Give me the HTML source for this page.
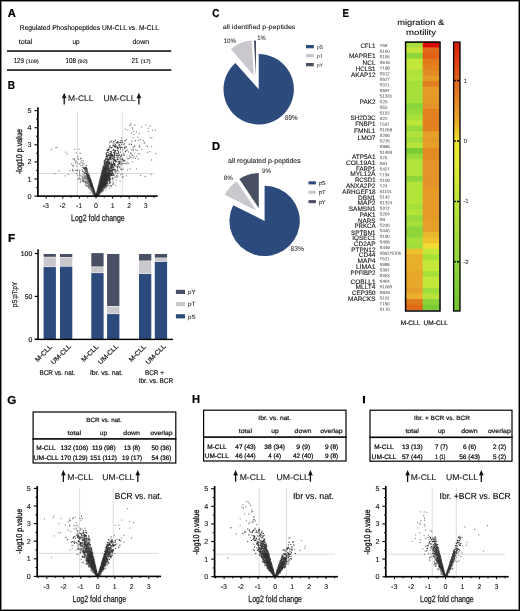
<!DOCTYPE html>
<html><head><meta charset="utf-8"><style>
html,body{margin:0;padding:0;background:#fff;}
body{width:520px;height:611px;overflow:hidden;}
svg{display:block;font-family:"Liberation Sans", sans-serif;will-change:transform;text-rendering:geometricPrecision;}
text{stroke-width:0.22px;}
</style></head><body>
<svg width="520" height="611" viewBox="0 0 520 611">
<rect width="520" height="611" fill="#fff"/>
<rect x="0.5" y="0.5" width="519" height="610" fill="none" stroke="#000" stroke-width="1"/>
<rect x="1.5" y="1.5" width="517" height="608" fill="none" stroke="#8a8a8a" stroke-width="1"/>
<text x="7.7" y="17.1" font-size="11.5" font-weight="bold" textLength="8.1" lengthAdjust="spacingAndGlyphs" fill="#000" stroke="#000">A</text>
<text x="19.8" y="30" font-size="7" textLength="139.2" lengthAdjust="spacingAndGlyphs" stroke="#111" style="stroke-width:0.1px">Regulated Phoshopeptides UM-CLL vs. M-CLL</text>
<text x="18.8" y="43.9" font-size="7" textLength="13.5" lengthAdjust="spacingAndGlyphs" stroke="#111" style="stroke-width:0.1px">total</text>
<text x="72.5" y="43.9" font-size="7" textLength="7.2" lengthAdjust="spacingAndGlyphs" stroke="#111" style="stroke-width:0.1px">up</text>
<text x="132.5" y="43.9" font-size="7" textLength="16.6" lengthAdjust="spacingAndGlyphs" stroke="#111" style="stroke-width:0.1px">down</text>
<rect x="7" y="50.2" width="164.3" height="1.7" fill="#222"/>
<text x="13.7" y="63.2" font-size="7.2" textLength="10.3" lengthAdjust="spacingAndGlyphs" stroke="#111" style="stroke-width:0.1px">129</text>
<text x="25.8" y="63.2" font-size="5" textLength="12.9" lengthAdjust="spacingAndGlyphs" stroke="#111" style="stroke-width:0.1px">(109)</text>
<text x="65.6" y="63.2" font-size="7.2" textLength="10.4" lengthAdjust="spacingAndGlyphs" stroke="#111" style="stroke-width:0.1px">108</text>
<text x="77.7" y="63.2" font-size="5" textLength="10" lengthAdjust="spacingAndGlyphs" stroke="#111" style="stroke-width:0.1px">(92)</text>
<text x="131.5" y="63.2" font-size="7.2" textLength="7" lengthAdjust="spacingAndGlyphs" stroke="#111" style="stroke-width:0.1px">21</text>
<text x="140.8" y="63.2" font-size="5" textLength="9.8" lengthAdjust="spacingAndGlyphs" stroke="#111" style="stroke-width:0.1px">(17)</text>
<rect x="7" y="69.2" width="164.3" height="1.7" fill="#222"/>
<text x="7.7" y="89.2" font-size="11.5" font-weight="bold" textLength="7.3" lengthAdjust="spacingAndGlyphs" fill="#000" stroke="#000">B</text>
<line x1="77.5" y1="111" x2="77.5" y2="196.1" stroke="#cfcfcf" stroke-width="0.7"/>
<line x1="122.3" y1="111" x2="122.3" y2="196.1" stroke="#cfcfcf" stroke-width="0.7"/>
<line x1="38.9" y1="173.5" x2="154.4" y2="173.5" stroke="#cfcfcf" stroke-width="0.7"/>
<path d="M108.1 174.8h0M98.7 191.4h0M98.8 191.7h0M102.5 177.5h0M99.6 186.8h0M97.6 194.5h0M97.3 195.2h0M104.0 179.8h0M99.6 186.6h0M97.8 193.2h0M102.0 189.2h0M99.7 192.3h0M101.4 184.3h0M99.5 186.0h0M107.3 175.9h0M98.6 194.6h0M105.8 185.2h0M99.8 191.2h0M102.3 191.5h0M110.5 185.4h0M127.3 162.1h0M97.7 191.8h0M147.5 152.2h0M118.9 142.0h0M99.0 190.6h0M125.2 148.1h0M115.5 166.4h0M99.7 188.4h0M141.8 149.6h0M100.8 192.4h0M104.8 181.6h0M102.6 186.1h0M106.9 186.2h0M121.9 159.6h0M117.8 176.8h0M99.0 191.4h0M104.5 168.3h0M98.2 194.1h0M106.2 170.6h0M106.2 181.0h0M99.0 190.7h0M119.8 167.4h0M101.3 182.5h0M115.0 177.1h0M97.2 193.2h0M99.8 192.5h0M117.3 153.7h0M100.6 188.0h0M104.2 181.5h0M101.0 190.6h0M103.7 180.4h0M118.8 171.6h0M116.6 142.6h0M103.3 186.7h0M101.7 190.3h0M105.6 185.3h0M121.7 160.8h0M112.1 170.1h0M103.0 177.0h0M100.8 189.0h0M105.9 189.8h0M116.1 171.9h0M96.5 194.9h0M100.0 189.1h0M102.8 186.0h0M99.1 188.1h0M111.2 185.7h0M127.6 150.2h0M108.0 165.4h0M100.3 192.2h0M105.2 174.8h0M104.1 175.4h0M97.7 194.7h0M97.8 194.9h0M97.9 192.9h0M97.5 194.5h0M118.5 164.0h0M96.9 194.8h0M102.5 189.2h0M106.2 177.2h0M105.5 176.4h0M110.6 164.9h0M104.6 177.9h0M98.2 192.3h0M100.7 184.0h0M100.0 186.6h0M107.8 180.9h0M105.4 182.1h0M121.3 137.9h0M139.8 153.6h0M97.3 193.4h0M98.0 193.7h0M105.5 186.9h0M103.0 186.5h0M98.5 187.8h0M99.6 191.0h0M110.4 176.3h0M100.2 192.5h0M107.7 181.0h0M101.6 184.5h0M107.0 186.5h0M99.6 190.3h0M129.1 143.9h0M100.0 185.1h0M99.1 189.4h0M103.1 180.5h0M113.1 174.9h0M111.0 178.8h0M110.6 165.0h0M105.9 167.4h0M149.8 151.7h0M104.3 188.5h0M97.2 193.0h0M96.5 195.5h0M107.1 186.6h0M102.6 184.0h0M100.3 185.5h0M113.5 175.1h0M98.4 189.8h0M100.7 193.0h0M108.1 163.9h0M105.5 185.7h0M113.2 179.7h0M100.3 189.6h0M109.4 176.4h0M101.8 190.0h0M100.3 187.7h0M104.1 172.6h0M115.6 185.6h0M98.0 194.3h0M98.3 193.8h0M101.6 179.6h0M100.0 189.4h0M107.0 184.4h0M98.1 193.5h0M104.6 176.2h0M97.9 193.8h0M105.4 168.8h0M103.8 172.7h0M114.9 154.0h0M102.5 185.6h0M111.4 159.1h0M113.4 164.8h0M114.9 177.2h0M121.1 168.9h0M101.0 190.2h0M97.9 194.8h0M101.3 181.4h0M113.3 182.1h0M98.6 192.9h0M100.5 188.0h0M102.4 182.7h0M106.0 183.3h0M102.1 188.8h0M101.4 188.9h0M108.8 179.7h0M103.3 179.0h0M106.0 183.4h0M100.1 191.6h0M101.3 187.5h0M101.5 179.1h0M115.4 172.1h0M118.2 147.3h0M99.1 190.8h0M101.6 189.4h0M103.3 174.9h0M98.1 192.2h0M127.9 158.9h0M101.6 190.9h0M101.5 188.9h0M113.5 155.2h0M106.8 182.6h0M103.7 176.1h0M105.0 182.1h0M99.0 191.8h0M98.6 192.5h0M106.2 179.7h0M97.7 194.1h0M100.1 189.6h0M109.4 166.8h0M114.5 165.8h0M111.2 164.6h0M134.1 156.7h0M123.5 169.2h0M112.1 171.2h0M98.8 193.1h0M103.3 183.4h0M97.9 194.7h0M97.5 193.3h0M117.4 159.5h0M123.5 153.3h0M123.3 176.5h0M106.6 175.9h0M99.3 194.2h0M114.8 169.5h0M97.7 194.8h0M104.3 178.6h0M104.8 185.0h0M108.2 178.7h0M98.1 194.5h0M105.4 175.6h0M126.9 163.7h0M99.1 191.5h0M98.8 191.8h0M120.8 169.5h0M102.6 188.7h0M108.5 180.7h0M138.5 140.4h0M102.6 190.8h0M98.0 194.0h0M97.4 195.2h0M100.3 186.6h0M104.6 179.9h0M112.9 181.8h0M112.8 179.7h0M101.0 185.8h0M101.9 182.2h0M105.9 180.3h0M109.7 177.9h0M100.8 188.0h0M115.3 160.1h0M106.1 183.1h0M102.2 187.4h0M109.7 183.5h0M106.2 177.8h0M122.0 169.1h0M107.1 184.6h0M102.9 182.7h0M97.0 195.0h0M99.7 191.7h0M99.4 190.2h0M103.1 191.1h0M105.9 173.4h0M135.4 158.4h0M106.5 182.4h0M104.5 186.3h0M98.8 191.4h0M122.5 159.4h0M113.9 174.7h0M99.0 188.5h0M97.4 194.2h0M119.9 166.5h0M105.0 184.0h0M97.7 192.1h0M109.5 160.1h0M97.4 193.3h0M100.7 189.7h0M98.8 187.5h0M97.4 194.5h0M99.2 192.8h0M100.4 187.4h0M98.4 192.2h0M98.0 191.2h0M98.7 187.7h0M140.3 139.5h0M99.5 192.4h0M96.8 194.7h0M112.0 164.7h0M98.8 193.4h0M96.6 195.4h0M99.4 188.0h0M105.4 183.0h0M111.8 156.0h0M106.3 178.3h0M106.0 182.5h0M128.8 163.4h0M108.0 162.7h0M100.5 191.8h0M118.1 173.5h0M101.0 190.0h0M103.8 189.3h0M102.6 182.9h0M113.1 183.6h0M136.7 168.8h0M98.0 193.3h0M101.4 189.5h0M122.3 161.3h0M99.1 192.4h0M100.2 189.1h0M139.8 147.5h0M101.3 184.3h0M111.5 186.6h0M96.6 195.0h0M99.1 192.2h0M99.1 192.2h0M97.6 192.7h0M113.6 175.1h0M100.7 187.4h0M104.7 173.1h0M103.2 188.0h0M111.8 165.2h0M120.4 174.8h0M98.0 193.3h0M100.5 193.0h0M118.7 159.5h0M123.2 163.5h0M99.4 190.2h0M124.5 163.6h0M97.3 193.4h0M112.2 177.7h0M120.4 151.8h0M102.5 181.7h0M109.0 174.3h0M151.6 160.0h0M108.3 159.3h0M99.1 193.0h0M97.0 194.3h0M98.9 191.9h0M117.5 175.8h0M97.9 193.3h0M99.4 190.9h0M109.7 172.8h0M101.5 189.6h0M99.4 193.3h0M110.7 170.4h0M109.0 172.4h0M122.7 149.9h0M101.5 185.1h0M112.8 170.0h0M108.6 180.7h0M125.0 161.6h0M103.2 178.7h0M102.3 186.6h0M100.7 190.1h0M100.3 191.1h0M97.7 192.0h0M98.3 195.1h0M146.7 145.9h0M108.0 181.7h0M133.0 147.0h0M99.0 192.2h0M120.0 167.8h0M96.8 194.6h0M104.6 182.9h0M106.7 185.3h0M111.2 161.0h0M109.0 176.8h0M99.1 188.0h0M109.6 178.1h0M109.1 172.4h0M101.2 190.8h0M102.0 178.9h0M110.8 171.2h0M99.2 193.8h0M129.4 144.6h0M101.3 180.9h0M109.3 162.3h0M102.9 182.5h0M99.3 192.3h0M99.6 194.5h0M98.5 193.0h0M107.2 160.9h0M104.2 171.0h0M117.4 147.3h0M106.9 183.4h0M97.5 194.9h0M97.0 194.3h0M101.5 186.4h0M99.8 193.1h0M106.0 179.2h0M100.8 191.2h0M98.4 194.1h0M151.8 138.0h0M97.0 193.5h0M100.2 187.2h0M119.3 167.2h0M97.5 193.4h0M98.4 192.3h0M110.4 185.8h0M107.4 182.5h0M109.5 176.4h0M119.8 166.8h0M109.5 182.7h0M100.2 191.4h0M109.7 187.9h0M101.0 185.7h0M110.6 181.9h0M103.8 180.8h0M107.1 168.0h0M106.4 187.0h0M102.9 180.8h0M97.0 193.3h0M107.0 181.4h0M102.1 182.3h0M107.3 181.1h0M138.2 154.0h0M96.5 195.0h0M98.5 192.3h0M98.1 193.1h0M100.5 189.9h0M127.4 169.9h0M106.1 179.7h0M112.1 165.3h0M97.7 191.8h0M99.5 192.7h0M102.6 185.4h0M107.3 180.9h0M106.1 181.5h0M107.4 185.4h0M109.8 163.6h0M101.9 190.0h0M102.1 188.4h0M117.2 161.6h0M112.7 184.7h0M99.5 187.7h0M116.9 153.1h0M111.0 173.7h0M99.0 194.1h0M106.0 185.1h0M98.7 192.5h0M98.0 194.0h0M96.9 195.4h0M108.2 175.9h0M104.3 179.5h0M112.3 165.0h0M109.9 180.2h0M100.0 187.8h0M116.7 160.8h0M113.6 142.0h0M105.1 166.1h0M101.5 183.9h0M102.7 187.5h0M110.2 182.7h0M105.5 185.7h0M101.4 187.3h0M96.4 195.2h0M103.5 190.0h0M98.5 192.3h0M105.3 185.9h0M98.0 193.2h0M108.6 178.3h0M114.6 163.9h0M97.9 194.8h0M98.7 191.4h0M101.3 184.6h0M96.8 194.9h0M125.7 146.3h0M96.8 195.3h0M133.1 158.0h0M108.8 170.4h0M98.6 187.9h0M126.7 175.8h0M121.3 169.8h0M101.1 181.0h0M98.7 191.7h0M130.9 153.7h0M105.1 178.8h0M101.4 181.2h0M106.4 175.8h0M99.0 192.9h0M96.7 194.1h0M117.4 173.6h0M101.7 190.3h0M101.7 188.0h0M103.5 186.1h0M100.6 189.3h0M103.9 181.7h0M103.7 186.5h0M101.6 187.5h0M115.4 173.2h0M105.7 180.2h0M98.4 191.8h0M97.9 193.1h0M105.0 167.6h0M109.3 171.2h0M100.2 191.1h0M147.7 146.4h0M110.0 164.2h0M98.3 191.5h0M97.1 193.6h0M99.4 190.1h0M100.2 183.9h0M104.8 173.9h0M109.5 158.3h0M143.3 140.5h0M100.2 192.0h0M103.4 174.7h0M103.1 181.5h0M113.2 161.5h0M105.2 175.6h0M144.3 143.6h0M97.1 195.1h0M100.9 186.5h0M108.4 176.0h0M106.3 181.1h0M106.4 167.8h0M98.6 193.0h0M97.6 194.7h0M108.2 175.9h0M107.7 180.0h0M105.8 176.4h0M101.7 190.6h0M104.9 180.6h0M107.6 183.7h0M122.0 173.4h0M102.3 184.9h0M102.8 183.4h0M99.2 187.0h0M99.0 192.3h0M123.9 159.6h0M106.0 165.7h0M100.1 183.7h0M98.3 194.7h0M98.5 192.5h0M107.1 175.7h0M103.7 189.0h0M99.5 188.0h0M102.6 184.5h0M97.9 194.2h0M103.7 189.3h0M97.0 195.1h0M97.3 195.1h0M103.1 176.1h0M120.6 156.6h0M100.0 192.0h0M99.2 191.4h0M102.9 185.0h0M100.0 191.4h0M129.4 144.5h0M99.6 190.0h0M131.9 155.1h0M117.6 169.1h0M114.4 174.8h0M99.3 190.0h0M104.8 180.8h0M120.1 181.1h0M136.8 156.2h0M112.7 172.7h0M107.6 179.1h0M106.6 174.5h0M129.9 169.0h0M103.3 189.4h0M105.5 171.7h0M98.7 193.2h0M98.5 192.4h0M108.9 174.4h0M97.9 194.6h0M111.1 153.1h0M99.8 188.4h0M102.5 190.4h0M101.1 192.5h0M106.0 187.8h0M112.6 173.4h0M110.6 171.2h0M98.4 194.5h0M99.5 189.8h0M103.4 174.9h0M102.3 177.3h0M108.9 185.5h0M111.1 175.7h0M105.0 180.4h0M109.7 180.3h0M100.5 192.1h0M97.7 191.8h0M108.7 171.6h0M105.4 174.5h0M100.4 191.3h0M98.5 193.5h0M98.4 193.3h0M98.0 192.8h0M118.0 148.9h0M101.7 181.5h0M97.8 191.2h0M117.5 141.7h0M118.7 145.2h0M101.5 185.2h0M107.0 181.2h0M97.8 195.3h0M102.0 186.4h0M98.9 191.7h0M102.3 177.1h0M99.4 193.4h0M112.7 169.5h0M97.1 194.8h0M114.4 164.8h0M122.2 174.0h0M107.2 178.3h0M108.5 176.4h0M97.9 194.6h0M103.4 186.6h0M100.8 190.2h0M99.6 192.6h0M120.0 158.1h0M118.7 154.9h0M97.5 193.2h0M111.9 175.4h0M98.6 188.6h0M110.3 174.3h0M99.5 187.3h0M115.3 164.1h0M103.7 185.2h0M104.6 187.6h0M110.5 167.7h0M107.7 177.4h0M120.3 152.6h0M105.9 184.4h0M103.1 180.7h0M101.4 185.9h0M108.2 183.7h0M101.1 191.6h0M103.4 175.8h0M99.7 192.3h0M151.6 146.7h0M97.5 195.1h0M104.1 177.3h0M138.2 159.0h0M99.1 191.6h0M98.6 191.5h0M102.1 183.1h0M101.3 190.4h0M100.0 190.9h0M100.2 190.9h0M99.4 188.2h0M98.0 190.0h0M103.8 182.7h0M102.3 187.0h0M99.6 192.5h0M101.9 185.1h0M102.5 187.2h0M113.6 184.0h0M104.1 186.6h0M99.3 190.1h0M97.6 194.0h0M101.2 192.3h0M102.8 185.2h0M101.0 189.9h0M98.2 192.5h0M100.2 191.9h0M104.7 184.9h0M155.7 153.4h0M97.1 193.1h0M96.5 195.2h0M101.9 191.8h0M100.5 191.5h0M116.6 175.7h0M132.3 161.8h0M101.3 182.6h0M106.0 178.4h0M103.1 189.7h0M116.2 171.4h0M125.4 140.7h0M97.8 190.9h0M99.8 189.9h0M100.9 188.2h0M97.2 193.8h0M98.6 193.3h0M99.0 192.0h0M105.6 186.0h0M97.2 193.5h0M106.4 169.0h0M102.2 189.2h0M99.4 187.0h0M97.5 195.4h0M105.8 186.0h0M122.2 177.4h0M120.8 159.4h0M98.5 193.4h0M97.6 194.4h0M108.3 179.3h0M106.0 178.9h0M104.0 186.9h0M96.8 195.4h0M103.0 180.7h0M107.5 183.7h0M97.1 194.8h0M104.5 187.8h0M105.0 179.6h0M97.1 194.1h0M96.5 194.3h0M104.9 187.7h0M102.1 191.2h0M130.9 152.6h0M104.4 169.1h0M103.5 188.1h0M102.9 186.1h0M116.2 180.1h0M113.9 143.4h0M117.7 153.4h0M152.5 130.4h0M144.3 142.2h0M116.7 157.2h0M126.1 150.2h0M129.3 158.5h0M133.3 131.4h0M118.3 157.3h0M131.1 149.6h0M155.4 130.0h0M113.6 163.0h0M137.1 150.3h0M134.9 146.6h0M141.6 127.1h0M133.1 150.5h0M150.0 137.3h0M132.7 155.3h0M139.7 145.2h0M137.8 137.2h0M129.5 125.6h0M123.7 154.9h0M132.1 127.6h0M127.8 129.8h0M125.4 151.7h0M139.4 133.3h0M150.2 126.0h0M127.7 150.1h0M135.8 149.9h0M118.2 153.9h0M118.1 156.5h0M148.3 128.2h0M121.4 156.5h0M130.6 157.4h0M125.8 163.7h0M134.7 153.1h0M120.3 164.6h0M124.3 140.8h0M131.1 156.8h0M134.7 125.0h0M128.4 152.0h0M118.8 153.9h0M131.0 124.9h0M133.0 137.7h0M139.1 146.0h0M148.4 131.6h0M121.8 165.0h0M125.3 129.1h0M126.7 157.3h0M145.8 124.8h0M130.7 123.7h0M129.6 155.8h0M132.6 129.0h0M131.8 141.0h0M136.4 132.0h0M130.6 153.2h0M133.8 134.3h0M131.4 133.3h0M123.3 144.4h0M93.6 191.1h0M93.3 191.6h0M88.9 187.6h0M94.0 191.9h0M84.9 170.2h0M82.3 167.6h0M94.4 195.0h0M95.4 195.0h0M93.6 193.2h0M80.9 161.9h0M95.5 195.3h0M91.2 188.8h0M94.3 195.0h0M79.0 149.2h0M92.7 191.0h0M94.3 192.1h0M69.9 170.7h0M93.1 190.4h0M95.2 194.7h0M85.9 177.0h0M91.9 188.2h0M91.4 189.0h0M83.5 180.7h0M88.8 182.0h0M89.4 183.2h0M93.1 194.1h0M88.4 185.2h0M89.1 183.4h0M92.6 193.2h0M82.4 171.5h0M89.1 185.5h0M87.6 177.8h0M94.0 193.4h0M77.9 156.4h0M92.9 188.2h0M92.8 190.4h0M93.7 193.7h0M89.7 187.6h0M86.3 178.9h0M73.6 166.0h0M92.0 188.7h0M80.9 161.9h0M94.5 195.4h0M95.2 195.5h0M80.3 180.9h0M93.5 191.8h0M90.7 185.0h0M88.9 188.0h0M89.1 184.4h0M92.2 187.9h0M90.0 185.3h0M90.8 187.9h0M95.3 194.6h0M88.4 186.8h0M80.3 159.1h0M89.6 182.8h0M91.9 188.3h0M94.6 193.1h0M94.3 192.9h0M91.4 189.7h0M90.3 186.5h0M92.4 188.5h0M92.5 192.3h0M76.3 170.7h0M87.1 186.2h0M93.3 191.3h0M74.3 158.7h0M91.1 189.6h0M82.4 163.0h0M92.2 191.8h0M84.5 179.8h0M88.5 182.1h0M93.0 188.8h0M95.2 194.1h0M85.9 177.2h0M93.3 192.6h0M85.0 181.1h0M89.7 185.9h0M86.0 178.8h0M94.9 194.6h0M82.5 165.3h0M89.0 181.8h0M91.5 189.2h0M87.2 183.1h0M88.6 184.5h0M92.5 191.0h0M87.6 181.8h0M77.2 170.0h0M75.2 170.2h0M92.3 192.2h0M89.3 186.5h0M92.2 192.5h0M93.4 192.6h0M89.6 181.0h0M87.2 177.9h0M72.6 165.5h0M94.1 195.0h0M88.4 182.3h0M93.6 192.8h0M95.2 194.9h0M93.6 191.2h0M86.0 176.7h0M72.6 169.4h0M93.0 191.7h0M92.2 189.9h0M85.0 177.0h0M87.3 173.7h0M91.1 185.2h0M93.2 189.9h0M90.6 188.4h0M82.4 177.7h0M91.3 186.7h0M78.9 178.4h0M92.6 192.5h0M93.0 192.5h0M94.5 193.9h0M92.5 192.3h0M87.6 183.9h0M84.2 176.1h0M88.9 187.3h0M93.7 193.2h0M90.2 189.0h0M94.8 194.7h0M95.4 195.1h0M91.7 188.7h0M95.1 194.3h0M90.8 189.1h0M94.5 194.4h0M94.8 195.1h0M93.3 190.7h0M80.0 175.8h0M95.0 195.3h0M92.2 190.3h0M94.5 194.6h0M91.7 190.3h0M87.7 183.7h0M83.3 180.0h0M73.2 171.2h0M87.9 179.2h0M86.3 173.9h0M92.2 190.3h0M86.2 178.9h0M94.4 193.0h0M93.2 192.5h0M92.8 194.2h0M85.7 183.8h0M80.5 179.1h0M92.5 187.0h0M95.0 195.0h0M86.5 174.6h0M93.7 194.9h0M83.7 177.9h0M94.4 193.7h0M94.1 192.7h0M92.3 191.1h0M90.2 180.5h0M91.3 185.9h0M91.5 189.8h0M86.0 181.0h0M86.0 181.7h0M95.7 195.5h0M79.9 178.5h0M83.3 160.9h0M88.7 183.6h0M95.1 194.4h0M91.0 186.8h0M87.1 178.1h0M79.4 172.1h0M84.0 163.9h0M76.6 166.2h0M93.9 195.0h0M94.9 194.8h0M85.6 178.5h0M87.2 185.9h0M91.1 187.3h0M92.0 189.4h0M86.9 178.8h0M83.0 178.2h0M94.1 193.1h0M91.4 187.4h0M80.1 153.5h0M92.9 192.2h0M94.6 195.3h0M89.0 179.7h0M89.4 182.2h0M90.9 189.7h0M92.1 188.5h0M91.3 185.1h0M93.0 192.4h0M92.7 189.8h0M92.5 191.5h0M94.4 194.1h0M87.7 181.3h0M76.0 162.7h0M85.3 184.2h0M85.3 182.8h0M93.2 188.8h0M82.8 180.7h0M80.2 153.2h0M91.3 185.9h0M94.8 195.2h0M93.4 193.5h0M79.8 174.7h0M88.1 177.1h0M91.0 185.9h0M92.3 190.8h0M95.1 194.6h0M94.8 194.6h0M80.7 158.1h0M89.9 188.2h0M94.5 193.6h0M93.5 193.6h0M80.0 163.7h0M94.2 193.8h0M79.7 170.3h0M89.9 184.3h0M92.0 189.2h0M90.5 185.9h0M95.4 195.2h0M77.4 163.1h0M86.8 173.2h0M93.3 192.3h0M91.2 185.9h0M93.2 192.9h0M93.9 193.0h0M93.0 192.8h0M90.0 186.3h0M86.0 182.9h0M89.3 179.5h0M94.5 194.2h0M90.4 186.2h0M94.9 194.2h0M84.1 175.4h0M87.5 179.6h0M75.6 161.8h0M92.5 191.3h0M95.2 195.4h0M94.1 193.6h0M94.4 195.4h0M92.4 190.2h0M90.1 192.8h0M92.9 191.4h0M93.6 193.0h0M89.9 181.9h0M94.6 193.8h0M95.2 194.4h0M93.3 189.4h0M94.3 194.9h0M93.9 191.0h0M93.1 189.6h0M94.8 194.2h0M94.3 195.3h0M88.9 185.5h0M91.2 187.8h0M85.3 175.9h0M90.8 185.6h0M92.3 191.4h0M94.1 193.7h0M90.9 189.6h0M94.1 193.9h0M92.8 193.4h0M90.1 184.8h0M90.8 187.6h0M85.7 181.6h0M92.0 189.0h0M90.8 186.7h0M91.1 185.6h0M91.8 190.5h0M87.7 182.8h0M83.3 171.3h0M92.6 190.6h0M65.8 152.2h0M95.0 194.8h0M93.5 192.5h0M94.5 193.3h0M94.3 195.0h0M84.3 176.5h0M93.8 194.3h0M92.7 193.2h0M92.5 190.8h0M91.7 184.4h0M93.6 191.4h0M92.3 188.2h0M94.0 194.5h0M89.4 184.9h0M88.6 187.6h0M93.5 191.3h0M88.1 175.3h0M84.4 175.8h0M86.2 177.5h0M93.3 192.9h0M91.8 191.3h0M85.6 172.8h0M77.7 175.6h0M79.4 170.7h0M93.8 194.9h0M90.5 186.6h0M94.1 195.3h0M82.3 176.3h0M94.3 193.4h0M92.4 188.1h0M86.5 177.1h0M84.4 168.9h0M85.3 177.2h0M91.7 187.3h0M82.3 181.6h0M87.1 181.3h0M92.8 188.7h0M92.9 191.6h0M90.8 186.0h0M67.2 154.0h0M90.8 187.1h0M93.0 191.7h0M90.8 189.1h0M90.1 185.6h0M89.0 184.9h0M90.7 188.7h0M94.7 195.2h0M91.3 191.0h0M92.8 191.2h0M87.5 183.1h0M94.9 194.8h0M89.5 179.9h0M93.9 194.0h0M84.7 181.5h0M88.9 186.4h0M93.2 190.9h0M92.5 190.0h0M76.1 160.9h0M90.7 184.0h0M93.7 192.4h0M90.6 187.9h0M76.2 152.8h0M90.5 189.9h0M95.1 195.4h0M88.3 178.0h0M82.8 177.4h0M93.2 191.0h0M79.2 164.0h0M92.4 191.8h0M90.9 187.0h0M88.0 185.5h0M73.0 158.9h0M86.7 185.6h0M93.8 193.2h0M89.2 179.7h0M85.5 182.1h0M89.4 187.7h0M90.9 182.7h0M94.3 194.6h0M87.4 181.6h0M91.5 190.7h0M51.5 149.5h0M92.9 189.7h0M91.4 186.8h0M83.6 181.9h0M94.7 195.4h0M89.6 184.5h0M88.1 179.0h0M92.6 189.7h0M93.7 190.5h0M94.2 194.3h0M88.7 188.2h0M89.4 184.0h0M91.9 189.6h0M90.9 187.7h0M79.5 173.1h0M95.1 194.6h0M77.6 170.6h0M90.6 187.8h0M86.3 168.7h0M81.9 160.6h0M90.5 181.1h0M92.9 189.1h0M90.2 182.5h0M94.6 194.1h0M90.0 186.4h0M91.6 189.0h0M93.8 192.2h0M89.6 183.9h0M94.2 192.8h0M81.3 158.3h0M93.6 192.3h0M89.8 184.1h0M90.9 183.5h0M91.3 183.4h0M91.5 189.3h0M89.0 182.6h0M90.6 190.1h0M88.8 185.5h0M93.4 191.1h0M89.6 187.7h0M93.8 192.7h0M88.4 184.3h0M94.2 194.9h0M91.7 190.3h0M87.8 186.3h0M90.3 182.2h0M89.2 182.6h0M90.7 183.5h0M91.7 188.2h0M93.5 192.5h0M89.8 186.5h0M89.4 184.1h0M94.2 192.4h0M57.0 147.3h0M91.1 189.2h0M92.6 191.7h0M88.4 183.8h0M88.4 177.1h0M94.0 191.6h0M91.2 189.6h0M93.4 191.3h0M92.9 192.6h0M91.8 188.8h0M78.5 159.4h0M80.4 182.4h0M88.6 179.9h0M82.7 167.3h0M90.0 185.7h0M91.7 185.8h0M90.8 187.2h0M85.9 183.9h0M82.4 170.0h0M82.3 180.0h0M87.8 175.1h0M87.4 183.2h0M91.5 189.7h0M93.6 191.5h0M90.4 184.2h0M90.7 185.5h0M95.1 195.3h0M94.3 194.4h0M94.0 193.5h0M93.4 193.1h0M74.4 160.0h0M91.1 184.4h0M94.1 191.7h0M95.1 194.9h0M91.3 186.3h0M92.8 190.1h0M93.3 192.2h0M94.9 194.5h0M87.0 179.8h0M91.4 187.3h0M79.7 175.9h0M86.9 179.7h0M83.3 174.2h0M80.9 165.4h0M93.4 191.2h0M88.7 182.2h0M94.7 194.2h0M95.0 193.9h0M91.4 189.9h0M89.9 186.4h0M76.3 173.6h0M72.5 170.2h0M89.6 183.7h0M91.6 189.3h0M87.7 181.5h0M94.2 193.2h0M91.0 188.1h0M89.1 185.3h0M89.5 188.1h0M91.5 185.6h0M94.7 194.0h0M84.1 178.7h0M93.1 193.1h0M85.6 185.9h0M78.3 179.4h0M79.1 177.8h0M94.1 194.0h0M89.8 183.9h0M84.8 178.4h0M71.5 163.8h0M93.6 193.6h0M87.4 176.1h0M88.4 182.6h0M95.7 195.5h0M85.9 183.2h0M93.8 191.4h0M95.3 195.1h0M84.7 173.8h0M92.8 192.7h0M90.4 183.1h0M87.9 178.7h0M92.6 190.8h0M94.0 192.9h0M85.3 172.1h0M94.6 194.4h0M83.3 164.1h0M94.2 194.4h0M94.1 193.1h0M77.2 158.3h0M84.7 176.5h0M90.4 187.4h0M92.0 186.2h0M82.0 179.1h0M86.3 182.3h0M86.3 175.6h0M93.0 193.0h0M92.4 190.1h0M91.9 191.6h0M92.7 188.8h0M91.5 191.2h0M92.9 189.0h0M90.7 189.2h0M94.1 192.9h0M91.0 187.5h0M94.9 195.4h0M74.8 149.4h0M94.8 193.5h0M93.3 191.1h0M68.4 174.3h0M92.2 191.7h0M88.3 180.5h0M81.8 175.9h0M86.3 182.0h0M91.1 188.6h0M90.1 184.9h0M91.2 186.4h0M83.6 181.5h0M94.5 195.5h0M54.9 173.6h0M55.9 147.6h0M59.1 171.0h0M65.1 175.8h0M140.6 175.5h0M151.2 174.3h0M145.1 176.4h0" stroke="#555" stroke-width="1.3" stroke-linecap="round" stroke-opacity="0.75" fill="none"/>
<path d="M98.6 191.1h0M96.5 195.1h0M96.2 195.3h0M98.4 188.8h0M98.2 189.0h0M98.6 192.9h0M104.7 185.1h0M96.4 195.5h0M97.0 194.1h0M104.3 174.4h0M102.0 183.0h0M96.4 195.3h0M102.2 181.5h0M100.8 184.8h0M102.1 175.8h0M103.8 185.1h0M103.4 179.3h0M97.2 194.5h0M96.6 194.0h0M100.1 182.0h0M106.4 169.4h0M101.5 184.5h0M107.4 172.6h0M104.2 182.1h0M104.9 182.7h0M98.4 191.8h0M97.2 194.5h0M96.8 194.3h0M108.2 169.8h0M102.1 185.9h0M103.4 170.5h0M100.4 190.4h0M96.9 194.0h0M97.9 192.7h0M97.9 192.2h0M100.8 190.2h0M104.4 181.1h0M106.4 181.6h0M106.6 176.7h0M98.1 189.7h0M100.1 183.2h0M97.3 193.1h0M96.3 195.4h0M96.4 194.7h0M105.0 169.5h0M97.6 192.4h0M98.0 194.4h0M98.7 188.1h0M96.7 194.7h0M101.9 173.5h0M110.0 157.4h0M101.2 186.1h0M119.4 146.9h0M97.4 192.2h0M108.0 177.1h0M98.2 191.0h0M122.7 142.3h0M101.6 174.2h0M98.6 186.7h0M103.3 181.0h0M124.8 160.6h0M97.8 190.3h0M97.4 193.3h0M107.4 166.5h0M99.7 182.5h0M104.3 182.2h0M102.7 178.3h0M105.3 176.1h0M115.4 150.4h0M105.8 158.5h0M97.5 194.4h0M107.0 175.0h0M114.0 145.7h0M98.7 185.9h0M114.5 150.7h0M119.4 161.3h0M102.4 173.7h0M97.6 191.7h0M97.4 192.2h0M108.3 165.2h0M101.1 184.9h0M112.7 164.1h0M100.6 186.6h0M97.7 193.5h0M97.5 193.7h0M100.1 185.7h0M98.8 185.7h0M98.7 185.6h0M106.1 177.1h0M104.4 177.8h0M102.2 183.9h0M103.8 181.0h0M100.9 187.8h0M106.9 169.3h0M103.1 185.6h0M97.0 194.2h0M96.4 195.1h0M101.5 181.9h0M97.1 193.9h0M97.9 194.1h0M97.6 192.9h0M101.8 187.5h0M97.3 193.8h0M97.9 190.8h0M104.7 179.7h0M99.3 188.7h0M100.0 183.6h0M117.4 142.2h0M96.4 194.7h0M101.0 176.7h0M100.5 189.1h0M98.7 192.3h0M99.0 185.3h0M96.6 195.3h0M96.7 195.1h0M109.4 175.4h0M96.6 195.2h0M100.2 190.8h0M98.0 192.1h0M97.3 192.6h0M96.5 195.4h0M97.4 191.4h0M99.2 187.2h0M102.4 179.2h0M98.8 187.8h0M106.7 174.2h0M106.6 173.0h0M102.7 181.2h0M103.8 173.2h0M97.9 189.4h0M97.3 194.3h0M97.2 192.3h0M107.5 172.5h0M97.3 191.9h0M99.2 188.2h0M99.5 192.2h0M99.4 185.9h0M97.2 191.3h0M99.2 189.9h0M96.7 193.2h0M97.9 192.2h0M97.8 192.7h0M104.2 178.3h0M106.8 169.0h0M120.8 142.5h0M104.9 182.9h0M110.6 167.6h0M105.2 174.7h0M100.5 187.1h0M111.1 173.6h0M100.5 181.4h0M96.9 194.7h0M102.4 183.4h0M101.6 187.5h0M105.2 178.4h0M104.2 182.3h0M97.6 192.4h0M102.2 179.3h0M118.0 148.4h0M99.8 187.7h0M99.7 183.8h0M97.0 194.1h0M97.3 191.4h0M96.7 195.3h0M101.1 181.0h0M100.6 186.8h0M96.7 194.5h0M109.4 147.1h0M100.7 188.2h0M98.2 188.4h0M107.9 158.8h0M97.7 194.1h0M97.0 194.3h0M104.1 168.2h0M104.3 166.9h0M97.9 191.5h0M97.2 191.2h0M101.4 178.3h0M108.4 162.6h0M98.0 191.7h0M100.7 184.7h0M97.4 192.0h0M104.9 173.0h0M97.4 192.4h0M98.3 193.4h0M106.3 168.4h0M112.1 164.7h0M105.8 179.8h0M98.3 188.4h0M99.4 191.8h0M96.8 194.4h0M98.2 191.6h0M97.6 192.2h0M99.7 185.6h0M97.5 193.8h0M99.6 187.3h0M98.7 188.4h0M96.5 194.9h0M97.3 192.6h0M102.9 168.1h0M99.2 189.2h0M98.3 190.8h0M115.1 152.1h0M100.5 183.4h0M97.3 192.0h0M101.2 188.5h0M103.7 169.6h0M103.2 180.2h0M101.3 184.8h0M111.4 162.6h0M106.9 150.1h0M97.3 193.9h0M107.1 159.7h0M105.7 177.5h0M107.7 163.7h0M96.9 194.3h0M100.7 180.7h0M100.3 186.6h0M96.9 192.9h0M99.9 191.5h0M102.0 182.8h0M97.7 192.7h0M100.0 180.5h0M99.4 187.3h0M98.5 192.3h0M97.5 192.8h0M98.3 189.1h0M101.5 175.6h0M97.3 193.2h0M101.8 174.1h0M104.0 177.8h0M98.8 187.3h0M100.3 189.2h0M96.9 194.1h0M109.2 149.2h0M96.9 195.3h0M106.0 168.5h0M106.7 161.7h0M104.3 160.9h0M101.8 182.1h0M97.3 190.9h0M99.1 191.9h0M96.7 194.4h0M98.9 190.4h0M99.6 188.8h0M98.3 190.1h0M97.7 190.3h0M99.1 189.3h0M104.7 163.7h0M106.0 166.8h0M111.1 155.5h0M101.2 179.9h0M99.7 183.2h0M98.9 192.7h0M110.6 156.6h0M101.6 188.9h0M97.4 193.5h0M102.6 173.9h0M97.9 191.0h0M103.3 176.5h0M100.3 178.2h0M134.3 145.8h0M97.4 192.2h0M99.0 187.2h0M98.0 192.7h0M100.1 181.7h0M104.2 182.1h0M98.1 191.6h0M101.2 178.9h0M98.4 192.5h0M100.1 185.0h0M99.2 187.0h0M100.6 182.5h0M100.1 187.8h0M109.3 164.6h0M97.6 194.5h0M101.0 184.9h0M106.5 170.3h0M102.5 176.8h0M100.3 184.5h0M98.1 190.2h0M98.2 192.3h0M97.3 193.2h0M100.8 181.6h0M97.3 193.2h0M96.6 195.3h0M99.2 185.9h0M97.0 193.8h0M98.6 191.8h0M98.2 191.3h0M102.0 189.2h0M98.6 190.3h0M98.2 193.2h0M98.7 189.0h0M106.2 168.6h0M111.9 165.2h0M98.2 190.2h0M99.3 191.8h0M97.0 194.6h0M108.1 152.4h0M114.3 159.3h0M96.5 195.4h0M112.9 166.0h0M96.8 193.9h0M99.7 189.5h0M97.1 193.5h0M99.1 186.7h0M97.8 192.5h0M102.5 184.4h0M98.6 191.4h0M98.9 189.0h0M100.2 188.7h0M98.9 187.5h0M103.3 176.7h0M98.8 187.9h0M99.4 188.9h0M101.2 186.9h0M96.9 195.0h0M100.7 186.9h0M98.2 190.0h0M111.3 171.2h0M106.9 174.5h0M102.6 187.4h0M97.6 193.8h0M96.9 195.2h0M97.0 193.9h0M105.1 174.4h0M105.3 163.7h0M98.4 187.1h0M98.0 193.5h0M101.2 181.5h0M105.1 176.4h0M103.4 183.1h0M103.1 185.7h0M96.8 194.7h0M98.1 189.7h0M101.8 185.1h0M99.5 188.6h0M96.4 195.5h0M103.1 183.0h0M99.3 182.1h0M101.3 188.8h0M97.0 194.3h0M96.7 194.7h0M100.2 184.9h0M100.5 183.6h0M104.6 160.7h0M97.2 194.8h0M103.6 176.6h0M98.4 190.6h0M105.2 160.6h0M111.4 166.1h0M97.7 189.4h0M106.2 176.7h0M108.2 159.8h0M102.8 184.1h0M103.2 174.6h0M99.4 191.5h0M100.7 176.5h0M102.1 172.2h0M102.9 178.7h0M96.4 194.7h0M97.7 190.9h0M102.9 172.2h0M102.6 185.8h0M99.0 186.6h0M111.0 153.1h0M106.6 178.6h0M98.2 191.0h0M98.0 192.6h0M105.3 181.0h0M99.9 188.0h0M110.7 171.1h0M99.4 185.3h0M104.9 183.6h0M96.7 194.1h0M106.5 162.2h0M101.1 183.2h0M96.5 195.2h0M106.3 174.3h0M97.1 195.2h0M109.4 159.1h0M97.2 194.6h0M107.7 174.7h0M99.4 183.3h0M96.5 194.8h0M97.4 191.2h0M97.7 192.3h0M99.7 190.2h0M100.2 187.1h0M104.8 177.1h0M99.9 186.2h0M96.5 194.9h0M120.6 147.2h0M98.6 187.4h0M100.8 187.3h0M97.7 192.2h0M97.4 193.0h0M96.5 194.6h0M103.8 176.2h0M101.1 183.4h0M98.1 189.7h0M107.0 168.0h0M98.0 192.2h0M98.4 190.0h0M101.0 188.2h0M102.8 178.2h0M99.0 191.0h0M99.5 182.2h0M98.5 188.7h0M97.4 194.4h0M97.3 192.6h0M101.0 180.5h0M96.8 193.9h0M99.5 186.6h0M97.7 193.4h0M96.5 194.7h0M100.1 189.9h0M102.4 179.2h0M100.8 183.1h0M99.0 189.8h0M103.0 176.0h0M100.6 183.3h0M102.8 184.2h0M111.7 165.5h0M102.9 178.4h0M105.0 179.7h0M103.3 180.7h0M101.7 182.9h0M101.7 183.4h0M102.5 176.5h0M97.9 192.4h0M102.8 183.6h0M109.1 162.0h0M104.7 176.8h0M120.4 149.0h0M97.5 193.9h0M100.7 186.7h0M99.3 186.1h0M101.2 183.0h0M98.7 189.3h0M104.4 181.3h0M96.8 194.4h0M96.5 195.4h0M101.5 180.7h0M97.6 192.8h0M99.6 186.5h0M97.8 189.7h0M103.2 176.9h0M99.2 188.0h0M114.8 153.5h0M103.8 174.2h0M97.6 191.6h0M108.3 173.1h0M97.6 192.1h0M97.7 189.0h0M100.6 179.7h0M98.2 191.5h0M100.8 183.1h0M105.6 162.2h0M109.2 173.5h0M97.2 194.2h0M99.3 182.4h0M97.1 194.1h0M99.4 190.6h0M106.2 176.0h0M100.1 184.1h0M106.4 167.3h0M97.3 193.3h0M108.1 178.7h0M98.8 185.7h0M96.6 194.2h0M99.5 188.0h0M102.2 187.3h0M101.4 185.5h0M100.9 190.1h0M96.8 195.1h0M115.8 161.7h0M102.7 186.9h0M98.2 190.8h0M101.3 187.8h0M97.5 193.1h0M99.6 185.7h0M106.6 173.5h0M99.6 192.0h0M100.2 182.5h0M98.0 191.2h0M99.3 183.2h0M103.7 179.7h0M96.2 195.4h0M97.6 193.4h0M101.6 182.3h0M102.1 184.0h0M104.3 180.8h0M97.4 193.0h0M102.6 177.7h0M103.7 182.4h0M104.0 176.3h0M98.0 191.5h0M100.8 188.9h0M96.2 195.4h0M97.0 194.5h0M104.7 163.9h0M100.8 189.8h0M119.9 145.4h0M96.6 194.7h0M96.5 194.0h0M106.5 181.3h0M96.5 194.9h0M100.5 179.1h0M103.1 177.0h0M104.9 179.3h0M108.2 180.3h0M98.4 192.3h0M105.1 174.3h0M104.4 179.3h0M99.9 187.6h0M102.3 185.1h0M96.9 194.1h0M101.6 182.8h0M99.0 189.8h0M104.2 176.4h0M96.6 195.3h0M105.2 173.6h0M115.2 147.5h0M99.5 191.4h0M98.6 190.0h0M105.0 167.1h0M101.5 184.8h0M106.5 170.2h0M105.2 171.7h0M105.2 164.7h0M99.1 185.8h0M103.0 178.3h0M100.5 184.1h0M97.3 193.1h0M102.7 176.0h0M101.6 175.0h0M103.3 185.0h0M101.2 186.6h0M97.0 193.4h0M103.0 180.6h0M98.4 189.5h0M97.2 194.7h0M97.1 193.9h0M98.8 186.7h0M109.8 170.3h0M97.4 192.2h0M107.1 158.5h0M106.1 153.7h0M96.9 193.2h0M96.7 195.4h0M101.9 188.2h0M96.6 195.2h0M96.7 194.5h0M103.1 185.4h0M102.4 181.9h0M98.3 193.9h0M97.4 192.9h0M100.0 190.5h0M110.7 172.8h0M107.0 180.2h0M96.8 195.4h0M107.8 160.1h0M98.9 184.6h0M97.4 191.1h0M98.9 187.7h0M96.5 194.1h0M100.2 179.9h0M108.0 162.4h0M104.7 170.3h0M101.5 188.5h0M106.0 172.4h0M98.2 190.8h0M100.4 183.4h0M96.6 195.4h0M96.9 194.1h0M98.5 189.3h0M103.3 172.6h0M100.5 187.4h0M96.5 194.5h0M105.2 167.2h0M98.5 187.8h0M98.8 193.2h0M109.1 162.9h0M113.2 167.0h0M97.2 191.6h0M102.5 175.0h0M98.1 193.5h0M97.2 192.9h0M97.2 193.6h0M97.0 193.3h0M101.1 184.1h0M97.8 193.1h0M104.0 174.7h0M96.6 195.2h0M106.6 179.7h0M99.1 190.9h0M102.5 187.4h0M99.2 187.8h0M97.2 193.5h0M97.4 193.8h0M101.0 186.8h0M104.2 174.4h0M104.6 180.2h0M97.1 195.3h0M100.6 187.3h0M104.4 186.2h0M97.0 192.9h0M97.0 192.4h0M96.6 194.8h0M98.7 186.6h0M102.6 170.0h0M96.9 194.4h0M97.9 191.9h0M97.5 194.2h0M97.4 194.1h0M97.8 193.8h0M100.2 189.8h0M102.9 186.5h0M102.4 176.9h0M100.7 190.9h0M108.8 175.2h0M108.2 172.0h0M112.1 155.5h0M98.9 189.1h0M100.6 186.4h0M99.3 187.1h0M111.3 151.3h0M101.9 183.2h0M111.6 168.4h0M97.5 192.1h0M101.4 186.1h0M97.8 192.4h0M107.1 157.5h0M102.5 182.7h0M112.7 156.0h0M99.0 188.0h0M96.8 194.4h0M98.1 189.4h0M97.0 194.9h0M102.7 184.0h0M97.2 193.2h0M100.6 185.9h0M97.4 191.3h0M100.6 186.9h0M97.8 192.6h0M97.9 191.8h0M101.4 177.1h0M104.2 169.8h0M99.9 189.8h0M97.3 194.6h0M102.3 178.9h0M98.5 190.5h0M105.0 171.8h0M100.9 178.9h0M99.1 187.8h0M114.2 164.5h0M100.8 187.3h0M99.0 189.2h0M101.3 184.1h0M98.4 188.2h0M99.0 189.7h0M98.3 191.1h0M99.4 187.2h0M98.3 191.5h0M104.0 184.9h0M98.9 191.1h0M108.7 155.2h0M105.5 165.1h0M104.1 185.4h0M116.1 177.1h0M101.5 186.8h0M99.1 189.8h0M99.3 190.6h0M100.2 186.5h0M99.5 189.5h0M109.5 168.9h0M102.6 188.7h0M99.6 190.7h0M98.0 193.7h0M103.8 173.7h0M107.9 167.3h0M106.0 168.0h0M98.3 191.7h0M97.4 193.4h0M104.9 184.2h0M102.1 183.1h0M103.6 176.2h0M99.7 184.8h0M99.7 187.3h0M109.8 182.8h0M99.7 185.1h0M96.7 193.9h0M96.9 194.7h0M108.7 173.9h0M96.6 195.3h0M97.7 191.1h0M96.7 193.7h0M108.8 166.1h0M98.3 188.4h0M117.6 167.7h0M98.9 188.7h0M99.2 191.3h0M99.8 191.5h0M99.6 187.3h0M97.9 189.8h0M98.3 191.4h0M101.0 175.9h0M99.5 190.4h0M97.6 191.7h0M100.2 186.3h0M96.9 195.2h0M97.5 190.6h0M97.1 191.8h0M100.5 182.1h0M102.2 180.4h0M105.7 173.0h0M102.7 172.9h0M97.8 190.5h0M112.4 155.3h0M98.8 187.1h0M96.8 194.3h0M108.6 166.6h0M97.4 192.5h0M107.7 169.7h0M99.4 186.1h0M98.8 189.9h0M97.6 191.3h0M97.1 193.6h0M102.8 182.2h0M98.5 190.3h0M96.5 195.2h0M96.7 194.4h0M100.1 189.5h0M104.7 168.6h0M98.5 191.9h0M101.5 182.1h0M100.2 182.3h0M106.7 172.0h0M98.1 193.5h0M100.3 179.1h0M97.4 191.5h0M97.7 191.3h0M109.5 172.6h0M98.3 192.3h0M99.7 190.6h0M100.9 176.9h0M103.2 171.4h0M98.4 192.5h0M98.0 193.1h0M96.7 194.9h0M101.9 178.4h0M96.7 194.9h0M109.1 162.0h0M105.6 173.4h0M96.6 195.4h0M99.2 186.9h0M106.9 177.7h0M101.7 175.1h0M115.2 151.4h0M97.7 192.4h0M98.3 189.3h0M97.1 194.2h0M97.3 192.6h0M99.4 188.5h0M97.6 191.5h0M101.3 185.5h0M98.7 185.9h0M102.5 182.0h0M101.5 177.5h0M97.6 191.7h0M96.4 195.3h0M101.3 180.6h0M98.3 191.1h0M96.6 193.7h0M106.1 178.3h0M113.0 145.8h0M99.3 187.5h0M103.6 186.1h0M104.7 182.8h0M99.4 182.5h0M97.3 194.2h0M102.7 172.6h0M103.6 183.1h0M97.4 193.7h0M101.4 178.7h0M103.6 173.7h0M101.9 185.8h0M97.9 192.6h0M101.4 183.4h0M110.9 165.9h0M99.3 187.2h0M102.3 184.9h0M98.2 193.8h0M96.7 194.9h0M96.7 193.4h0M107.9 172.5h0M98.6 189.0h0M100.0 186.8h0M99.9 188.7h0M106.2 166.0h0M99.4 188.6h0M97.3 193.3h0M101.9 188.2h0M117.2 170.4h0M99.4 183.7h0M101.7 181.6h0M101.4 185.2h0M100.3 182.7h0M106.6 168.4h0M100.8 181.5h0M102.5 182.2h0M99.7 189.2h0M98.4 189.6h0M105.7 167.8h0M102.1 170.7h0M98.7 186.4h0M99.3 185.7h0M96.9 194.6h0M96.4 195.0h0M99.5 188.7h0M100.0 180.0h0M106.0 179.7h0M100.0 189.7h0M98.9 185.5h0M103.6 176.9h0M99.3 190.1h0M97.6 193.0h0M99.7 189.0h0M115.1 169.7h0M107.6 169.9h0M97.9 190.7h0M105.1 173.7h0M106.2 179.0h0M98.9 185.9h0M106.7 162.8h0M98.0 193.3h0M99.1 184.9h0M96.6 194.6h0M99.8 185.7h0M99.8 190.0h0M100.4 186.2h0M113.0 158.0h0M97.5 194.0h0M103.8 175.4h0M103.6 174.2h0M100.5 187.8h0M99.3 189.7h0M96.5 195.1h0M104.5 167.3h0M97.2 193.7h0M100.6 185.1h0M97.5 192.0h0M98.1 192.2h0M107.9 155.8h0M99.8 185.6h0M105.0 177.0h0M98.4 190.3h0M111.0 169.7h0M97.8 191.5h0M99.7 187.0h0M99.2 185.8h0M99.7 190.8h0M99.1 187.7h0M97.2 192.7h0M99.2 188.5h0M97.1 193.7h0M97.7 191.4h0M115.0 160.6h0M100.2 184.9h0M101.1 185.0h0M108.8 177.0h0M96.7 195.2h0M97.0 192.0h0M97.1 193.8h0M97.3 192.9h0M101.7 184.3h0M97.7 193.3h0M103.4 184.3h0M104.2 169.4h0M98.0 193.4h0M101.0 183.0h0M97.7 191.0h0M98.4 189.4h0M96.3 195.3h0M101.0 183.5h0M99.2 184.4h0M126.2 139.9h0M100.8 179.6h0M97.5 193.9h0M96.7 194.9h0M101.0 186.2h0M101.7 182.4h0M100.9 178.8h0M101.2 177.6h0M105.3 177.1h0M99.4 191.9h0M96.9 194.3h0M100.0 182.4h0M96.9 192.8h0M99.4 187.2h0M107.7 160.1h0M97.4 193.6h0M97.5 193.8h0M97.8 192.5h0M102.5 183.1h0M100.3 188.2h0M96.5 194.6h0M104.5 182.8h0M96.5 195.3h0M113.6 163.8h0M97.0 192.8h0M98.1 188.8h0M102.7 177.8h0M97.2 193.0h0M105.3 170.6h0M101.9 178.2h0M99.8 190.9h0M97.2 193.8h0M101.4 188.4h0M97.4 193.1h0M102.6 176.7h0M107.0 170.5h0M102.1 179.0h0M102.2 181.4h0M107.4 163.9h0M116.0 146.2h0M101.3 176.0h0M98.7 187.1h0M97.5 194.7h0M97.7 191.2h0M99.6 187.5h0M96.9 193.6h0M102.0 178.9h0M100.2 190.5h0M98.9 190.6h0M103.3 168.6h0M96.7 193.6h0M98.7 185.7h0M102.3 181.2h0M101.7 185.9h0M103.8 169.5h0M100.3 191.2h0M98.8 189.8h0M96.5 194.1h0M100.8 184.1h0M100.5 184.0h0M98.0 193.3h0M101.9 176.4h0M102.3 180.9h0M101.7 185.9h0M104.5 186.9h0M98.1 192.7h0M98.1 190.0h0M101.1 186.5h0M98.5 191.1h0M97.4 192.9h0M114.5 165.4h0M99.8 186.6h0M97.1 194.1h0M102.3 186.6h0M98.1 192.6h0M100.5 188.2h0M104.1 167.3h0M99.3 189.9h0M96.8 194.4h0M97.2 194.7h0M99.1 186.7h0M99.8 189.6h0M101.0 188.4h0M104.4 177.9h0M98.4 190.2h0M98.4 190.2h0M96.8 195.3h0M97.5 192.0h0M108.0 173.1h0M104.0 171.0h0M104.3 175.9h0M101.1 180.1h0M100.5 182.7h0M100.7 189.9h0M97.7 193.4h0M98.3 190.1h0M96.6 195.2h0M103.0 186.5h0M105.9 178.0h0M101.5 188.1h0M101.0 189.2h0M99.8 188.7h0M105.8 173.8h0M99.9 189.5h0M99.5 185.7h0M96.5 194.5h0M102.9 174.3h0M101.5 178.1h0M100.7 181.4h0M96.6 195.4h0M103.5 184.9h0M105.8 169.7h0M104.7 186.7h0M97.3 192.0h0M97.9 192.3h0M98.8 186.9h0M98.8 191.4h0M102.2 171.2h0M96.4 195.4h0M100.4 188.1h0M97.9 190.3h0M105.8 163.8h0M98.3 191.3h0M99.6 185.4h0M103.2 175.7h0M105.5 175.3h0M120.1 161.1h0M96.6 195.3h0M96.3 195.5h0M102.0 184.5h0M99.7 185.5h0M100.9 181.7h0M97.1 193.1h0M104.5 164.0h0M97.3 194.8h0M98.5 189.2h0M104.8 165.8h0M96.3 195.4h0M102.7 172.9h0M100.4 184.9h0M97.0 194.0h0M107.7 172.5h0M110.1 145.9h0M98.3 190.0h0M100.8 186.0h0M105.4 179.4h0M96.6 194.5h0M121.9 163.2h0M99.1 186.5h0M109.7 178.3h0M96.9 194.8h0M99.9 184.4h0M97.3 194.2h0M104.1 172.2h0M99.2 190.7h0M96.6 195.4h0M97.1 192.5h0M101.3 176.2h0M101.2 185.6h0M105.1 176.2h0M102.2 182.8h0M99.0 190.5h0M97.8 193.8h0M99.1 190.9h0M98.6 187.7h0M108.1 169.0h0M100.5 186.3h0M97.2 193.8h0M98.1 190.2h0M97.2 193.2h0M115.0 169.8h0M107.4 176.0h0M97.0 192.8h0M97.9 192.2h0M100.1 186.7h0M96.5 195.0h0M100.1 184.5h0M96.6 195.3h0M124.6 143.9h0M101.1 181.0h0M112.0 174.8h0M98.7 189.4h0M101.1 179.1h0M98.0 190.7h0M98.5 192.9h0M106.2 176.0h0M107.1 176.7h0M100.8 183.1h0M102.3 172.1h0M101.2 179.9h0M114.4 152.8h0M97.6 194.2h0M104.1 165.9h0M105.4 175.3h0M104.1 173.7h0M98.4 191.5h0M122.4 158.7h0M101.4 176.2h0M97.4 192.7h0M98.6 192.6h0M100.6 181.3h0M102.9 176.5h0M108.8 159.6h0M97.1 194.9h0M99.5 190.8h0M106.2 175.9h0M99.3 189.1h0M97.8 190.9h0M105.1 172.2h0M96.8 194.9h0M99.9 188.6h0M96.5 194.5h0M103.1 173.9h0M110.0 155.5h0M113.8 167.8h0M101.2 189.7h0M99.5 187.0h0M105.1 173.3h0M98.5 188.3h0M98.9 190.5h0M107.7 170.7h0M113.4 162.2h0M96.7 195.1h0M114.8 155.5h0M101.9 183.3h0M102.9 181.6h0M97.8 190.3h0M104.6 173.0h0M98.5 188.5h0M100.0 179.4h0M99.7 191.1h0M108.4 167.6h0M101.1 185.1h0M102.4 178.5h0M102.1 177.7h0M100.0 189.1h0M103.3 175.1h0M110.1 153.8h0M98.0 191.9h0M102.8 173.7h0M97.4 194.2h0M96.8 193.8h0M98.1 191.3h0M101.2 189.9h0M97.9 193.4h0M97.3 193.3h0M96.7 194.6h0M98.6 189.9h0M97.5 193.2h0M108.0 172.8h0M98.7 191.3h0M100.7 188.0h0M101.1 178.2h0M109.5 164.1h0M99.9 183.3h0M98.4 190.5h0M98.0 192.5h0M102.4 178.1h0M104.3 175.0h0M103.5 182.8h0M100.4 181.0h0M105.1 159.9h0M98.3 189.7h0M97.4 193.5h0M101.1 186.7h0M96.6 194.3h0M100.7 189.3h0M102.4 182.0h0M99.9 185.2h0M102.2 176.2h0M99.8 181.8h0M112.2 166.8h0M108.0 174.0h0M97.1 194.3h0M99.1 183.9h0M100.0 184.2h0M96.9 193.0h0M105.4 181.6h0M97.6 190.4h0M101.7 172.7h0M100.7 183.4h0M96.5 195.3h0M110.0 175.0h0M96.9 194.6h0M98.4 190.8h0M97.1 192.9h0M104.3 172.6h0M98.8 187.1h0M100.0 183.3h0M99.6 189.5h0M99.3 192.8h0M105.2 175.2h0M122.1 141.1h0M97.2 194.3h0M103.0 180.3h0M97.2 193.4h0M97.1 193.3h0M99.1 188.7h0M97.2 193.3h0M105.6 180.6h0M117.5 158.1h0M102.3 179.8h0M99.5 183.3h0M98.4 193.8h0M97.8 191.4h0M99.6 190.5h0M98.6 188.3h0M97.0 194.0h0M105.9 165.0h0M103.0 174.0h0M100.2 185.5h0M98.8 192.4h0M109.8 180.2h0M98.2 188.7h0M102.6 174.7h0M100.1 190.0h0M102.0 176.3h0M105.1 167.9h0M99.4 191.1h0M99.0 187.6h0M97.7 192.5h0M96.6 194.7h0M97.6 193.2h0M100.2 183.1h0M96.3 195.2h0M100.5 187.9h0M100.6 180.1h0M101.5 181.0h0M105.3 165.4h0M97.4 192.6h0M98.7 189.7h0M99.1 183.2h0M96.9 194.8h0M106.7 161.9h0M116.0 161.9h0M97.1 192.2h0M109.8 178.0h0M102.8 180.2h0M96.8 193.8h0M109.0 176.3h0M108.3 174.0h0M99.2 184.5h0M96.4 195.4h0M100.0 189.6h0M100.1 188.2h0M97.1 193.1h0M117.3 148.0h0M97.0 194.8h0M106.2 171.9h0M97.3 191.5h0M103.6 184.1h0M103.2 181.0h0M100.2 188.3h0M103.8 182.7h0M108.8 175.7h0M105.5 179.9h0M112.5 171.8h0M97.3 193.6h0M100.0 180.4h0M97.7 190.6h0M100.3 188.6h0M105.9 161.6h0M100.9 178.2h0M98.8 189.3h0M107.7 168.2h0M102.5 177.2h0M102.9 175.8h0M104.5 173.7h0M101.0 190.2h0M97.4 193.8h0M100.6 186.2h0M111.2 164.7h0M96.6 194.9h0M108.6 165.7h0M102.1 180.0h0M99.2 188.7h0M100.4 178.5h0M98.3 192.3h0M97.7 193.1h0M103.1 182.9h0M99.8 184.4h0M96.3 195.3h0M97.9 190.3h0M101.2 187.4h0M97.2 192.0h0M96.7 194.7h0M105.0 181.1h0M96.7 194.8h0M111.3 173.2h0M98.1 192.8h0M99.4 181.9h0M97.0 193.4h0M103.5 182.3h0M96.9 193.5h0M121.5 144.1h0M98.8 185.3h0M116.6 153.8h0M96.8 194.2h0M98.0 190.3h0M97.3 192.4h0M97.8 190.0h0M97.1 193.3h0M98.6 190.3h0M110.8 170.0h0M101.6 172.9h0M99.4 188.7h0M101.4 180.2h0M98.8 187.7h0M98.3 188.7h0M100.6 190.4h0M100.1 185.7h0M107.9 178.6h0M108.9 154.0h0M110.9 159.2h0M97.0 193.7h0M97.1 195.0h0M98.1 188.2h0M98.5 188.4h0M100.4 182.2h0M116.2 142.9h0M99.0 186.2h0M99.8 184.2h0M108.6 175.2h0M110.8 171.1h0M97.2 193.5h0M107.3 166.4h0M97.1 193.4h0M115.0 160.1h0M102.7 187.8h0M100.9 187.4h0M97.2 193.0h0M99.3 188.3h0M98.2 191.1h0M102.5 181.9h0M96.5 193.8h0M99.3 184.1h0M99.0 185.5h0M98.9 192.6h0M97.2 194.0h0M99.4 184.9h0M97.7 192.7h0M101.3 188.4h0M105.1 182.2h0M98.0 192.1h0M96.3 195.4h0M113.7 152.4h0M101.1 186.4h0M100.8 182.5h0M97.8 192.5h0M111.3 175.4h0M98.2 193.4h0M100.6 185.3h0M97.3 192.3h0M98.7 186.6h0M103.5 178.8h0M99.5 181.8h0M99.7 187.8h0M103.2 182.7h0M101.5 176.3h0M108.4 155.5h0M111.6 154.3h0M104.1 179.1h0M102.7 177.4h0M96.8 193.0h0M97.0 194.2h0M97.1 195.1h0M101.5 185.1h0M98.9 188.7h0M99.8 190.2h0M106.6 172.9h0M102.0 180.4h0M101.6 177.5h0M109.6 174.0h0M105.8 169.4h0M97.0 192.0h0M96.6 193.7h0M97.4 192.7h0M115.4 140.2h0M108.7 161.1h0M98.3 190.9h0M98.9 189.2h0M96.4 195.4h0M97.0 194.9h0M97.8 192.2h0M98.1 190.7h0M106.3 162.2h0M97.0 194.0h0M101.2 179.9h0M106.4 175.3h0M97.5 193.4h0M101.1 176.0h0M101.0 182.1h0M97.0 193.4h0M99.4 183.2h0M100.3 189.0h0M98.4 191.7h0M100.6 183.9h0M97.8 191.3h0M97.2 193.9h0M104.8 173.6h0M102.5 175.8h0M104.9 179.7h0M96.7 194.9h0M97.7 194.0h0M98.3 188.2h0M100.1 187.0h0M106.3 179.9h0M96.8 194.7h0M98.5 187.6h0M97.4 192.9h0M100.5 180.1h0M101.8 188.5h0M101.6 183.7h0M99.3 183.1h0M113.2 145.2h0M99.2 188.1h0M96.8 195.2h0M99.4 188.7h0M96.4 194.8h0M97.3 191.7h0M96.6 194.7h0M99.1 186.4h0M97.0 193.7h0M98.1 190.8h0M113.0 150.4h0M107.3 178.8h0M100.5 187.9h0M98.7 191.7h0M101.9 179.1h0M119.5 155.4h0M97.5 190.8h0M99.0 188.0h0M103.5 171.4h0M101.7 178.6h0M99.6 189.1h0M102.9 185.1h0M104.8 184.1h0M99.0 191.0h0M97.8 192.1h0M97.9 190.5h0M97.6 192.8h0M103.2 183.1h0M98.5 192.5h0M100.7 179.4h0M97.6 192.4h0M106.3 172.6h0M98.0 190.8h0M108.7 172.3h0M97.3 194.2h0M100.1 181.6h0M108.6 169.9h0M98.2 190.8h0M103.6 169.9h0M97.6 192.4h0M96.8 195.2h0M97.4 193.3h0M104.9 175.3h0M101.9 183.3h0M103.8 166.6h0M104.9 169.5h0M100.5 184.7h0M101.8 187.6h0M100.4 182.1h0M99.5 190.3h0M96.5 194.4h0M102.8 184.6h0M99.6 188.9h0M102.6 174.1h0M97.4 192.9h0M99.1 192.9h0M100.0 188.8h0M106.2 162.0h0M97.5 191.0h0M101.9 185.9h0M98.9 194.1h0M99.1 185.5h0M114.9 165.2h0M111.5 170.1h0M97.6 193.1h0M117.1 166.7h0M100.8 186.9h0M97.5 194.1h0M98.8 189.0h0M98.2 192.0h0M98.1 188.0h0M98.2 190.8h0M97.2 192.6h0M98.0 193.6h0M97.9 193.2h0M102.2 178.4h0M98.7 192.0h0M96.4 195.4h0M97.0 194.9h0M102.0 181.6h0M101.8 183.0h0M100.7 177.4h0M97.4 193.8h0M97.7 191.5h0M96.6 195.0h0M99.4 187.1h0M99.8 188.7h0M110.4 158.9h0M99.8 184.6h0M97.2 195.1h0M98.8 189.5h0M98.1 190.5h0M97.2 194.0h0M99.9 190.5h0M98.8 189.5h0M100.9 185.7h0M110.4 157.9h0M104.1 171.6h0M104.4 181.6h0M99.7 185.9h0M97.3 194.5h0M101.4 187.3h0M100.3 190.6h0M101.8 183.0h0M99.8 189.8h0M97.8 192.2h0M99.0 190.3h0M98.4 192.0h0M96.6 193.9h0M97.9 193.3h0M96.6 194.1h0M97.6 192.2h0M112.0 165.2h0M118.7 163.4h0M99.2 188.8h0M103.9 171.0h0M102.8 169.6h0M111.0 147.8h0M97.1 194.4h0M100.4 183.3h0M97.6 193.5h0M125.7 151.3h0M98.9 188.8h0M99.5 192.7h0M100.9 180.4h0M97.4 194.0h0M96.5 195.3h0M103.8 185.1h0M100.5 184.3h0M117.2 159.3h0M99.6 185.5h0M97.5 189.9h0M102.5 175.3h0M104.4 181.9h0M101.6 189.4h0M109.3 162.2h0M98.5 190.0h0M103.4 175.9h0M102.4 181.2h0M97.4 192.2h0M106.5 171.1h0M119.4 163.2h0M104.9 178.0h0M101.6 185.2h0M98.4 189.0h0M103.5 176.9h0M96.9 194.6h0M100.7 179.5h0M102.3 182.7h0M101.5 179.7h0M99.0 191.9h0M113.6 159.3h0M100.6 185.2h0M99.3 188.3h0M109.4 157.7h0M104.4 178.4h0M96.4 195.4h0M104.3 178.8h0M98.0 190.0h0M102.9 171.6h0M100.9 188.1h0M105.6 179.3h0M97.8 193.5h0M96.9 194.5h0M99.3 190.8h0M98.5 187.9h0M106.9 164.8h0M103.7 183.9h0M104.8 183.3h0M101.3 188.6h0M104.7 175.1h0M98.4 192.7h0M111.0 154.2h0M102.9 181.3h0M97.2 193.7h0M98.6 187.4h0M99.1 185.7h0M97.1 193.8h0M110.9 154.9h0M101.2 184.9h0M98.7 185.9h0M97.3 193.2h0M105.9 183.4h0M105.5 181.3h0M104.9 183.2h0M102.5 181.9h0M97.9 191.5h0M108.2 149.8h0M99.6 185.8h0M97.1 194.5h0M109.5 181.3h0M99.5 181.6h0M96.9 195.5h0M97.3 191.3h0M99.6 189.2h0M104.7 173.8h0M96.9 193.6h0M106.5 161.6h0M101.5 186.8h0M97.9 189.4h0M103.9 173.3h0M100.6 178.5h0M99.8 190.3h0M100.1 183.6h0M103.4 179.5h0M103.2 166.6h0M97.3 193.9h0M104.2 175.4h0M101.1 185.1h0M99.2 186.0h0M98.4 189.1h0M97.3 192.5h0M96.6 194.9h0M97.5 190.9h0M101.5 181.9h0M100.8 187.1h0M96.9 193.5h0M98.9 190.9h0M98.7 189.0h0M104.6 160.7h0M98.8 191.4h0M101.7 180.4h0M101.9 182.7h0M96.4 195.3h0M96.9 194.7h0M100.1 186.9h0M98.2 188.8h0M107.9 166.2h0M97.9 189.6h0M102.6 181.2h0M97.4 192.1h0M98.5 189.5h0M97.3 193.9h0M111.0 163.7h0M99.5 187.5h0M98.9 187.3h0M108.1 161.3h0M96.7 194.1h0M101.3 181.3h0M124.3 148.1h0M104.2 175.4h0M96.7 195.4h0M98.0 190.6h0M102.4 180.1h0M98.5 188.7h0M103.9 179.5h0M97.4 193.9h0M97.1 194.5h0M107.6 169.5h0M107.0 165.4h0M102.5 184.7h0M110.3 158.2h0M100.2 186.7h0M99.3 190.1h0M97.3 192.9h0M101.0 187.1h0M97.1 193.5h0M103.1 177.2h0M99.0 186.8h0M99.6 186.9h0M98.9 189.5h0M98.4 187.6h0M99.0 188.4h0M97.9 190.4h0M97.4 193.1h0M101.6 182.5h0M99.8 180.9h0M100.9 190.4h0M101.8 186.6h0M101.7 175.2h0M97.0 194.6h0M99.3 187.5h0M99.7 187.5h0M106.0 171.9h0M100.2 189.1h0M97.1 193.5h0M108.0 163.4h0M106.6 171.6h0M97.0 193.4h0M96.9 194.5h0M98.6 189.6h0M98.4 190.9h0M97.6 193.4h0M99.5 184.0h0M105.5 171.3h0M100.8 184.8h0M100.2 184.3h0M97.3 193.0h0M98.0 190.3h0M111.0 141.0h0M97.7 192.5h0M97.5 192.1h0M121.0 140.4h0M98.1 192.8h0M106.8 172.4h0M103.9 175.5h0M112.8 178.2h0M96.5 194.9h0M99.0 190.2h0M97.8 191.7h0M115.3 144.7h0M101.3 187.4h0M97.4 193.1h0M98.7 190.9h0M99.6 191.8h0M99.2 190.2h0M99.5 186.4h0M104.9 172.2h0M111.8 155.8h0M97.4 193.8h0M99.0 188.5h0M109.3 176.1h0M97.5 190.1h0M98.0 192.9h0M103.2 181.7h0M97.5 193.3h0M100.3 180.9h0M96.8 194.2h0M99.6 187.0h0M97.1 194.3h0M97.1 194.2h0M101.8 186.0h0M99.4 185.2h0M109.6 173.4h0M101.0 190.3h0M102.7 174.0h0M105.4 184.0h0M108.1 150.2h0M106.8 172.1h0M102.9 186.7h0M99.5 188.7h0M99.4 186.3h0M103.7 166.8h0M97.7 190.8h0M100.3 183.5h0M98.2 191.7h0M118.4 165.9h0M98.4 188.7h0M109.0 162.6h0M98.7 192.8h0M102.5 185.8h0M97.0 194.1h0M103.6 176.3h0M108.9 155.9h0M101.9 173.3h0M97.9 189.6h0M112.9 156.6h0M101.6 187.2h0M103.0 178.6h0M97.8 193.1h0M102.7 182.3h0M97.2 194.0h0M98.6 187.0h0M104.5 179.7h0M96.8 194.8h0M100.1 187.7h0M96.8 193.0h0M101.6 175.5h0M101.4 185.8h0M96.7 194.4h0M104.4 170.6h0M108.2 174.4h0M106.8 156.9h0M98.5 189.3h0M97.5 192.9h0M97.1 194.0h0M97.5 193.4h0M101.0 188.7h0M99.7 186.2h0M97.4 191.4h0M100.3 185.2h0M100.7 187.7h0M102.4 181.0h0M106.4 179.2h0M106.6 169.9h0M96.4 195.0h0M98.3 187.5h0M100.5 188.2h0M102.0 179.6h0M102.9 180.8h0M98.0 193.1h0M99.2 189.3h0M99.9 191.3h0M100.4 186.9h0M103.1 177.3h0M98.0 193.6h0M99.0 189.4h0M99.2 188.2h0M99.2 185.6h0M100.8 190.2h0M104.4 172.3h0M98.0 191.5h0M97.7 193.2h0M102.7 182.3h0M98.2 191.1h0M96.8 194.3h0M103.1 176.0h0M107.3 174.9h0M96.3 195.2h0M101.6 179.6h0M99.1 189.7h0M96.8 194.4h0M114.6 152.3h0M97.5 192.8h0M100.9 182.8h0M100.7 178.0h0M98.0 193.2h0M98.0 192.0h0M101.2 189.0h0M97.7 192.6h0M98.8 191.5h0M96.4 195.3h0M97.2 191.5h0M98.8 190.1h0M96.5 195.0h0M101.3 186.7h0M97.9 189.2h0M110.2 172.6h0M96.7 194.8h0M99.7 184.4h0M96.7 195.3h0M101.0 179.7h0M97.2 193.5h0M99.5 184.8h0M104.1 182.9h0M98.3 187.3h0M101.5 187.0h0M100.3 190.1h0M99.0 192.0h0M105.9 159.3h0M102.7 184.0h0M101.0 182.7h0M96.5 195.0h0M97.5 192.3h0M98.2 188.1h0M102.4 182.2h0M99.6 182.7h0M97.3 193.4h0M99.8 189.0h0M102.7 178.8h0M100.2 185.3h0M120.1 157.8h0M98.8 188.1h0M102.9 178.7h0M104.6 173.1h0M104.6 176.2h0M98.8 190.2h0M103.4 172.2h0M96.9 193.9h0M97.9 190.8h0M101.6 179.9h0M98.0 191.0h0M97.1 192.1h0M97.9 188.8h0M102.0 170.7h0M106.9 154.7h0M100.6 184.9h0M98.0 191.8h0M111.9 168.2h0M105.9 180.8h0M96.9 193.9h0M98.9 189.6h0M99.7 185.2h0M103.4 184.4h0M101.8 185.4h0M98.6 190.2h0M104.7 180.4h0M104.7 182.2h0M100.8 188.5h0M98.7 191.2h0M101.5 174.9h0M105.3 167.5h0M101.2 187.4h0M98.9 188.5h0M97.0 193.7h0M96.3 195.1h0M102.5 187.7h0M99.7 189.3h0M99.1 184.8h0M100.6 187.4h0M99.8 187.1h0M96.8 193.2h0M96.7 194.8h0M106.8 172.9h0M107.8 172.8h0M102.4 183.7h0M98.9 190.1h0M97.0 194.7h0M101.8 184.4h0M112.4 169.8h0M96.6 195.5h0M98.9 191.9h0M103.3 167.2h0M98.6 190.0h0M101.0 183.8h0M120.1 162.3h0M99.1 185.4h0M100.8 188.2h0M115.1 151.7h0M103.7 183.2h0M112.5 158.4h0M112.7 169.3h0M97.4 192.6h0M104.6 180.5h0M100.1 191.0h0M103.8 176.7h0M99.9 186.8h0M104.1 175.2h0M101.3 177.0h0M99.2 192.1h0M97.1 193.8h0M99.2 185.9h0M97.7 191.0h0M97.9 191.5h0M96.9 194.4h0M97.4 194.1h0M98.2 193.0h0M98.3 192.8h0M108.8 173.7h0M106.5 177.1h0M120.2 142.4h0M108.5 163.6h0M102.4 181.3h0M97.4 192.0h0M97.6 194.2h0M97.7 192.5h0M97.1 194.4h0M98.0 191.4h0M108.5 177.2h0M97.1 193.9h0M103.7 168.9h0M105.7 178.2h0M96.8 195.0h0M108.1 169.6h0M103.0 176.2h0M98.8 186.4h0M98.0 189.9h0M101.1 178.9h0M98.3 191.8h0M101.7 187.7h0M114.8 160.1h0M102.4 170.7h0M96.9 194.7h0M98.3 193.9h0M101.2 187.7h0M105.2 167.5h0M100.2 183.1h0M101.0 182.3h0M98.2 191.7h0M117.5 164.9h0M99.0 187.8h0M113.9 163.5h0M98.0 189.3h0M104.2 172.0h0M103.8 173.5h0M99.1 188.0h0M101.2 175.5h0M109.7 147.1h0M100.9 189.2h0M110.5 158.9h0M96.9 194.6h0M106.0 184.9h0M98.9 189.3h0M97.4 193.7h0M100.0 186.1h0M98.4 191.2h0M115.0 146.4h0M96.5 195.4h0M103.3 176.5h0M105.9 176.7h0M99.1 186.3h0M100.8 182.0h0M106.5 163.9h0M96.7 195.2h0M97.7 192.8h0M97.7 191.9h0M97.6 193.5h0M98.5 188.4h0M107.1 175.0h0M98.5 189.7h0M113.5 149.4h0M101.4 183.0h0M96.9 192.7h0M100.3 188.6h0M100.9 179.8h0M101.9 180.5h0M97.8 190.6h0M106.0 174.4h0M135.2 140.9h0M101.8 177.3h0M108.1 176.4h0M101.5 187.5h0M96.8 192.9h0M98.2 192.3h0M103.8 183.1h0M100.8 181.9h0M99.2 184.4h0M97.5 191.3h0M97.9 190.6h0M96.8 193.7h0M101.4 178.3h0M97.6 192.4h0M107.4 168.5h0M102.3 178.3h0M99.2 192.3h0M98.2 193.3h0M97.4 193.0h0M96.7 194.5h0M100.8 185.0h0M99.3 186.5h0M99.5 190.7h0M100.7 185.5h0M97.2 194.3h0M97.2 194.8h0M99.6 186.3h0M98.9 187.3h0M106.8 183.5h0M96.8 193.4h0M97.5 192.0h0M100.6 186.5h0M97.2 194.8h0M97.1 194.4h0M99.6 188.0h0M98.9 189.6h0M111.5 152.6h0M99.5 186.0h0M103.6 171.9h0M104.8 184.3h0M97.0 194.7h0M97.9 191.2h0M109.7 178.3h0M98.3 189.9h0M103.4 174.6h0M104.9 171.0h0M133.1 149.1h0M96.9 195.0h0M105.1 184.2h0M100.7 188.7h0M99.2 192.0h0M97.5 192.1h0M100.8 178.8h0M107.8 166.9h0M97.7 194.3h0M97.1 194.7h0M105.9 179.2h0M99.2 187.4h0M98.7 186.9h0M106.7 169.3h0M98.1 192.6h0M101.1 185.3h0M99.7 186.9h0M96.5 194.4h0M119.1 163.6h0M100.9 180.8h0M97.4 191.5h0M102.2 185.7h0M97.6 193.7h0M103.3 175.2h0M97.9 193.1h0M104.8 178.6h0M103.0 186.8h0M101.8 182.7h0M98.6 187.4h0M97.0 194.3h0M99.3 188.8h0M98.9 189.7h0M108.4 150.3h0M103.3 179.7h0M100.2 184.6h0M97.9 191.8h0M96.8 195.3h0M97.4 192.6h0M105.5 175.7h0M97.9 192.7h0M108.0 171.1h0M112.0 142.1h0M97.4 194.1h0M96.8 195.2h0M101.9 187.9h0M102.2 183.8h0M98.4 189.1h0M102.1 179.3h0M98.4 190.7h0M98.3 188.7h0M104.9 179.8h0M111.2 157.2h0M97.0 194.6h0M99.5 183.1h0M96.7 194.4h0M99.3 191.4h0M98.7 186.8h0M97.3 192.0h0M99.0 192.2h0M96.8 193.8h0M97.4 193.0h0M104.5 177.8h0M98.7 189.6h0M98.9 189.0h0M124.5 147.3h0M97.7 189.9h0M109.2 168.3h0M99.1 188.2h0M97.5 193.6h0M102.0 186.0h0M99.0 188.8h0M97.5 193.1h0M97.5 191.0h0M98.5 191.9h0M104.4 176.2h0M100.0 182.5h0M97.0 193.8h0M106.0 174.0h0M98.3 192.5h0M100.9 190.7h0M97.3 192.3h0M103.8 182.5h0M97.7 191.6h0M107.9 175.1h0M100.2 181.4h0M96.4 194.9h0M100.1 183.9h0M99.0 188.8h0M97.4 193.8h0M100.6 186.9h0M96.7 194.6h0M100.9 186.9h0M103.5 179.4h0M98.5 191.2h0M103.4 176.6h0M102.9 171.7h0M100.8 181.2h0M97.0 193.9h0M96.9 194.3h0M97.1 194.4h0M102.3 185.8h0M97.3 194.9h0M111.2 170.5h0M99.4 186.3h0M96.5 194.5h0M105.3 169.4h0M101.5 186.2h0M104.2 175.7h0M98.8 191.2h0M102.0 180.9h0M97.1 194.0h0M103.6 174.7h0M99.0 186.9h0M98.1 190.5h0M102.8 170.7h0M98.4 190.3h0M101.6 175.4h0M96.8 193.3h0M107.2 174.8h0M101.0 186.2h0M96.5 194.9h0M97.2 194.2h0M105.6 175.0h0M96.3 195.4h0M104.0 176.7h0M103.7 177.2h0M103.3 166.5h0M99.6 187.7h0M102.5 176.5h0M107.0 179.2h0M99.2 190.3h0M101.0 188.4h0M98.5 186.4h0M104.9 166.9h0M105.0 171.8h0M101.6 180.1h0M100.7 182.7h0M96.6 195.1h0M97.3 192.2h0M108.3 165.4h0M99.0 188.6h0M100.5 190.6h0M100.7 179.5h0M96.7 194.4h0M100.8 189.1h0M107.0 155.2h0M99.8 186.5h0M100.3 185.5h0M102.8 179.1h0M99.5 187.9h0M97.9 193.5h0M104.8 171.5h0M97.2 193.6h0M109.6 142.6h0M98.7 190.5h0M96.8 194.6h0M106.3 165.4h0M97.4 193.6h0M107.4 173.7h0M109.2 179.2h0M98.0 194.7h0M100.0 186.3h0M100.9 185.6h0M120.0 161.3h0M97.0 192.3h0M98.9 189.2h0M98.4 190.2h0M100.8 180.3h0M114.3 163.7h0M97.7 190.6h0M109.2 175.5h0M118.2 151.2h0M99.8 192.0h0M104.1 179.3h0M100.7 189.4h0M96.8 193.3h0M99.5 186.2h0M108.2 163.4h0M99.2 189.3h0M97.1 194.3h0M104.7 170.7h0M98.8 190.3h0M99.2 192.6h0M97.9 193.1h0M96.8 194.6h0M114.0 141.3h0M99.2 187.8h0M103.0 180.6h0M97.6 193.5h0M98.6 188.4h0M102.3 178.5h0M97.3 194.3h0M100.9 187.9h0M100.5 184.0h0M101.9 188.1h0M99.5 185.7h0M99.4 183.3h0M103.0 181.1h0M115.7 160.3h0M103.9 170.3h0M118.2 143.0h0M98.5 187.8h0M104.2 162.0h0M96.5 195.2h0M97.4 193.2h0M114.4 154.8h0M99.2 186.1h0M104.1 168.7h0M98.9 191.5h0M96.7 194.6h0M100.5 186.6h0M114.4 163.9h0M100.3 180.7h0M105.2 173.3h0M98.1 191.3h0M100.4 186.4h0M100.9 190.6h0M103.3 166.2h0M99.9 189.2h0M103.7 174.8h0M96.6 194.4h0M105.0 172.4h0M97.2 192.7h0M100.5 191.1h0M98.6 189.2h0M103.1 184.9h0M107.0 162.5h0M101.0 178.3h0M97.7 190.7h0M102.6 188.8h0M99.2 187.3h0M103.0 177.4h0M103.2 178.6h0M98.6 191.4h0M101.5 185.2h0M96.6 195.1h0M97.1 194.4h0M102.1 179.2h0M102.7 179.7h0M97.6 192.8h0M98.6 192.1h0M100.7 183.3h0M97.2 192.2h0M98.4 191.5h0M112.4 165.3h0M99.5 184.8h0M96.8 194.4h0M99.7 182.3h0M99.6 187.4h0M97.5 189.9h0M97.2 192.2h0M98.7 189.2h0M99.5 187.4h0M107.5 166.5h0M103.3 174.1h0M99.1 187.2h0M98.8 191.2h0M101.3 183.4h0M96.7 195.2h0M104.0 170.4h0M102.6 177.3h0M97.9 193.2h0M111.1 173.2h0M98.3 192.2h0M97.2 192.7h0M102.0 175.7h0M98.2 191.9h0M100.9 186.6h0M97.2 193.1h0M97.1 192.6h0M99.0 190.6h0M96.8 194.9h0M99.3 186.4h0M99.4 185.4h0M101.2 177.1h0M101.9 186.4h0M99.4 189.6h0M110.9 172.6h0M99.5 186.2h0M121.6 155.0h0M97.6 193.0h0M97.1 192.7h0M103.6 180.2h0M102.4 180.4h0M101.9 175.5h0M100.2 187.3h0M98.9 190.4h0M98.8 186.3h0M99.2 187.6h0M99.3 188.6h0M99.3 186.4h0M97.7 191.9h0M107.3 178.7h0M98.7 190.2h0M118.5 152.9h0M114.6 153.7h0M102.1 173.5h0M117.7 155.6h0M96.5 195.2h0M101.2 182.9h0M98.5 190.2h0M97.2 192.9h0M114.0 145.4h0M105.3 175.7h0M103.0 176.5h0M96.8 194.5h0M111.6 174.5h0M98.2 187.8h0M99.3 187.3h0M113.6 169.5h0M97.1 194.0h0M97.2 194.6h0M105.1 179.6h0M109.6 170.8h0M96.4 195.4h0M97.8 192.6h0M101.6 184.9h0M97.0 194.2h0M99.1 191.4h0M106.5 163.3h0M98.6 189.8h0M102.0 178.6h0M102.6 187.1h0M99.6 188.4h0M98.7 186.8h0M97.1 191.9h0M103.0 184.0h0M98.8 189.0h0M102.7 169.2h0M96.7 194.9h0M117.5 150.3h0M96.8 194.8h0M98.5 191.0h0M96.5 194.5h0M99.1 192.2h0M110.0 151.6h0M101.5 176.0h0M100.3 184.4h0M97.2 194.3h0M102.6 171.1h0M107.7 149.9h0M110.6 170.3h0M111.5 167.0h0M102.6 177.2h0M97.0 192.9h0M96.9 194.7h0M102.8 186.0h0M99.3 184.9h0M106.2 171.3h0M102.3 185.1h0M97.2 193.5h0M98.1 187.9h0M99.7 187.0h0M108.3 174.1h0M97.5 191.7h0M99.5 186.3h0M99.2 187.2h0M112.3 172.8h0M98.1 192.4h0M99.1 190.8h0M97.6 193.9h0M100.9 181.5h0M96.8 193.0h0M105.6 183.0h0M101.0 185.7h0M99.0 186.8h0M104.8 160.7h0M98.3 190.5h0M103.1 187.0h0M101.3 177.7h0M104.2 180.6h0M100.4 187.2h0M102.8 173.0h0M97.0 194.4h0M97.6 193.8h0M109.1 170.4h0M96.9 194.9h0M99.3 190.7h0M101.0 180.5h0M101.8 185.7h0M109.0 169.3h0M96.9 193.5h0M100.6 188.1h0M103.8 182.8h0M96.7 195.1h0M107.6 160.8h0M105.3 180.5h0M100.7 186.2h0M98.6 191.0h0M98.5 188.2h0M100.2 180.0h0M98.5 187.6h0M97.7 192.0h0M101.2 177.1h0M100.8 187.6h0M96.6 195.5h0M99.5 187.7h0M96.9 193.5h0M98.3 191.3h0M99.1 186.9h0M97.8 189.9h0M101.7 190.5h0M105.7 165.5h0M104.5 171.3h0M103.6 182.6h0M97.9 192.1h0M102.2 178.0h0M98.1 189.3h0M105.4 169.4h0M99.1 186.0h0M98.3 190.4h0M98.4 187.3h0M104.2 181.9h0M108.5 166.3h0M100.0 186.8h0M96.8 195.1h0M102.8 177.7h0M118.8 161.7h0M115.0 171.2h0M101.8 182.8h0M104.5 184.1h0M103.2 167.2h0M104.8 176.8h0M97.0 195.1h0M101.1 190.3h0M96.9 193.3h0M98.8 185.5h0M108.2 177.8h0M107.9 176.0h0M100.8 185.9h0M100.1 183.4h0M98.9 190.8h0M105.2 176.6h0M96.4 195.3h0M96.6 195.1h0M98.9 189.8h0M102.2 183.3h0M107.8 155.7h0M98.8 187.7h0M99.1 187.0h0M96.3 195.3h0M111.5 168.4h0M96.9 194.1h0M104.4 178.0h0M98.8 189.5h0M107.1 156.9h0M101.1 185.9h0M106.8 162.5h0M98.1 191.2h0M104.0 181.9h0M98.4 191.7h0M102.4 179.8h0M96.5 194.9h0M97.4 193.5h0M98.1 190.8h0M97.2 192.5h0M101.8 181.4h0M103.6 174.8h0M100.8 184.1h0M97.3 194.9h0M97.9 190.1h0M103.5 177.0h0M98.5 190.1h0M97.8 193.1h0M103.6 187.0h0M113.5 169.5h0M108.9 169.6h0M98.7 188.7h0M98.7 185.9h0M113.5 169.9h0M97.9 191.6h0M103.7 173.3h0M99.0 185.7h0M101.7 187.5h0M97.2 193.2h0M102.1 175.3h0M100.1 187.3h0M113.0 159.9h0M98.1 189.1h0M107.7 168.6h0M98.6 191.8h0M107.2 172.5h0M98.7 185.8h0M103.0 179.1h0M107.2 182.5h0M99.8 182.3h0M124.2 155.4h0M97.0 193.0h0M99.9 184.9h0M97.3 193.7h0M102.8 180.1h0M105.7 181.4h0M102.3 173.7h0M99.4 192.2h0M114.2 157.7h0M103.2 181.5h0M100.7 188.3h0M105.6 182.5h0M96.5 194.8h0M103.1 168.7h0M102.4 178.1h0M105.2 184.5h0M100.5 187.0h0M98.0 189.3h0M105.1 181.0h0M99.1 186.1h0M97.0 194.9h0M106.6 170.3h0M110.6 175.0h0M97.3 193.4h0M103.1 179.5h0M107.1 170.2h0M98.0 192.9h0M98.5 190.3h0M100.0 186.0h0M96.4 195.3h0M103.4 171.7h0M97.5 192.0h0M98.3 191.4h0M97.2 192.7h0M98.9 186.7h0M100.3 185.9h0M102.4 183.8h0M97.5 193.5h0M105.9 174.8h0M99.1 191.8h0M99.2 185.6h0M97.9 191.9h0M100.8 187.9h0M96.9 193.7h0M99.8 191.3h0M97.8 190.2h0M106.1 156.2h0M104.5 177.7h0M96.6 195.0h0M110.4 178.9h0M108.1 172.3h0M110.4 167.2h0M96.9 193.7h0M97.3 193.3h0M108.0 177.4h0M96.8 194.9h0M99.8 183.3h0M98.4 189.4h0M97.2 194.2h0M102.1 180.0h0M98.1 187.8h0M98.7 186.9h0M97.3 192.2h0M112.3 167.2h0M101.0 179.0h0M96.8 194.6h0M101.8 181.9h0M104.0 183.6h0M106.4 168.4h0M103.6 170.9h0M102.1 172.8h0M106.9 181.2h0M113.1 175.2h0M99.4 185.2h0M99.3 189.5h0M97.5 193.0h0M104.8 172.1h0M101.2 186.9h0M97.0 193.1h0M97.1 192.3h0M104.3 175.5h0M97.8 192.3h0M100.1 188.4h0M99.7 181.5h0M98.6 192.2h0M98.2 192.4h0M97.1 193.4h0M102.3 186.5h0M107.1 176.3h0M98.2 190.8h0M102.1 178.8h0M97.0 192.6h0M110.5 167.9h0M103.5 175.8h0M105.4 183.8h0M97.7 192.2h0M99.0 189.1h0M104.1 168.6h0M107.3 179.6h0M97.2 194.6h0M101.3 176.9h0M98.7 187.8h0M99.4 189.6h0M100.5 184.7h0M97.3 192.0h0M104.3 171.8h0M99.9 190.4h0M117.2 146.9h0M96.6 195.2h0M100.6 181.4h0M97.8 191.0h0M97.2 194.7h0M101.5 182.6h0M97.1 195.0h0M98.1 192.9h0M96.6 195.5h0M97.3 194.1h0M97.4 192.7h0M108.9 169.8h0M104.8 183.6h0M106.6 176.7h0M98.5 187.4h0M97.7 191.9h0M101.3 179.8h0M101.3 184.9h0M100.4 187.0h0M99.4 186.8h0M96.7 194.5h0M98.4 190.5h0M104.6 179.1h0M110.0 162.9h0M119.8 155.2h0M102.2 175.2h0M105.0 175.0h0M99.1 188.1h0M104.1 164.2h0M98.3 190.2h0M98.2 190.8h0M97.0 194.3h0M97.4 192.5h0M103.9 169.1h0M105.9 180.8h0M100.2 182.5h0M99.9 191.8h0M96.7 194.1h0M107.6 150.6h0M101.7 178.4h0M97.9 193.4h0M104.3 176.1h0M97.1 193.9h0M108.3 175.1h0M99.3 186.0h0M98.5 187.0h0M98.1 191.9h0M103.4 180.5h0M102.1 177.5h0M97.7 193.3h0M106.3 180.9h0M108.4 166.9h0M103.4 182.6h0M98.8 186.8h0M98.0 190.9h0M97.9 191.3h0M98.5 188.3h0M98.9 186.8h0M100.0 189.8h0M100.5 184.0h0M96.8 194.6h0M108.8 167.8h0M98.7 185.3h0M100.1 185.0h0M96.9 194.9h0M99.8 182.0h0M107.0 177.4h0M96.3 194.9h0M100.1 183.5h0M99.8 189.1h0M96.7 195.1h0M97.5 194.5h0M97.6 190.7h0M98.0 192.9h0M123.6 160.7h0M97.7 189.0h0M98.5 189.1h0M104.3 174.9h0M98.8 186.5h0M96.8 194.6h0M96.6 194.9h0M96.3 195.5h0M102.6 185.8h0M96.8 194.6h0M111.9 147.6h0M98.0 192.3h0M98.0 190.0h0M99.3 189.1h0M98.8 187.1h0M105.0 179.0h0M96.8 193.2h0M97.2 193.4h0M108.2 178.9h0M97.2 194.9h0M103.2 183.9h0M98.1 188.5h0M105.7 176.6h0M97.2 194.0h0M99.6 184.1h0M100.4 185.3h0M108.7 174.1h0M99.6 188.7h0M96.8 194.4h0M97.2 193.7h0M114.8 169.4h0M104.9 167.0h0M97.6 192.5h0M108.6 173.5h0M98.8 190.8h0M119.4 144.3h0M116.6 155.6h0M100.4 185.5h0M99.1 187.6h0M100.6 183.6h0M96.6 194.3h0M97.2 193.5h0M96.6 194.2h0M99.3 184.1h0M99.5 183.1h0M103.7 180.0h0M99.2 189.1h0M102.8 186.6h0M99.0 190.8h0M106.3 175.8h0M104.6 172.3h0M114.1 156.1h0M101.1 187.3h0M101.0 186.7h0M97.1 194.2h0M97.5 190.8h0M98.0 192.6h0M97.2 194.7h0M108.3 149.2h0M98.3 187.6h0M97.4 192.5h0M96.6 194.3h0M104.4 162.7h0M112.3 154.4h0M97.8 192.3h0M103.4 184.5h0M100.0 186.4h0M114.8 157.9h0M96.8 194.2h0M108.9 172.7h0M104.9 185.0h0M102.2 175.3h0M119.8 163.5h0M115.2 161.4h0M99.3 184.1h0M98.1 192.9h0M99.7 188.4h0M97.7 192.2h0M99.6 183.7h0M99.6 188.7h0M98.5 190.4h0M97.5 191.6h0M99.1 191.0h0M97.9 191.1h0M97.0 194.2h0M98.1 192.0h0M98.6 186.5h0M100.4 183.3h0M97.7 189.6h0M97.0 194.3h0M99.0 186.6h0M111.3 168.3h0M102.2 187.0h0M103.6 183.0h0M114.0 164.5h0M99.2 191.2h0M106.8 152.6h0M98.5 186.6h0M101.9 186.2h0M99.2 190.7h0M99.4 189.9h0M99.0 190.2h0M102.3 172.7h0M98.1 189.7h0M126.1 146.9h0M99.2 189.3h0M105.0 185.2h0M99.3 184.8h0M97.9 192.5h0M97.0 193.6h0M100.0 185.4h0M101.5 178.3h0M104.6 182.4h0M114.4 160.6h0M96.9 192.7h0M106.7 173.8h0M99.3 187.3h0M100.4 181.0h0M97.8 192.1h0M98.1 191.6h0M109.4 158.3h0M97.5 192.8h0M98.6 191.8h0M96.4 195.1h0M98.2 191.3h0M98.7 190.3h0M121.9 147.4h0M97.5 194.3h0M105.1 168.4h0M107.3 166.3h0M96.3 195.2h0M101.2 179.0h0M100.8 183.7h0M105.7 174.7h0M97.5 192.9h0M99.3 188.6h0M131.5 144.2h0M100.2 189.5h0M107.6 150.8h0M113.0 173.6h0M98.5 186.4h0M98.3 186.5h0M97.3 191.4h0M98.2 190.4h0M100.8 181.8h0M102.1 173.3h0M99.8 185.5h0M93.9 191.1h0M91.8 185.9h0M94.5 192.5h0M88.6 178.4h0M94.4 192.4h0M93.2 189.0h0M87.1 175.8h0M93.4 189.6h0M92.6 186.3h0M95.1 195.1h0M92.4 186.3h0M93.7 190.5h0M94.1 191.4h0M86.1 167.3h0M91.5 184.7h0M93.7 189.7h0M92.3 187.4h0M92.9 190.9h0M94.9 193.6h0M93.3 190.4h0M87.9 179.1h0M94.1 192.3h0M94.6 192.6h0M94.4 192.9h0M93.6 189.8h0M91.9 185.0h0M94.1 190.8h0M90.6 181.4h0M93.5 188.2h0M94.7 192.7h0M93.8 190.1h0M91.7 185.7h0M92.5 185.4h0M90.4 181.9h0M91.9 187.2h0M93.9 192.1h0M93.2 189.1h0M94.0 192.0h0M95.4 195.0h0M95.2 193.9h0M94.8 193.7h0M95.2 194.6h0M92.8 188.2h0M95.4 194.8h0M92.7 186.2h0M92.0 187.6h0M92.6 187.1h0M89.4 179.9h0M92.9 188.3h0M93.0 187.9h0M91.1 182.2h0M92.8 187.3h0M94.4 191.7h0M94.7 192.7h0M93.9 191.1h0M91.6 184.7h0M95.0 194.5h0M95.1 194.2h0M94.3 193.0h0M91.4 184.0h0M95.0 194.4h0M95.6 195.4h0M90.9 181.8h0M91.4 183.7h0M94.8 193.8h0M94.2 190.9h0M93.9 189.9h0M95.4 195.3h0M90.1 184.0h0M90.2 180.2h0M93.0 189.3h0M92.7 186.7h0M93.8 190.7h0M95.2 194.8h0M92.3 185.7h0M89.1 177.2h0M95.4 194.7h0M93.7 190.1h0M95.7 195.4h0M94.3 192.2h0M94.9 194.7h0M94.3 193.1h0M95.3 195.4h0M94.2 191.0h0M91.5 186.3h0M90.4 181.5h0M90.8 181.6h0M89.0 175.7h0M86.3 167.9h0M95.5 195.2h0M85.3 173.3h0M94.7 193.7h0M95.4 195.5h0M94.8 193.5h0M93.0 189.8h0M94.2 192.5h0M92.7 187.9h0M92.3 185.1h0M88.6 181.6h0M92.4 185.9h0M93.9 191.8h0M90.5 179.0h0M92.7 187.7h0M91.3 183.6h0M90.0 182.8h0M93.0 187.7h0M92.4 188.2h0M95.0 193.6h0M87.7 174.4h0M91.3 186.2h0M90.4 179.5h0M95.4 195.1h0M94.1 192.3h0M91.9 185.5h0M89.3 176.1h0M89.9 178.3h0M92.6 187.8h0M92.0 187.2h0M92.5 187.9h0M93.5 191.2h0M92.5 186.9h0M92.7 186.7h0M94.1 191.4h0M95.5 195.3h0M87.8 175.0h0M92.9 188.2h0M93.8 190.0h0M93.8 191.1h0M94.6 194.0h0M94.5 191.8h0M90.9 181.9h0M94.4 191.5h0M91.5 182.5h0M94.8 193.2h0M93.8 190.4h0M90.4 181.6h0M95.6 195.0h0M93.8 189.9h0M94.4 193.0h0M92.0 184.4h0M94.3 191.3h0M93.8 192.8h0M94.0 190.3h0M93.0 189.1h0M92.6 186.5h0M91.9 185.0h0M92.2 185.6h0M92.8 187.1h0M88.6 178.1h0M93.0 189.4h0M91.6 184.4h0M93.4 189.3h0M89.9 178.5h0M95.4 194.9h0M94.3 192.2h0M92.7 187.3h0M95.4 195.0h0M92.2 187.5h0M86.4 170.3h0M92.2 185.0h0M94.0 190.4h0M89.7 179.0h0M94.3 192.1h0M92.0 186.4h0M90.8 180.0h0M87.8 174.3h0M94.7 192.1h0M94.5 191.8h0M92.3 185.4h0M94.4 192.0h0M94.8 192.7h0M94.3 191.8h0M95.0 194.1h0M94.1 192.6h0M93.6 189.9h0M93.2 188.5h0M93.5 189.1h0M94.6 193.1h0M89.4 177.3h0M92.5 187.1h0M91.2 184.2h0M94.7 193.0h0M95.0 194.5h0M92.4 186.5h0M92.3 186.4h0M93.8 191.4h0M94.1 190.2h0M94.7 192.2h0M90.0 180.3h0M94.9 193.7h0M94.6 193.5h0M92.2 188.5h0M95.5 195.2h0M94.4 192.6h0M95.5 195.3h0M94.9 193.8h0M90.2 179.3h0M94.1 191.7h0M95.3 195.2h0M95.1 193.8h0M93.6 189.9h0M87.2 176.2h0M94.8 193.0h0M89.9 180.6h0M95.4 194.6h0M87.7 177.2h0M93.4 189.7h0M88.3 175.5h0M93.7 189.7h0M90.6 182.4h0M94.7 193.3h0M94.7 193.1h0M92.4 187.4h0M94.2 192.4h0M92.6 187.5h0M93.0 189.2h0M93.1 188.9h0M90.0 178.6h0M94.5 191.6h0M94.8 193.1h0M94.9 194.2h0M95.6 195.3h0M95.1 193.5h0M91.3 183.4h0M91.9 183.2h0M93.2 189.3h0M92.8 189.0h0M93.6 190.2h0M93.9 191.2h0M91.6 182.3h0M94.6 192.1h0M93.8 190.7h0M94.7 193.0h0M95.2 194.7h0M91.2 186.2h0M92.3 185.5h0M92.0 186.3h0M91.6 186.9h0M94.1 191.7h0M95.4 194.8h0M90.3 179.3h0M93.5 189.2h0M94.9 194.4h0M93.0 187.2h0M93.1 189.4h0M93.3 190.0h0M92.8 187.9h0M94.8 193.5h0M92.7 187.7h0M94.2 191.4h0M95.4 194.9h0M89.5 178.7h0M95.5 194.8h0M94.5 192.3h0M87.0 169.0h0M91.1 182.5h0M94.9 193.6h0M94.5 193.9h0M89.6 176.2h0M94.2 191.6h0M86.0 171.2h0M95.2 193.8h0M94.5 192.2h0M95.2 194.5h0M92.9 188.1h0M95.0 194.1h0M94.2 191.6h0M94.3 191.5h0M93.7 190.1h0M92.6 188.5h0M93.6 189.8h0M92.8 186.9h0M94.9 192.6h0M91.7 184.8h0M92.8 186.7h0M91.7 186.4h0M93.6 190.6h0M94.3 192.1h0M91.3 184.8h0M91.6 185.5h0M93.9 190.9h0M87.8 175.0h0M93.4 189.8h0M89.0 175.7h0M95.0 193.8h0M93.7 189.1h0M91.0 182.0h0M94.7 193.3h0M95.4 194.6h0M92.6 188.4h0M92.0 186.1h0M95.2 194.9h0M95.2 194.0h0M83.8 168.6h0M92.7 187.6h0M92.9 188.8h0M92.2 185.1h0M86.4 170.2h0M88.7 176.0h0M95.1 194.5h0M95.1 194.9h0M92.6 186.6h0M95.1 194.3h0M94.0 192.6h0M94.7 192.5h0M94.0 192.0h0M91.3 183.0h0M93.4 190.0h0M95.1 194.2h0M95.4 194.9h0M91.7 183.7h0M94.3 191.5h0M92.4 186.9h0M94.7 192.6h0M92.1 185.0h0M90.5 180.2h0M95.3 194.8h0M90.8 182.4h0M95.1 195.3h0M94.6 193.5h0M88.9 176.6h0M91.3 182.3h0M95.0 194.3h0M94.9 194.6h0M94.2 191.9h0M94.6 193.4h0M93.8 189.8h0M92.3 186.2h0M93.4 189.3h0M93.3 189.4h0M93.9 190.1h0M94.2 192.0h0M92.8 189.2h0M93.6 188.9h0M89.8 180.2h0M90.9 182.6h0M95.4 194.8h0M91.3 183.9h0M88.8 173.8h0M94.1 191.8h0M95.1 194.1h0M95.1 194.5h0M95.5 195.0h0M95.3 194.2h0M95.2 194.9h0M93.4 189.0h0M94.0 192.2h0M94.7 193.5h0M95.0 193.5h0M94.6 193.3h0M92.9 187.0h0M93.2 189.1h0M93.3 187.9h0M91.6 183.0h0M94.9 194.2h0M95.0 193.3h0M88.9 178.0h0M86.1 168.7h0M94.4 192.8h0M94.5 193.6h0M94.9 194.2h0M93.4 189.5h0M94.2 191.5h0M90.2 180.1h0M91.4 183.6h0M87.2 171.6h0M88.2 174.9h0M89.1 177.7h0M95.0 193.5h0M94.8 193.7h0M94.4 193.2h0M94.9 192.6h0M93.6 189.9h0M93.4 190.1h0M85.2 168.5h0M85.8 168.7h0M94.5 192.0h0M95.1 194.1h0M94.8 193.0h0M89.8 180.0h0M93.4 189.1h0M92.4 188.9h0M93.3 189.7h0M92.0 186.0h0M94.5 192.4h0M95.0 194.1h0M95.3 194.7h0M93.9 192.5h0M93.8 190.3h0M93.6 190.0h0M94.0 190.6h0M95.2 194.3h0M95.3 195.2h0M92.7 188.6h0M92.5 187.3h0M94.9 193.7h0M94.9 194.1h0M94.9 195.1h0M92.1 187.3h0M94.9 193.1h0M89.8 178.8h0M89.7 179.2h0M93.1 188.7h0M91.3 183.0h0M94.1 192.0h0M92.7 187.4h0M92.5 188.5h0M93.5 190.3h0M94.0 191.0h0M93.5 189.1h0M93.7 190.9h0M93.8 189.9h0M94.3 192.0h0M95.1 193.8h0M95.3 195.3h0M95.4 194.4h0M94.0 191.2h0M93.7 189.3h0M92.6 186.7h0M95.1 195.0h0M94.5 192.3h0M92.7 186.6h0M90.6 179.3h0M95.0 194.3h0M95.5 195.4h0M93.7 191.0h0M94.1 190.3h0M93.2 189.6h0M90.1 181.0h0M94.6 192.0h0M90.6 180.7h0M94.2 191.2h0M92.8 188.5h0M91.4 183.7h0M93.9 190.6h0M84.1 172.5h0M88.7 177.7h0M87.8 177.7h0M91.7 183.8h0M92.8 187.1h0M94.9 194.4h0M90.6 182.9h0M92.5 187.2h0M95.4 195.0h0M94.7 192.7h0M94.8 194.0h0M89.2 175.4h0M93.6 191.0h0M95.2 194.1h0M92.6 187.6h0M94.0 190.3h0M92.3 185.7h0M91.6 184.8h0M91.8 183.4h0M86.9 174.2h0M91.9 185.8h0M95.5 195.4h0M94.2 192.5h0M92.8 188.2h0M95.0 194.5h0M90.5 184.9h0M92.4 187.0h0M93.7 189.7h0M90.6 183.8h0M92.7 187.2h0M91.7 186.7h0M92.2 185.5h0M94.4 192.2h0M89.7 178.5h0M91.8 185.2h0M94.8 193.9h0M86.4 169.9h0M89.4 177.9h0M93.1 188.0h0M89.0 179.5h0M95.3 194.2h0M91.3 183.6h0M94.6 192.4h0M93.0 187.1h0M93.9 192.3h0M93.9 192.4h0M92.3 186.3h0M95.0 194.1h0M92.9 188.2h0M95.3 194.6h0M92.9 187.7h0M94.6 192.4h0M93.4 188.6h0M85.5 167.4h0M93.7 190.1h0M94.5 192.6h0M94.4 191.7h0M94.2 191.2h0M93.7 190.4h0M93.9 190.8h0M86.3 165.3h0M93.6 189.6h0M94.5 192.2h0M91.7 184.0h0M93.8 189.7h0M90.9 185.9h0M89.4 177.6h0M95.6 195.2h0M92.4 187.2h0M93.2 190.5h0M91.7 184.3h0M94.6 192.4h0M95.1 194.1h0M95.2 194.5h0M93.4 189.8h0M95.2 194.8h0M90.3 182.0h0M93.0 188.2h0M91.7 186.9h0M90.5 184.1h0M95.0 192.9h0M91.2 183.8h0M94.1 191.6h0M92.0 184.2h0M92.3 184.8h0M94.9 193.3h0M94.7 193.5h0M90.9 183.3h0M93.4 188.4h0M91.2 181.3h0M95.6 195.4h0M93.5 189.4h0M93.7 190.5h0M95.7 195.2h0M89.1 176.4h0M95.3 194.5h0M92.8 188.2h0M85.2 168.0h0M94.5 192.8h0M84.6 168.3h0M94.8 193.1h0M92.5 186.3h0M94.5 191.5h0M89.2 177.8h0M92.1 187.6h0M95.3 194.3h0M93.7 189.3h0M93.7 190.7h0M92.5 185.9h0M94.7 192.1h0M91.6 184.9h0M94.4 193.7h0M93.2 188.6h0M93.8 189.7h0M94.4 192.4h0M94.5 192.2h0M94.8 193.7h0M94.0 191.8h0M95.4 194.9h0M90.3 183.5h0M90.7 180.9h0M89.5 177.2h0M91.5 183.7h0M92.9 187.1h0M91.1 181.4h0M94.3 191.8h0M94.8 193.8h0M95.4 195.3h0M95.1 194.3h0M85.2 170.1h0M91.9 187.1h0M95.1 193.6h0M89.2 178.4h0M95.3 194.5h0M93.6 189.8h0M88.8 178.1h0M93.3 189.1h0M94.2 191.3h0M94.3 192.5h0M93.8 190.9h0M94.4 192.0h0M95.1 195.0h0M87.3 170.1h0M94.7 191.9h0M94.8 192.9h0M95.1 193.6h0M90.6 180.6h0M95.7 195.3h0M93.9 190.8h0M93.8 190.7h0M91.2 182.0h0M93.3 188.4h0M94.5 193.6h0M95.0 194.9h0M94.2 191.5h0M91.7 183.0h0M92.4 186.7h0M95.3 194.5h0M92.7 185.9h0M94.1 191.5h0M93.2 188.7h0M86.6 173.2h0M91.5 183.4h0M91.7 186.5h0M92.1 184.7h0M92.8 187.9h0M94.8 193.6h0M93.4 188.4h0M89.3 178.8h0M92.6 188.8h0M92.5 185.6h0M94.4 192.3h0M91.4 181.9h0M94.9 194.4h0M95.0 193.9h0M95.3 194.4h0M89.9 179.8h0M94.7 192.4h0M89.4 181.0h0M88.8 177.7h0M93.4 189.7h0M93.5 189.0h0M90.1 178.5h0M91.0 181.6h0M93.6 189.5h0M89.8 181.6h0M94.4 193.4h0M89.7 179.5h0M93.2 188.4h0M93.4 190.5h0M90.5 181.9h0M94.6 194.4h0M95.5 195.1h0M91.6 185.2h0M95.1 193.8h0M92.1 187.6h0M92.7 188.4h0M95.0 194.4h0M94.5 192.8h0M95.3 194.6h0M94.6 193.6h0M93.2 188.2h0M90.7 182.5h0M95.3 194.5h0M86.7 168.6h0M93.5 190.4h0M92.3 184.5h0M89.3 178.4h0M95.2 194.3h0M95.1 194.5h0M93.2 188.3h0M91.8 184.0h0M91.0 184.3h0M89.4 177.3h0M94.6 192.6h0M88.0 174.7h0M95.0 193.8h0M94.0 191.9h0M95.4 194.9h0M91.6 184.9h0M91.6 183.4h0M95.0 193.8h0M94.3 191.6h0M93.2 187.7h0M95.2 195.2h0M92.4 187.3h0M91.5 184.5h0M93.8 190.3h0M95.5 195.4h0M94.7 193.4h0M94.7 193.7h0M95.3 194.5h0M90.9 180.7h0M94.5 192.8h0M94.9 193.0h0M92.8 186.5h0M95.3 194.2h0M94.2 190.9h0M95.3 195.1h0M95.4 195.0h0M92.9 189.6h0M91.8 184.4h0M93.7 191.0h0M93.1 188.7h0M90.2 179.1h0M95.4 194.6h0M84.0 167.2h0M94.3 191.4h0M89.7 179.1h0M90.5 185.7h0M93.7 191.0h0M94.2 191.8h0M94.5 193.3h0M94.7 192.8h0M95.1 195.2h0M92.7 186.7h0M93.6 190.7h0M93.5 189.2h0M94.8 193.8h0M91.8 186.9h0M95.1 193.7h0M94.2 193.0h0M93.8 189.5h0M89.6 177.4h0M95.3 194.3h0M93.7 190.2h0M92.8 186.4h0M93.8 190.5h0M94.7 192.6h0M91.9 186.1h0M93.2 188.3h0M88.9 177.2h0M94.4 193.8h0M94.6 192.1h0M93.5 189.1h0M94.7 193.3h0M94.5 192.1h0M89.7 181.2h0M94.1 192.2h0M93.1 188.3h0M92.0 186.6h0M86.7 169.4h0M89.2 179.6h0M93.7 191.7h0M95.3 194.4h0M94.8 193.3h0M94.2 191.4h0M93.8 190.6h0M88.3 178.0h0M91.1 181.0h0M94.4 193.0h0M93.9 190.1h0M93.3 189.9h0M88.4 178.2h0M94.8 193.1h0M91.8 183.4h0M94.4 191.2h0M93.6 190.1h0M87.8 172.4h0M93.1 187.7h0M93.1 188.2h0M93.9 190.2h0" stroke="#1e1e1e" stroke-width="1.35" stroke-linecap="round" stroke-opacity="0.85" fill="none"/>
<rect x="37.05" y="107.3" width="1.7" height="89.6" fill="#000"/>
<rect x="37.05" y="195.29999999999998" width="120.64999999999998" height="1.6" fill="#000"/>
<line x1="34.5" y1="196.1" x2="37.9" y2="196.1" stroke="#000" stroke-width="1.1"/>
<text x="31.5" y="198.6" font-size="7.2" text-anchor="end" fill="#222" stroke="#222" style="stroke-width:0.12px">0</text>
<line x1="34.5" y1="179.0" x2="37.9" y2="179.0" stroke="#000" stroke-width="1.1"/>
<text x="31.5" y="181.5" font-size="7.2" text-anchor="end" fill="#222" stroke="#222" style="stroke-width:0.12px">1</text>
<line x1="34.5" y1="161.89999999999998" x2="37.9" y2="161.89999999999998" stroke="#000" stroke-width="1.1"/>
<text x="31.5" y="164.39999999999998" font-size="7.2" text-anchor="end" fill="#222" stroke="#222" style="stroke-width:0.12px">2</text>
<line x1="34.5" y1="144.79999999999998" x2="37.9" y2="144.79999999999998" stroke="#000" stroke-width="1.1"/>
<text x="31.5" y="147.29999999999998" font-size="7.2" text-anchor="end" fill="#222" stroke="#222" style="stroke-width:0.12px">3</text>
<line x1="34.5" y1="127.69999999999999" x2="37.9" y2="127.69999999999999" stroke="#000" stroke-width="1.1"/>
<text x="31.5" y="130.2" font-size="7.2" text-anchor="end" fill="#222" stroke="#222" style="stroke-width:0.12px">4</text>
<line x1="34.5" y1="110.6" x2="37.9" y2="110.6" stroke="#000" stroke-width="1.1"/>
<text x="31.5" y="113.1" font-size="7.2" text-anchor="end" fill="#222" stroke="#222" style="stroke-width:0.12px">5</text>
<line x1="36.1" y1="187.54999999999998" x2="37.9" y2="187.54999999999998" stroke="#000" stroke-width="1.0"/>
<line x1="36.1" y1="170.45" x2="37.9" y2="170.45" stroke="#000" stroke-width="1.0"/>
<line x1="36.1" y1="153.35" x2="37.9" y2="153.35" stroke="#000" stroke-width="1.0"/>
<line x1="36.1" y1="136.25" x2="37.9" y2="136.25" stroke="#000" stroke-width="1.0"/>
<line x1="36.1" y1="119.14999999999999" x2="37.9" y2="119.14999999999999" stroke="#000" stroke-width="1.0"/>
<line x1="46.199999999999996" y1="196.1" x2="46.199999999999996" y2="198.5" stroke="#000" stroke-width="1.1"/>
<text x="45.9" y="208.4" font-size="7" text-anchor="middle" fill="#222" stroke="#222" style="stroke-width:0.12px">-3</text>
<line x1="62.8" y1="196.1" x2="62.8" y2="198.5" stroke="#000" stroke-width="1.1"/>
<text x="62.5" y="208.4" font-size="7" text-anchor="middle" fill="#222" stroke="#222" style="stroke-width:0.12px">-2</text>
<line x1="79.4" y1="196.1" x2="79.4" y2="198.5" stroke="#000" stroke-width="1.1"/>
<text x="79.10000000000001" y="208.4" font-size="7" text-anchor="middle" fill="#222" stroke="#222" style="stroke-width:0.12px">-1</text>
<line x1="96.0" y1="196.1" x2="96.0" y2="198.5" stroke="#000" stroke-width="1.1"/>
<text x="96.0" y="208.4" font-size="7" text-anchor="middle" fill="#222" stroke="#222" style="stroke-width:0.12px">0</text>
<line x1="112.6" y1="196.1" x2="112.6" y2="198.5" stroke="#000" stroke-width="1.1"/>
<text x="112.6" y="208.4" font-size="7" text-anchor="middle" fill="#222" stroke="#222" style="stroke-width:0.12px">1</text>
<line x1="129.2" y1="196.1" x2="129.2" y2="198.5" stroke="#000" stroke-width="1.1"/>
<text x="129.2" y="208.4" font-size="7" text-anchor="middle" fill="#222" stroke="#222" style="stroke-width:0.12px">2</text>
<line x1="145.8" y1="196.1" x2="145.8" y2="198.5" stroke="#000" stroke-width="1.1"/>
<text x="145.8" y="208.4" font-size="7" text-anchor="middle" fill="#222" stroke="#222" style="stroke-width:0.12px">3</text>
<line x1="54.5" y1="196.1" x2="54.5" y2="197.7" stroke="#000" stroke-width="1.0"/>
<line x1="71.1" y1="196.1" x2="71.1" y2="197.7" stroke="#000" stroke-width="1.0"/>
<line x1="87.7" y1="196.1" x2="87.7" y2="197.7" stroke="#000" stroke-width="1.0"/>
<line x1="104.3" y1="196.1" x2="104.3" y2="197.7" stroke="#000" stroke-width="1.0"/>
<line x1="120.9" y1="196.1" x2="120.9" y2="197.7" stroke="#000" stroke-width="1.0"/>
<line x1="137.5" y1="196.1" x2="137.5" y2="197.7" stroke="#000" stroke-width="1.0"/>
<line x1="154.10000000000002" y1="196.1" x2="154.10000000000002" y2="197.7" stroke="#000" stroke-width="1.0"/>
<text x="71" y="221.2" font-size="9.2" textLength="53.7" lengthAdjust="spacingAndGlyphs" fill="#222" stroke="#222" style="stroke-width:0.25px">Log2 fold change</text>
<text x="0" y="0" font-size="8.3" textLength="45" lengthAdjust="spacingAndGlyphs" fill="#222" stroke="#222" transform="translate(22.299999999999997,174.1) rotate(-90)" style="stroke-width:0.35px">-log10 p.value</text>
<path d="M64.2 92.8L66.60000000000001 98.39999999999999L64.85000000000001 97.99999999999999L64.85000000000001 104.4L63.550000000000004 104.4L63.550000000000004 97.99999999999999L61.800000000000004 98.39999999999999Z" fill="#111"/>
<text x="68" y="101.1" font-size="8.2" textLength="25.5" lengthAdjust="spacingAndGlyphs" fill="#1a1a1a" stroke="#1a1a1a" style="stroke-width:0.12px">M-CLL</text>
<text x="103.5" y="101.1" font-size="8.2" textLength="32" lengthAdjust="spacingAndGlyphs" fill="#1a1a1a" stroke="#1a1a1a" style="stroke-width:0.12px">UM-CLL</text>
<path d="M138.9 92.8L141.3 98.39999999999999L139.55 97.99999999999999L139.55 104.4L138.25 104.4L138.25 97.99999999999999L136.5 98.39999999999999Z" fill="#111"/>
<text x="212.3" y="17.0" font-size="11.5" font-weight="bold" textLength="7.2" lengthAdjust="spacingAndGlyphs" fill="#000" stroke="#000">C</text>
<text x="222.8" y="29.3" font-size="6.5" textLength="72.6" lengthAdjust="spacingAndGlyphs" fill="#222" stroke="#222" style="stroke-width:0.08px">all identified p-peptides</text>
<path d="M258.70 89.30L258.70 54.10A35.2 35.2 0 1 1 235.42 62.90Z" fill="#2d4a7c"/>
<path d="M253.80 75.70L230.89 48.97A35.2 35.2 0 0 1 251.65 40.57Z" fill="#c9c8cd"/>
<path d="M256.00 75.80L253.91 40.66A35.2 35.2 0 0 1 256.00 40.60Z" fill="#4a5063"/>
<text x="223.7" y="42.6" font-size="6.4" textLength="12.3" lengthAdjust="spacingAndGlyphs" fill="#333" stroke="#333" style="stroke-width:0.08px">10%</text>
<text x="257.2" y="39.8" font-size="6.4" textLength="8.5" lengthAdjust="spacingAndGlyphs" fill="#333" stroke="#333" style="stroke-width:0.08px">1%</text>
<text x="285" y="119.8" font-size="7" textLength="12.8" lengthAdjust="spacingAndGlyphs" fill="#333" stroke="#333" style="stroke-width:0.08px">89%</text>
<rect x="306" y="45" width="7.8" height="3.3" fill="#2d4a7c"/>
<text x="317" y="48.6" font-size="5.2" textLength="6" lengthAdjust="spacingAndGlyphs" fill="#333" stroke="#333" style="stroke-width:0.08px">pS</text>
<rect x="306" y="54" width="7.8" height="3.3" fill="#c9c8cd"/>
<text x="317" y="57.6" font-size="5.2" textLength="6" lengthAdjust="spacingAndGlyphs" fill="#333" stroke="#333" style="stroke-width:0.08px">pT</text>
<rect x="306" y="63" width="7.8" height="3.3" fill="#4a5063"/>
<text x="317" y="66.6" font-size="5.2" textLength="6" lengthAdjust="spacingAndGlyphs" fill="#333" stroke="#333" style="stroke-width:0.08px">pY</text>
<text x="212" y="150.4" font-size="11.5" font-weight="bold" textLength="8" lengthAdjust="spacingAndGlyphs" fill="#000" stroke="#000">D</text>
<text x="228.1" y="162.8" font-size="6.8" textLength="72.6" lengthAdjust="spacingAndGlyphs" fill="#222" stroke="#222" style="stroke-width:0.08px">all regulated p-peptides</text>
<path d="M264.60 220.90L264.60 185.70A35.2 35.2 0 1 1 233.13 205.14Z" fill="#2d4a7c"/>
<path d="M256.20 210.60L224.73 194.84A35.2 35.2 0 0 1 236.72 181.28Z" fill="#c9c8cd"/>
<path d="M258.80 208.30L239.32 178.98A35.2 35.2 0 0 1 258.80 173.10Z" fill="#4a5063"/>
<text x="223.8" y="180" font-size="6.4" textLength="9" lengthAdjust="spacingAndGlyphs" fill="#333" stroke="#333" style="stroke-width:0.08px">8%</text>
<text x="262" y="173" font-size="6.4" textLength="9" lengthAdjust="spacingAndGlyphs" fill="#333" stroke="#333" style="stroke-width:0.08px">9%</text>
<text x="290.6" y="250.8" font-size="7" textLength="13.3" lengthAdjust="spacingAndGlyphs" fill="#333" stroke="#333" style="stroke-width:0.08px">83%</text>
<rect x="308.5" y="181.3" width="7.4" height="3.1" fill="#2d4a7c"/>
<text x="318.7" y="184.9" font-size="5.6" textLength="7" lengthAdjust="spacingAndGlyphs" fill="#333" stroke="#333" style="stroke-width:0.08px">pS</text>
<rect x="308.5" y="190.70000000000002" width="7.4" height="3.1" fill="#c9c8cd"/>
<text x="318.7" y="194.3" font-size="5.6" textLength="7" lengthAdjust="spacingAndGlyphs" fill="#333" stroke="#333" style="stroke-width:0.08px">pT</text>
<rect x="308.5" y="200.10000000000002" width="7.4" height="3.1" fill="#4a5063"/>
<text x="318.7" y="203.70000000000002" font-size="5.6" textLength="7" lengthAdjust="spacingAndGlyphs" fill="#333" stroke="#333" style="stroke-width:0.08px">pY</text>
<text x="342.6" y="17.1" font-size="11.5" font-weight="bold" textLength="6.4" lengthAdjust="spacingAndGlyphs" fill="#000" stroke="#000">E</text>
<text x="397.2" y="24.6" font-size="8" textLength="47" lengthAdjust="spacingAndGlyphs" stroke="#111" style="stroke-width:0.08px">migration &amp;</text>
<text x="406.1" y="35.3" font-size="8" textLength="30" lengthAdjust="spacingAndGlyphs" stroke="#111" style="stroke-width:0.08px">motility</text>
<rect x="405.9" y="41.8" width="17.4" height="6.59" fill="#a9df3c"/>
<rect x="422.7" y="41.8" width="16.8" height="6.59" fill="#dd0a06"/>
<rect x="405.9" y="47.39" width="17.4" height="6.59" fill="#c2e63a"/>
<rect x="422.7" y="47.39" width="16.8" height="6.59" fill="#e06a1a"/>
<rect x="405.9" y="52.99" width="17.4" height="6.59" fill="#8fd63a"/>
<rect x="422.7" y="52.99" width="16.8" height="6.59" fill="#e06018"/>
<rect x="405.9" y="58.58" width="17.4" height="6.59" fill="#c2e63a"/>
<rect x="422.7" y="58.58" width="16.8" height="6.59" fill="#e27a1c"/>
<rect x="405.9" y="64.17" width="17.4" height="6.59" fill="#c2e63a"/>
<rect x="422.7" y="64.17" width="16.8" height="6.59" fill="#e38020"/>
<rect x="405.9" y="69.77" width="17.4" height="6.59" fill="#aee23a"/>
<rect x="422.7" y="69.77" width="16.8" height="6.59" fill="#e38a22"/>
<rect x="405.9" y="75.36" width="17.4" height="6.59" fill="#b5e43a"/>
<rect x="422.7" y="75.36" width="16.8" height="6.59" fill="#e59a28"/>
<rect x="405.9" y="80.95" width="17.4" height="6.59" fill="#a8e03a"/>
<rect x="422.7" y="80.95" width="16.8" height="6.59" fill="#e07e1e"/>
<rect x="405.9" y="86.54" width="17.4" height="6.59" fill="#a8e03a"/>
<rect x="422.7" y="86.54" width="16.8" height="6.59" fill="#e59a28"/>
<rect x="405.9" y="92.14" width="17.4" height="6.59" fill="#a8e03a"/>
<rect x="422.7" y="92.14" width="16.8" height="6.59" fill="#e59a28"/>
<rect x="405.9" y="97.73" width="17.4" height="6.59" fill="#a8e03a"/>
<rect x="422.7" y="97.73" width="16.8" height="6.59" fill="#e59a28"/>
<rect x="405.9" y="103.32" width="17.4" height="6.59" fill="#86d63a"/>
<rect x="422.7" y="103.32" width="16.8" height="6.59" fill="#e4922a"/>
<rect x="405.9" y="108.92" width="17.4" height="6.59" fill="#98da3a"/>
<rect x="422.7" y="108.92" width="16.8" height="6.59" fill="#e38020"/>
<rect x="405.9" y="114.51" width="17.4" height="6.59" fill="#a8e03a"/>
<rect x="422.7" y="114.51" width="16.8" height="6.59" fill="#e38020"/>
<rect x="405.9" y="120.1" width="17.4" height="6.59" fill="#bce63a"/>
<rect x="422.7" y="120.1" width="16.8" height="6.59" fill="#e38020"/>
<rect x="405.9" y="125.69" width="17.4" height="6.59" fill="#98da3a"/>
<rect x="422.7" y="125.69" width="16.8" height="6.59" fill="#e38020"/>
<rect x="405.9" y="131.29" width="17.4" height="6.59" fill="#b2e23a"/>
<rect x="422.7" y="131.29" width="16.8" height="6.59" fill="#e6a02a"/>
<rect x="405.9" y="136.88" width="17.4" height="6.59" fill="#a0dc3a"/>
<rect x="422.7" y="136.88" width="16.8" height="6.59" fill="#e59a2a"/>
<rect x="405.9" y="142.47" width="17.4" height="6.59" fill="#b8e43a"/>
<rect x="422.7" y="142.47" width="16.8" height="6.59" fill="#e6a02a"/>
<rect x="405.9" y="148.07" width="17.4" height="6.59" fill="#78cc34"/>
<rect x="422.7" y="148.07" width="16.8" height="6.59" fill="#e38a22"/>
<rect x="405.9" y="153.66" width="17.4" height="6.59" fill="#98da3a"/>
<rect x="422.7" y="153.66" width="16.8" height="6.59" fill="#e38a22"/>
<rect x="405.9" y="159.25" width="17.4" height="6.59" fill="#b2e43a"/>
<rect x="422.7" y="159.25" width="16.8" height="6.59" fill="#e4922a"/>
<rect x="405.9" y="164.85" width="17.4" height="6.59" fill="#b2e43a"/>
<rect x="422.7" y="164.85" width="16.8" height="6.59" fill="#e4922a"/>
<rect x="405.9" y="170.44" width="17.4" height="6.59" fill="#b2e43a"/>
<rect x="422.7" y="170.44" width="16.8" height="6.59" fill="#e4922a"/>
<rect x="405.9" y="176.03" width="17.4" height="6.59" fill="#8ed63a"/>
<rect x="422.7" y="176.03" width="16.8" height="6.59" fill="#e4922a"/>
<rect x="405.9" y="181.62" width="17.4" height="6.59" fill="#b2e43a"/>
<rect x="422.7" y="181.62" width="16.8" height="6.59" fill="#e4922a"/>
<rect x="405.9" y="187.22" width="17.4" height="6.59" fill="#b2e43a"/>
<rect x="422.7" y="187.22" width="16.8" height="6.59" fill="#e69a28"/>
<rect x="405.9" y="192.81" width="17.4" height="6.59" fill="#b2e43a"/>
<rect x="422.7" y="192.81" width="16.8" height="6.59" fill="#e69a28"/>
<rect x="405.9" y="198.4" width="17.4" height="6.59" fill="#b2e43a"/>
<rect x="422.7" y="198.4" width="16.8" height="6.59" fill="#e69a28"/>
<rect x="405.9" y="204.0" width="17.4" height="6.59" fill="#a8e03a"/>
<rect x="422.7" y="204.0" width="16.8" height="6.59" fill="#e69a28"/>
<rect x="405.9" y="209.59" width="17.4" height="6.59" fill="#b2e43a"/>
<rect x="422.7" y="209.59" width="16.8" height="6.59" fill="#e69a28"/>
<rect x="405.9" y="215.18" width="17.4" height="6.59" fill="#98da3a"/>
<rect x="422.7" y="215.18" width="16.8" height="6.59" fill="#e69a28"/>
<rect x="405.9" y="220.78" width="17.4" height="6.59" fill="#a8e03a"/>
<rect x="422.7" y="220.78" width="16.8" height="6.59" fill="#e6a02a"/>
<rect x="405.9" y="226.37" width="17.4" height="6.59" fill="#8fd63a"/>
<rect x="422.7" y="226.37" width="16.8" height="6.59" fill="#e6a02a"/>
<rect x="405.9" y="231.96" width="17.4" height="6.59" fill="#8fd63a"/>
<rect x="422.7" y="231.96" width="16.8" height="6.59" fill="#eab82c"/>
<rect x="405.9" y="237.56" width="17.4" height="6.59" fill="#a8e03a"/>
<rect x="422.7" y="237.56" width="16.8" height="6.59" fill="#edc22e"/>
<rect x="405.9" y="243.15" width="17.4" height="6.59" fill="#a0dc3a"/>
<rect x="422.7" y="243.15" width="16.8" height="6.59" fill="#f0dc30"/>
<rect x="405.9" y="248.74" width="17.4" height="6.59" fill="#ecc02e"/>
<rect x="422.7" y="248.74" width="16.8" height="6.59" fill="#c4e83a"/>
<rect x="405.9" y="254.33" width="17.4" height="6.59" fill="#e8b02a"/>
<rect x="422.7" y="254.33" width="16.8" height="6.59" fill="#a8e03a"/>
<rect x="405.9" y="259.93" width="17.4" height="6.59" fill="#e8b02a"/>
<rect x="422.7" y="259.93" width="16.8" height="6.59" fill="#c4e83a"/>
<rect x="405.9" y="265.52" width="17.4" height="6.59" fill="#e8b02a"/>
<rect x="422.7" y="265.52" width="16.8" height="6.59" fill="#c4e83a"/>
<rect x="405.9" y="271.11" width="17.4" height="6.59" fill="#e8a82a"/>
<rect x="422.7" y="271.11" width="16.8" height="6.59" fill="#a8e03a"/>
<rect x="405.9" y="276.71" width="17.4" height="6.59" fill="#e8a82a"/>
<rect x="422.7" y="276.71" width="16.8" height="6.59" fill="#c4e83a"/>
<rect x="405.9" y="282.3" width="17.4" height="6.59" fill="#e8a82a"/>
<rect x="422.7" y="282.3" width="16.8" height="6.59" fill="#c4e83a"/>
<rect x="405.9" y="287.89" width="17.4" height="6.59" fill="#e6a02a"/>
<rect x="422.7" y="287.89" width="16.8" height="6.59" fill="#a0dc3a"/>
<rect x="405.9" y="293.49" width="17.4" height="6.59" fill="#eab02e"/>
<rect x="422.7" y="293.49" width="16.8" height="6.59" fill="#b8e43a"/>
<rect x="405.9" y="299.08" width="17.4" height="6.59" fill="#e07c1e"/>
<rect x="422.7" y="299.08" width="16.8" height="6.59" fill="#8ad43a"/>
<rect x="405.9" y="304.67" width="17.4" height="5.59" fill="#e06a1a"/>
<rect x="422.7" y="304.67" width="16.8" height="5.59" fill="#78cc34"/>
<rect x="405.6" y="42.1" width="34.4" height="268.9" fill="none" stroke="#000" stroke-width="1.5"/>
<text x="0" y="0" font-size="8.8" fill="#505050" stroke="#505050" transform="translate(379.5,47.1) scale(0.5) rotate(0.2)" style="stroke-width:0.1px">Y68</text>
<text x="0" y="0" font-size="8.8" fill="#505050" stroke="#505050" transform="translate(379.5,52.71) scale(0.5) rotate(0.2)" style="stroke-width:0.1px">S160</text>
<text x="0" y="0" font-size="8.8" fill="#505050" stroke="#505050" transform="translate(379.5,58.32) scale(0.5) rotate(0.2)" style="stroke-width:0.1px">S165</text>
<text x="0" y="0" font-size="8.8" fill="#505050" stroke="#505050" transform="translate(379.5,63.93) scale(0.5) rotate(0.2)" style="stroke-width:0.1px">S619</text>
<text x="0" y="0" font-size="8.8" fill="#505050" stroke="#505050" transform="translate(379.5,69.54) scale(0.5) rotate(0.2)" style="stroke-width:0.1px">Y198</text>
<text x="0" y="0" font-size="8.8" fill="#505050" stroke="#505050" transform="translate(379.5,75.15) scale(0.5) rotate(0.2)" style="stroke-width:0.1px">S612</text>
<text x="0" y="0" font-size="8.8" fill="#505050" stroke="#505050" transform="translate(379.5,80.76) scale(0.5) rotate(0.2)" style="stroke-width:0.1px">S627</text>
<text x="0" y="0" font-size="8.8" fill="#505050" stroke="#505050" transform="translate(379.5,86.37) scale(0.5) rotate(0.2)" style="stroke-width:0.1px">S371</text>
<text x="0" y="0" font-size="8.8" fill="#505050" stroke="#505050" transform="translate(379.5,91.98) scale(0.5) rotate(0.2)" style="stroke-width:0.1px">S697</text>
<text x="0" y="0" font-size="8.8" fill="#505050" stroke="#505050" transform="translate(379.5,97.59) scale(0.5) rotate(0.2)" style="stroke-width:0.1px">S1331</text>
<text x="0" y="0" font-size="8.8" fill="#505050" stroke="#505050" transform="translate(379.5,103.2) scale(0.5) rotate(0.2)" style="stroke-width:0.1px">S20</text>
<text x="0" y="0" font-size="8.8" fill="#505050" stroke="#505050" transform="translate(379.5,108.81) scale(0.5) rotate(0.2)" style="stroke-width:0.1px">S55</text>
<text x="0" y="0" font-size="8.8" fill="#505050" stroke="#505050" transform="translate(379.5,114.42) scale(0.5) rotate(0.2)" style="stroke-width:0.1px">S152</text>
<text x="0" y="0" font-size="8.8" fill="#505050" stroke="#505050" transform="translate(379.5,120.03) scale(0.5) rotate(0.2)" style="stroke-width:0.1px">S22</text>
<text x="0" y="0" font-size="8.8" fill="#505050" stroke="#505050" transform="translate(379.5,125.64) scale(0.5) rotate(0.2)" style="stroke-width:0.1px">T537</text>
<text x="0" y="0" font-size="8.8" fill="#505050" stroke="#505050" transform="translate(379.5,131.25) scale(0.5) rotate(0.2)" style="stroke-width:0.1px">S1059</text>
<text x="0" y="0" font-size="8.8" fill="#505050" stroke="#505050" transform="translate(379.5,136.86) scale(0.5) rotate(0.2)" style="stroke-width:0.1px">S266</text>
<text x="0" y="0" font-size="8.8" fill="#505050" stroke="#505050" transform="translate(379.5,142.47) scale(0.5) rotate(0.2)" style="stroke-width:0.1px">S276</text>
<text x="0" y="0" font-size="8.8" fill="#505050" stroke="#505050" transform="translate(379.5,148.08) scale(0.5) rotate(0.2)" style="stroke-width:0.1px">S988</text>
<text x="0" y="0" font-size="8.8" fill="#505050" stroke="#505050" transform="translate(379.5,153.69) scale(0.5) rotate(0.2)" style="stroke-width:0.1px">S1493</text>
<text x="0" y="0" font-size="8.8" fill="#505050" stroke="#505050" transform="translate(379.5,159.3) scale(0.5) rotate(0.2)" style="stroke-width:0.1px">S76</text>
<text x="0" y="0" font-size="8.8" fill="#505050" stroke="#505050" transform="translate(379.5,164.91) scale(0.5) rotate(0.2)" style="stroke-width:0.1px">S81</text>
<text x="0" y="0" font-size="8.8" fill="#505050" stroke="#505050" transform="translate(379.5,170.52) scale(0.5) rotate(0.2)" style="stroke-width:0.1px">S427</text>
<text x="0" y="0" font-size="8.8" fill="#505050" stroke="#505050" transform="translate(379.5,176.13) scale(0.5) rotate(0.2)" style="stroke-width:0.1px">T134</text>
<text x="0" y="0" font-size="8.8" fill="#505050" stroke="#505050" transform="translate(379.5,181.74) scale(0.5) rotate(0.2)" style="stroke-width:0.1px">S108</text>
<text x="0" y="0" font-size="8.8" fill="#505050" stroke="#505050" transform="translate(379.5,187.35) scale(0.5) rotate(0.2)" style="stroke-width:0.1px">Y24</text>
<text x="0" y="0" font-size="8.8" fill="#505050" stroke="#505050" transform="translate(379.5,192.96) scale(0.5) rotate(0.2)" style="stroke-width:0.1px">S1101</text>
<text x="0" y="0" font-size="8.8" fill="#505050" stroke="#505050" transform="translate(379.5,198.57) scale(0.5) rotate(0.2)" style="stroke-width:0.1px">S142</text>
<text x="0" y="0" font-size="8.8" fill="#505050" stroke="#505050" transform="translate(379.5,204.18) scale(0.5) rotate(0.2)" style="stroke-width:0.1px">S1324</text>
<text x="0" y="0" font-size="8.8" fill="#505050" stroke="#505050" transform="translate(379.5,209.79) scale(0.5) rotate(0.2)" style="stroke-width:0.1px">S372</text>
<text x="0" y="0" font-size="8.8" fill="#505050" stroke="#505050" transform="translate(379.5,215.4) scale(0.5) rotate(0.2)" style="stroke-width:0.1px">S204</text>
<text x="0" y="0" font-size="8.8" fill="#505050" stroke="#505050" transform="translate(379.5,221.01) scale(0.5) rotate(0.2)" style="stroke-width:0.1px">S9</text>
<text x="0" y="0" font-size="8.8" fill="#505050" stroke="#505050" transform="translate(379.5,226.62) scale(0.5) rotate(0.2)" style="stroke-width:0.1px">S226</text>
<text x="0" y="0" font-size="8.8" fill="#505050" stroke="#505050" transform="translate(379.5,232.23) scale(0.5) rotate(0.2)" style="stroke-width:0.1px">S446</text>
<text x="0" y="0" font-size="8.8" fill="#505050" stroke="#505050" transform="translate(379.5,237.84) scale(0.5) rotate(0.2)" style="stroke-width:0.1px">S180</text>
<text x="0" y="0" font-size="8.8" fill="#505050" stroke="#505050" transform="translate(379.5,243.45) scale(0.5) rotate(0.2)" style="stroke-width:0.1px">S458</text>
<text x="0" y="0" font-size="8.8" fill="#505050" stroke="#505050" transform="translate(379.5,249.06) scale(0.5) rotate(0.2)" style="stroke-width:0.1px">S449</text>
<text x="0" y="0" font-size="8.8" fill="#505050" stroke="#505050" transform="translate(379.5,254.67) scale(0.5) rotate(0.2)" style="stroke-width:0.1px">S697/S706</text>
<text x="0" y="0" font-size="8.8" fill="#505050" stroke="#505050" transform="translate(379.5,260.28) scale(0.5) rotate(0.2)" style="stroke-width:0.1px">T521</text>
<text x="0" y="0" font-size="8.8" fill="#505050" stroke="#505050" transform="translate(379.5,265.89) scale(0.5) rotate(0.2)" style="stroke-width:0.1px">S898</text>
<text x="0" y="0" font-size="8.8" fill="#505050" stroke="#505050" transform="translate(379.5,271.5) scale(0.5) rotate(0.2)" style="stroke-width:0.1px">S387</text>
<text x="0" y="0" font-size="8.8" fill="#505050" stroke="#505050" transform="translate(379.5,277.11) scale(0.5) rotate(0.2)" style="stroke-width:0.1px">S363</text>
<text x="0" y="0" font-size="8.8" fill="#505050" stroke="#505050" transform="translate(379.5,282.72) scale(0.5) rotate(0.2)" style="stroke-width:0.1px">S404</text>
<text x="0" y="0" font-size="8.8" fill="#505050" stroke="#505050" transform="translate(379.5,288.33) scale(0.5) rotate(0.2)" style="stroke-width:0.1px">S1083</text>
<text x="0" y="0" font-size="8.8" fill="#505050" stroke="#505050" transform="translate(379.5,293.94) scale(0.5) rotate(0.2)" style="stroke-width:0.1px">S929</text>
<text x="0" y="0" font-size="8.8" fill="#505050" stroke="#505050" transform="translate(379.5,299.55) scale(0.5) rotate(0.2)" style="stroke-width:0.1px">S101</text>
<text x="0" y="0" font-size="8.8" fill="#505050" stroke="#505050" transform="translate(379.5,305.16) scale(0.5) rotate(0.2)" style="stroke-width:0.1px">T150</text>
<text x="0" y="0" font-size="8.8" fill="#505050" stroke="#505050" transform="translate(379.5,310.77) scale(0.5) rotate(0.2)" style="stroke-width:0.1px">S170</text>
<text x="375.5" y="47.8" font-size="6.4" text-anchor="end" textLength="15.1" lengthAdjust="spacingAndGlyphs" fill="#1a1a1a" stroke="#1a1a1a" style="stroke-width:0.12px">CFL1</text>
<text x="375.5" y="57.6" font-size="6.4" text-anchor="end" textLength="26.5" lengthAdjust="spacingAndGlyphs" fill="#1a1a1a" stroke="#1a1a1a" style="stroke-width:0.12px">MAPRE1</text>
<text x="375.5" y="64.5" font-size="6.4" text-anchor="end" textLength="13" lengthAdjust="spacingAndGlyphs" fill="#1a1a1a" stroke="#1a1a1a" style="stroke-width:0.12px">NCL</text>
<text x="375.5" y="70.5" font-size="6.4" text-anchor="end" textLength="19.7" lengthAdjust="spacingAndGlyphs" fill="#1a1a1a" stroke="#1a1a1a" style="stroke-width:0.12px">HCLS1</text>
<text x="375.5" y="77.0" font-size="6.4" text-anchor="end" textLength="24.5" lengthAdjust="spacingAndGlyphs" fill="#1a1a1a" stroke="#1a1a1a" style="stroke-width:0.12px">AKAP12</text>
<text x="375.5" y="104.2" font-size="6.4" text-anchor="end" textLength="15.7" lengthAdjust="spacingAndGlyphs" fill="#1a1a1a" stroke="#1a1a1a" style="stroke-width:0.12px">PAK2</text>
<text x="375.5" y="119.8" font-size="6.4" text-anchor="end" textLength="24.9" lengthAdjust="spacingAndGlyphs" fill="#1a1a1a" stroke="#1a1a1a" style="stroke-width:0.12px">SH2D3C</text>
<text x="375.5" y="126.3" font-size="6.4" text-anchor="end" textLength="20.3" lengthAdjust="spacingAndGlyphs" fill="#1a1a1a" stroke="#1a1a1a" style="stroke-width:0.12px">FNBP1</text>
<text x="375.5" y="133.1" font-size="6.4" text-anchor="end" textLength="21.5" lengthAdjust="spacingAndGlyphs" fill="#1a1a1a" stroke="#1a1a1a" style="stroke-width:0.12px">FMNL1</text>
<text x="375.5" y="139.7" font-size="6.4" text-anchor="end" textLength="18" lengthAdjust="spacingAndGlyphs" fill="#1a1a1a" stroke="#1a1a1a" style="stroke-width:0.12px">LMO7</text>
<text x="375.5" y="159.2" font-size="6.4" text-anchor="end" textLength="23.6" lengthAdjust="spacingAndGlyphs" fill="#1a1a1a" stroke="#1a1a1a" style="stroke-width:0.12px">ATP5A1</text>
<text x="375.5" y="164.8" font-size="6.4" text-anchor="end" textLength="29.5" lengthAdjust="spacingAndGlyphs" fill="#1a1a1a" stroke="#1a1a1a" style="stroke-width:0.12px">COL19A1</text>
<text x="375.5" y="171.05" font-size="6.4" text-anchor="end" textLength="19.5" lengthAdjust="spacingAndGlyphs" fill="#1a1a1a" stroke="#1a1a1a" style="stroke-width:0.12px">FARP1</text>
<text x="375.5" y="176.4" font-size="6.4" text-anchor="end" textLength="25.25" lengthAdjust="spacingAndGlyphs" fill="#1a1a1a" stroke="#1a1a1a" style="stroke-width:0.12px">MYL12A</text>
<text x="375.5" y="182.3" font-size="6.4" text-anchor="end" textLength="20.5" lengthAdjust="spacingAndGlyphs" fill="#1a1a1a" stroke="#1a1a1a" style="stroke-width:0.12px">RCSD1</text>
<text x="375.5" y="187.9" font-size="6.4" text-anchor="end" textLength="29.5" lengthAdjust="spacingAndGlyphs" fill="#1a1a1a" stroke="#1a1a1a" style="stroke-width:0.12px">ANXA2P2</text>
<text x="375.5" y="193.55" font-size="6.4" text-anchor="end" textLength="33.3" lengthAdjust="spacingAndGlyphs" fill="#1a1a1a" stroke="#1a1a1a" style="stroke-width:0.12px">ARHGEF18</text>
<text x="375.5" y="199.55" font-size="6.4" text-anchor="end" textLength="17.4" lengthAdjust="spacingAndGlyphs" fill="#1a1a1a" stroke="#1a1a1a" style="stroke-width:0.12px">DBN1</text>
<text x="375.5" y="205.4" font-size="6.4" text-anchor="end" textLength="18" lengthAdjust="spacingAndGlyphs" fill="#1a1a1a" stroke="#1a1a1a" style="stroke-width:0.12px">MAP2</text>
<text x="375.5" y="211.05" font-size="6.4" text-anchor="end" textLength="26.75" lengthAdjust="spacingAndGlyphs" fill="#1a1a1a" stroke="#1a1a1a" style="stroke-width:0.12px">SAMSN1</text>
<text x="375.5" y="216.9" font-size="6.4" text-anchor="end" textLength="15.75" lengthAdjust="spacingAndGlyphs" fill="#1a1a1a" stroke="#1a1a1a" style="stroke-width:0.12px">PAK1</text>
<text x="375.5" y="222.9" font-size="6.4" text-anchor="end" textLength="17.4" lengthAdjust="spacingAndGlyphs" fill="#1a1a1a" stroke="#1a1a1a" style="stroke-width:0.12px">NARS</text>
<text x="375.5" y="228.3" font-size="6.4" text-anchor="end" textLength="21.1" lengthAdjust="spacingAndGlyphs" fill="#1a1a1a" stroke="#1a1a1a" style="stroke-width:0.12px">PRKCA</text>
<text x="375.5" y="234.8" font-size="6.4" text-anchor="end" textLength="24.5" lengthAdjust="spacingAndGlyphs" fill="#1a1a1a" stroke="#1a1a1a" style="stroke-width:0.12px">SPTBN1</text>
<text x="375.5" y="240.05" font-size="6.4" text-anchor="end" textLength="23.25" lengthAdjust="spacingAndGlyphs" fill="#1a1a1a" stroke="#1a1a1a" style="stroke-width:0.12px">IQSEC1</text>
<text x="375.5" y="245.8" font-size="6.4" text-anchor="end" textLength="21.75" lengthAdjust="spacingAndGlyphs" fill="#1a1a1a" stroke="#1a1a1a" style="stroke-width:0.12px">CD2AP</text>
<text x="375.5" y="251.7" font-size="6.4" text-anchor="end" textLength="24.25" lengthAdjust="spacingAndGlyphs" fill="#1a1a1a" stroke="#1a1a1a" style="stroke-width:0.12px">PTPN12</text>
<text x="375.5" y="257.3" font-size="6.4" text-anchor="end" textLength="16.75" lengthAdjust="spacingAndGlyphs" fill="#1a1a1a" stroke="#1a1a1a" style="stroke-width:0.12px">CD44</text>
<text x="375.5" y="262.9" font-size="6.4" text-anchor="end" textLength="18" lengthAdjust="spacingAndGlyphs" fill="#1a1a1a" stroke="#1a1a1a" style="stroke-width:0.12px">MAP4</text>
<text x="375.5" y="269.2" font-size="6.4" text-anchor="end" textLength="19.5" lengthAdjust="spacingAndGlyphs" fill="#1a1a1a" stroke="#1a1a1a" style="stroke-width:0.12px">LIMA1</text>
<text x="375.5" y="274.7" font-size="6.4" text-anchor="end" textLength="24.9" lengthAdjust="spacingAndGlyphs" fill="#1a1a1a" stroke="#1a1a1a" style="stroke-width:0.12px">PPFIBP2</text>
<text x="375.5" y="283.55" font-size="6.4" text-anchor="end" textLength="24.9" lengthAdjust="spacingAndGlyphs" fill="#1a1a1a" stroke="#1a1a1a" style="stroke-width:0.12px">COBLL1</text>
<text x="375.5" y="289.2" font-size="6.4" text-anchor="end" textLength="19.9" lengthAdjust="spacingAndGlyphs" fill="#1a1a1a" stroke="#1a1a1a" style="stroke-width:0.12px">MLLT4</text>
<text x="375.5" y="295.05" font-size="6.4" text-anchor="end" textLength="23.6" lengthAdjust="spacingAndGlyphs" fill="#1a1a1a" stroke="#1a1a1a" style="stroke-width:0.12px">CEP350</text>
<text x="375.5" y="301.3" font-size="6.4" text-anchor="end" textLength="27.4" lengthAdjust="spacingAndGlyphs" fill="#1a1a1a" stroke="#1a1a1a" style="stroke-width:0.12px">MARCKS</text>
<defs><linearGradient id="cb" x1="0" y1="0" x2="0" y2="1"><stop offset="0" stop-color="#dc1a0c"/><stop offset="0.145" stop-color="#e0661c"/><stop offset="0.29" stop-color="#e8a62a"/><stop offset="0.37" stop-color="#f0e430"/><stop offset="0.45" stop-color="#e2ee34"/><stop offset="0.6" stop-color="#bce43a"/><stop offset="0.82" stop-color="#90d43a"/><stop offset="1" stop-color="#72c233"/></linearGradient></defs>
<rect x="453.6" y="42.1" width="6.4" height="268.9" fill="url(#cb)"/>
<rect x="453.6" y="42.1" width="6.4" height="268.9" fill="none" stroke="#000" stroke-width="1.3"/>
<line x1="453.6" y1="80.6" x2="460" y2="80.6" stroke="#000" stroke-width="1.5" stroke-dasharray="2.2 1.2 2.2"/>
<text x="463.8" y="82.6" font-size="6" fill="#333" stroke="#333" style="stroke-width:0.05px">1</text>
<line x1="453.6" y1="141.0" x2="460" y2="141.0" stroke="#000" stroke-width="1.5" stroke-dasharray="2.2 1.2 2.2"/>
<text x="463.8" y="143.0" font-size="6" fill="#333" stroke="#333" style="stroke-width:0.05px">0</text>
<line x1="453.6" y1="201.4" x2="460" y2="201.4" stroke="#000" stroke-width="1.5" stroke-dasharray="2.2 1.2 2.2"/>
<text x="463.2" y="203.4" font-size="6" fill="#333" stroke="#333" style="stroke-width:0.05px">-1</text>
<line x1="453.6" y1="261.8" x2="460" y2="261.8" stroke="#000" stroke-width="1.5" stroke-dasharray="2.2 1.2 2.2"/>
<text x="463.2" y="263.8" font-size="6" fill="#333" stroke="#333" style="stroke-width:0.05px">-2</text>
<text x="400.8" y="325.2" font-size="6.5" textLength="19.5" lengthAdjust="spacingAndGlyphs" fill="#222" stroke="#222">M-CLL</text>
<text x="423.6" y="325.2" font-size="6.5" textLength="24.3" lengthAdjust="spacingAndGlyphs" fill="#222" stroke="#222">UM-CLL</text>
<text x="8.1" y="242.10000000000002" font-size="11.5" font-weight="bold" textLength="7.1" lengthAdjust="spacingAndGlyphs" fill="#000" stroke="#000">F</text>
<rect x="43.6" y="254" width="12.3" height="2.8000000000000114" fill="#4a5063"/>
<rect x="43.6" y="257.3" width="12.3" height="9.399999999999977" fill="#c9c8cd"/>
<rect x="43.6" y="267.09999999999997" width="12.3" height="71.9" fill="#2d4a7c"/>
<rect x="60" y="254" width="12.3" height="3.1000000000000227" fill="#4a5063"/>
<rect x="60" y="257.6" width="12.3" height="8.699999999999989" fill="#c9c8cd"/>
<rect x="60" y="266.7" width="12.3" height="72.29999999999998" fill="#2d4a7c"/>
<rect x="91.3" y="253.1" width="12.3" height="13.400000000000006" fill="#4a5063"/>
<rect x="91.3" y="267.0" width="12.3" height="5.699999999999989" fill="#c9c8cd"/>
<rect x="91.3" y="273.09999999999997" width="12.3" height="65.9" fill="#2d4a7c"/>
<rect x="107.1" y="254" width="12.3" height="52" fill="#4a5063"/>
<rect x="107.1" y="306.5" width="12.3" height="7.199999999999989" fill="#c9c8cd"/>
<rect x="107.1" y="314.09999999999997" width="12.3" height="24.900000000000013" fill="#2d4a7c"/>
<rect x="139" y="254" width="12.3" height="6.600000000000023" fill="#4a5063"/>
<rect x="139" y="261.1" width="12.3" height="12.5" fill="#c9c8cd"/>
<rect x="139" y="274.0" width="12.3" height="64.99999999999997" fill="#2d4a7c"/>
<rect x="154.8" y="254" width="12.3" height="3.6000000000000227" fill="#4a5063"/>
<rect x="154.8" y="258.1" width="12.3" height="3.3999999999999773" fill="#c9c8cd"/>
<rect x="154.8" y="261.9" width="12.3" height="77.1" fill="#2d4a7c"/>
<rect x="37.3" y="249.2" width="1.5" height="90.8" fill="#000"/>
<rect x="34.8" y="338.7" width="138.2" height="1.4" fill="#000"/>
<line x1="34.8" y1="253.5" x2="38" y2="253.5" stroke="#000" stroke-width="1.2"/>
<text x="32.2" y="255.9" font-size="6.8" text-anchor="end" fill="#222" stroke="#222">100</text>
<line x1="34.8" y1="296.40000000000003" x2="38" y2="296.40000000000003" stroke="#000" stroke-width="1.2"/>
<text x="32.2" y="298.8" font-size="6.8" text-anchor="end" fill="#222" stroke="#222">50</text>
<line x1="34.8" y1="339.3" x2="38" y2="339.3" stroke="#000" stroke-width="1.2"/>
<text x="32.2" y="341.7" font-size="6.8" text-anchor="end" fill="#222" stroke="#222">0</text>
<text x="0" y="0" font-size="7" textLength="25.5" lengthAdjust="spacingAndGlyphs" fill="#222" stroke="#222" transform="translate(17.2,307.3) rotate(-90)">pS:pT:pY</text>
<text x="0" y="0" font-size="6.6" text-anchor="end" textLength="21" lengthAdjust="spacingAndGlyphs" fill="#222" stroke="#222" transform="translate(52.5,347.3) rotate(-45)">M-CLL</text>
<text x="0" y="0" font-size="6.6" text-anchor="end" textLength="25.5" lengthAdjust="spacingAndGlyphs" fill="#222" stroke="#222" transform="translate(71.5,346.8) rotate(-45)">UM-CLL</text>
<text x="0" y="0" font-size="6.6" text-anchor="end" textLength="21" lengthAdjust="spacingAndGlyphs" fill="#222" stroke="#222" transform="translate(98.8,347.3) rotate(-45)">M-CLL</text>
<text x="0" y="0" font-size="6.6" text-anchor="end" textLength="25.5" lengthAdjust="spacingAndGlyphs" fill="#222" stroke="#222" transform="translate(118.7,346.8) rotate(-45)">UM-CLL</text>
<text x="0" y="0" font-size="6.6" text-anchor="end" textLength="21" lengthAdjust="spacingAndGlyphs" fill="#222" stroke="#222" transform="translate(146.3,347.3) rotate(-45)">M-CLL</text>
<text x="0" y="0" font-size="6.6" text-anchor="end" textLength="25.5" lengthAdjust="spacingAndGlyphs" fill="#222" stroke="#222" transform="translate(166.2,346.8) rotate(-45)">UM-CLL</text>
<text x="39.4" y="374.8" font-size="6.8" textLength="35.9" lengthAdjust="spacingAndGlyphs" fill="#222" stroke="#222">BCR vs. nat.</text>
<text x="90" y="375.2" font-size="6.8" textLength="32.9" lengthAdjust="spacingAndGlyphs" fill="#222" stroke="#222">Ibr. vs. nat.</text>
<text x="145" y="375" font-size="6.8" textLength="19" lengthAdjust="spacingAndGlyphs" fill="#222" stroke="#222">BCR +</text>
<text x="138.7" y="382.6" font-size="6.8" textLength="34.5" lengthAdjust="spacingAndGlyphs" fill="#222" stroke="#222">Ibr. vs. BCR</text>
<rect x="175.9" y="289.8" width="9.1" height="4.2" fill="#4a5063"/>
<text x="188" y="294.2" font-size="6" textLength="7.5" lengthAdjust="spacingAndGlyphs" fill="#222" stroke="#222" style="stroke-width:0.08px">pY</text>
<rect x="175.9" y="302.0" width="9.1" height="4.2" fill="#c9c8cd"/>
<text x="188" y="306.4" font-size="6" textLength="7.5" lengthAdjust="spacingAndGlyphs" fill="#222" stroke="#222" style="stroke-width:0.08px">pT</text>
<rect x="175.9" y="314.2" width="9.1" height="4.2" fill="#2d4a7c"/>
<text x="188" y="318.59999999999997" font-size="6" textLength="7.5" lengthAdjust="spacingAndGlyphs" fill="#222" stroke="#222" style="stroke-width:0.08px">pS</text>
<text x="7.3" y="403.5" font-size="11.5" font-weight="bold" textLength="9.1" lengthAdjust="spacingAndGlyphs" fill="#000" stroke="#000">G</text>
<rect x="33.1" y="412.0" width="142.70000000000002" height="51.00000000000004" fill="none" stroke="#000" stroke-width="1.2"/>
<rect x="32.5" y="438.09999999999997" width="143.9" height="1.6" fill="#000"/>
<text x="86.2" y="421.59999999999997" font-size="6.2" textLength="35.7" lengthAdjust="spacingAndGlyphs" fill="#222" stroke="#222">BCR vs. nat.</text>
<text x="67.5" y="434.7" font-size="6.2" textLength="13.5" lengthAdjust="spacingAndGlyphs" fill="#222" stroke="#222">total</text>
<text x="99.8" y="434.7" font-size="6.2" textLength="7.2" lengthAdjust="spacingAndGlyphs" fill="#222" stroke="#222">up</text>
<text x="123.3" y="434.7" font-size="6.2" textLength="16.7" lengthAdjust="spacingAndGlyphs" fill="#222" stroke="#222">down</text>
<text x="150.2" y="434.7" font-size="6.2" textLength="22.5" lengthAdjust="spacingAndGlyphs" fill="#222" stroke="#222">overlap</text>
<text x="36.3" y="450.4" font-size="6.4" textLength="19.4" lengthAdjust="spacingAndGlyphs" stroke="#111">M-CLL</text>
<text x="60.5" y="450.4" font-size="6.4" textLength="27.7" lengthAdjust="spacingAndGlyphs" stroke="#111">132 (106)</text>
<text x="92" y="450.4" font-size="6.4" textLength="23.6" lengthAdjust="spacingAndGlyphs" stroke="#111">119 (98)</text>
<text x="123.8" y="450.4" font-size="6.4" textLength="16.2" lengthAdjust="spacingAndGlyphs" stroke="#111">13 (8)</text>
<text x="151.5" y="450.4" font-size="6.4" textLength="19.8" lengthAdjust="spacingAndGlyphs" stroke="#111">50 (36)</text>
<text x="33.7" y="460.2" font-size="6.4" textLength="25.1" lengthAdjust="spacingAndGlyphs" stroke="#111">UM-CLL</text>
<text x="60.5" y="460.2" font-size="6.4" textLength="27" lengthAdjust="spacingAndGlyphs" stroke="#111">170 (129)</text>
<text x="90" y="460.2" font-size="6.4" textLength="27" lengthAdjust="spacingAndGlyphs" stroke="#111">151 (112)</text>
<text x="122" y="460.2" font-size="6.4" textLength="20" lengthAdjust="spacingAndGlyphs" stroke="#111">19 (17)</text>
<text x="151.5" y="460.2" font-size="6.4" textLength="19.8" lengthAdjust="spacingAndGlyphs" stroke="#111">54 (36)</text>
<text x="192" y="403.40000000000003" font-size="11.5" font-weight="bold" textLength="8" lengthAdjust="spacingAndGlyphs" fill="#000" stroke="#000">H</text>
<rect x="203.6" y="410.20000000000005" width="142.40000000000003" height="50.8" fill="none" stroke="#000" stroke-width="1.2"/>
<rect x="203" y="436.3" width="143.60000000000002" height="1.6" fill="#000"/>
<text x="258.3" y="419.8" font-size="6.2" textLength="32.8" lengthAdjust="spacingAndGlyphs" fill="#222" stroke="#222">Ibr. vs. nat.</text>
<text x="238.8" y="432.90000000000003" font-size="6.2" textLength="13.2" lengthAdjust="spacingAndGlyphs" fill="#222" stroke="#222">total</text>
<text x="271.2" y="432.90000000000003" font-size="6.2" textLength="7.5" lengthAdjust="spacingAndGlyphs" fill="#222" stroke="#222">up</text>
<text x="294.6" y="432.90000000000003" font-size="6.2" textLength="16.8" lengthAdjust="spacingAndGlyphs" fill="#222" stroke="#222">down</text>
<text x="320.2" y="432.90000000000003" font-size="6.2" textLength="22.5" lengthAdjust="spacingAndGlyphs" fill="#222" stroke="#222">overlap</text>
<text x="207.3" y="448.6" font-size="6.4" textLength="19.4" lengthAdjust="spacingAndGlyphs" stroke="#111">M-CLL</text>
<text x="235.3" y="448.6" font-size="6.4" textLength="20.4" lengthAdjust="spacingAndGlyphs" stroke="#111">47 (43)</text>
<text x="264.3" y="448.6" font-size="6.4" textLength="20.7" lengthAdjust="spacingAndGlyphs" stroke="#111">38 (34)</text>
<text x="296.3" y="448.6" font-size="6.4" textLength="13.9" lengthAdjust="spacingAndGlyphs" stroke="#111">9 (9)</text>
<text x="324.9" y="448.6" font-size="6.4" textLength="13.3" lengthAdjust="spacingAndGlyphs" stroke="#111">9 (8)</text>
<text x="204.7" y="458.40000000000003" font-size="6.4" textLength="24.3" lengthAdjust="spacingAndGlyphs" stroke="#111">UM-CLL</text>
<text x="235.3" y="458.40000000000003" font-size="6.4" textLength="20.4" lengthAdjust="spacingAndGlyphs" stroke="#111">46 (44)</text>
<text x="268.3" y="458.40000000000003" font-size="6.4" textLength="12.8" lengthAdjust="spacingAndGlyphs" stroke="#111">4 (4)</text>
<text x="292.9" y="458.40000000000003" font-size="6.4" textLength="20.4" lengthAdjust="spacingAndGlyphs" stroke="#111">42 (40)</text>
<text x="324.9" y="458.40000000000003" font-size="6.4" textLength="13.3" lengthAdjust="spacingAndGlyphs" stroke="#111">9 (8)</text>
<rect x="362.9" y="395.9" width="2.1" height="7.4" fill="#000"/>
<rect x="370.0" y="410.20000000000005" width="142.00000000000006" height="50.999999999999986" fill="none" stroke="#000" stroke-width="1.2"/>
<rect x="369.4" y="436.5" width="143.20000000000005" height="1.6" fill="#000"/>
<text x="414.1" y="419.8" font-size="6.2" textLength="55.9" lengthAdjust="spacingAndGlyphs" fill="#222" stroke="#222">Ibr. + BCR vs. BCR</text>
<text x="405.4" y="432.90000000000003" font-size="6.2" textLength="13.5" lengthAdjust="spacingAndGlyphs" fill="#222" stroke="#222">total</text>
<text x="438" y="432.90000000000003" font-size="6.2" textLength="7.1" lengthAdjust="spacingAndGlyphs" fill="#222" stroke="#222">up</text>
<text x="461.2" y="432.90000000000003" font-size="6.2" textLength="16.5" lengthAdjust="spacingAndGlyphs" fill="#222" stroke="#222">down</text>
<text x="488" y="432.90000000000003" font-size="6.2" textLength="22.8" lengthAdjust="spacingAndGlyphs" fill="#222" stroke="#222">overlap</text>
<text x="374.2" y="448.8" font-size="6.4" textLength="19.4" lengthAdjust="spacingAndGlyphs" stroke="#111">M-CLL</text>
<text x="401.9" y="448.8" font-size="6.4" textLength="20.8" lengthAdjust="spacingAndGlyphs" stroke="#111">13 (13)</text>
<text x="435" y="448.8" font-size="6.4" textLength="12.8" lengthAdjust="spacingAndGlyphs" stroke="#111">7 (7)</text>
<text x="463" y="448.8" font-size="6.4" textLength="13.2" lengthAdjust="spacingAndGlyphs" stroke="#111">6 (6)</text>
<text x="493" y="448.8" font-size="6.4" textLength="13.2" lengthAdjust="spacingAndGlyphs" stroke="#111">2 (2)</text>
<text x="371.6" y="458.6" font-size="6.4" textLength="24.8" lengthAdjust="spacingAndGlyphs" stroke="#111">UM-CLL</text>
<text x="401.9" y="458.6" font-size="6.4" textLength="20.8" lengthAdjust="spacingAndGlyphs" stroke="#111">57 (44)</text>
<text x="435.3" y="458.6" font-size="6.4" textLength="10.2" lengthAdjust="spacingAndGlyphs" stroke="#111">1 (1)</text>
<text x="459.2" y="458.6" font-size="6.4" textLength="20.8" lengthAdjust="spacingAndGlyphs" stroke="#111">56 (43)</text>
<text x="493" y="458.6" font-size="6.4" textLength="13.2" lengthAdjust="spacingAndGlyphs" stroke="#111">5 (2)</text>
<line x1="79.6" y1="488" x2="79.6" y2="576.4" stroke="#cfcfcf" stroke-width="0.7"/>
<line x1="113.2" y1="488" x2="113.2" y2="576.4" stroke="#cfcfcf" stroke-width="0.7"/>
<line x1="38.2" y1="553.4" x2="158.5" y2="553.4" stroke="#cfcfcf" stroke-width="0.7"/>
<path d="M91.4 565.1h0M90.8 560.0h0M82.2 547.0h0M95.8 573.9h0M74.1 529.0h0M85.3 556.8h0M97.0 575.5h0M97.3 575.7h0M85.2 528.1h0M86.4 556.3h0M86.5 546.8h0M83.3 535.1h0M78.7 549.2h0M86.2 551.9h0M95.9 570.4h0M93.2 561.6h0M96.0 571.5h0M69.6 518.9h0M91.2 566.3h0M96.7 573.9h0M78.3 526.8h0M94.6 567.2h0M53.0 517.6h0M80.8 538.7h0M95.9 575.1h0M96.2 571.0h0M90.2 556.9h0M87.8 563.3h0M72.2 548.3h0M94.9 571.8h0M91.0 567.2h0M92.7 571.2h0M91.7 569.2h0M87.9 560.7h0M96.3 572.7h0M90.9 559.9h0M84.0 547.9h0M91.3 554.1h0M89.0 561.5h0M93.7 572.3h0M87.4 557.9h0M89.1 565.3h0M76.9 543.1h0M93.8 569.0h0M96.6 573.3h0M91.6 556.9h0M90.6 563.6h0M94.1 571.5h0M89.2 565.9h0M92.0 555.0h0M95.4 575.4h0M89.6 558.6h0M90.1 556.3h0M90.5 552.2h0M96.2 573.2h0M91.7 565.0h0M78.9 541.7h0M95.9 571.5h0M94.0 571.4h0M93.0 560.3h0M60.3 532.7h0M71.1 542.5h0M94.2 571.2h0M92.3 560.3h0M93.4 570.0h0M93.9 568.6h0M92.5 566.0h0M82.2 537.3h0M85.6 541.0h0M96.9 573.3h0M82.0 529.1h0M90.2 547.9h0M93.3 568.4h0M93.6 562.4h0M97.1 575.4h0M92.3 562.1h0M86.2 535.3h0M89.0 557.8h0M54.2 535.8h0M83.3 546.4h0M85.1 537.2h0M93.4 563.9h0M96.5 573.5h0M97.2 575.6h0M82.1 557.4h0M71.9 545.6h0M94.4 569.2h0M68.0 530.0h0M97.0 574.4h0M87.8 543.8h0M92.8 560.5h0M95.9 572.4h0M94.0 567.5h0M91.8 563.0h0M91.4 561.6h0M67.9 539.3h0M82.5 542.2h0M94.9 574.3h0M87.3 548.2h0M85.7 545.7h0M80.4 530.1h0M96.4 574.2h0M84.0 548.4h0M84.4 536.7h0M77.9 546.0h0M94.1 569.8h0M93.1 564.3h0M96.2 573.7h0M94.6 573.6h0M87.1 555.1h0M93.3 570.0h0M90.0 554.8h0M84.1 557.7h0M87.0 552.5h0M69.5 526.0h0M93.2 560.3h0M73.2 538.3h0M89.9 557.6h0M92.2 562.5h0M93.2 558.0h0M91.7 557.1h0M95.7 573.2h0M83.6 547.4h0M92.9 562.9h0M90.5 554.1h0M91.9 561.3h0M53.8 515.8h0M78.1 554.6h0M95.8 573.3h0M94.1 570.8h0M84.9 552.1h0M87.2 550.7h0M76.4 528.8h0M93.8 567.1h0M93.8 567.6h0M88.6 566.0h0M84.5 552.8h0M84.8 541.0h0M96.0 572.8h0M89.0 543.9h0M89.6 563.5h0M87.1 564.5h0M65.3 524.9h0M84.8 548.4h0M89.1 565.3h0M94.9 569.5h0M85.7 553.1h0M76.0 550.1h0M85.0 554.3h0M96.1 574.6h0M81.5 549.8h0M96.9 574.8h0M95.0 565.7h0M97.2 575.6h0M96.7 575.4h0M91.7 559.7h0M89.0 549.0h0M88.9 560.2h0M85.3 543.4h0M95.3 573.1h0M84.4 556.8h0M77.1 525.2h0M96.4 571.5h0M95.8 573.2h0M79.8 542.7h0M80.0 544.6h0M75.5 538.3h0M89.4 556.5h0M80.4 528.5h0M92.6 562.0h0M90.9 568.8h0M95.8 573.4h0M84.8 548.9h0M90.2 565.3h0M78.5 535.2h0M86.7 563.8h0M94.8 571.4h0M85.7 547.8h0M87.0 547.8h0M73.3 517.7h0M82.3 562.7h0M91.9 570.1h0M89.6 548.0h0M76.2 535.5h0M94.4 571.1h0M75.3 517.2h0M95.5 571.4h0M81.4 516.6h0M74.1 542.5h0M93.6 564.0h0M91.5 560.0h0M89.0 550.2h0M79.3 533.3h0M94.9 569.5h0M88.8 555.6h0M79.7 539.6h0M96.9 575.6h0M76.2 522.9h0M89.9 563.5h0M90.3 563.4h0M93.0 570.1h0M92.7 561.9h0M77.3 543.8h0M77.9 534.3h0M68.2 521.6h0M96.5 573.0h0M85.3 560.2h0M73.0 545.6h0M87.1 549.1h0M84.2 552.4h0M91.6 570.7h0M93.9 571.2h0M91.9 565.0h0M96.7 574.7h0M95.2 570.6h0M91.7 554.0h0M91.1 561.3h0M76.0 528.1h0M88.4 550.2h0M77.8 546.8h0M87.9 546.5h0M84.1 555.3h0M96.7 574.2h0M83.9 542.8h0M93.0 572.7h0M77.7 548.4h0M92.0 571.5h0M89.2 566.9h0M93.2 568.7h0M70.7 531.6h0M91.3 560.6h0M93.0 563.9h0M83.5 548.9h0M94.3 568.0h0M90.6 555.1h0M95.4 570.1h0M94.5 570.8h0M93.1 569.9h0M94.4 569.9h0M86.1 545.0h0M91.4 561.1h0M93.2 561.9h0M87.1 552.1h0M88.7 559.4h0M95.9 574.0h0M94.7 568.4h0M77.1 554.2h0M85.1 536.4h0M96.3 573.7h0M95.1 571.5h0M87.7 556.1h0M79.2 541.6h0M95.8 572.3h0M95.0 571.2h0M81.1 549.2h0M83.4 553.3h0M96.8 575.0h0M93.1 563.6h0M96.8 575.2h0M69.8 525.2h0M92.3 567.9h0M94.4 570.7h0M86.8 549.6h0M95.2 572.2h0M93.1 560.3h0M77.9 534.2h0M70.7 520.3h0M96.8 575.2h0M88.3 554.8h0M88.8 552.8h0M88.5 566.8h0M86.7 533.2h0M81.6 516.0h0M90.4 562.4h0M87.7 558.9h0M92.6 568.0h0M88.3 557.2h0M93.4 567.6h0M91.2 560.5h0M94.4 565.8h0M95.9 574.1h0M91.7 560.6h0M92.1 562.3h0M88.7 558.7h0M94.5 568.9h0M91.3 556.3h0M85.4 543.3h0M92.1 570.2h0M86.7 556.1h0M80.4 549.1h0M91.3 562.5h0M91.2 557.1h0M95.0 574.3h0M94.5 570.9h0M69.7 520.7h0M84.9 535.0h0M96.8 573.5h0M90.4 564.1h0M95.0 567.5h0M91.9 570.8h0M93.9 572.1h0M77.6 536.0h0M97.5 575.7h0M88.7 567.1h0M89.2 549.5h0M80.8 543.3h0M87.6 548.2h0M90.2 563.3h0M91.5 565.2h0M92.9 561.4h0M95.4 574.1h0M95.4 570.7h0M88.7 565.2h0M87.3 551.0h0M94.3 568.7h0M96.0 572.9h0M87.5 555.4h0M78.1 538.3h0M91.1 561.2h0M95.6 574.2h0M88.4 560.9h0M82.3 533.0h0M93.6 571.7h0M84.2 555.0h0M85.2 546.7h0M80.6 546.3h0M73.9 541.4h0M84.5 551.6h0M61.0 518.3h0M80.3 544.6h0M92.3 565.7h0M96.3 573.3h0M94.8 571.8h0M95.1 573.5h0M89.6 554.4h0M89.8 557.5h0M91.4 568.7h0M96.9 574.5h0M44.5 518.9h0M93.5 569.8h0M82.6 537.2h0M84.3 557.1h0M75.6 525.8h0M89.3 562.7h0M92.9 562.1h0M84.9 539.3h0M92.8 565.7h0M66.3 537.3h0M93.5 561.0h0M92.3 563.6h0M85.0 563.7h0M85.3 539.9h0M94.3 572.6h0M89.2 545.4h0M87.4 538.5h0M95.5 574.0h0M77.1 530.9h0M74.0 525.5h0M95.3 574.9h0M94.1 568.2h0M77.9 549.8h0M95.8 571.6h0M89.6 558.3h0M96.5 574.7h0M92.4 563.9h0M72.7 518.7h0M86.5 548.4h0M91.6 560.8h0M92.0 568.1h0M93.7 571.3h0M95.9 572.0h0M83.4 561.9h0M97.5 575.6h0M95.0 570.8h0M90.9 560.8h0M88.7 554.3h0M89.0 545.1h0M94.2 573.3h0M95.4 572.6h0M95.0 570.6h0M83.4 530.4h0M84.2 556.2h0M96.4 575.2h0M90.5 560.8h0M94.1 564.4h0M91.5 563.3h0M90.3 563.5h0M86.9 560.1h0M80.9 537.2h0M97.0 575.0h0M96.6 573.8h0M83.4 557.2h0M88.6 564.2h0M88.1 563.0h0M93.6 571.9h0M77.7 533.1h0M91.1 556.5h0M88.5 555.3h0M87.9 559.5h0M92.9 563.7h0M85.5 539.1h0M76.5 534.1h0M86.6 562.5h0M94.7 571.0h0M92.4 569.3h0M81.0 546.7h0M92.5 561.1h0M81.1 520.2h0M92.5 560.6h0M93.9 564.1h0M86.6 539.4h0M92.0 555.8h0M83.2 535.6h0M91.8 559.9h0M84.2 538.5h0M82.5 518.5h0M96.9 573.3h0M95.7 573.4h0M95.6 575.6h0M94.5 570.3h0M80.7 545.2h0M96.4 575.3h0M58.3 532.8h0M85.4 546.3h0M89.7 561.6h0M81.0 548.7h0M78.0 546.7h0M82.0 550.3h0M89.5 554.8h0M91.4 566.7h0M90.3 560.7h0M91.3 568.1h0M94.4 563.7h0M79.4 532.1h0M90.9 570.4h0M93.3 572.0h0M86.5 547.6h0M93.4 563.7h0M91.2 559.4h0M85.7 541.2h0M95.1 574.7h0M95.2 572.0h0M95.8 572.3h0M70.1 549.9h0M92.0 565.9h0M91.3 559.0h0M89.0 558.7h0M75.1 537.0h0M92.3 567.0h0M95.0 569.9h0M94.1 564.9h0M96.2 573.5h0M89.4 561.9h0M93.8 568.8h0M92.8 568.5h0M92.8 563.9h0M80.7 533.3h0M84.2 543.5h0M85.3 539.5h0M88.7 556.3h0M87.6 552.7h0M95.2 572.6h0M95.9 571.1h0M93.5 569.2h0M80.0 518.5h0M87.4 553.0h0M91.7 562.4h0M91.4 558.4h0M93.2 562.4h0M89.1 551.5h0M95.4 571.0h0M91.6 560.3h0M81.2 559.4h0M94.0 566.6h0M92.7 560.3h0M83.7 551.2h0M90.2 565.0h0M84.0 544.7h0M99.7 574.3h0M133.4 522.5h0M102.1 569.5h0M104.1 562.3h0M102.1 566.7h0M109.4 553.2h0M109.1 562.9h0M100.2 572.1h0M100.0 573.7h0M100.6 569.4h0M101.2 566.5h0M100.9 573.5h0M99.3 573.7h0M99.7 569.6h0M103.4 564.0h0M99.4 573.0h0M98.8 575.6h0M107.7 559.9h0M102.2 568.2h0M98.3 575.6h0M99.1 575.0h0M106.1 552.6h0M100.0 570.1h0M101.1 568.3h0M106.0 554.7h0M105.4 554.1h0M100.2 575.4h0M112.0 550.7h0M110.1 555.3h0M100.7 572.8h0M102.9 566.2h0M100.7 572.4h0M102.0 562.1h0M101.7 567.9h0M111.7 540.8h0M101.7 571.1h0M101.5 571.5h0M114.5 535.2h0M110.0 553.2h0M102.5 565.2h0M105.8 555.0h0M105.7 559.2h0M100.7 570.8h0M100.0 572.5h0M100.5 574.0h0M109.7 548.0h0M104.3 566.4h0M102.4 566.7h0M103.8 559.0h0M100.9 569.4h0M100.4 574.6h0M100.2 573.6h0M99.2 572.6h0M101.2 568.7h0M112.6 549.8h0M111.0 537.8h0M106.0 560.5h0M104.8 554.0h0M101.2 574.1h0M106.5 550.6h0M99.6 575.0h0M101.4 566.1h0M99.1 572.6h0M107.1 547.5h0M115.2 540.2h0M111.3 554.1h0M99.4 572.7h0M101.0 570.1h0M119.6 528.7h0M99.3 571.7h0M102.6 563.4h0M106.8 548.1h0M103.2 569.5h0M100.8 567.9h0M131.4 538.0h0M100.1 572.8h0M113.4 545.3h0M98.4 575.4h0M105.5 557.8h0M105.9 559.7h0M105.9 567.9h0M110.2 557.1h0M106.5 559.0h0M99.4 575.7h0M116.9 539.6h0M108.6 557.2h0M111.5 557.8h0M98.7 575.2h0M121.9 520.1h0M99.1 573.7h0M118.7 525.2h0M101.1 570.5h0M106.6 557.8h0M100.1 573.5h0M107.4 561.3h0M99.3 574.2h0M101.0 569.7h0M100.6 572.2h0M101.0 567.4h0M101.0 571.5h0M120.9 541.2h0M109.5 549.4h0M100.0 574.7h0M100.7 569.4h0M110.2 544.9h0M99.5 573.7h0M99.7 571.8h0M102.9 562.5h0M104.8 563.7h0M98.7 575.3h0M105.3 555.9h0M113.1 544.4h0M103.0 566.7h0M100.2 572.6h0M101.9 567.4h0M100.2 571.8h0M102.7 559.7h0M101.4 570.2h0M100.7 572.1h0M104.0 561.1h0M103.5 557.6h0M104.0 560.4h0M103.1 569.7h0M99.7 572.6h0M102.6 564.2h0M107.6 549.3h0M129.9 528.1h0M100.3 572.1h0M102.8 563.7h0M108.1 559.0h0M102.7 567.6h0M103.1 566.5h0M99.4 574.1h0M99.3 574.2h0M100.6 568.5h0M109.1 555.8h0M102.4 562.8h0M109.0 540.1h0M98.7 574.8h0M99.8 573.6h0M105.3 559.4h0M104.8 559.5h0M99.4 575.0h0M99.9 572.1h0M104.9 560.6h0M105.9 555.5h0M100.2 572.7h0M107.5 552.2h0M107.6 552.1h0M105.0 560.1h0M104.2 559.3h0M105.1 557.4h0M102.5 569.4h0M104.6 566.0h0M101.1 569.9h0M100.6 571.2h0M98.7 575.2h0M100.6 573.3h0M103.7 560.1h0M100.2 569.0h0M106.8 561.0h0M104.7 566.4h0M101.4 571.0h0M104.3 561.1h0M100.3 569.9h0M110.2 558.1h0M111.2 536.6h0M106.0 560.1h0M100.9 568.1h0M111.3 549.3h0M107.9 551.4h0M105.1 559.7h0M101.1 566.3h0M104.9 564.4h0M111.5 548.1h0M103.3 563.7h0M100.6 572.4h0M99.1 574.8h0M103.6 568.4h0M104.4 559.3h0M99.2 573.8h0M108.3 546.0h0M107.4 544.5h0M104.7 556.9h0M98.7 574.7h0M105.9 562.4h0M101.5 569.5h0M108.3 561.7h0M108.9 556.6h0M103.6 560.3h0M103.4 564.5h0M104.9 565.4h0M104.3 559.5h0M105.9 548.2h0M101.3 568.6h0M121.4 538.1h0M104.6 563.1h0M101.8 569.4h0M100.3 569.1h0M115.5 525.6h0M101.5 565.3h0M111.3 551.5h0M105.3 561.8h0M105.5 558.3h0M103.2 565.7h0M100.1 572.2h0M98.5 573.9h0M99.8 574.0h0M107.5 558.7h0M108.6 554.1h0M107.8 559.0h0M100.6 572.4h0M99.8 574.3h0M101.6 567.8h0M109.0 544.2h0M106.0 560.0h0M103.0 571.0h0M101.3 567.6h0M103.6 567.5h0M101.7 570.5h0M111.1 546.6h0M99.2 573.7h0M102.7 565.0h0M105.5 559.7h0M98.7 573.9h0M105.1 566.1h0M101.3 569.7h0M114.9 553.6h0M106.0 565.1h0M98.7 575.0h0M103.0 561.4h0M104.0 562.8h0M101.9 563.8h0M99.3 574.6h0M106.1 561.8h0M101.1 570.3h0M106.8 551.7h0M115.5 541.8h0M103.1 569.3h0M101.0 573.0h0M113.4 550.9h0M98.5 575.2h0M100.2 571.6h0M116.5 543.8h0M59.1 523.6h0M51.5 557.1h0M65.3 537.3h0M129.4 521.3h0M124.1 535.4h0M127.5 508.6h0M123.8 542.2h0" stroke="#555" stroke-width="1.3" stroke-linecap="round" stroke-opacity="0.75" fill="none"/>
<path d="M96.1 573.1h0M85.8 549.6h0M91.6 559.0h0M88.7 539.5h0M96.1 574.1h0M83.1 539.6h0M96.6 572.1h0M94.2 567.8h0M96.1 573.4h0M88.6 560.5h0M95.9 571.2h0M95.6 572.3h0M92.8 561.1h0M96.7 571.8h0M96.6 574.2h0M81.2 542.3h0M93.6 566.4h0M96.0 572.7h0M83.5 551.0h0M93.0 560.6h0M80.6 550.8h0M96.5 573.3h0M93.0 565.3h0M96.1 573.1h0M93.0 556.7h0M95.9 573.1h0M96.5 571.8h0M96.2 571.3h0M91.2 550.5h0M95.0 567.5h0M94.9 569.8h0M78.6 540.6h0M96.6 571.5h0M94.5 564.1h0M97.4 575.7h0M96.2 571.3h0M93.9 565.5h0M92.0 554.4h0M95.6 572.7h0M93.4 557.6h0M95.0 567.7h0M94.3 560.9h0M96.1 571.2h0M96.3 571.7h0M94.7 566.9h0M77.8 530.7h0M90.3 545.9h0M96.5 573.4h0M96.7 573.8h0M96.4 574.4h0M89.7 552.6h0M96.7 574.1h0M88.7 558.1h0M96.9 574.8h0M96.8 574.8h0M86.0 555.3h0M94.0 562.3h0M94.2 567.1h0M95.6 570.4h0M96.8 575.0h0M92.7 566.2h0M95.1 568.8h0M96.7 574.7h0M94.9 570.9h0M96.4 573.7h0M94.3 568.2h0M94.8 569.0h0M95.0 571.5h0M96.9 574.0h0M83.3 539.4h0M93.0 558.9h0M94.9 566.6h0M97.3 575.8h0M82.6 545.4h0M93.6 562.7h0M94.0 561.7h0M96.1 572.0h0M92.9 563.6h0M93.2 563.3h0M95.8 568.5h0M83.3 540.0h0M97.1 574.8h0M91.9 550.4h0M96.3 573.2h0M95.6 568.3h0M89.1 542.9h0M97.2 574.1h0M95.9 571.5h0M85.1 550.1h0M93.1 562.3h0M77.8 535.5h0M95.7 572.3h0M96.7 575.7h0M92.3 553.6h0M97.2 575.6h0M96.6 573.3h0M95.7 570.3h0M97.1 575.4h0M91.8 563.1h0M89.5 555.4h0M87.0 549.4h0M92.6 564.6h0M96.9 575.2h0M96.8 574.6h0M93.5 565.4h0M96.8 572.8h0M97.5 575.4h0M96.5 572.6h0M91.3 563.8h0M85.1 552.2h0M92.2 562.3h0M96.9 574.4h0M93.1 568.4h0M96.0 571.8h0M95.6 571.0h0M92.3 568.5h0M96.0 574.6h0M95.4 565.3h0M96.4 573.2h0M97.3 574.6h0M90.4 554.3h0M93.5 564.7h0M92.2 565.6h0M83.3 531.9h0M92.9 563.7h0M96.3 570.8h0M87.9 555.2h0M87.6 544.8h0M94.4 570.4h0M96.8 573.3h0M92.0 555.2h0M94.2 567.0h0M95.8 571.0h0M93.7 567.6h0M94.5 564.3h0M95.7 572.7h0M93.6 566.7h0M86.7 544.7h0M95.2 571.7h0M95.7 570.8h0M95.0 567.4h0M94.2 563.9h0M93.2 556.9h0M93.0 566.5h0M94.7 570.5h0M92.8 556.2h0M96.3 571.3h0M94.7 567.4h0M91.4 565.9h0M91.3 552.1h0M94.6 567.2h0M97.5 575.3h0M93.1 566.3h0M91.3 560.4h0M95.2 567.2h0M94.2 571.1h0M96.4 570.8h0M95.5 567.5h0M95.9 571.6h0M96.1 571.6h0M90.8 548.2h0M84.9 554.9h0M90.0 561.3h0M94.4 566.8h0M95.4 573.0h0M85.3 545.2h0M86.8 548.9h0M94.1 564.0h0M74.1 541.8h0M95.3 573.0h0M96.0 572.7h0M90.9 548.2h0M96.8 574.7h0M96.0 571.4h0M93.7 567.5h0M84.3 536.4h0M91.0 556.3h0M95.5 572.0h0M92.7 563.8h0M97.2 575.4h0M90.2 556.2h0M96.1 571.0h0M96.4 572.2h0M84.3 541.0h0M96.8 573.7h0M96.2 574.3h0M73.4 537.4h0M89.5 559.3h0M94.8 569.0h0M81.3 537.2h0M89.3 560.2h0M87.1 549.2h0M84.7 547.2h0M94.8 568.4h0M89.6 554.2h0M95.8 572.1h0M94.1 560.8h0M91.5 554.1h0M97.4 575.7h0M94.2 565.6h0M92.0 566.8h0M82.9 548.6h0M96.4 574.1h0M90.9 558.0h0M92.5 561.1h0M90.2 560.0h0M95.6 571.7h0M94.3 565.0h0M95.9 570.6h0M94.8 568.0h0M93.8 570.0h0M95.9 571.3h0M94.8 569.7h0M78.2 536.1h0M97.0 574.8h0M90.8 561.5h0M91.9 550.8h0M96.9 574.9h0M88.9 551.6h0M94.0 561.2h0M93.1 566.2h0M92.2 560.4h0M87.5 544.5h0M88.5 555.5h0M96.1 571.8h0M93.4 563.9h0M97.3 575.5h0M93.8 563.8h0M80.7 533.6h0M95.7 569.3h0M94.9 569.8h0M91.6 554.3h0M92.5 555.8h0M87.1 551.6h0M90.7 566.5h0M92.4 564.1h0M96.2 573.2h0M96.2 572.9h0M88.7 560.3h0M95.0 570.6h0M95.8 572.9h0M94.7 569.5h0M97.0 574.9h0M84.0 539.7h0M94.2 566.4h0M97.1 573.7h0M94.8 571.7h0M92.2 561.8h0M90.6 560.4h0M91.2 550.1h0M95.5 570.0h0M94.2 562.8h0M90.3 559.2h0M92.0 561.6h0M93.8 562.1h0M96.9 573.2h0M95.4 567.7h0M96.3 571.3h0M87.8 551.8h0M90.4 553.3h0M94.2 566.1h0M96.7 575.3h0M94.0 566.4h0M95.7 571.2h0M94.8 566.4h0M92.3 563.1h0M95.7 570.6h0M97.3 575.8h0M86.0 555.3h0M97.1 574.6h0M90.1 554.6h0M95.0 566.5h0M95.7 571.6h0M96.6 573.9h0M97.1 575.0h0M90.5 558.6h0M96.1 572.2h0M93.5 565.7h0M95.1 569.7h0M92.5 556.1h0M95.5 568.1h0M94.9 566.0h0M97.2 575.3h0M93.4 569.7h0M96.8 573.7h0M84.2 542.9h0M96.4 575.1h0M96.9 572.7h0M91.8 550.3h0M88.6 547.6h0M96.2 572.5h0M91.2 557.5h0M95.9 568.8h0M91.9 558.0h0M91.0 553.5h0M96.2 572.3h0M94.2 567.3h0M92.0 553.8h0M93.6 561.1h0M93.3 564.1h0M86.7 549.5h0M91.8 551.8h0M96.0 570.3h0M93.9 564.4h0M96.4 574.5h0M86.1 542.5h0M94.8 564.4h0M95.4 570.8h0M92.5 567.2h0M95.6 569.1h0M87.3 546.0h0M95.4 567.8h0M96.3 573.3h0M94.6 568.8h0M90.6 566.9h0M93.6 564.0h0M97.2 574.9h0M96.7 573.8h0M85.7 551.4h0M92.0 566.7h0M96.2 574.4h0M88.1 552.3h0M97.4 575.1h0M97.1 575.4h0M95.9 570.0h0M89.7 541.8h0M95.5 572.9h0M96.9 573.2h0M91.9 559.5h0M94.2 563.6h0M86.3 557.1h0M89.1 544.7h0M95.6 571.3h0M95.3 572.2h0M96.0 570.2h0M97.4 575.5h0M96.1 569.9h0M96.0 573.0h0M96.4 572.5h0M82.7 538.8h0M85.8 535.5h0M94.8 566.0h0M87.2 550.6h0M86.8 545.6h0M92.0 556.4h0M96.3 572.7h0M96.0 572.0h0M95.8 569.2h0M96.2 571.8h0M86.1 544.8h0M95.0 571.5h0M91.7 552.5h0M97.5 575.7h0M95.9 569.4h0M90.4 558.4h0M92.5 552.7h0M95.8 571.4h0M95.4 568.7h0M94.8 570.4h0M88.8 547.8h0M95.0 565.8h0M97.4 575.8h0M90.9 548.1h0M95.6 572.3h0M96.8 574.9h0M93.3 557.5h0M86.9 558.4h0M95.8 573.3h0M93.6 563.2h0M95.7 569.9h0M94.7 568.9h0M91.3 558.1h0M97.2 575.2h0M92.6 554.7h0M91.1 561.8h0M95.2 567.9h0M93.9 568.5h0M95.9 573.8h0M91.4 552.8h0M89.7 553.4h0M94.9 571.9h0M96.5 573.0h0M86.3 558.3h0M95.4 571.4h0M91.5 558.0h0M93.1 567.9h0M95.2 566.8h0M95.1 568.3h0M88.0 554.2h0M94.7 568.1h0M96.7 573.6h0M91.6 560.1h0M96.9 575.3h0M95.4 569.5h0M95.0 571.1h0M78.8 548.7h0M92.7 565.4h0M96.4 573.5h0M89.5 554.6h0M97.2 575.2h0M93.0 567.5h0M96.8 572.7h0M91.8 563.7h0M96.0 572.5h0M95.9 572.1h0M96.9 574.9h0M91.6 560.8h0M95.0 566.9h0M94.5 568.5h0M94.9 567.9h0M93.6 565.4h0M96.5 572.3h0M95.6 571.9h0M96.7 572.7h0M96.1 571.5h0M95.9 571.3h0M94.7 569.8h0M96.9 574.1h0M92.5 564.7h0M88.8 547.0h0M93.5 565.4h0M96.2 572.3h0M97.3 574.7h0M92.7 559.9h0M86.1 549.0h0M94.7 570.8h0M95.8 570.1h0M86.6 559.4h0M96.6 572.9h0M96.4 571.7h0M96.3 572.9h0M97.3 575.2h0M95.8 570.1h0M96.4 573.5h0M93.2 561.8h0M92.8 553.4h0M96.1 573.3h0M91.0 557.1h0M96.7 573.9h0M85.6 535.9h0M96.0 571.9h0M89.4 554.1h0M89.6 563.9h0M95.3 570.4h0M84.6 545.0h0M91.4 555.4h0M93.2 567.9h0M96.5 571.3h0M95.1 569.4h0M93.9 561.1h0M97.6 575.8h0M96.5 573.2h0M91.5 560.1h0M94.4 568.7h0M84.3 538.5h0M95.3 570.4h0M92.2 565.1h0M94.1 566.0h0M89.6 557.5h0M81.0 543.4h0M94.7 565.7h0M95.3 571.7h0M96.8 573.4h0M94.3 563.3h0M87.1 551.7h0M96.1 570.0h0M95.5 570.3h0M97.1 575.0h0M94.1 561.7h0M96.6 572.9h0M93.6 561.1h0M93.5 560.3h0M95.3 568.3h0M89.7 555.2h0M96.6 574.8h0M96.1 572.9h0M91.5 559.6h0M90.9 563.6h0M96.4 572.0h0M93.8 564.3h0M94.5 569.8h0M97.2 575.8h0M86.5 548.5h0M95.5 571.7h0M91.9 565.2h0M91.1 562.3h0M90.4 554.7h0M85.8 530.7h0M92.3 557.7h0M95.5 571.2h0M96.1 569.2h0M79.6 538.5h0M93.4 562.5h0M96.0 569.8h0M91.2 556.0h0M93.5 566.2h0M95.9 568.4h0M87.2 563.9h0M95.9 572.4h0M93.7 559.7h0M96.4 573.5h0M96.2 571.9h0M94.7 571.1h0M95.6 572.1h0M96.2 571.3h0M96.6 574.2h0M94.2 570.4h0M96.7 574.0h0M96.4 572.6h0M94.2 562.2h0M89.8 554.6h0M89.3 554.6h0M85.8 532.6h0M94.9 570.4h0M84.8 538.6h0M95.3 570.7h0M92.8 563.7h0M95.1 568.9h0M93.2 569.4h0M94.1 563.0h0M93.7 561.9h0M97.1 573.7h0M95.9 569.1h0M88.6 536.0h0M91.2 555.0h0M97.3 575.7h0M90.8 560.0h0M95.2 569.5h0M90.2 553.4h0M92.1 562.9h0M88.9 553.2h0M96.5 574.3h0M97.0 573.7h0M88.2 558.5h0M86.2 541.1h0M85.0 543.0h0M96.9 573.7h0M74.5 543.3h0M96.9 574.8h0M95.9 569.9h0M96.4 570.8h0M94.8 571.3h0M91.8 564.0h0M86.3 538.5h0M94.3 565.5h0M92.8 561.3h0M91.7 562.2h0M81.6 534.9h0M88.6 539.7h0M93.5 564.6h0M92.7 564.1h0M96.1 569.0h0M91.3 548.0h0M92.7 563.0h0M95.0 565.9h0M67.4 539.6h0M96.8 575.0h0M95.6 572.6h0M90.5 559.5h0M96.5 571.4h0M92.2 558.3h0M95.6 572.3h0M94.1 569.4h0M94.5 565.6h0M96.9 575.2h0M91.6 557.8h0M91.9 567.1h0M92.0 562.0h0M93.6 565.1h0M96.6 572.9h0M95.9 573.8h0M97.0 574.5h0M92.4 564.9h0M78.3 541.5h0M95.7 572.9h0M96.4 574.6h0M94.2 569.0h0M94.6 570.0h0M93.4 565.0h0M95.5 568.2h0M95.1 571.6h0M87.5 561.1h0M93.0 569.3h0M89.8 550.9h0M94.6 566.4h0M93.9 563.1h0M93.1 562.9h0M85.6 549.0h0M97.3 575.3h0M91.3 559.6h0M92.4 555.6h0M94.2 563.8h0M96.0 570.2h0M92.6 565.5h0M94.9 570.8h0M96.3 571.0h0M84.4 534.3h0M97.3 575.5h0M97.4 575.7h0M95.0 564.2h0M91.7 562.6h0M94.9 569.5h0M96.3 574.2h0M96.3 572.7h0M95.4 571.3h0M95.6 570.1h0M83.4 549.8h0M88.5 556.2h0M92.2 560.7h0M95.9 571.0h0M89.1 561.9h0M96.1 569.5h0M93.1 566.6h0M89.9 565.6h0M92.7 566.8h0M91.6 563.9h0M95.7 566.7h0M87.8 556.1h0M94.3 565.7h0M95.7 571.8h0M92.2 564.9h0M95.8 569.5h0M94.1 563.9h0M93.1 559.4h0M96.4 573.7h0M88.7 546.3h0M96.9 573.4h0M94.0 565.6h0M95.5 568.6h0M85.9 545.1h0M89.0 558.7h0M94.6 562.9h0M94.7 564.5h0M97.1 575.1h0M80.3 552.7h0M93.6 562.7h0M96.8 574.6h0M94.0 564.8h0M91.0 560.1h0M92.7 566.1h0M88.9 560.6h0M94.6 570.9h0M88.0 560.4h0M95.2 567.6h0M96.6 574.1h0M93.1 564.5h0M91.3 554.5h0M96.2 572.1h0M90.2 554.9h0M93.6 567.4h0M96.4 573.9h0M96.9 575.0h0M94.6 570.0h0M94.4 568.5h0M94.0 563.0h0M95.5 569.0h0M96.0 572.4h0M94.1 560.5h0M84.7 556.8h0M96.5 574.6h0M95.9 571.2h0M82.3 551.7h0M94.8 566.9h0M96.2 572.7h0M96.4 570.7h0M88.8 551.1h0M96.6 575.3h0M86.2 544.7h0M94.2 561.6h0M94.9 565.7h0M96.4 572.7h0M95.6 571.2h0M93.8 564.7h0M92.2 564.4h0M92.8 562.4h0M92.6 562.0h0M89.6 557.9h0M96.0 572.0h0M95.3 570.7h0M96.3 571.3h0M90.8 551.6h0M95.9 572.6h0M91.4 563.6h0M94.3 567.2h0M95.7 567.9h0M96.4 571.3h0M87.0 553.8h0M96.1 572.6h0M94.7 570.8h0M74.2 536.3h0M87.1 545.3h0M94.0 567.8h0M96.5 574.9h0M94.4 565.5h0M88.2 542.7h0M96.2 571.7h0M93.0 566.9h0M96.1 571.8h0M96.6 573.6h0M89.2 549.6h0M96.4 571.8h0M92.2 564.9h0M86.7 560.4h0M89.0 537.3h0M87.5 554.1h0M96.1 571.2h0M95.0 566.9h0M93.4 558.7h0M97.0 574.1h0M96.8 572.3h0M87.6 553.3h0M92.9 561.7h0M96.7 574.4h0M92.9 558.7h0M96.5 573.6h0M93.0 563.1h0M96.4 571.1h0M88.1 551.7h0M88.5 547.3h0M96.1 573.1h0M78.7 544.1h0M95.1 570.9h0M96.9 573.6h0M93.9 569.3h0M94.9 571.6h0M94.3 569.0h0M84.6 554.5h0M96.9 572.7h0M83.4 552.7h0M96.3 574.0h0M95.1 568.9h0M93.8 563.5h0M92.0 563.5h0M92.4 563.6h0M95.2 569.8h0M94.6 568.4h0M95.5 567.5h0M94.5 571.7h0M96.5 574.2h0M92.2 560.8h0M88.0 541.9h0M94.5 567.7h0M96.4 573.6h0M96.9 575.5h0M97.2 574.4h0M92.9 559.3h0M95.9 573.2h0M86.5 540.8h0M95.6 568.4h0M97.2 575.2h0M92.7 565.1h0M95.3 566.7h0M94.4 569.1h0M93.2 559.0h0M89.4 555.7h0M96.2 570.1h0M95.5 571.3h0M84.5 552.7h0M96.5 572.8h0M96.8 574.2h0M95.2 569.5h0M89.8 558.0h0M90.3 564.1h0M95.5 570.8h0M92.4 555.8h0M93.6 563.7h0M95.1 569.6h0M96.9 574.4h0M92.5 563.1h0M94.2 568.0h0M94.3 565.1h0M97.5 575.6h0M95.8 569.7h0M95.4 569.5h0M95.6 570.6h0M91.5 554.0h0M96.7 574.3h0M90.9 554.0h0M94.6 569.0h0M96.7 574.7h0M91.0 564.0h0M92.1 558.4h0M90.3 557.4h0M96.6 574.6h0M88.4 558.8h0M96.9 575.4h0M90.1 558.4h0M95.2 569.4h0M94.9 567.4h0M96.5 573.8h0M94.0 566.9h0M95.9 571.4h0M93.8 563.4h0M97.3 575.7h0M94.7 562.9h0M96.2 570.9h0M81.1 543.0h0M79.3 538.0h0M97.1 574.4h0M94.7 565.0h0M94.8 569.3h0M92.8 555.9h0M94.4 565.8h0M89.9 560.3h0M96.6 575.1h0M96.7 574.3h0M93.2 567.7h0M92.6 564.1h0M96.8 574.7h0M89.6 560.8h0M89.6 539.3h0M90.3 544.4h0M91.6 559.4h0M95.0 565.8h0M94.2 561.8h0M90.1 556.1h0M92.2 560.1h0M96.5 574.3h0M89.8 556.8h0M94.9 572.5h0M95.7 572.2h0M95.2 567.4h0M96.7 574.0h0M96.1 573.0h0M94.7 565.2h0M93.5 566.7h0M95.8 572.6h0M97.1 575.7h0M96.0 573.0h0M81.8 544.9h0M79.0 536.7h0M85.8 552.2h0M85.7 549.4h0M95.7 570.3h0M94.5 565.0h0M97.1 575.2h0M88.1 562.0h0M97.2 574.5h0M96.9 575.4h0M89.7 559.0h0M92.2 562.6h0M80.5 542.7h0M97.4 575.3h0M97.2 575.3h0M96.9 574.2h0M95.9 570.0h0M96.5 574.3h0M94.8 567.7h0M97.0 575.6h0M93.7 561.5h0M94.8 563.1h0M93.8 565.6h0M94.5 569.6h0M96.4 572.7h0M82.5 556.6h0M94.2 563.7h0M96.8 575.1h0M92.5 557.1h0M79.2 538.5h0M93.1 560.2h0M93.4 564.9h0M96.2 573.5h0M94.4 568.2h0M91.3 562.0h0M96.9 573.5h0M93.7 557.7h0M94.4 570.5h0M94.4 563.3h0M84.4 538.5h0M90.4 559.1h0M94.7 571.8h0M91.7 565.4h0M85.9 549.1h0M97.2 575.0h0M95.7 574.0h0M94.2 566.5h0M96.6 574.5h0M94.8 570.8h0M90.5 563.2h0M96.7 574.2h0M93.8 566.8h0M91.6 560.2h0M96.3 572.6h0M95.7 569.6h0M88.1 562.3h0M93.7 567.2h0M94.3 563.3h0M76.1 542.6h0M97.2 575.2h0M97.1 573.7h0M93.4 564.0h0M87.8 551.0h0M91.2 548.4h0M86.4 561.8h0M95.4 572.2h0M91.3 567.2h0M86.8 547.8h0M89.8 556.5h0M96.9 575.1h0M96.8 574.9h0M85.7 550.3h0M91.9 565.4h0M94.0 561.2h0M93.6 566.9h0M96.6 571.9h0M93.0 556.3h0M93.6 568.2h0M96.5 572.0h0M96.6 574.4h0M91.7 559.0h0M96.3 573.2h0M96.4 572.1h0M84.9 550.5h0M93.1 563.8h0M86.8 543.9h0M96.1 571.1h0M80.0 537.5h0M88.9 557.2h0M84.5 554.9h0M90.7 566.9h0M93.6 569.0h0M96.2 571.4h0M92.9 567.2h0M91.8 565.4h0M95.2 568.2h0M96.7 575.0h0M97.1 575.7h0M88.8 558.4h0M86.7 547.5h0M96.0 573.1h0M89.3 549.0h0M97.3 575.6h0M89.3 559.5h0M91.0 556.0h0M97.0 575.3h0M86.4 551.6h0M92.8 561.9h0M95.7 570.4h0M85.5 542.5h0M93.1 566.5h0M89.8 551.5h0M91.5 555.5h0M96.6 574.9h0M96.0 569.4h0M91.1 559.2h0M94.7 567.7h0M90.8 557.7h0M91.4 560.9h0M94.9 571.7h0M95.0 567.1h0M96.4 574.7h0M89.1 561.6h0M96.6 573.3h0M89.3 565.7h0M94.1 569.0h0M96.2 570.0h0M91.8 555.9h0M95.2 567.2h0M86.6 532.6h0M95.0 564.6h0M87.2 545.3h0M95.5 570.1h0M94.9 573.0h0M96.7 575.5h0M90.2 558.4h0M97.3 575.4h0M97.5 575.3h0M94.8 567.5h0M96.0 569.3h0M86.3 559.4h0M89.5 549.4h0M95.4 568.1h0M96.8 573.7h0M94.5 569.5h0M86.6 559.9h0M91.2 547.9h0M89.8 563.8h0M93.5 560.4h0M92.1 555.5h0M84.1 552.6h0M94.1 563.8h0M94.6 564.8h0M89.3 538.9h0M81.2 548.8h0M96.6 573.7h0M87.0 546.0h0M95.0 570.2h0M97.3 575.3h0M95.5 571.0h0M84.1 539.9h0M91.1 565.4h0M93.5 565.5h0M95.5 569.8h0M96.8 574.7h0M96.9 574.6h0M95.6 568.9h0M92.9 560.2h0M96.3 573.8h0M90.5 563.2h0M94.0 565.1h0M89.6 551.5h0M96.6 573.2h0M94.6 563.9h0M97.1 575.0h0M90.9 554.5h0M88.7 563.6h0M97.2 574.3h0M88.0 548.4h0M84.8 541.9h0M97.1 575.6h0M91.8 560.3h0M96.5 571.9h0M95.6 572.8h0M93.7 563.2h0M88.7 543.7h0M85.4 535.3h0M95.9 571.5h0M86.9 548.7h0M93.7 565.8h0M86.5 537.1h0M93.5 564.0h0M84.4 535.6h0M88.1 540.2h0M97.2 574.7h0M96.8 574.8h0M95.7 570.9h0M93.2 556.7h0M95.4 570.3h0M90.6 555.8h0M92.9 565.4h0M96.2 572.7h0M96.0 572.5h0M96.5 573.5h0M96.1 572.9h0M92.1 554.4h0M96.5 572.9h0M91.6 557.6h0M92.7 563.8h0M96.6 570.8h0M96.3 572.7h0M93.2 562.9h0M84.8 539.0h0M72.1 541.7h0M95.1 566.6h0M87.7 552.4h0M90.1 555.8h0M95.0 570.8h0M93.7 562.1h0M95.4 569.2h0M95.1 565.2h0M92.5 567.2h0M97.0 574.2h0M95.2 568.9h0M93.3 561.9h0M82.3 543.2h0M81.5 534.2h0M93.2 559.1h0M96.8 574.7h0M96.3 573.0h0M94.3 570.5h0M94.8 565.6h0M89.1 545.0h0M94.1 566.9h0M96.7 574.8h0M93.6 568.1h0M92.2 568.7h0M92.9 558.0h0M94.5 569.4h0M79.4 538.1h0M92.4 564.7h0M92.5 565.5h0M95.0 570.6h0M97.4 575.3h0M93.8 569.2h0M89.5 558.3h0M96.5 574.7h0M96.2 570.7h0M94.0 563.1h0M96.5 572.6h0M82.5 540.0h0M96.8 573.8h0M87.9 539.9h0M96.9 574.2h0M97.3 574.6h0M90.4 548.3h0M95.2 571.8h0M82.3 556.1h0M86.5 540.3h0M84.2 556.9h0M92.0 554.6h0M89.7 553.3h0M93.4 568.5h0M94.5 568.6h0M95.8 573.2h0M96.2 572.4h0M96.5 573.8h0M91.9 557.4h0M94.5 569.1h0M97.5 575.4h0M92.9 566.6h0M96.7 574.6h0M97.4 575.1h0M97.0 574.9h0M94.9 571.0h0M95.0 565.0h0M96.2 569.6h0M94.2 568.4h0M90.1 558.4h0M96.7 573.6h0M94.8 568.5h0M96.8 572.8h0M89.9 551.2h0M97.0 573.6h0M92.2 566.3h0M97.0 573.5h0M93.8 566.1h0M93.9 567.1h0M91.3 560.8h0M95.2 571.4h0M85.2 555.0h0M92.0 565.2h0M86.0 546.3h0M97.2 574.6h0M95.4 571.5h0M83.9 551.8h0M84.6 542.0h0M95.5 571.4h0M94.5 570.9h0M91.7 563.7h0M97.3 575.0h0M89.0 555.2h0M90.0 556.4h0M88.9 559.6h0M97.2 575.2h0M97.0 574.9h0M95.8 574.1h0M90.1 556.2h0M96.4 573.6h0M95.4 569.0h0M95.0 571.7h0M95.9 568.0h0M95.3 566.4h0M91.7 555.3h0M92.1 562.1h0M97.2 574.4h0M93.7 562.4h0M95.7 569.8h0M94.8 567.1h0M87.1 560.4h0M94.1 562.5h0M83.8 532.7h0M92.0 559.4h0M96.7 574.9h0M87.8 560.3h0M97.0 575.4h0M93.9 565.5h0M96.5 571.5h0M91.5 556.0h0M93.0 568.8h0M94.1 570.7h0M87.7 542.9h0M83.5 539.7h0M96.6 573.6h0M96.4 572.7h0M90.6 553.7h0M94.1 563.7h0M95.3 567.5h0M83.8 544.2h0M80.1 545.0h0M94.8 566.4h0M80.6 543.9h0M90.0 540.1h0M91.8 560.2h0M96.2 572.4h0M96.9 574.2h0M96.7 571.8h0M96.3 570.6h0M91.8 568.4h0M92.8 559.3h0M94.5 569.0h0M84.9 544.4h0M96.3 574.4h0M97.2 575.6h0M93.2 567.3h0M93.0 563.7h0M95.7 566.6h0M95.4 569.6h0M94.7 566.4h0M96.3 573.2h0M97.3 575.7h0M92.0 561.9h0M97.2 575.1h0M92.6 562.3h0M90.1 554.9h0M92.4 565.4h0M86.4 545.0h0M83.8 537.3h0M96.5 573.2h0M93.3 559.4h0M94.9 570.3h0M90.4 552.5h0M97.0 575.7h0M95.6 571.1h0M95.3 570.7h0M94.3 566.4h0M97.0 575.3h0M89.2 553.0h0M96.9 574.8h0M94.6 563.9h0M80.1 538.0h0M93.6 570.5h0M96.6 573.8h0M88.4 559.0h0M94.8 565.7h0M96.1 571.1h0M88.3 543.3h0M97.3 574.6h0M94.6 568.2h0M96.5 574.4h0M97.4 575.7h0M91.2 556.1h0M94.0 564.7h0M95.1 565.5h0M93.8 564.5h0M94.2 559.7h0M96.7 573.4h0M97.2 574.8h0M94.2 562.9h0M96.0 572.4h0M92.7 554.9h0M95.2 570.9h0M96.9 575.3h0M89.6 557.5h0M97.0 574.3h0M97.1 574.9h0M95.3 568.2h0M95.3 568.7h0M92.1 565.9h0M96.0 573.2h0M97.1 575.2h0M93.9 563.2h0M86.2 536.0h0M94.8 563.0h0M96.3 572.6h0M96.1 574.0h0M97.1 575.7h0M96.0 569.5h0M84.8 545.0h0M87.3 557.4h0M95.4 571.5h0M77.7 537.2h0M91.7 565.7h0M90.8 557.4h0M94.1 567.6h0M81.8 546.1h0M92.3 566.4h0M94.8 571.3h0M90.8 553.9h0M96.9 574.3h0M92.8 562.5h0M87.9 559.3h0M79.1 541.1h0M96.4 571.6h0M94.6 569.8h0M97.3 575.7h0M96.3 574.1h0M82.7 550.8h0M94.2 563.9h0M94.7 564.5h0M95.8 571.5h0M95.6 568.0h0M94.3 565.4h0M86.4 559.4h0M93.5 569.7h0M95.4 571.7h0M94.4 570.4h0M88.2 546.9h0M97.3 575.0h0M94.8 571.8h0M96.4 573.2h0M94.4 564.6h0M95.6 571.5h0M83.4 533.6h0M82.8 540.5h0M96.5 573.7h0M90.8 547.5h0M95.9 573.0h0M94.6 566.0h0M93.9 570.0h0M93.2 560.3h0M97.1 574.6h0M95.3 570.3h0M95.6 571.0h0M95.7 571.3h0M87.5 548.7h0M95.3 567.5h0M91.6 550.0h0M88.5 550.2h0M97.1 575.6h0M94.9 570.3h0M84.9 541.9h0M94.6 565.9h0M92.5 564.7h0M93.1 569.5h0M96.0 574.2h0M96.3 575.0h0M90.9 552.5h0M96.6 572.3h0M93.9 568.6h0M92.8 568.5h0M85.1 535.5h0M96.1 571.0h0M96.4 574.1h0M94.8 566.4h0M91.9 555.9h0M90.7 551.8h0M94.4 572.0h0M92.4 563.3h0M93.9 564.7h0M96.4 573.0h0M87.9 560.9h0M96.4 571.0h0M94.4 570.4h0M96.2 572.9h0M91.4 552.1h0M92.0 557.7h0M92.3 554.8h0M93.9 566.4h0M82.2 539.9h0M95.0 569.3h0M96.9 575.1h0M97.0 575.1h0M96.1 569.5h0M92.0 556.6h0M97.3 575.2h0M95.7 567.6h0M96.1 569.8h0M89.7 552.7h0M95.8 571.6h0M92.9 562.9h0M91.1 562.2h0M92.3 555.9h0M85.8 544.5h0M95.9 570.1h0M84.3 543.0h0M85.4 544.2h0M94.3 569.2h0M88.5 559.0h0M91.2 558.9h0M97.1 574.5h0M84.8 550.2h0M95.6 571.7h0M94.2 571.9h0M92.9 564.0h0M96.6 572.2h0M91.4 567.4h0M96.4 573.7h0M97.5 575.7h0M84.2 546.7h0M97.2 575.7h0M96.6 574.3h0M90.8 548.0h0M97.3 575.8h0M89.3 562.5h0M92.8 565.1h0M95.1 569.7h0M92.6 557.5h0M93.6 569.7h0M97.0 575.3h0M95.2 568.8h0M95.5 568.9h0M95.9 572.9h0M96.0 572.7h0M96.9 573.9h0M88.4 560.3h0M97.0 575.1h0M96.6 572.3h0M91.2 555.9h0M94.6 561.8h0M95.8 572.0h0M95.7 572.6h0M96.8 574.8h0M95.8 570.3h0M87.7 561.6h0M77.7 536.0h0M93.3 567.8h0M85.9 545.6h0M96.4 573.4h0M97.4 575.1h0M92.1 555.0h0M91.7 548.9h0M87.1 560.8h0M96.2 572.7h0M94.2 566.6h0M90.8 555.0h0M96.3 573.1h0M96.0 573.9h0M95.2 568.8h0M96.8 575.6h0M96.2 572.9h0M90.9 563.1h0M94.2 565.2h0M89.0 562.3h0M95.2 569.9h0M88.7 556.3h0M92.3 560.3h0M89.1 556.9h0M94.9 570.5h0M90.3 551.5h0M90.7 550.0h0M97.1 575.0h0M96.6 572.0h0M91.0 562.8h0M92.1 555.0h0M91.7 555.1h0M93.7 564.9h0M88.5 538.8h0M96.1 571.0h0M88.1 558.5h0M85.9 548.8h0M92.1 557.1h0M82.0 535.7h0M96.9 575.3h0M97.1 575.6h0M96.6 572.9h0M95.3 569.4h0M96.5 571.6h0M96.6 573.3h0M87.9 561.9h0M95.0 567.1h0M91.3 563.6h0M93.1 559.2h0M95.3 570.2h0M96.4 571.6h0M92.6 566.9h0M96.0 569.2h0M94.8 568.5h0M91.0 557.9h0M97.1 574.8h0M90.2 560.1h0M97.3 575.3h0M96.7 573.1h0M100.4 572.4h0M100.3 570.2h0M103.0 565.7h0M98.5 575.6h0M104.8 553.8h0M101.0 566.3h0M98.7 574.6h0M99.4 573.7h0M98.4 575.0h0M101.0 570.5h0M106.0 556.6h0M102.8 565.9h0M98.2 575.7h0M104.0 565.6h0M98.8 574.1h0M102.6 564.4h0M99.9 570.8h0M98.3 575.3h0M101.4 565.2h0M103.9 560.9h0M98.5 575.3h0M107.2 542.7h0M102.1 564.8h0M99.8 571.0h0M99.0 573.2h0M99.8 571.4h0M104.8 561.5h0M99.2 572.8h0M101.8 569.5h0M98.6 574.8h0M100.0 570.8h0M101.0 570.2h0M105.8 552.4h0M100.9 567.6h0M101.3 568.9h0M100.6 570.2h0M111.6 542.2h0M104.0 563.9h0M100.9 570.9h0M99.6 572.5h0M98.6 573.8h0M104.2 557.5h0M104.4 562.5h0M99.4 572.7h0M102.7 567.0h0M100.4 569.0h0M101.0 571.3h0M98.6 574.7h0M103.3 563.8h0M98.9 574.6h0M101.1 566.0h0M103.6 558.4h0M100.7 571.4h0M114.7 545.0h0M99.9 573.0h0M105.6 553.0h0M102.3 567.5h0M99.0 572.9h0M98.9 574.1h0M99.7 572.5h0M98.3 574.7h0M100.6 570.4h0M99.9 571.5h0M104.6 557.0h0M99.3 573.8h0M98.5 574.7h0M100.8 570.2h0M100.4 572.5h0M102.6 561.2h0M98.1 575.5h0M101.5 564.5h0M119.9 540.5h0M99.5 574.1h0M102.8 563.9h0M99.8 572.3h0M99.5 572.9h0M98.7 575.3h0M110.7 552.0h0M107.8 555.5h0M111.7 551.6h0M102.0 563.5h0M100.8 569.3h0M104.7 553.9h0M103.3 564.8h0M99.5 572.6h0M113.1 550.8h0M100.7 567.8h0M100.0 568.8h0M99.6 571.7h0M100.4 567.7h0M104.1 557.3h0M100.2 570.2h0M107.0 551.0h0M103.7 562.7h0M102.8 559.3h0M98.3 575.1h0M113.3 549.3h0M103.3 560.4h0M99.9 571.4h0M99.0 572.5h0M105.0 563.3h0M104.6 556.7h0M100.9 567.7h0M103.3 566.5h0M102.3 566.4h0M101.5 569.1h0M98.3 575.2h0M103.4 560.7h0M105.5 554.0h0M99.6 572.2h0M103.0 562.2h0M107.7 562.0h0M104.9 562.2h0M101.1 569.3h0M103.6 557.6h0M101.8 571.2h0M99.0 572.7h0M103.7 567.8h0M104.9 557.2h0M102.9 562.8h0M99.4 573.6h0M102.9 559.4h0M98.3 575.3h0M99.3 572.8h0M100.2 572.6h0M104.8 563.9h0M105.9 554.1h0M104.1 564.4h0M103.1 558.1h0M111.6 545.6h0M98.4 575.8h0M108.2 542.6h0M103.5 566.8h0M100.7 569.7h0M101.3 569.7h0M100.6 570.2h0M98.7 573.7h0M100.9 570.8h0M99.4 572.3h0M101.9 566.7h0M98.3 574.9h0M101.6 567.2h0M108.0 551.7h0M99.3 573.0h0M100.3 569.4h0M103.0 562.1h0M98.7 575.4h0M98.6 574.8h0M106.0 548.8h0M98.6 575.0h0M99.7 572.3h0M98.6 575.3h0M113.2 546.4h0M98.8 574.6h0M98.9 574.2h0M99.9 573.1h0M101.2 569.8h0M109.5 553.6h0M107.0 551.2h0M106.4 552.5h0M99.4 572.8h0M98.8 574.7h0M106.7 557.7h0M99.8 572.5h0M101.3 566.7h0M100.6 572.4h0M100.2 570.2h0M98.8 573.7h0M103.6 563.4h0M102.4 567.2h0M98.7 573.9h0M101.3 565.8h0M99.5 573.1h0M106.9 557.3h0M100.5 571.0h0M118.6 547.2h0M103.0 567.2h0M101.5 567.3h0M98.6 574.6h0M112.0 540.7h0M100.4 571.0h0M99.3 572.5h0M100.0 570.7h0M105.5 557.8h0M100.0 571.2h0M101.3 566.5h0M99.9 570.7h0M100.6 568.7h0M98.1 575.6h0M100.0 571.4h0M101.1 567.6h0M98.7 573.4h0M103.2 563.4h0M100.5 568.8h0M110.8 546.8h0M102.2 567.3h0M100.2 570.6h0M101.7 563.5h0M100.7 572.0h0M99.7 572.3h0M100.9 569.3h0M101.4 564.9h0M106.9 557.6h0M100.6 571.7h0M99.8 572.8h0M101.9 568.3h0M98.5 575.5h0M98.9 574.3h0M102.2 562.5h0M104.6 556.3h0M101.9 565.4h0M105.3 550.7h0M111.9 539.7h0M98.9 574.0h0M110.8 542.9h0M101.0 570.7h0M101.4 566.5h0M99.4 572.1h0M99.2 571.8h0M105.9 558.7h0M109.7 551.0h0M108.2 563.2h0M102.9 566.7h0M101.5 567.1h0M99.4 572.3h0M100.0 571.3h0M101.8 566.4h0M102.5 564.0h0M98.6 575.7h0M102.3 562.0h0M99.6 571.6h0M103.9 564.9h0M103.9 562.7h0M100.8 569.9h0M100.7 572.4h0M100.8 570.5h0M98.6 575.2h0M110.0 554.5h0M102.5 567.4h0M99.2 572.2h0M107.8 559.9h0M98.6 575.4h0M99.4 574.0h0M103.2 560.4h0M99.5 571.5h0M112.4 551.6h0M102.7 564.7h0M99.0 574.6h0M106.5 560.6h0M98.7 575.4h0M104.3 556.9h0M101.2 566.5h0M100.9 566.9h0M100.0 569.5h0M101.0 566.4h0M100.6 569.8h0M101.2 566.2h0M100.5 570.0h0M101.3 566.4h0M109.9 544.7h0M99.4 572.5h0M101.6 565.2h0M102.4 562.8h0M100.5 571.4h0M105.7 550.3h0M104.2 554.1h0M103.1 558.5h0M101.8 563.6h0M98.7 574.5h0M100.0 569.4h0M99.3 573.0h0M103.4 565.1h0M103.3 565.8h0M99.1 572.8h0M106.6 548.5h0M100.8 569.7h0M103.0 565.0h0M99.7 570.8h0M112.1 555.2h0M99.0 572.9h0M103.0 559.7h0M101.9 563.6h0M98.3 575.7h0M106.0 553.3h0M102.2 560.9h0M98.7 574.7h0M103.1 568.0h0M101.4 569.6h0M112.9 543.1h0M99.7 571.3h0M99.0 574.1h0M98.6 575.2h0M109.0 553.7h0M100.1 569.6h0M108.7 539.5h0M104.2 555.2h0M99.2 573.8h0M99.2 573.9h0M100.5 571.6h0M99.2 572.0h0M101.0 569.1h0M98.2 575.5h0M102.9 568.8h0M102.3 563.7h0M102.7 565.3h0M99.1 572.1h0M103.4 562.4h0M102.1 562.6h0M100.4 568.1h0M104.1 558.4h0M100.2 570.9h0M98.4 575.7h0M98.3 575.3h0M98.6 575.4h0M98.2 575.5h0M103.1 561.2h0M104.1 563.1h0M98.5 575.2h0M102.2 568.7h0M102.6 562.7h0M99.5 572.1h0M109.2 551.2h0M102.0 562.4h0M99.6 572.4h0M98.6 574.9h0M98.7 575.2h0M105.9 551.8h0M100.6 569.3h0M102.6 565.7h0M98.3 575.5h0M104.7 565.4h0M99.2 574.8h0M99.6 571.9h0M99.1 573.2h0M106.4 560.6h0M106.8 544.9h0M100.6 570.6h0M98.5 574.6h0M99.3 573.6h0M100.8 568.8h0M100.9 567.4h0M100.3 568.0h0M106.8 546.6h0M103.4 559.1h0M100.0 573.2h0M103.2 562.6h0M103.8 565.4h0M99.4 570.9h0M106.4 547.8h0M101.6 567.7h0M101.2 569.9h0M99.1 575.4h0M103.2 562.8h0M108.4 548.8h0M101.7 569.7h0M105.6 562.2h0M102.3 561.7h0M105.6 550.2h0M101.3 568.1h0M98.5 575.0h0M98.3 575.6h0M104.0 554.9h0M111.4 542.7h0M105.8 557.9h0M99.8 569.2h0M115.2 540.8h0M102.9 558.9h0M102.8 564.1h0M103.4 560.4h0M99.1 573.8h0M101.2 567.7h0M100.1 573.5h0M101.0 570.4h0M99.0 574.0h0M109.1 551.4h0M110.5 556.8h0M107.5 550.7h0M103.2 562.8h0M102.2 566.0h0M107.9 554.6h0M98.2 575.5h0M101.5 564.6h0M101.9 566.2h0M101.0 568.3h0M98.9 574.2h0M108.2 547.4h0M102.5 563.1h0M103.1 564.0h0M113.9 545.4h0M104.2 554.7h0M102.0 564.6h0M100.2 569.2h0M102.5 567.0h0M104.1 558.5h0M99.1 574.1h0M106.0 547.3h0M104.4 564.3h0M108.4 547.5h0M101.9 566.9h0M99.0 574.5h0M104.3 560.5h0M107.3 547.6h0M100.9 569.5h0M100.4 571.7h0M98.3 575.6h0M99.7 572.1h0M105.3 553.6h0M109.4 552.2h0M99.2 573.5h0M103.8 565.7h0M101.5 567.3h0M101.6 565.7h0M100.4 567.8h0M100.8 571.5h0M105.6 558.5h0M99.9 570.4h0M100.5 570.6h0M100.5 570.9h0M100.9 571.5h0M108.5 551.7h0M111.9 541.2h0M100.2 573.0h0M100.9 568.6h0M105.5 553.6h0M100.8 571.5h0M104.7 551.3h0M99.3 574.0h0M100.9 568.8h0M102.3 568.8h0M101.7 567.4h0M108.3 542.6h0M110.8 552.3h0M99.4 571.7h0M98.6 574.6h0M100.6 569.0h0M100.2 570.5h0M98.9 574.5h0M98.2 575.5h0M106.1 558.9h0M106.3 561.1h0M99.9 571.9h0M108.8 544.3h0M100.7 567.8h0M105.9 552.4h0M101.8 565.3h0M100.7 570.7h0M106.9 550.7h0M99.1 572.5h0M98.6 575.0h0M98.7 574.1h0M101.5 571.4h0M102.2 568.5h0M101.0 567.7h0M100.1 568.1h0M100.2 571.3h0M101.9 569.6h0M100.6 570.1h0M98.5 575.2h0M98.5 574.7h0M108.4 555.8h0M102.1 566.7h0M99.3 572.2h0M110.1 544.6h0M105.2 556.0h0M107.9 553.8h0M100.0 572.1h0M101.9 568.2h0M106.3 554.4h0M119.9 545.2h0M101.0 567.1h0M102.3 561.3h0M98.9 574.4h0M101.4 564.0h0M101.1 568.1h0M107.9 550.6h0M102.9 563.6h0M98.7 574.9h0M101.8 571.3h0M101.3 565.8h0M104.6 559.0h0M100.4 568.7h0M99.5 572.4h0M98.8 574.6h0M103.3 561.0h0M100.0 572.0h0M101.0 570.1h0M98.8 574.9h0M100.5 566.9h0M104.3 560.2h0M105.7 561.9h0M105.6 552.8h0M98.7 574.3h0M107.8 550.2h0M108.3 547.6h0M102.0 567.3h0M103.3 567.8h0M101.7 565.7h0M100.0 571.2h0M98.5 574.5h0M105.3 556.4h0M102.1 566.4h0M98.4 575.4h0M110.6 552.5h0M101.4 566.3h0M101.7 565.7h0M102.9 560.6h0M102.7 560.2h0M102.2 563.4h0M99.0 574.6h0M107.2 553.8h0M98.9 575.0h0M104.7 563.5h0M103.8 564.9h0M105.4 557.2h0M101.5 571.2h0M111.2 541.3h0M100.1 569.3h0M102.2 565.9h0M102.4 568.6h0M100.8 568.4h0M98.8 573.2h0M100.1 570.3h0M100.6 566.8h0M110.1 541.2h0M99.9 570.1h0M98.7 575.1h0M99.5 571.1h0M102.4 564.4h0M103.7 563.9h0M101.1 570.4h0M102.2 564.7h0M107.4 552.5h0M100.1 570.4h0M100.3 570.0h0M100.8 568.5h0M119.2 539.7h0M102.9 564.2h0M99.7 573.0h0M107.2 564.9h0M101.2 568.7h0M99.4 573.1h0M109.4 543.5h0M103.3 560.2h0M98.7 574.5h0M99.4 574.3h0M100.5 568.0h0M99.6 571.3h0M102.4 563.1h0M108.6 548.1h0M101.1 570.0h0M101.6 565.5h0M102.6 566.8h0M101.0 569.5h0M109.9 556.0h0M104.8 564.7h0M101.4 569.7h0M105.2 557.9h0M100.3 571.4h0M98.6 574.6h0M99.0 574.1h0M98.5 575.7h0M103.9 562.8h0M105.7 552.8h0M107.2 553.2h0M99.6 572.4h0M104.1 556.6h0M98.6 575.1h0M100.3 571.1h0M102.5 561.9h0M101.3 569.1h0M98.5 574.5h0M99.2 573.2h0M100.3 568.9h0M100.5 569.0h0M101.8 562.7h0M99.8 572.4h0M104.0 562.0h0M101.4 570.7h0M99.5 572.6h0M105.5 557.0h0M99.1 572.9h0M112.7 544.7h0M99.4 573.4h0M98.5 575.7h0M99.4 573.4h0M100.4 571.0h0M99.6 572.6h0M98.7 574.2h0M108.6 544.7h0M104.5 553.5h0M104.3 555.9h0M110.3 549.9h0M104.1 559.8h0M110.5 547.7h0M98.4 574.8h0M101.8 568.1h0M105.4 556.4h0M100.4 571.2h0M100.0 572.5h0M99.4 573.2h0M107.2 551.8h0M98.7 573.9h0M99.1 574.6h0M99.1 574.4h0M103.6 559.6h0M100.0 571.4h0M99.3 573.1h0M106.0 550.7h0M101.6 568.1h0M104.6 558.5h0M102.6 564.8h0M98.9 573.8h0M99.2 573.7h0M103.3 567.7h0M100.8 567.4h0M102.3 567.1h0M103.0 567.9h0M102.1 568.3h0M98.3 575.8h0M107.0 558.6h0M99.4 572.8h0M103.1 558.4h0M98.7 575.3h0M102.5 565.2h0M102.5 561.1h0M100.0 572.4h0M100.2 571.4h0M101.8 570.4h0M104.2 561.3h0M102.4 564.5h0M103.6 560.5h0M99.9 571.6h0M101.0 567.0h0M100.6 569.6h0M105.3 551.6h0M99.4 574.1h0M98.6 574.5h0M100.0 570.6h0M103.2 565.4h0M100.2 569.6h0M99.0 572.9h0M103.7 567.0h0M98.2 575.6h0M101.8 563.4h0M101.3 569.0h0M102.2 564.8h0M100.8 571.6h0M104.1 556.4h0M103.7 558.1h0M100.7 571.5h0M104.6 563.7h0M105.6 564.8h0M101.0 568.1h0M100.7 571.1h0M103.9 564.1h0M105.9 557.0h0M98.3 575.4h0M99.7 572.5h0M104.7 560.6h0M106.5 550.2h0M101.4 565.8h0M100.0 571.4h0M98.9 574.6h0M99.5 573.2h0M99.3 571.7h0M99.3 572.8h0M102.1 561.2h0M106.9 559.1h0M101.7 568.4h0M104.1 555.1h0M98.7 574.6h0M99.6 570.7h0M98.7 573.5h0M98.9 573.2h0M108.4 554.9h0M103.4 568.1h0M99.1 573.6h0M112.2 550.2h0M99.1 572.3h0M99.1 573.8h0M108.1 555.6h0M101.3 567.8h0M101.7 567.1h0M99.9 573.0h0M101.7 565.3h0M99.6 571.2h0M115.0 542.3h0M100.0 569.5h0M102.8 560.0h0M103.9 561.5h0M99.4 572.3h0M100.9 568.1h0M98.8 573.9h0M104.0 559.8h0M101.1 566.9h0M98.5 575.6h0M106.4 557.7h0M100.2 569.9h0M98.5 574.9h0M102.5 567.5h0M107.8 548.9h0M101.7 562.9h0M109.9 548.0h0M98.3 575.5h0M99.1 574.0h0M101.6 566.5h0M106.1 553.1h0M100.9 566.9h0M100.8 567.2h0M98.5 575.8h0M106.4 558.2h0M100.3 570.7h0M108.7 553.1h0M109.4 559.3h0M98.3 575.8h0M100.1 572.8h0M101.5 565.4h0M99.7 572.0h0M98.4 574.8h0M100.5 570.4h0M98.9 575.1h0M103.8 558.9h0M99.5 571.7h0M104.0 559.8h0M99.3 572.9h0M107.2 556.3h0M99.0 574.7h0M98.6 575.3h0M103.1 567.6h0M100.8 568.6h0M99.2 573.0h0M102.0 564.9h0M105.3 562.7h0M100.0 571.6h0M99.7 573.0h0M98.6 574.6h0M101.9 566.7h0M104.5 557.0h0M103.6 569.2h0M99.5 571.5h0M98.9 573.7h0M99.5 572.3h0M101.5 569.0h0M105.8 558.2h0M100.1 569.0h0M99.7 572.2h0M98.1 575.7h0M100.0 572.2h0M111.4 552.1h0M99.4 573.8h0M107.0 559.6h0M101.6 570.1h0M107.5 556.3h0M99.2 573.8h0M109.4 543.1h0M99.6 570.3h0M106.5 549.0h0M99.4 572.9h0M108.1 547.8h0M104.6 555.9h0M108.6 554.8h0M100.6 569.6h0M100.1 571.8h0M102.4 565.1h0M104.5 556.2h0M99.7 571.9h0M107.7 546.0h0M101.1 569.5h0M104.3 556.7h0M98.5 575.5h0M98.9 574.2h0M98.3 575.5h0M103.1 562.7h0M102.4 563.9h0M106.7 559.5h0M100.2 570.2h0M98.8 574.0h0M99.2 574.2h0M99.0 574.7h0M102.3 568.1h0M100.1 571.3h0M100.4 570.1h0M106.8 552.7h0M99.5 571.8h0M100.8 568.8h0M106.4 557.9h0M110.4 552.5h0M98.7 575.1h0M107.4 549.0h0M100.2 569.5h0M101.8 568.7h0M101.0 567.3h0M101.1 567.1h0M99.0 574.3h0M101.7 564.5h0M101.4 565.6h0M98.5 575.7h0M100.5 571.5h0M112.9 541.7h0M105.4 558.1h0M107.0 549.5h0M111.5 556.4h0M99.2 572.5h0M98.7 574.3h0M99.9 572.2h0M103.0 560.2h0M102.0 565.6h0M109.0 556.3h0M101.5 567.7h0M99.9 571.5h0M99.9 570.1h0M98.9 574.4h0M98.8 574.3h0M98.7 575.3h0M99.2 572.3h0M115.6 544.7h0M98.9 573.8h0M103.7 564.2h0M98.8 575.2h0M101.6 564.4h0M99.3 572.6h0M104.1 559.3h0M99.3 574.4h0M99.1 572.6h0M102.0 566.6h0M102.6 565.7h0M98.8 574.9h0M101.8 567.5h0M104.5 553.7h0M101.3 570.6h0M104.5 554.3h0M99.9 571.6h0M99.2 573.7h0M101.0 567.6h0M99.1 573.1h0M98.2 575.8h0M105.8 561.8h0M98.6 574.4h0M99.4 571.9h0M104.9 558.5h0M99.3 572.2h0M98.9 573.7h0M101.2 567.6h0M104.0 561.9h0M107.7 544.8h0M100.2 568.4h0M99.5 572.8h0M108.4 549.5h0M101.2 568.3h0M98.6 574.7h0M103.2 563.8h0M105.5 552.8h0M100.1 570.2h0M99.4 573.8h0M101.9 566.6h0M101.4 569.9h0M99.7 571.1h0M101.2 570.3h0M100.3 569.6h0M101.5 564.5h0M108.3 547.8h0M99.4 572.6h0M98.8 573.8h0M100.5 572.0h0M103.5 565.2h0M100.7 568.1h0M99.7 571.8h0M100.6 569.9h0M104.6 562.2h0M100.5 569.9h0M101.0 566.4h0M103.4 563.9h0M102.9 566.6h0M115.7 548.6h0M106.0 557.6h0M103.8 563.0h0M100.0 571.4h0M99.1 574.0h0M103.1 568.8h0M98.4 575.3h0M111.3 550.6h0M99.2 573.3h0M100.7 566.8h0M104.9 556.2h0M100.0 571.0h0M104.1 557.7h0M102.1 570.7h0M101.4 566.2h0M105.5 562.0h0M108.9 545.3h0M105.8 556.1h0M101.4 566.3h0M104.6 563.8h0M101.3 568.8h0M99.9 569.9h0M99.2 571.5h0M101.2 566.1h0M100.6 571.5h0M98.8 573.2h0M99.4 571.9h0M100.8 568.5h0M99.1 573.0h0M102.8 564.3h0M104.7 557.8h0M99.3 572.1h0M98.5 575.3h0M109.5 553.3h0M106.5 547.7h0M100.6 572.1h0M98.4 574.5h0M98.6 575.1h0M103.0 560.8h0M105.8 558.7h0M98.8 574.6h0M98.7 573.9h0M98.7 574.6h0M106.8 547.8h0M100.7 568.3h0M100.6 572.1h0M103.9 562.0h0M101.5 567.1h0M102.0 564.1h0M98.6 574.3h0M100.5 570.6h0M102.3 564.1h0M99.1 573.9h0M102.9 563.7h0M103.3 565.2h0M99.0 573.1h0M112.6 553.0h0M101.3 569.0h0M98.8 574.8h0M105.3 550.9h0M100.9 568.3h0M109.9 549.1h0M101.0 566.7h0M99.0 574.8h0M105.9 562.3h0M100.2 568.4h0M106.9 546.4h0M100.5 571.3h0M99.4 573.1h0M98.8 573.6h0M101.1 567.2h0M99.3 573.2h0M102.2 566.6h0M101.9 562.5h0M98.2 575.6h0M102.5 562.3h0M100.5 568.5h0M103.2 564.9h0M101.5 570.2h0M103.6 563.2h0M102.1 564.4h0M101.3 570.3h0M101.6 570.3h0M99.7 570.5h0M100.9 569.7h0M102.8 564.0h0M104.1 554.4h0M105.0 555.0h0M102.3 567.3h0M103.4 564.4h0M98.4 575.5h0M98.4 574.9h0M99.9 571.9h0M98.8 574.9h0M99.2 573.3h0M101.2 567.5h0M106.0 563.4h0M101.0 567.7h0M101.7 565.4h0M98.4 575.6h0M105.3 561.6h0M110.6 545.2h0M99.6 572.9h0M103.0 564.1h0M100.1 571.2h0M100.8 569.8h0M105.3 552.6h0M107.2 551.8h0M104.6 559.4h0M98.8 574.4h0M100.4 569.7h0M110.3 545.0h0M98.9 574.0h0M103.6 564.7h0M100.6 569.5h0M98.4 574.6h0M104.2 565.4h0M98.6 573.8h0M101.8 564.4h0M102.2 566.3h0M103.6 561.0h0M99.1 572.4h0M105.1 560.2h0M100.4 570.3h0M100.5 569.6h0M100.5 568.0h0M100.7 569.5h0M98.4 575.8h0M98.8 573.8h0M100.6 570.3h0M105.4 560.6h0M104.6 553.8h0M105.8 562.8h0M102.4 561.2h0M101.7 566.9h0M102.0 564.7h0M100.3 569.7h0M102.8 565.4h0M110.3 547.6h0M102.6 566.3h0M101.2 566.5h0M103.8 561.6h0M99.1 574.1h0M101.4 567.4h0M109.0 547.6h0M99.1 572.9h0M103.8 561.7h0M106.4 559.4h0M98.5 574.7h0M98.4 575.1h0M106.3 559.9h0M98.4 575.1h0M106.3 546.3h0M99.4 573.3h0M99.7 570.7h0M105.0 568.8h0M100.8 571.1h0M99.0 574.3h0M98.3 575.4h0M100.4 569.2h0M99.1 572.6h0M98.6 575.1h0M99.5 573.2h0M101.4 567.1h0M100.9 571.5h0M101.0 567.8h0M106.0 562.7h0M108.4 547.8h0M101.3 567.0h0M100.2 571.1h0M100.2 571.7h0M103.8 563.9h0M103.0 559.8h0M102.6 562.7h0M98.8 574.6h0M98.5 574.6h0M98.7 573.4h0M101.2 566.2h0M101.4 565.2h0M99.4 571.9h0M99.9 573.1h0M106.1 555.6h0M104.2 557.2h0M99.7 571.5h0M112.7 545.7h0M105.4 557.7h0M100.0 571.1h0M103.4 557.9h0M107.4 550.4h0M99.7 571.1h0M101.7 568.3h0M103.7 556.5h0M98.4 574.5h0M98.7 575.1h0M102.1 567.9h0M103.5 557.5h0M105.7 561.7h0M100.6 569.8h0M99.0 573.3h0M99.5 570.5h0M100.1 569.6h0M101.6 563.9h0M99.9 571.7h0M106.6 548.2h0M98.7 573.8h0M99.1 574.6h0M100.2 571.4h0M100.0 569.7h0M102.5 563.3h0M106.2 559.4h0M98.5 575.5h0M101.4 567.2h0M100.7 566.4h0M98.8 573.0h0M105.8 557.8h0M100.0 570.6h0M100.2 570.4h0M101.7 569.5h0M109.7 549.5h0M98.4 574.5h0M104.8 562.9h0M99.5 573.2h0M99.4 572.1h0M99.5 573.3h0M98.4 575.8h0M101.2 565.3h0M100.8 568.6h0M103.8 564.2h0M102.2 568.1h0M101.5 565.7h0M98.3 575.6h0M99.2 572.4h0M100.1 570.8h0M100.9 571.6h0M102.9 566.8h0M103.5 562.0h0M102.7 560.1h0M100.7 570.3h0M100.3 570.1h0M110.7 548.2h0M102.8 560.0h0M100.6 567.0h0M99.3 573.0h0M102.5 563.3h0M110.7 547.9h0M110.5 547.7h0M105.0 558.0h0M100.9 569.8h0M99.4 572.3h0M98.5 575.5h0M102.2 566.1h0M104.3 555.8h0M102.7 563.9h0M102.3 567.8h0" stroke="#1e1e1e" stroke-width="1.35" stroke-linecap="round" stroke-opacity="0.85" fill="none"/>
<rect x="36.35" y="486.1" width="1.7" height="91.09999999999995" fill="#000"/>
<rect x="36.35" y="575.6" width="124.74999999999999" height="1.6" fill="#000"/>
<line x1="33.800000000000004" y1="576.4" x2="37.2" y2="576.4" stroke="#000" stroke-width="1.1"/>
<text x="30.800000000000004" y="578.9" font-size="7.2" text-anchor="end" fill="#222" stroke="#222" style="stroke-width:0.12px">0</text>
<line x1="33.800000000000004" y1="558.8" x2="37.2" y2="558.8" stroke="#000" stroke-width="1.1"/>
<text x="30.800000000000004" y="561.3" font-size="7.2" text-anchor="end" fill="#222" stroke="#222" style="stroke-width:0.12px">1</text>
<line x1="33.800000000000004" y1="541.1999999999999" x2="37.2" y2="541.1999999999999" stroke="#000" stroke-width="1.1"/>
<text x="30.800000000000004" y="543.6999999999999" font-size="7.2" text-anchor="end" fill="#222" stroke="#222" style="stroke-width:0.12px">2</text>
<line x1="33.800000000000004" y1="523.6" x2="37.2" y2="523.6" stroke="#000" stroke-width="1.1"/>
<text x="30.800000000000004" y="526.1" font-size="7.2" text-anchor="end" fill="#222" stroke="#222" style="stroke-width:0.12px">3</text>
<line x1="33.800000000000004" y1="506.0" x2="37.2" y2="506.0" stroke="#000" stroke-width="1.1"/>
<text x="30.800000000000004" y="508.5" font-size="7.2" text-anchor="end" fill="#222" stroke="#222" style="stroke-width:0.12px">4</text>
<line x1="33.800000000000004" y1="488.4" x2="37.2" y2="488.4" stroke="#000" stroke-width="1.1"/>
<text x="30.800000000000004" y="490.9" font-size="7.2" text-anchor="end" fill="#222" stroke="#222" style="stroke-width:0.12px">5</text>
<line x1="35.400000000000006" y1="567.6" x2="37.2" y2="567.6" stroke="#000" stroke-width="1.0"/>
<line x1="35.400000000000006" y1="550.0" x2="37.2" y2="550.0" stroke="#000" stroke-width="1.0"/>
<line x1="35.400000000000006" y1="532.4" x2="37.2" y2="532.4" stroke="#000" stroke-width="1.0"/>
<line x1="35.400000000000006" y1="514.8" x2="37.2" y2="514.8" stroke="#000" stroke-width="1.0"/>
<line x1="35.400000000000006" y1="497.2" x2="37.2" y2="497.2" stroke="#000" stroke-width="1.0"/>
<line x1="46.8" y1="576.4" x2="46.8" y2="578.8" stroke="#000" stroke-width="1.1"/>
<text x="46.5" y="588.6999999999999" font-size="7" text-anchor="middle" fill="#222" stroke="#222" style="stroke-width:0.12px">-3</text>
<line x1="63.8" y1="576.4" x2="63.8" y2="578.8" stroke="#000" stroke-width="1.1"/>
<text x="63.5" y="588.6999999999999" font-size="7" text-anchor="middle" fill="#222" stroke="#222" style="stroke-width:0.12px">-2</text>
<line x1="80.8" y1="576.4" x2="80.8" y2="578.8" stroke="#000" stroke-width="1.1"/>
<text x="80.5" y="588.6999999999999" font-size="7" text-anchor="middle" fill="#222" stroke="#222" style="stroke-width:0.12px">-1</text>
<line x1="97.8" y1="576.4" x2="97.8" y2="578.8" stroke="#000" stroke-width="1.1"/>
<text x="97.8" y="588.6999999999999" font-size="7" text-anchor="middle" fill="#222" stroke="#222" style="stroke-width:0.12px">0</text>
<line x1="114.8" y1="576.4" x2="114.8" y2="578.8" stroke="#000" stroke-width="1.1"/>
<text x="114.8" y="588.6999999999999" font-size="7" text-anchor="middle" fill="#222" stroke="#222" style="stroke-width:0.12px">1</text>
<line x1="131.8" y1="576.4" x2="131.8" y2="578.8" stroke="#000" stroke-width="1.1"/>
<text x="131.8" y="588.6999999999999" font-size="7" text-anchor="middle" fill="#222" stroke="#222" style="stroke-width:0.12px">2</text>
<line x1="148.8" y1="576.4" x2="148.8" y2="578.8" stroke="#000" stroke-width="1.1"/>
<text x="148.8" y="588.6999999999999" font-size="7" text-anchor="middle" fill="#222" stroke="#222" style="stroke-width:0.12px">3</text>
<line x1="38.3" y1="576.4" x2="38.3" y2="578.0" stroke="#000" stroke-width="1.0"/>
<line x1="55.3" y1="576.4" x2="55.3" y2="578.0" stroke="#000" stroke-width="1.0"/>
<line x1="72.3" y1="576.4" x2="72.3" y2="578.0" stroke="#000" stroke-width="1.0"/>
<line x1="89.3" y1="576.4" x2="89.3" y2="578.0" stroke="#000" stroke-width="1.0"/>
<line x1="106.3" y1="576.4" x2="106.3" y2="578.0" stroke="#000" stroke-width="1.0"/>
<line x1="123.3" y1="576.4" x2="123.3" y2="578.0" stroke="#000" stroke-width="1.0"/>
<line x1="140.3" y1="576.4" x2="140.3" y2="578.0" stroke="#000" stroke-width="1.0"/>
<line x1="157.3" y1="576.4" x2="157.3" y2="578.0" stroke="#000" stroke-width="1.0"/>
<text x="72.5" y="601.5" font-size="9.2" textLength="53.7" lengthAdjust="spacingAndGlyphs" fill="#222" stroke="#222" style="stroke-width:0.25px">Log2 fold change</text>
<text x="0" y="0" font-size="8.3" textLength="45" lengthAdjust="spacingAndGlyphs" fill="#222" stroke="#222" transform="translate(21.6,553.7) rotate(-90)" style="stroke-width:0.35px">-log10 p.value</text>
<path d="M63.4 470L65.8 475.6L64.05 475.20000000000005L64.05 482L62.75 482L62.75 475.20000000000005L61.0 475.6Z" fill="#111"/>
<text x="67.3" y="479.7" font-size="8.2" textLength="25.7" lengthAdjust="spacingAndGlyphs" fill="#1a1a1a" stroke="#1a1a1a" style="stroke-width:0.12px">M-CLL</text>
<text x="102.2" y="479.7" font-size="8.2" textLength="32.2" lengthAdjust="spacingAndGlyphs" fill="#1a1a1a" stroke="#1a1a1a" style="stroke-width:0.12px">UM-CLL</text>
<path d="M137.8 470L140.20000000000002 475.6L138.45000000000002 475.20000000000005L138.45000000000002 482L137.15 482L137.15 475.20000000000005L135.4 475.6Z" fill="#111"/>
<text x="114.8" y="499.3" font-size="8.8" textLength="47.2" lengthAdjust="spacingAndGlyphs" stroke="#111" style="stroke-width:0.1px">BCR vs. nat.</text>
<line x1="259.2" y1="488" x2="259.2" y2="576.7" stroke="#cfcfcf" stroke-width="0.7"/>
<line x1="286.5" y1="488" x2="286.5" y2="576.7" stroke="#cfcfcf" stroke-width="0.7"/>
<line x1="215.6" y1="554.2" x2="335" y2="554.2" stroke="#cfcfcf" stroke-width="0.7"/>
<path d="M266.3 556.6h0M260.7 536.2h0M265.2 557.5h0M271.3 570.5h0M266.3 551.8h0M270.6 566.0h0M271.5 572.0h0M261.4 544.0h0M267.2 560.1h0M265.2 548.8h0M248.5 523.7h0M272.0 568.6h0M266.9 556.5h0M269.7 567.1h0M261.0 538.1h0M270.5 567.1h0M259.0 529.2h0M270.3 568.5h0M258.9 533.6h0M273.9 574.8h0M260.8 545.8h0M269.9 563.2h0M266.4 557.2h0M272.6 570.6h0M260.6 553.8h0M271.4 571.8h0M269.9 564.2h0M267.7 556.7h0M260.4 545.0h0M274.1 575.1h0M266.4 558.3h0M272.3 570.7h0M273.1 576.0h0M273.9 574.3h0M243.4 508.0h0M265.2 556.3h0M271.3 569.1h0M257.2 544.7h0M268.9 563.0h0M263.6 548.7h0M274.0 575.3h0M272.9 574.3h0M273.6 575.8h0M253.6 519.4h0M263.6 553.2h0M263.6 543.3h0M266.8 560.2h0M274.6 575.6h0M269.3 564.6h0M253.6 517.1h0M262.2 542.3h0M273.1 572.2h0M269.3 563.6h0M260.8 543.8h0M271.4 572.1h0M266.7 553.1h0M254.3 516.7h0M258.8 531.5h0M272.2 570.1h0M268.7 561.3h0M269.5 567.8h0M256.9 531.9h0M260.6 542.1h0M264.6 553.6h0M265.0 547.9h0M240.1 525.8h0M259.5 529.7h0M259.3 529.4h0M264.6 548.9h0M270.0 566.8h0M270.1 565.5h0M255.3 532.3h0M249.4 503.7h0M271.0 571.0h0M267.4 555.6h0M270.4 567.9h0M263.6 542.9h0M268.2 557.0h0M242.1 506.9h0M265.8 552.5h0M271.5 567.9h0M273.7 575.2h0M269.7 566.5h0M253.2 520.8h0M273.9 574.2h0M265.9 555.0h0M258.8 530.9h0M269.8 564.2h0M272.0 570.9h0M271.0 567.8h0M270.9 567.3h0M271.0 565.0h0M269.9 564.8h0M266.2 552.0h0M272.2 568.8h0M272.5 571.9h0M255.0 538.3h0M274.4 575.9h0M274.2 575.2h0M272.7 569.6h0M264.5 555.7h0M274.4 575.5h0M273.1 573.5h0M261.0 544.6h0M251.4 511.9h0M260.1 542.2h0M257.4 543.3h0M269.4 561.9h0M269.8 565.8h0M272.5 572.6h0M269.4 563.1h0M252.1 535.5h0M260.9 547.9h0M267.8 562.3h0M255.5 528.9h0M246.4 520.7h0M270.6 569.2h0M273.7 574.5h0M271.6 573.3h0M265.4 557.8h0M269.0 562.1h0M243.0 504.7h0M259.3 533.5h0M272.5 572.8h0M254.6 519.6h0M258.4 539.7h0M271.7 569.7h0M263.1 553.3h0M259.3 538.4h0M264.5 549.3h0M263.0 551.8h0M272.7 572.8h0M264.7 556.6h0M267.6 559.0h0M271.1 569.1h0M269.1 562.0h0M258.0 532.3h0M246.4 501.1h0M272.2 572.8h0M264.3 544.1h0M267.0 555.9h0M267.8 555.4h0M252.6 511.5h0M270.1 566.3h0M265.7 555.6h0M268.9 563.0h0M265.4 557.4h0M272.7 570.4h0M272.2 571.5h0M272.8 571.0h0M271.4 570.3h0M265.1 557.1h0M256.4 530.5h0M262.3 557.0h0M266.4 556.3h0M273.0 575.1h0M265.5 552.7h0M264.5 545.8h0M267.9 565.9h0M273.3 572.7h0M273.1 574.2h0M269.5 564.6h0M259.3 532.2h0M265.8 556.1h0M270.5 565.9h0M254.3 530.0h0M271.9 569.4h0M270.8 567.2h0M270.9 568.4h0M274.7 575.8h0M266.0 552.3h0M272.4 570.2h0M265.5 557.0h0M272.8 570.9h0M261.5 537.4h0M270.4 564.0h0M249.8 522.3h0M270.2 566.9h0M272.1 573.3h0M250.6 505.4h0M273.3 573.4h0M260.6 542.4h0M274.5 576.1h0M265.5 548.3h0M249.0 514.0h0M273.4 574.3h0M252.0 522.2h0M256.7 524.7h0M268.4 556.6h0M250.1 537.5h0M263.4 544.6h0M264.5 545.8h0M262.1 551.5h0M272.4 570.1h0M273.2 572.5h0M268.1 557.5h0M255.3 521.0h0M270.5 567.7h0M273.0 570.8h0M272.3 570.8h0M266.7 555.1h0M273.1 571.6h0M256.9 539.0h0M262.6 553.7h0M245.8 507.0h0M263.4 546.7h0M273.3 573.8h0M270.5 569.1h0M273.2 575.5h0M261.1 538.3h0M273.1 575.3h0M248.2 501.9h0M271.7 569.0h0M268.9 562.9h0M274.0 575.6h0M270.1 569.5h0M273.1 573.2h0M268.9 563.0h0M269.3 560.3h0M262.3 545.8h0M271.6 567.4h0M268.3 556.3h0M265.0 552.1h0M262.3 541.9h0M266.0 556.4h0M266.8 559.7h0M266.9 557.0h0M262.8 547.1h0M254.9 528.2h0M273.1 572.1h0M266.9 561.4h0M273.1 572.4h0M268.5 556.8h0M273.9 573.5h0M263.8 543.6h0M251.5 509.8h0M267.1 563.7h0M274.3 575.8h0M269.9 567.8h0M268.0 561.3h0M267.9 562.4h0M262.0 549.4h0M265.5 552.0h0M269.7 566.8h0M273.1 573.9h0M266.9 554.4h0M274.1 574.8h0M268.7 563.5h0M267.8 558.7h0M265.3 553.9h0M274.7 575.7h0M266.3 556.1h0M271.1 564.3h0M267.7 560.4h0M272.6 571.9h0M267.5 553.6h0M274.0 575.9h0M255.3 528.9h0M271.6 569.8h0M260.0 542.4h0M244.5 513.9h0M273.2 574.7h0M269.9 563.4h0M264.9 556.4h0M266.9 560.5h0M269.5 563.4h0M265.9 555.5h0M269.9 565.5h0M270.9 569.6h0M262.7 541.7h0M273.6 575.0h0M253.3 522.0h0M258.8 536.6h0M272.4 570.8h0M274.5 575.8h0M261.4 549.6h0M261.0 547.2h0M273.1 572.5h0M273.3 572.2h0M267.1 556.2h0M260.8 544.8h0M265.4 550.2h0M271.6 567.8h0M270.7 564.6h0M269.4 564.1h0M267.8 556.3h0M272.1 573.6h0M269.0 562.3h0M268.4 564.6h0M273.1 572.7h0M271.2 567.8h0M272.4 571.9h0M263.7 551.0h0M264.2 548.7h0M274.6 576.0h0M260.3 543.1h0M279.3 569.7h0M285.4 554.3h0M279.8 570.7h0M278.0 572.7h0M284.4 563.6h0M283.8 558.1h0M280.3 571.0h0M293.7 541.4h0M282.2 567.2h0M285.0 564.2h0M288.6 553.1h0M283.0 564.7h0M276.0 575.8h0M282.2 562.9h0M279.4 568.6h0M286.7 559.0h0M278.1 572.1h0M279.1 567.6h0M282.8 562.6h0M278.1 571.4h0M278.0 573.8h0M277.8 574.1h0M290.1 537.9h0M278.1 574.4h0M282.8 562.5h0M288.6 555.8h0M285.6 565.0h0M289.8 554.4h0M301.4 540.6h0M279.5 567.5h0M278.8 571.1h0M294.9 549.6h0M282.2 559.3h0M277.3 572.5h0M284.9 558.9h0M286.3 561.1h0M286.0 561.0h0M281.0 565.7h0M277.4 573.6h0M279.8 572.3h0M304.9 548.3h0M284.3 566.6h0M276.5 574.8h0M280.0 570.9h0M283.6 563.0h0M282.8 556.3h0M289.7 561.0h0M285.9 559.0h0M281.5 568.1h0M277.2 575.6h0M287.3 548.2h0M286.7 550.9h0M275.9 575.4h0M278.0 573.5h0M285.3 560.9h0M276.1 575.4h0M279.8 573.4h0M277.5 574.0h0M282.4 567.8h0M279.0 570.7h0M280.0 571.2h0M279.5 569.2h0M277.8 572.8h0M288.9 538.0h0M281.8 557.5h0M288.1 562.4h0M284.4 562.4h0M279.6 568.1h0M280.4 570.4h0M277.2 574.2h0M276.7 574.0h0M284.2 555.1h0M277.5 571.9h0M280.4 566.6h0M277.3 570.5h0M278.9 567.9h0M277.7 572.6h0M284.3 567.4h0M291.4 547.1h0M277.9 575.5h0M281.0 567.5h0M291.0 553.4h0M291.8 556.2h0M278.6 567.9h0M282.5 565.7h0M281.2 570.5h0M282.8 565.6h0M276.7 575.4h0M276.1 575.1h0M281.9 567.8h0M283.7 567.0h0M285.6 551.5h0M277.6 574.5h0M276.9 576.0h0M279.4 572.0h0M292.9 549.0h0M288.4 554.1h0M227.6 557.9h0M240.2 518.8h0M236.4 533.9h0M299.8 550.5h0M293.1 542.4h0M305.4 546.2h0" stroke="#555" stroke-width="1.3" stroke-linecap="round" stroke-opacity="0.75" fill="none"/>
<path d="M272.4 571.2h0M273.0 572.4h0M274.4 575.9h0M267.6 563.0h0M272.9 570.0h0M269.3 564.5h0M274.3 575.2h0M274.5 575.5h0M268.9 559.7h0M273.3 572.1h0M264.6 554.6h0M273.3 574.1h0M271.5 563.8h0M271.4 572.5h0M273.7 573.8h0M274.7 575.7h0M274.6 575.4h0M269.0 566.7h0M273.5 574.2h0M273.6 575.1h0M269.5 558.2h0M266.4 557.5h0M270.8 566.6h0M271.8 569.5h0M270.0 563.0h0M269.5 561.4h0M271.4 566.9h0M271.3 572.1h0M271.9 572.4h0M269.1 559.2h0M269.8 564.7h0M273.2 570.3h0M267.0 556.2h0M268.7 569.7h0M268.8 557.0h0M273.7 574.3h0M272.7 568.7h0M272.0 569.9h0M271.7 569.9h0M268.1 565.7h0M266.7 556.8h0M271.9 571.9h0M274.6 576.0h0M273.1 574.5h0M268.9 564.6h0M272.0 571.6h0M273.6 572.5h0M273.9 574.6h0M273.9 575.1h0M265.7 550.1h0M272.4 570.7h0M272.1 568.9h0M274.0 574.8h0M271.3 567.7h0M272.3 570.7h0M274.3 575.2h0M268.7 558.2h0M272.6 569.8h0M274.1 575.7h0M265.5 546.5h0M273.9 574.2h0M270.5 562.8h0M274.5 575.8h0M273.4 573.8h0M272.0 569.1h0M270.4 561.8h0M258.5 544.1h0M262.9 548.1h0M261.8 556.2h0M274.2 576.0h0M268.7 554.9h0M272.9 569.3h0M269.6 567.6h0M274.4 575.9h0M270.2 562.4h0M271.0 563.0h0M273.9 572.9h0M272.4 569.0h0M268.0 561.5h0M269.3 561.3h0M263.4 554.4h0M263.3 558.6h0M270.9 566.7h0M265.5 560.7h0M274.3 576.0h0M271.5 568.0h0M274.7 576.0h0M265.6 545.0h0M268.2 565.7h0M272.4 567.4h0M273.8 573.5h0M273.3 572.0h0M267.8 564.7h0M274.5 575.1h0M273.9 575.1h0M274.2 574.1h0M271.3 568.9h0M274.5 575.9h0M264.2 551.8h0M267.7 556.5h0M265.3 554.7h0M271.8 569.0h0M273.6 573.9h0M267.9 552.4h0M269.0 560.9h0M266.1 544.3h0M273.2 573.7h0M271.3 563.2h0M271.4 565.5h0M273.0 571.7h0M261.5 552.8h0M272.7 571.5h0M273.7 574.3h0M273.0 570.6h0M274.3 574.4h0M267.2 562.4h0M264.2 555.1h0M267.9 566.8h0M257.4 541.6h0M270.9 567.3h0M274.0 574.3h0M272.8 571.7h0M268.7 565.7h0M269.8 566.6h0M260.1 545.5h0M266.4 548.4h0M272.6 571.8h0M262.4 554.5h0M265.0 546.5h0M273.9 574.4h0M274.4 575.4h0M272.3 569.9h0M269.1 561.2h0M273.0 572.5h0M274.2 574.8h0M271.4 570.7h0M273.3 573.1h0M271.3 569.0h0M273.0 570.4h0M273.2 571.8h0M271.6 565.1h0M274.4 575.4h0M274.0 573.5h0M265.5 562.5h0M274.3 575.6h0M273.0 572.2h0M264.8 547.4h0M273.3 573.0h0M272.1 569.0h0M268.7 560.2h0M268.3 564.2h0M271.5 566.7h0M274.7 575.9h0M272.3 571.4h0M272.0 568.7h0M269.6 561.0h0M266.5 563.8h0M272.3 570.5h0M273.1 571.6h0M268.5 563.4h0M269.3 566.5h0M268.9 569.0h0M274.5 575.8h0M265.5 553.8h0M272.0 568.4h0M264.1 553.7h0M273.7 573.7h0M274.0 575.0h0M271.0 566.5h0M258.2 549.2h0M267.8 554.6h0M274.1 573.9h0M271.0 567.0h0M263.7 555.6h0M269.4 561.9h0M267.3 558.8h0M252.0 532.6h0M267.4 563.4h0M271.4 570.3h0M273.2 571.4h0M273.0 569.8h0M264.6 552.9h0M271.5 566.5h0M269.8 566.5h0M271.7 568.4h0M274.2 573.8h0M263.8 541.2h0M270.2 558.4h0M268.8 563.3h0M274.2 575.3h0M266.9 560.0h0M273.3 570.0h0M266.5 564.1h0M274.2 575.3h0M274.0 574.4h0M273.7 574.1h0M267.7 559.2h0M272.6 571.3h0M273.8 575.0h0M273.5 574.4h0M265.0 552.9h0M273.4 571.8h0M267.1 560.7h0M265.0 552.2h0M266.2 548.1h0M269.0 566.7h0M247.8 528.8h0M274.0 572.7h0M273.0 571.6h0M271.7 565.2h0M271.7 570.5h0M274.4 576.0h0M273.1 574.1h0M268.2 566.2h0M267.6 563.6h0M274.5 575.3h0M272.7 569.3h0M271.2 566.4h0M273.9 574.8h0M270.8 562.2h0M272.7 569.0h0M274.6 575.7h0M268.7 566.0h0M271.6 570.4h0M271.8 570.1h0M269.9 558.7h0M272.7 570.1h0M271.7 566.4h0M263.9 553.5h0M271.5 567.6h0M263.9 558.6h0M269.0 557.0h0M266.1 564.0h0M273.8 574.6h0M273.0 572.3h0M272.3 570.3h0M270.5 568.5h0M274.0 574.0h0M268.9 560.6h0M271.1 571.2h0M274.8 576.0h0M274.2 575.3h0M270.9 567.1h0M274.6 575.1h0M272.7 571.8h0M273.7 572.5h0M271.7 568.6h0M273.2 571.7h0M274.4 575.9h0M274.1 574.5h0M254.4 550.3h0M274.1 574.7h0M273.9 574.0h0M268.6 560.6h0M268.7 558.4h0M271.9 567.5h0M264.6 555.5h0M273.9 573.9h0M274.1 574.0h0M269.2 565.2h0M274.2 574.2h0M262.5 537.4h0M274.0 574.8h0M273.0 574.3h0M272.8 568.1h0M274.3 575.4h0M266.9 550.0h0M271.3 569.9h0M261.8 541.4h0M271.1 569.5h0M274.5 576.0h0M274.1 574.3h0M273.5 572.9h0M263.7 540.4h0M270.5 559.6h0M273.8 574.6h0M271.6 566.2h0M274.3 574.5h0M273.0 570.9h0M269.3 564.1h0M273.2 571.3h0M267.4 567.3h0M272.6 570.6h0M272.9 570.0h0M272.9 572.2h0M269.6 558.9h0M274.2 575.4h0M273.6 574.0h0M268.1 560.3h0M274.1 575.3h0M273.0 572.8h0M273.1 571.7h0M267.0 561.4h0M274.4 575.9h0M270.9 569.8h0M268.6 559.2h0M267.5 559.0h0M271.2 568.9h0M271.2 565.0h0M272.5 570.1h0M263.8 559.6h0M268.6 564.6h0M272.1 567.7h0M268.2 556.2h0M258.8 541.9h0M269.2 561.5h0M273.4 573.5h0M273.2 571.8h0M274.4 575.5h0M254.8 536.2h0M265.4 561.3h0M272.4 567.2h0M269.0 564.5h0M266.2 543.9h0M264.6 560.6h0M270.1 562.5h0M274.5 575.8h0M264.7 551.4h0M271.5 569.6h0M273.3 571.2h0M273.5 574.2h0M269.8 565.7h0M269.5 567.1h0M271.4 565.3h0M271.8 570.7h0M272.1 567.1h0M272.5 568.8h0M274.1 575.6h0M274.6 576.0h0M273.7 575.7h0M264.0 561.2h0M272.0 570.5h0M273.2 571.5h0M264.7 539.2h0M272.2 568.6h0M273.5 572.8h0M274.1 575.6h0M274.0 574.7h0M271.4 567.1h0M271.5 568.0h0M273.5 574.1h0M271.7 571.0h0M274.4 574.9h0M270.7 564.2h0M270.2 567.3h0M272.9 571.0h0M270.6 563.8h0M268.9 564.7h0M272.7 569.1h0M270.1 564.9h0M270.0 561.0h0M268.7 567.0h0M274.2 575.7h0M269.8 564.5h0M260.5 550.8h0M274.6 575.7h0M271.5 571.4h0M256.4 538.2h0M267.5 557.9h0M266.7 561.0h0M267.9 551.0h0M270.5 567.1h0M274.6 575.5h0M274.1 574.4h0M272.4 572.1h0M263.7 549.9h0M273.6 574.7h0M274.4 574.7h0M268.6 558.3h0M268.8 563.7h0M273.6 572.4h0M270.3 565.1h0M266.3 557.1h0M253.6 538.5h0M273.5 571.1h0M269.4 565.3h0M272.7 570.1h0M265.9 556.9h0M273.0 571.4h0M273.3 571.3h0M270.9 567.4h0M270.5 569.0h0M273.6 573.2h0M274.5 575.9h0M274.5 575.5h0M273.7 575.2h0M271.3 570.2h0M273.2 572.2h0M269.5 559.4h0M272.9 572.5h0M273.9 573.8h0M273.3 573.0h0M269.9 563.0h0M270.1 567.9h0M273.0 569.7h0M273.7 573.5h0M268.1 554.8h0M273.3 572.7h0M273.5 572.5h0M273.5 572.5h0M270.9 570.6h0M267.9 559.6h0M272.0 568.7h0M273.5 573.6h0M273.2 573.3h0M267.5 556.3h0M261.3 543.5h0M272.6 571.2h0M273.2 573.0h0M267.8 552.4h0M270.3 565.7h0M267.2 560.1h0M274.1 574.0h0M268.0 557.8h0M271.2 564.2h0M273.9 575.3h0M270.2 566.6h0M268.5 566.4h0M268.0 551.4h0M273.3 574.8h0M273.6 574.4h0M271.8 569.1h0M269.5 563.8h0M269.9 558.4h0M272.8 570.4h0M264.6 553.1h0M259.8 551.7h0M269.2 563.1h0M273.3 575.0h0M274.4 574.2h0M271.6 569.2h0M272.8 570.9h0M265.1 555.1h0M274.0 573.5h0M273.0 571.6h0M264.5 557.5h0M266.0 563.6h0M265.1 551.8h0M269.3 563.8h0M271.0 567.8h0M269.3 567.4h0M268.0 561.4h0M267.9 557.3h0M270.4 567.8h0M271.4 571.9h0M265.9 562.8h0M271.6 570.8h0M272.9 572.4h0M273.1 573.2h0M257.5 535.9h0M270.1 564.0h0M273.7 573.4h0M268.9 561.3h0M273.2 574.3h0M265.1 544.2h0M271.3 568.4h0M258.0 543.3h0M270.2 563.1h0M274.6 575.9h0M258.5 545.5h0M270.4 567.8h0M274.7 575.5h0M270.7 564.4h0M272.7 570.7h0M273.8 574.4h0M269.9 567.9h0M267.3 557.6h0M273.8 572.8h0M263.9 554.0h0M271.0 569.2h0M273.6 571.9h0M273.4 572.4h0M274.1 575.6h0M274.2 575.2h0M273.3 571.9h0M273.4 572.4h0M271.7 568.9h0M273.4 573.6h0M274.3 575.5h0M273.8 574.9h0M273.9 574.6h0M273.5 572.6h0M264.3 547.3h0M272.7 572.3h0M271.7 569.4h0M266.8 561.5h0M273.9 574.9h0M272.7 572.7h0M274.0 573.8h0M273.2 573.2h0M265.9 559.2h0M269.2 557.2h0M273.8 574.7h0M273.2 569.5h0M270.5 567.4h0M274.1 575.8h0M265.1 558.9h0M272.8 572.3h0M274.0 573.7h0M273.2 570.7h0M271.8 567.7h0M264.0 558.0h0M264.1 552.1h0M268.7 553.5h0M272.6 572.7h0M271.9 565.6h0M266.4 558.4h0M256.7 531.9h0M271.3 569.5h0M269.7 568.4h0M271.3 566.5h0M274.5 576.0h0M265.8 553.6h0M269.4 557.0h0M273.9 574.1h0M272.4 572.3h0M271.4 572.0h0M267.9 566.2h0M272.4 570.1h0M261.0 553.9h0M269.2 557.6h0M267.0 559.9h0M273.8 574.5h0M269.5 558.8h0M271.5 565.9h0M269.5 564.4h0M272.7 573.7h0M273.3 573.6h0M274.7 575.8h0M274.6 575.8h0M266.3 550.1h0M271.3 563.2h0M271.0 569.2h0M273.8 574.7h0M273.8 572.6h0M273.6 571.9h0M270.4 563.7h0M267.5 559.7h0M268.5 562.3h0M272.4 569.7h0M273.6 573.4h0M274.5 575.6h0M273.3 572.2h0M272.2 566.7h0M273.9 574.6h0M270.0 567.5h0M273.9 574.7h0M271.1 562.5h0M273.5 572.0h0M273.5 572.8h0M263.9 550.6h0M273.1 573.2h0M272.3 567.1h0M266.4 565.9h0M274.5 575.8h0M269.9 565.7h0M272.7 572.6h0M272.9 571.1h0M269.3 561.4h0M272.8 571.4h0M273.1 570.1h0M274.4 575.2h0M269.7 563.0h0M273.1 573.1h0M274.0 573.2h0M273.1 573.7h0M271.1 566.9h0M270.9 566.6h0M274.2 573.7h0M270.2 564.1h0M261.1 548.9h0M274.7 575.6h0M268.7 564.6h0M273.1 573.4h0M262.7 554.7h0M271.6 565.5h0M272.6 568.6h0M267.5 557.4h0M270.0 560.7h0M270.9 567.8h0M264.8 547.4h0M261.4 546.7h0M270.0 571.2h0M268.7 564.7h0M261.6 554.6h0M270.3 569.7h0M267.4 552.7h0M271.1 569.5h0M268.9 565.0h0M265.1 562.7h0M274.2 574.5h0M265.6 549.0h0M271.5 569.0h0M273.7 573.5h0M266.5 557.5h0M272.7 570.8h0M269.8 565.4h0M271.6 570.6h0M272.6 573.1h0M274.6 575.4h0M264.3 548.3h0M271.3 565.9h0M274.4 575.0h0M273.2 573.2h0M272.6 570.4h0M273.3 571.9h0M271.4 566.4h0M274.4 576.0h0M261.1 542.9h0M263.3 552.9h0M272.7 571.7h0M274.5 575.6h0M270.2 559.9h0M259.5 550.9h0M271.7 567.9h0M273.2 570.2h0M266.2 562.0h0M271.0 570.0h0M273.3 572.4h0M273.0 571.1h0M274.4 575.9h0M271.1 568.8h0M272.7 573.7h0M266.0 546.0h0M273.7 572.3h0M269.5 564.3h0M274.4 575.5h0M274.5 575.3h0M273.6 573.2h0M272.4 569.8h0M271.7 567.2h0M270.5 566.8h0M272.5 570.9h0M261.0 552.9h0M270.4 564.4h0M273.2 571.5h0M273.9 575.0h0M266.3 545.4h0M273.8 573.8h0M271.7 572.4h0M268.9 556.0h0M273.9 574.1h0M270.9 567.8h0M271.2 571.7h0M271.6 564.7h0M266.7 549.5h0M272.1 570.5h0M267.8 567.8h0M268.7 561.2h0M273.6 574.4h0M273.0 572.7h0M267.7 565.3h0M262.2 548.4h0M266.6 558.1h0M267.3 561.4h0M273.3 573.4h0M274.5 576.0h0M272.4 570.5h0M268.8 559.1h0M273.8 572.7h0M265.0 550.3h0M273.1 572.3h0M273.6 574.2h0M268.7 565.8h0M259.9 552.9h0M274.5 576.0h0M260.5 545.4h0M274.2 575.5h0M268.7 560.1h0M274.7 576.0h0M268.8 559.4h0M267.6 565.2h0M270.4 564.3h0M274.0 575.4h0M267.8 558.6h0M263.7 543.8h0M267.9 565.1h0M272.5 568.0h0M271.6 569.5h0M274.1 574.4h0M273.1 570.1h0M268.0 551.9h0M274.6 575.2h0M274.1 575.1h0M271.1 562.9h0M272.2 572.1h0M270.7 567.0h0M274.1 575.2h0M274.7 575.4h0M273.4 574.0h0M270.9 568.4h0M267.1 564.8h0M265.1 556.0h0M268.7 556.7h0M269.9 568.3h0M274.0 575.7h0M273.1 571.8h0M264.9 542.4h0M272.1 571.2h0M273.6 574.1h0M261.5 557.1h0M274.2 575.2h0M268.4 565.8h0M274.1 575.0h0M274.3 575.5h0M274.8 576.1h0M273.6 575.2h0M272.5 569.8h0M273.7 573.4h0M272.5 572.1h0M269.7 564.8h0M262.4 543.3h0M259.2 549.8h0M271.8 570.2h0M274.0 575.7h0M271.5 566.9h0M274.3 575.1h0M270.8 565.6h0M263.6 554.8h0M257.1 541.9h0M274.6 575.7h0M273.3 571.5h0M268.0 563.1h0M268.4 554.8h0M269.2 566.8h0M273.6 572.1h0M269.2 562.0h0M272.2 572.4h0M274.6 575.3h0M272.3 573.6h0M272.7 568.9h0M271.1 564.4h0M273.8 574.7h0M265.3 553.7h0M262.7 558.6h0M274.6 575.9h0M272.1 565.9h0M274.2 575.4h0M273.0 573.8h0M272.2 570.6h0M267.9 564.0h0M266.3 559.5h0M267.1 558.2h0M273.1 573.6h0M252.5 531.5h0M272.3 571.5h0M274.1 575.6h0M271.7 567.7h0M273.9 574.1h0M271.4 571.2h0M274.0 573.2h0M273.7 575.1h0M270.0 567.0h0M273.1 572.2h0M274.4 575.7h0M266.3 554.0h0M269.0 568.5h0M265.6 555.0h0M263.3 561.6h0M261.6 557.4h0M271.2 569.8h0M273.4 573.1h0M265.4 557.2h0M266.2 559.4h0M274.6 575.7h0M272.5 568.5h0M248.8 534.9h0M267.2 561.4h0M270.4 566.9h0M269.9 568.1h0M266.4 547.2h0M263.4 533.4h0M273.6 573.1h0M273.3 573.6h0M272.0 568.1h0M273.5 573.2h0M265.2 557.6h0M272.8 572.0h0M273.0 571.3h0M273.2 571.9h0M269.4 565.7h0M271.0 571.0h0M269.9 563.4h0M270.0 560.3h0M269.2 568.3h0M273.3 573.7h0M270.5 567.7h0M272.3 570.3h0M271.3 569.1h0M272.7 569.2h0M273.6 574.0h0M270.8 565.6h0M273.7 573.6h0M271.7 570.8h0M274.6 576.1h0M259.5 535.5h0M272.8 569.5h0M268.9 564.9h0M265.8 555.4h0M271.9 565.6h0M270.4 561.4h0M273.6 575.3h0M271.8 570.0h0M261.8 545.0h0M274.0 573.1h0M270.5 563.3h0M272.2 569.0h0M273.3 570.5h0M274.3 574.2h0M270.9 564.7h0M274.0 574.5h0M252.4 532.4h0M273.8 574.2h0M266.8 553.4h0M271.6 569.2h0M274.2 575.4h0M264.4 546.0h0M266.1 550.0h0M271.1 568.6h0M273.1 572.1h0M270.5 567.3h0M273.1 571.1h0M273.1 572.8h0M273.3 573.0h0M273.3 574.5h0M271.9 572.1h0M273.1 571.1h0M267.4 555.5h0M272.5 570.7h0M272.9 571.2h0M274.2 574.3h0M261.2 556.0h0M267.4 550.9h0M274.1 575.1h0M274.8 575.7h0M274.2 575.4h0M270.8 561.6h0M274.2 574.8h0M274.2 574.9h0M267.8 561.3h0M273.3 571.4h0M273.7 572.5h0M273.6 575.0h0M261.6 532.7h0M269.5 564.0h0M271.9 568.4h0M274.7 576.0h0M253.3 530.4h0M274.1 574.3h0M273.7 574.1h0M270.3 566.1h0M272.3 571.5h0M254.1 540.1h0M270.1 563.1h0M274.3 575.1h0M272.0 566.6h0M268.4 565.0h0M271.3 566.3h0M272.3 571.5h0M273.0 571.1h0M273.6 574.6h0M273.3 574.6h0M271.1 565.2h0M273.4 572.4h0M273.0 570.1h0M273.7 572.4h0M268.4 566.5h0M264.9 541.3h0M271.7 565.7h0M267.9 564.3h0M274.6 575.3h0M270.2 569.1h0M272.8 571.5h0M266.9 555.2h0M267.6 554.2h0M273.7 573.6h0M274.6 575.3h0M273.2 574.2h0M266.7 551.1h0M259.7 548.5h0M273.8 573.0h0M267.1 558.7h0M267.0 561.9h0M270.1 562.4h0M274.1 574.4h0M273.7 573.5h0M272.1 571.8h0M273.8 574.2h0M272.9 572.0h0M274.1 574.2h0M270.2 561.8h0M272.6 569.5h0M269.1 566.8h0M274.6 575.8h0M270.9 565.5h0M273.2 573.7h0M273.0 571.9h0M273.3 573.4h0M270.4 559.6h0M266.0 558.9h0M274.0 574.5h0M273.9 573.0h0M273.0 570.4h0M273.5 572.9h0M267.3 568.6h0M270.4 569.1h0M272.6 570.2h0M272.5 572.5h0M267.0 558.9h0M272.3 570.3h0M270.8 565.4h0M269.1 562.3h0M270.5 568.7h0M274.5 575.8h0M269.8 562.5h0M270.2 566.9h0M273.6 574.8h0M273.7 572.3h0M273.4 572.2h0M271.1 565.7h0M273.1 574.4h0M271.9 567.7h0M260.9 555.7h0M273.3 573.9h0M273.7 574.6h0M274.4 575.6h0M263.0 557.0h0M260.4 535.9h0M273.5 573.8h0M269.2 564.9h0M271.5 569.7h0M272.6 572.0h0M273.8 573.4h0M272.1 570.3h0M268.4 569.1h0M272.5 574.0h0M266.4 553.7h0M272.8 570.2h0M268.4 566.5h0M266.9 559.1h0M270.3 561.3h0M258.1 545.4h0M271.8 568.4h0M268.3 556.2h0M267.3 564.9h0M273.2 573.2h0M274.4 575.8h0M273.9 574.8h0M258.7 547.4h0M265.1 561.1h0M267.9 554.3h0M273.0 571.3h0M263.7 548.3h0M273.4 574.0h0M272.0 570.5h0M270.7 567.0h0M270.1 567.3h0M267.8 554.6h0M269.4 567.8h0M271.7 569.8h0M273.3 572.7h0M265.7 548.8h0M264.3 560.9h0M262.8 557.9h0M270.7 570.4h0M268.5 565.1h0M272.3 568.4h0M268.2 552.4h0M273.6 574.5h0M274.4 575.4h0M274.7 576.0h0M266.1 553.9h0M261.4 541.2h0M273.3 573.5h0M267.3 553.2h0M272.4 570.2h0M267.4 550.1h0M272.6 571.3h0M260.4 545.1h0M273.4 573.4h0M273.5 573.0h0M272.2 571.7h0M270.8 569.4h0M271.8 571.2h0M271.2 570.6h0M264.8 547.1h0M266.3 554.6h0M271.6 569.9h0M273.3 571.8h0M265.2 560.9h0M262.3 551.9h0M268.4 566.4h0M255.4 540.4h0M272.5 568.7h0M259.7 539.8h0M273.1 572.2h0M274.4 576.0h0M271.3 566.0h0M274.2 574.3h0M272.0 567.1h0M261.1 550.9h0M251.3 540.3h0M270.5 563.0h0M272.7 572.8h0M267.9 559.9h0M253.6 535.7h0M270.7 567.7h0M270.6 565.9h0M272.6 568.8h0M273.2 573.0h0M270.0 567.3h0M273.0 572.3h0M267.0 558.1h0M272.7 572.5h0M274.1 576.0h0M274.6 575.3h0M271.3 570.6h0M273.6 574.6h0M273.8 573.5h0M273.9 574.3h0M273.8 574.9h0M272.3 570.3h0M274.7 575.8h0M269.7 566.4h0M274.4 574.7h0M271.7 571.8h0M265.2 560.3h0M273.3 571.5h0M271.3 569.4h0M273.2 572.2h0M273.1 573.5h0M272.9 573.4h0M271.2 567.4h0M271.8 567.6h0M273.5 571.9h0M263.1 536.2h0M274.3 575.1h0M266.9 551.4h0M273.4 572.5h0M272.8 570.1h0M273.7 574.9h0M266.2 563.3h0M261.8 553.8h0M273.9 575.2h0M273.4 573.4h0M274.4 575.5h0M273.6 573.8h0M264.5 562.1h0M270.6 566.2h0M260.8 556.1h0M274.5 575.8h0M261.5 552.9h0M265.0 560.3h0M265.3 562.4h0M267.9 561.8h0M274.4 575.3h0M270.1 563.6h0M268.0 561.5h0M270.5 564.9h0M264.7 562.4h0M272.4 567.6h0M270.3 561.9h0M273.7 572.7h0M258.8 549.2h0M273.3 572.7h0M273.9 573.3h0M271.0 569.0h0M271.1 563.3h0M264.8 563.3h0M272.9 573.3h0M272.3 573.1h0M274.3 575.4h0M270.5 565.1h0M271.5 567.5h0M271.8 565.3h0M274.2 574.6h0M269.2 570.4h0M264.4 553.0h0M271.5 568.6h0M273.3 573.2h0M269.6 567.4h0M268.6 563.2h0M273.4 571.8h0M272.5 567.8h0M273.7 572.5h0M267.2 553.4h0M270.9 571.1h0M273.2 573.7h0M266.8 551.6h0M274.7 575.5h0M269.5 568.0h0M269.8 560.8h0M267.9 553.5h0M267.6 565.4h0M272.1 570.0h0M273.7 573.9h0M270.4 566.3h0M272.4 572.1h0M263.0 556.1h0M273.8 574.2h0M271.2 565.2h0M271.4 567.0h0M260.9 548.4h0M273.2 571.9h0M271.6 570.6h0M273.9 573.8h0M263.8 556.6h0M271.9 568.9h0M261.9 531.2h0M266.9 555.4h0M271.6 568.0h0M266.6 561.4h0M268.7 566.6h0M257.4 550.3h0M267.6 562.8h0M261.7 553.2h0M273.5 573.9h0M273.8 573.0h0M274.8 575.9h0M272.0 571.0h0M272.3 571.2h0M268.7 565.6h0M270.1 568.4h0M274.7 575.7h0M271.7 567.7h0M265.8 557.3h0M273.0 572.7h0M259.1 529.4h0M271.6 569.0h0M274.1 574.8h0M274.3 575.5h0M274.2 575.7h0M270.9 564.6h0M271.4 569.8h0M272.2 568.9h0M268.8 564.2h0M274.6 576.0h0M259.2 530.4h0M269.1 561.5h0M273.1 573.2h0M273.6 573.2h0M273.9 573.4h0M274.0 574.9h0M274.2 574.9h0M272.1 572.7h0M263.9 539.0h0M268.8 562.3h0M267.4 568.0h0M271.0 568.3h0M274.0 575.1h0M253.0 539.3h0M264.7 555.0h0M270.7 571.0h0M271.7 564.9h0M274.0 575.5h0M271.6 570.6h0M274.2 575.2h0M274.6 576.0h0M270.8 563.5h0M267.7 561.2h0M272.6 571.1h0M273.3 573.8h0M272.2 570.3h0M274.7 575.8h0M271.9 570.7h0M267.3 560.7h0M274.0 574.3h0M271.3 565.9h0M272.5 568.3h0M262.4 546.4h0M271.7 568.1h0M270.4 567.1h0M271.9 566.7h0M270.2 568.1h0M271.5 567.9h0M272.1 568.4h0M272.7 572.1h0M270.7 563.5h0M269.3 560.3h0M272.7 573.1h0M266.5 555.5h0M270.8 568.1h0M268.7 565.1h0M274.7 576.1h0M274.6 575.4h0M273.4 574.4h0M274.0 574.9h0M272.4 571.8h0M273.0 569.6h0M269.2 562.5h0M274.0 575.2h0M274.5 575.1h0M270.9 567.7h0M270.7 565.4h0M272.6 572.2h0M274.0 573.0h0M272.6 570.0h0M265.7 562.6h0M271.3 563.6h0M270.9 565.9h0M263.4 546.2h0M269.9 562.2h0M271.1 569.6h0M271.3 566.5h0M267.4 557.9h0M273.6 574.4h0M272.9 570.9h0M266.3 564.7h0M272.3 570.6h0M271.3 564.0h0M270.5 567.9h0M266.5 556.4h0M270.8 568.8h0M274.0 574.2h0M272.3 570.2h0M272.5 572.0h0M274.0 574.7h0M268.6 558.6h0M262.7 560.1h0M274.3 575.2h0M271.8 570.3h0M262.7 555.9h0M274.3 575.9h0M271.9 565.8h0M273.7 574.8h0M273.8 575.3h0M274.1 575.5h0M273.6 572.1h0M272.3 573.8h0M274.6 575.1h0M266.6 563.9h0M274.1 573.6h0M273.4 571.5h0M271.7 565.5h0M272.8 569.7h0M271.0 568.8h0M273.2 571.5h0M272.1 569.0h0M265.1 562.7h0M269.3 565.8h0M271.6 570.0h0M271.2 569.2h0M261.7 547.6h0M273.3 572.2h0M272.3 571.2h0M265.9 560.9h0M271.2 566.1h0M271.0 563.6h0M272.8 569.4h0M274.3 574.7h0M271.5 570.7h0M259.7 551.9h0M273.3 571.8h0M272.0 570.3h0M271.0 564.9h0M271.0 568.4h0M268.9 563.3h0M271.3 566.7h0M272.3 573.5h0M268.7 567.1h0M274.4 575.5h0M270.1 566.3h0M264.0 554.7h0M274.1 575.6h0M270.4 562.7h0M269.5 561.5h0M273.0 571.8h0M269.5 558.2h0M273.4 574.5h0M274.2 575.4h0M271.7 564.4h0M274.8 576.0h0M272.4 572.8h0M255.1 540.5h0M265.1 552.5h0M268.4 565.9h0M273.3 573.6h0M262.6 561.8h0M267.3 561.5h0M273.0 572.3h0M263.3 553.3h0M274.6 574.9h0M268.3 558.1h0M271.4 565.8h0M262.8 545.0h0M273.6 573.9h0M271.2 564.9h0M273.0 571.0h0M270.3 562.6h0M264.1 539.6h0M273.6 574.0h0M260.7 551.1h0M273.0 574.6h0M265.2 557.1h0M267.6 556.4h0M272.8 573.4h0M273.1 573.4h0M270.8 565.6h0M271.1 567.4h0M274.0 573.5h0M268.8 567.0h0M274.0 573.1h0M267.5 560.7h0M271.1 563.3h0M272.6 568.7h0M272.9 572.8h0M267.0 562.8h0M271.2 571.4h0M263.0 540.8h0M274.4 575.3h0M262.9 542.7h0M269.8 561.5h0M263.8 562.3h0M262.4 544.6h0M273.9 574.4h0M273.0 572.9h0M261.9 535.1h0M262.7 560.0h0M269.3 557.7h0M273.2 572.7h0M274.3 575.3h0M269.3 567.9h0M272.1 571.3h0M269.0 554.1h0M271.3 568.0h0M270.7 570.1h0M268.5 565.4h0M273.0 570.7h0M272.4 569.7h0M274.0 575.4h0M274.6 575.7h0M273.8 573.5h0M272.1 566.9h0M262.7 553.5h0M274.2 574.3h0M268.1 554.5h0M266.7 559.5h0M272.6 570.3h0M273.9 575.0h0M265.2 545.8h0M272.9 569.3h0M273.9 574.2h0M273.1 573.0h0M269.8 570.9h0M271.1 567.3h0M274.4 575.3h0M272.7 568.9h0M273.1 571.9h0M273.6 573.5h0M273.0 571.6h0M269.8 558.9h0M271.2 568.3h0M263.2 533.4h0M254.6 546.7h0M274.4 575.5h0M269.8 563.6h0M274.4 575.5h0M262.9 557.7h0M271.7 565.9h0M267.0 563.4h0M274.7 576.0h0M273.1 571.0h0M274.3 575.3h0M271.9 569.3h0M265.4 550.4h0M274.1 575.2h0M269.5 560.7h0M272.9 572.2h0M270.8 562.9h0M273.3 572.0h0M273.1 569.8h0M271.2 564.7h0M271.5 571.6h0M266.0 557.7h0M262.1 546.0h0M258.3 544.5h0M261.8 553.7h0M268.7 562.3h0M273.7 574.9h0M261.0 552.8h0M271.0 566.4h0M271.2 569.5h0M271.1 566.5h0M274.5 576.1h0M274.4 575.3h0M271.2 566.5h0M269.9 566.1h0M258.1 542.6h0M258.8 546.8h0M272.1 568.1h0M274.1 575.6h0M267.4 559.0h0M273.9 574.9h0M273.4 574.8h0M267.3 563.0h0M274.2 575.2h0M272.8 571.0h0M274.3 575.3h0M269.8 567.4h0M272.7 570.1h0M262.1 553.4h0M272.6 572.5h0M268.0 561.4h0M272.0 568.0h0M273.2 573.6h0M274.3 574.8h0M274.1 574.5h0M271.5 572.3h0M272.6 569.9h0M273.2 571.4h0M268.6 566.9h0M273.1 572.1h0M264.2 552.8h0M266.9 561.8h0M274.2 574.6h0M271.9 567.6h0M255.9 540.0h0M264.1 551.4h0M266.6 550.9h0M271.8 568.8h0M272.8 570.9h0M271.4 567.7h0M271.0 567.9h0M264.7 560.5h0M270.0 569.1h0M273.2 573.0h0M273.8 574.5h0M271.1 567.0h0M271.8 569.4h0M273.5 573.6h0M259.5 555.0h0M274.1 574.1h0M269.6 566.3h0M273.3 572.7h0M259.4 548.0h0M270.4 565.6h0M245.0 531.5h0M272.9 570.9h0M267.8 561.7h0M267.7 564.4h0M268.7 563.7h0M271.0 568.3h0M266.2 555.7h0M272.0 566.8h0M266.0 565.4h0M274.0 575.6h0M270.8 568.2h0M273.5 574.7h0M274.6 575.5h0M271.2 569.1h0M273.4 574.4h0M266.7 550.0h0M272.8 570.0h0M271.3 570.5h0M272.4 569.0h0M263.2 543.7h0M269.6 564.3h0M273.9 576.0h0M268.4 567.0h0M274.4 575.3h0M273.4 573.3h0M262.8 541.6h0M267.8 560.3h0M272.0 570.4h0M262.1 551.5h0M270.6 568.2h0M272.9 571.5h0M274.0 575.2h0M269.2 559.8h0M260.9 549.4h0M273.2 573.0h0M267.0 552.9h0M273.5 575.5h0M264.5 565.1h0M273.9 572.8h0M272.6 573.2h0M274.5 576.0h0M273.2 572.0h0M272.9 572.5h0M273.9 574.1h0M272.2 568.0h0M273.9 573.1h0M267.8 551.8h0M271.5 568.1h0M273.3 571.3h0M273.4 574.3h0M262.5 544.9h0M274.1 576.0h0M272.7 572.4h0M262.7 550.0h0M272.1 570.4h0M272.9 573.1h0M274.4 575.5h0M274.7 576.0h0M266.7 562.8h0M272.5 568.7h0M273.1 572.5h0M273.2 573.1h0M272.9 569.6h0M273.4 574.1h0M271.9 571.8h0M272.2 571.0h0M274.0 573.3h0M273.9 574.4h0M274.2 574.7h0M272.9 571.0h0M270.8 570.2h0M267.3 567.3h0M274.2 575.0h0M273.9 575.2h0M274.6 575.4h0M273.2 572.8h0M265.7 544.4h0M274.3 575.1h0M270.4 565.9h0M274.3 575.8h0M271.3 569.6h0M272.6 569.1h0M274.0 574.5h0M273.9 573.5h0M261.8 556.6h0M268.9 562.7h0M271.6 570.9h0M272.6 571.6h0M268.9 564.3h0M268.3 553.9h0M273.8 572.8h0M274.3 575.7h0M274.1 573.7h0M272.6 573.8h0M271.5 567.9h0M267.7 567.6h0M273.6 572.6h0M272.9 569.0h0M273.4 570.7h0M271.6 568.3h0M264.5 555.4h0M268.8 563.8h0M273.2 570.4h0M271.7 570.2h0M274.6 575.6h0M273.4 572.2h0M271.1 565.2h0M269.4 562.0h0M269.1 567.0h0M273.3 571.6h0M274.3 575.0h0M274.7 576.1h0M274.1 575.8h0M273.2 573.7h0M268.3 564.3h0M265.2 557.1h0M273.5 572.4h0M273.6 573.1h0M273.2 574.4h0M260.7 540.8h0M267.2 554.4h0M269.4 559.6h0M270.1 561.4h0M272.0 571.5h0M268.2 564.3h0M264.0 561.7h0M274.0 574.2h0M270.8 561.8h0M256.9 547.8h0M269.6 562.8h0M270.1 565.8h0M261.1 543.2h0M272.3 569.3h0M274.5 575.7h0M273.4 575.0h0M272.0 571.6h0M272.1 572.4h0M265.7 547.5h0M267.6 552.2h0M268.7 558.9h0M258.7 551.1h0M263.7 559.7h0M267.8 553.7h0M267.3 559.1h0M272.1 568.9h0M265.9 562.7h0M255.8 553.4h0M263.3 553.6h0M271.1 567.5h0M273.9 573.8h0M268.9 558.0h0M267.7 563.3h0M266.4 561.8h0M272.8 571.1h0M266.2 563.4h0M269.8 558.4h0M268.9 564.0h0M260.6 550.4h0M268.4 564.6h0M261.8 554.0h0M269.2 567.2h0M272.0 569.8h0M274.3 575.2h0M274.2 575.8h0M269.7 563.4h0M274.2 574.7h0M270.3 569.9h0M272.9 572.8h0M273.8 573.3h0M273.3 573.0h0M249.3 530.0h0M270.4 567.3h0M273.6 572.9h0M273.2 571.1h0M247.7 541.3h0M271.4 567.7h0M269.9 561.6h0M273.5 573.5h0M273.4 574.1h0M273.9 573.4h0M273.4 573.3h0M271.8 572.0h0M266.5 564.2h0M269.0 562.2h0M242.7 533.5h0M265.4 549.1h0M273.9 573.2h0M270.4 563.9h0M273.5 574.4h0M272.6 570.7h0M269.4 567.3h0M270.8 567.6h0M273.3 571.6h0M273.6 571.6h0M271.5 565.4h0M268.7 564.5h0M274.2 575.7h0M274.3 575.6h0M270.9 564.1h0M269.7 567.5h0M253.2 549.6h0M273.4 571.6h0M269.9 562.7h0M274.1 574.0h0M269.7 562.5h0M274.6 575.7h0M253.9 544.1h0M273.8 573.2h0M268.8 562.9h0M263.8 558.1h0M271.5 564.6h0M274.0 573.5h0M272.1 569.8h0M274.0 573.3h0M272.5 571.4h0M266.4 556.8h0M273.3 571.2h0M269.3 558.9h0M264.9 551.1h0M272.4 571.2h0M270.4 562.8h0M264.7 541.2h0M264.6 557.3h0M274.8 576.0h0M273.8 574.7h0M271.8 567.2h0M270.0 565.4h0M268.5 561.5h0M274.3 575.9h0M274.2 575.3h0M269.1 555.4h0M271.3 563.9h0M267.1 563.1h0M269.2 561.8h0M270.9 570.3h0M265.4 556.0h0M271.9 569.3h0M273.8 574.9h0M273.1 573.4h0M254.4 537.5h0M272.8 574.1h0M269.4 563.6h0M262.1 557.7h0M271.7 569.4h0M271.3 569.3h0M266.0 547.1h0M274.3 574.5h0M273.7 574.0h0M274.8 575.9h0M270.6 564.8h0M272.0 568.4h0M274.1 574.8h0M272.1 572.3h0M270.6 568.1h0M264.1 535.5h0M268.3 555.6h0M271.6 566.1h0M271.9 571.4h0M269.6 564.5h0M269.6 569.1h0M266.7 546.2h0M272.4 568.8h0M274.4 575.4h0M265.5 558.9h0M272.1 569.7h0M274.7 575.3h0M273.1 571.8h0M273.0 571.4h0M274.3 575.2h0M267.3 556.0h0M272.7 571.8h0M274.4 575.9h0M273.2 573.7h0M274.0 574.2h0M274.0 574.3h0M273.9 575.7h0M272.2 566.9h0M273.5 574.3h0M270.6 566.9h0M273.7 573.0h0M273.6 574.0h0M269.1 556.1h0M274.4 575.8h0M271.1 569.3h0M250.1 531.7h0M265.9 561.8h0M274.3 574.7h0M270.5 562.2h0M260.6 534.2h0M272.3 568.6h0M273.3 573.0h0M262.9 553.1h0M274.3 574.9h0M274.8 576.1h0M274.0 573.4h0M273.3 570.2h0M274.3 575.9h0M274.2 574.0h0M274.0 574.0h0M266.0 557.8h0M271.5 569.0h0M267.7 556.3h0M271.3 563.5h0M269.7 563.6h0M274.2 575.7h0M272.3 569.6h0M267.5 558.6h0M264.0 553.6h0M274.7 576.0h0M271.8 570.6h0M271.5 569.8h0M269.2 554.5h0M274.2 574.8h0M266.2 559.7h0M274.4 575.8h0M270.0 564.9h0M269.5 562.9h0M273.8 574.0h0M274.3 575.0h0M268.0 562.4h0M270.5 562.6h0M267.0 562.0h0M273.8 573.6h0M274.4 574.9h0M267.7 560.7h0M244.9 532.6h0M266.4 557.2h0M272.5 568.6h0M273.5 573.9h0M269.1 565.0h0M272.8 569.6h0M270.9 571.8h0M270.2 563.6h0M271.4 571.5h0M267.2 567.0h0M271.5 569.8h0M272.3 569.0h0M273.0 572.7h0M273.6 571.9h0M273.1 572.9h0M272.8 568.4h0M269.5 560.6h0M267.3 561.0h0M263.2 550.4h0M263.5 556.4h0M270.3 560.6h0M262.3 547.8h0M271.9 565.8h0M258.9 550.0h0M273.6 571.3h0M266.5 549.2h0M268.2 553.9h0M271.2 569.0h0M271.7 571.4h0M273.1 571.6h0M264.5 544.6h0M274.0 574.4h0M253.4 530.5h0M270.5 564.9h0M271.5 567.9h0M271.7 565.9h0M265.5 557.7h0M272.4 572.5h0M273.7 574.1h0M273.9 575.8h0M260.9 549.5h0M270.9 563.6h0M270.1 567.0h0M272.7 572.2h0M262.8 540.8h0M272.2 566.5h0M273.2 572.8h0M266.6 555.9h0M268.6 565.7h0M269.0 559.9h0M272.1 567.1h0M267.6 567.2h0M267.9 557.6h0M273.6 572.9h0M270.7 570.2h0M267.9 561.3h0M273.7 573.7h0M273.8 573.1h0M268.2 566.0h0M273.2 572.5h0M272.1 571.6h0M271.2 570.2h0M272.8 573.5h0M273.5 575.3h0M272.7 571.8h0M271.6 568.9h0M272.8 571.4h0M273.2 574.4h0M271.5 568.4h0M272.9 571.7h0M254.2 536.4h0M270.6 568.8h0M272.9 569.7h0M273.0 570.6h0M274.4 575.3h0M267.6 565.1h0M268.0 564.8h0M274.2 575.1h0M273.3 574.7h0M270.6 562.9h0M274.5 576.1h0M273.6 574.5h0M273.3 572.3h0M271.9 565.5h0M271.3 570.5h0M271.4 572.3h0M270.4 563.4h0M274.3 575.9h0M271.3 569.1h0M266.7 564.0h0M273.4 571.3h0M270.2 567.3h0M256.6 543.9h0M272.8 570.9h0M268.8 561.8h0M272.7 568.7h0M270.7 564.6h0M273.9 573.8h0M274.5 575.9h0M271.6 569.6h0M230.9 527.7h0M272.8 573.0h0M273.8 572.3h0M267.0 551.9h0M269.4 559.1h0M257.3 543.3h0M273.4 572.4h0M274.0 574.5h0M269.6 562.3h0M271.5 566.6h0M260.8 551.8h0M270.3 566.2h0M269.4 558.0h0M270.1 560.1h0M272.9 572.7h0M268.9 567.9h0M270.3 565.4h0M274.5 575.1h0M273.3 574.6h0M266.4 558.9h0M282.2 555.5h0M293.9 545.0h0M277.8 572.1h0M276.0 575.7h0M278.3 571.7h0M277.9 574.3h0M275.5 575.5h0M279.1 569.3h0M282.1 565.7h0M279.2 567.8h0M277.9 570.9h0M275.9 575.8h0M275.9 574.9h0M276.8 574.4h0M279.8 569.7h0M278.4 572.3h0M276.2 574.5h0M276.9 574.0h0M281.1 564.2h0M277.7 571.6h0M276.6 574.9h0M278.0 570.8h0M277.0 574.2h0M281.0 565.3h0M279.0 573.1h0M278.2 571.3h0M276.2 573.6h0M284.6 558.6h0M279.9 562.5h0M278.8 568.3h0M279.5 566.6h0M276.6 572.9h0M282.5 555.4h0M276.2 574.8h0M277.1 573.8h0M285.8 560.1h0M286.0 558.2h0M281.4 562.8h0M277.7 572.0h0M282.4 566.4h0M278.8 567.0h0M277.5 573.4h0M281.8 562.8h0M281.2 568.7h0M276.3 575.7h0M277.4 573.3h0M284.4 557.5h0M280.7 568.2h0M276.3 575.3h0M281.0 567.7h0M282.4 568.5h0M275.5 576.0h0M282.3 564.6h0M277.5 570.3h0M277.7 571.4h0M284.0 564.8h0M276.4 573.9h0M276.0 574.7h0M278.3 567.7h0M282.3 563.0h0M277.5 572.5h0M278.3 569.2h0M281.3 565.2h0M276.4 574.2h0M276.9 572.8h0M278.8 569.2h0M280.5 567.7h0M277.4 572.4h0M275.8 575.2h0M276.6 572.9h0M275.6 576.1h0M281.0 561.2h0M275.9 575.5h0M276.6 573.6h0M277.2 572.4h0M276.5 574.7h0M277.2 572.6h0M277.4 573.0h0M280.3 562.3h0M275.6 576.0h0M280.9 563.4h0M281.2 561.7h0M276.3 573.6h0M280.5 566.2h0M276.2 574.9h0M281.6 561.2h0M282.1 555.5h0M275.6 576.1h0M276.0 574.5h0M280.8 565.4h0M280.4 568.8h0M279.9 564.2h0M276.3 574.8h0M276.1 575.3h0M277.4 571.7h0M277.1 572.5h0M275.6 575.9h0M277.1 572.2h0M286.8 555.8h0M277.5 571.1h0M282.8 567.1h0M277.6 571.8h0M275.8 575.2h0M276.5 574.1h0M276.6 572.0h0M280.4 562.8h0M278.8 572.8h0M276.6 574.6h0M283.5 562.1h0M275.9 576.0h0M277.2 574.0h0M276.9 573.4h0M277.2 572.7h0M277.4 572.8h0M276.4 573.7h0M277.3 574.4h0M276.3 574.8h0M278.5 571.4h0M278.7 572.6h0M277.6 573.2h0M276.3 575.4h0M277.4 574.5h0M277.0 574.1h0M278.4 569.9h0M278.6 571.3h0M286.0 555.5h0M275.9 576.0h0M276.3 573.4h0M278.2 573.5h0M277.2 573.5h0M276.6 573.9h0M281.1 569.3h0M278.8 572.0h0M278.3 570.9h0M276.8 572.6h0M285.1 554.2h0M287.9 557.1h0M285.4 553.9h0M277.7 573.4h0M275.7 575.9h0M277.2 574.1h0M278.6 568.5h0M279.4 568.2h0M276.3 574.7h0M281.0 566.0h0M278.7 568.7h0M276.6 574.7h0M277.1 571.5h0M288.2 548.3h0M276.9 571.8h0M276.0 575.6h0M276.8 574.0h0M276.6 574.5h0M281.7 561.7h0M283.4 559.6h0M279.5 571.2h0M275.9 575.5h0M277.5 569.9h0M278.7 572.3h0M279.5 571.7h0M285.3 558.7h0M278.1 568.6h0M281.0 565.6h0M286.8 558.6h0M278.8 568.0h0M279.2 567.6h0M276.5 574.7h0M278.9 568.3h0M279.2 566.4h0M280.2 569.1h0M278.3 569.4h0M275.6 575.4h0M276.2 573.6h0M276.4 573.8h0M283.4 563.3h0M276.8 572.0h0M275.5 575.6h0M276.1 576.0h0M277.4 571.2h0M276.6 571.9h0M284.7 561.1h0M281.0 569.8h0M279.1 569.6h0M275.7 575.5h0M276.6 573.6h0M278.3 570.0h0M280.1 565.6h0M276.1 575.9h0M279.9 562.0h0M278.8 568.0h0M275.6 576.0h0M275.9 574.6h0M276.0 574.2h0M275.7 575.8h0M278.2 567.6h0M275.8 575.8h0M276.7 574.6h0M277.1 572.0h0M289.0 559.2h0M280.7 560.8h0M276.0 574.9h0M281.9 557.2h0M277.9 572.4h0M277.6 573.3h0M276.4 575.4h0M277.3 574.2h0M280.7 561.7h0M275.9 575.7h0M275.6 576.0h0M277.1 573.8h0M278.2 570.8h0M277.3 571.6h0M275.7 575.8h0M276.1 574.9h0M277.1 573.9h0M277.5 573.0h0M276.4 574.2h0M276.0 575.4h0M280.7 560.1h0M280.2 563.4h0M279.5 564.7h0M295.4 553.4h0M279.0 566.7h0M285.2 559.6h0M276.6 572.7h0M278.5 565.5h0M275.8 575.5h0M276.4 574.8h0M276.7 574.1h0M277.0 573.3h0M276.6 574.9h0M277.1 571.3h0M277.3 570.3h0M277.0 570.7h0M276.3 574.3h0M280.1 567.4h0M278.0 573.0h0M280.8 564.8h0M277.6 571.0h0M283.1 561.5h0M278.6 571.8h0M276.4 572.6h0M282.4 569.4h0M277.5 571.1h0M281.1 565.2h0M278.8 566.4h0M283.0 567.1h0M277.8 573.0h0M276.1 575.1h0M277.1 572.6h0M276.1 574.4h0M279.1 570.6h0M275.9 575.7h0M277.0 572.9h0M286.9 549.4h0M283.8 561.5h0M289.0 556.1h0M283.6 561.2h0M278.8 565.8h0M282.2 562.3h0M276.7 572.9h0M275.9 574.6h0M276.3 575.2h0M276.7 574.7h0M277.6 573.0h0M276.5 574.6h0M278.9 568.0h0M280.3 561.9h0M281.9 566.5h0M276.4 573.7h0M276.8 572.1h0M277.9 571.9h0M283.7 563.0h0M278.3 570.1h0M277.7 570.8h0M280.0 561.8h0M277.4 574.0h0M283.7 563.0h0M275.7 576.1h0M279.3 571.2h0M288.4 547.4h0M290.1 553.8h0M279.9 567.5h0M276.8 573.2h0M276.4 574.7h0M277.4 572.0h0M277.7 573.8h0M276.3 573.5h0M275.8 576.0h0M278.1 572.0h0M275.6 576.0h0M276.4 573.0h0M277.0 573.6h0M276.5 573.4h0M289.9 551.2h0M276.0 575.4h0M277.5 573.0h0M277.5 573.9h0M277.1 573.7h0M277.6 572.2h0M279.2 571.0h0M275.4 576.1h0M280.2 572.5h0M276.2 575.4h0M280.5 568.3h0M280.7 561.9h0M277.2 570.3h0M276.1 576.0h0M276.5 572.5h0M278.1 571.2h0M276.5 574.1h0M278.7 565.0h0M277.5 571.4h0M284.0 559.3h0M277.4 574.6h0M276.6 574.8h0M275.7 575.0h0M283.5 558.8h0M276.3 576.1h0M282.7 566.8h0M275.6 576.0h0M279.5 567.1h0M277.2 573.4h0M292.5 542.1h0M276.4 573.4h0M279.0 570.1h0M275.6 575.5h0M279.6 568.9h0M278.7 571.2h0M278.6 568.7h0M278.2 571.5h0M276.8 573.0h0M277.4 573.4h0M277.1 572.3h0M280.2 564.3h0M279.4 562.9h0M278.1 572.6h0M278.6 570.8h0M278.2 567.2h0M279.4 563.0h0M275.9 576.0h0M277.0 572.0h0M275.8 575.6h0M278.5 569.4h0M281.3 562.4h0M277.2 570.8h0M277.1 573.1h0M276.9 572.1h0M278.8 568.8h0M276.9 571.5h0M282.0 567.7h0M283.4 563.9h0M276.4 575.2h0M278.5 573.1h0M279.8 570.3h0M283.3 558.2h0M275.9 575.7h0M276.9 574.5h0M287.7 552.4h0M287.1 547.9h0M279.5 569.8h0M283.0 557.6h0M278.2 569.6h0M277.0 574.0h0M285.0 549.9h0M277.8 571.7h0M276.4 573.6h0M279.1 571.1h0M276.6 573.6h0M285.0 565.3h0M275.9 575.3h0M291.4 549.3h0M276.6 573.2h0M276.9 573.7h0M279.6 565.1h0M287.2 561.3h0M277.4 570.4h0M279.8 566.0h0M275.6 575.8h0M276.7 573.7h0M276.5 573.0h0M279.4 568.6h0M277.2 574.1h0M286.4 561.5h0M277.3 569.9h0M277.9 570.0h0M277.8 569.9h0M278.6 568.4h0M278.1 572.0h0M288.4 557.4h0M276.2 573.7h0M276.3 573.1h0M276.1 575.2h0M277.4 570.0h0M276.0 575.4h0M275.8 574.8h0M281.4 561.0h0M280.9 570.3h0M280.4 567.2h0M280.3 568.2h0M277.2 571.9h0M291.5 549.3h0M278.8 568.5h0M277.6 570.7h0M276.0 576.0h0M286.5 556.9h0M275.9 575.2h0M281.1 565.1h0M276.3 575.6h0M276.2 575.5h0M276.1 575.9h0M282.8 561.6h0M277.7 573.2h0M277.9 571.4h0M285.7 562.0h0M280.7 570.5h0M280.5 566.1h0M278.0 569.7h0M285.0 562.0h0M276.2 574.3h0M276.9 573.1h0M276.8 573.2h0M276.3 575.1h0M276.9 572.3h0M276.8 574.5h0M277.2 573.2h0M284.4 564.4h0M277.3 571.5h0M277.8 571.8h0M277.3 572.7h0M278.0 572.8h0M282.1 561.0h0M277.5 574.0h0M276.6 574.8h0M276.4 575.2h0M278.2 571.6h0M279.5 568.7h0M281.5 570.6h0M276.6 575.0h0M277.0 572.7h0M283.0 556.5h0M275.9 575.2h0M275.5 575.8h0M276.5 574.4h0M275.7 575.7h0M277.1 570.9h0M275.9 575.8h0M278.5 569.9h0M276.2 574.4h0M277.3 572.9h0M277.2 573.0h0M277.2 572.7h0M276.9 573.6h0M275.7 575.9h0M284.2 550.4h0M285.8 561.8h0M277.9 571.4h0M282.6 562.8h0M276.9 573.7h0M276.8 573.8h0M292.0 550.4h0M280.6 562.8h0M281.6 566.4h0M276.2 575.1h0M276.2 573.9h0M279.5 566.7h0M279.4 566.6h0M276.3 574.1h0M275.9 575.4h0M275.9 575.6h0M276.4 574.8h0M275.9 574.5h0M276.2 575.1h0M285.5 560.1h0M282.7 559.4h0M278.3 567.8h0M276.1 575.6h0M277.7 571.6h0M277.3 571.2h0M277.2 572.9h0M277.2 571.9h0M281.9 565.9h0M275.9 575.2h0M288.5 560.8h0M276.7 572.9h0M278.5 570.4h0M278.6 573.2h0M275.8 575.2h0M276.1 575.3h0M278.5 570.1h0M278.4 571.2h0M277.3 573.6h0M286.0 559.4h0M281.1 570.6h0M275.8 574.8h0M279.4 568.0h0M279.4 568.9h0M276.9 573.6h0M276.8 573.5h0M275.3 576.0h0M277.4 570.5h0M276.3 574.0h0M277.8 572.0h0M284.1 562.1h0M277.5 571.2h0M289.0 556.1h0M276.5 573.7h0M278.5 570.4h0M280.0 564.4h0M276.1 575.2h0M275.8 575.9h0M278.0 573.4h0M276.9 574.0h0M276.0 575.3h0M283.4 561.6h0M278.4 566.6h0M278.7 570.6h0M276.5 575.4h0M280.2 566.3h0M281.0 562.9h0M281.2 564.3h0M276.6 574.7h0M292.1 547.0h0M276.9 574.0h0M279.2 567.5h0M275.6 575.3h0M291.6 559.0h0M275.9 575.2h0M276.2 573.4h0M280.7 566.4h0M276.9 574.9h0M283.4 560.6h0M276.8 574.1h0M278.9 569.8h0M277.3 572.5h0M281.2 566.0h0M277.4 572.2h0M276.1 574.9h0M281.2 558.5h0M278.6 571.7h0M277.7 570.0h0M279.4 568.1h0M276.8 572.8h0M277.2 571.1h0M278.4 569.5h0M282.4 564.3h0M279.8 562.4h0M277.1 572.6h0M280.7 564.6h0M284.2 554.0h0M276.2 575.0h0M283.0 565.5h0M275.7 575.9h0M280.9 565.4h0M284.2 560.9h0M285.4 566.6h0M278.3 571.6h0M277.0 571.5h0M278.0 570.0h0M279.0 568.4h0M279.1 569.9h0M276.9 572.0h0M278.4 571.8h0M283.7 564.1h0M275.7 576.0h0M277.8 572.9h0M281.1 566.4h0M284.0 553.4h0M279.0 570.5h0M278.4 570.4h0M283.4 557.8h0M286.5 563.5h0M281.3 566.0h0M278.6 566.8h0M290.4 558.6h0M276.9 574.9h0M276.3 574.7h0M280.7 567.2h0M283.2 560.0h0M277.0 571.5h0M283.2 564.5h0M282.7 557.5h0M275.9 575.6h0M276.5 574.5h0M278.9 565.7h0M276.1 576.0h0M284.7 558.7h0M278.7 569.5h0M277.7 569.6h0M276.8 572.4h0M279.1 566.6h0M276.9 573.4h0M276.2 575.6h0M277.1 573.6h0M278.2 568.8h0M278.8 572.7h0M277.5 572.0h0M280.3 569.4h0M277.1 573.2h0M277.0 573.7h0M276.5 574.2h0M275.5 575.9h0M276.8 574.8h0M277.9 572.3h0M277.1 571.8h0M276.1 575.0h0M276.5 574.2h0M287.5 548.7h0M283.7 559.0h0M285.0 567.2h0M276.5 574.5h0M286.3 556.7h0M278.3 571.7h0M277.0 573.2h0M277.0 572.7h0M276.9 575.1h0M278.0 568.7h0M277.1 572.3h0M277.5 572.4h0M276.3 575.3h0M286.3 554.0h0M278.7 571.8h0M283.1 563.6h0M276.4 573.2h0M277.9 569.5h0M277.9 573.9h0M277.5 569.5h0M276.6 574.4h0M278.7 569.4h0M275.5 576.0h0M278.9 570.1h0M285.9 559.7h0M277.6 572.0h0M275.8 575.2h0M276.4 574.9h0M281.8 564.8h0M276.5 573.9h0M289.9 549.0h0M279.4 568.5h0M277.9 568.2h0M276.6 573.2h0M276.2 574.9h0M275.9 575.8h0M286.1 560.5h0M276.7 575.5h0M277.7 573.3h0M282.6 558.0h0M276.1 574.1h0M281.8 564.1h0M291.4 552.3h0M279.6 570.7h0M285.8 563.7h0M278.8 570.9h0M283.0 555.1h0M283.4 567.4h0M278.7 569.7h0M284.1 560.2h0M281.4 559.3h0M278.0 572.4h0M278.7 564.7h0M276.1 575.6h0M279.0 569.3h0M275.8 575.7h0M277.0 573.4h0M277.1 571.3h0M283.8 562.9h0M278.4 571.1h0M284.6 564.7h0M277.3 573.3h0M277.9 571.8h0M285.1 566.4h0M282.3 561.6h0M279.0 569.2h0M277.3 573.5h0M277.7 572.0h0M278.9 568.0h0M277.5 574.3h0M290.0 556.2h0M276.7 572.3h0M277.1 573.3h0M275.8 575.7h0M276.7 573.6h0M278.0 572.9h0M280.3 560.4h0M278.2 569.6h0M287.7 554.8h0M277.5 570.2h0M277.5 569.6h0M275.8 575.8h0M278.3 570.5h0M279.4 570.9h0M277.7 571.4h0M283.6 561.6h0M277.4 571.6h0M275.9 575.4h0M275.9 575.8h0M277.2 569.9h0M278.6 566.2h0M276.4 574.2h0M281.7 560.0h0M277.6 571.0h0M276.8 571.3h0M277.9 568.5h0M276.3 574.0h0M277.0 572.4h0M284.9 553.4h0M277.6 569.1h0M277.8 568.1h0M278.1 567.1h0M277.7 570.2h0M283.9 559.1h0M278.7 566.5h0M276.9 573.2h0M275.8 574.9h0M276.5 574.9h0M279.9 570.2h0M285.8 560.7h0M279.0 566.1h0M280.7 570.2h0M275.7 575.7h0M277.2 572.1h0M275.8 574.6h0M275.7 575.9h0M276.1 575.2h0M277.4 569.3h0M276.4 575.2h0M277.7 572.6h0M284.0 568.1h0M278.0 572.2h0M276.1 575.6h0M275.9 575.6h0M277.9 572.3h0M276.4 575.0h0M279.6 567.6h0M288.2 564.1h0M289.1 542.2h0M276.4 575.5h0M278.2 569.6h0M276.3 574.3h0M281.5 565.5h0M276.7 574.2h0M278.5 572.7h0M280.2 569.2h0M281.6 564.2h0M276.1 574.7h0M275.9 575.2h0M276.2 573.5h0M275.6 575.9h0M278.0 568.0h0M282.9 566.3h0M279.0 570.4h0M277.1 572.9h0M284.5 563.4h0M277.8 568.7h0M278.2 572.7h0M278.5 572.0h0M278.4 569.5h0M276.6 573.5h0M276.5 575.2h0M280.0 571.3h0M275.8 575.0h0M276.0 575.6h0M277.2 573.4h0M283.7 562.1h0M285.1 557.5h0M277.7 571.0h0M276.6 574.7h0M275.5 576.1h0M281.4 567.6h0M279.9 569.5h0M276.4 575.0h0M288.9 553.6h0M278.4 571.2h0M279.1 570.5h0M276.0 575.6h0M277.3 572.2h0M277.1 573.6h0M277.3 572.0h0M278.7 569.7h0M279.0 569.8h0M276.5 573.9h0M281.2 566.5h0M278.7 568.5h0M276.6 572.9h0M277.7 570.8h0M277.1 573.6h0M282.9 563.9h0M278.5 567.3h0M283.5 565.7h0M276.8 573.1h0M283.2 549.9h0M276.8 573.7h0M279.9 568.2h0M280.5 565.4h0M277.4 573.7h0M281.7 567.6h0M277.9 571.1h0M277.6 572.2h0M280.0 564.7h0M276.6 572.6h0M277.1 572.2h0M276.6 575.3h0M278.5 570.2h0M278.7 572.5h0M278.1 568.4h0M290.1 554.2h0M275.8 575.1h0M277.1 573.6h0M281.7 566.0h0M276.7 572.4h0M287.9 552.7h0M290.8 544.4h0M276.9 572.8h0M283.2 559.3h0M288.5 554.5h0M277.4 572.5h0M277.0 572.9h0M280.6 568.2h0M280.2 566.6h0M277.0 571.5h0M277.4 572.4h0M288.4 544.8h0M279.6 567.8h0M279.8 571.1h0M279.5 568.2h0M277.1 571.3h0M276.1 575.1h0M276.6 575.0h0M276.4 573.0h0M276.5 574.7h0M276.4 574.5h0M281.5 565.0h0M282.5 565.1h0M278.8 569.0h0M278.0 568.5h0M277.3 573.6h0" stroke="#1e1e1e" stroke-width="1.35" stroke-linecap="round" stroke-opacity="0.85" fill="none"/>
<rect x="213.75" y="486.1" width="1.7" height="91.40000000000002" fill="#000"/>
<rect x="213.75" y="575.9000000000001" width="124.14999999999998" height="1.6" fill="#000"/>
<line x1="211.2" y1="576.7" x2="214.6" y2="576.7" stroke="#000" stroke-width="1.1"/>
<text x="208.2" y="579.2" font-size="7.2" text-anchor="end" fill="#222" stroke="#222" style="stroke-width:0.12px">0</text>
<line x1="211.2" y1="559.1" x2="214.6" y2="559.1" stroke="#000" stroke-width="1.1"/>
<text x="208.2" y="561.6" font-size="7.2" text-anchor="end" fill="#222" stroke="#222" style="stroke-width:0.12px">1</text>
<line x1="211.2" y1="541.5" x2="214.6" y2="541.5" stroke="#000" stroke-width="1.1"/>
<text x="208.2" y="544.0" font-size="7.2" text-anchor="end" fill="#222" stroke="#222" style="stroke-width:0.12px">2</text>
<line x1="211.2" y1="523.9000000000001" x2="214.6" y2="523.9000000000001" stroke="#000" stroke-width="1.1"/>
<text x="208.2" y="526.4000000000001" font-size="7.2" text-anchor="end" fill="#222" stroke="#222" style="stroke-width:0.12px">3</text>
<line x1="211.2" y1="506.30000000000007" x2="214.6" y2="506.30000000000007" stroke="#000" stroke-width="1.1"/>
<text x="208.2" y="508.80000000000007" font-size="7.2" text-anchor="end" fill="#222" stroke="#222" style="stroke-width:0.12px">4</text>
<line x1="211.2" y1="488.70000000000005" x2="214.6" y2="488.70000000000005" stroke="#000" stroke-width="1.1"/>
<text x="208.2" y="491.20000000000005" font-size="7.2" text-anchor="end" fill="#222" stroke="#222" style="stroke-width:0.12px">5</text>
<line x1="212.79999999999998" y1="567.9000000000001" x2="214.6" y2="567.9000000000001" stroke="#000" stroke-width="1.0"/>
<line x1="212.79999999999998" y1="550.3000000000001" x2="214.6" y2="550.3000000000001" stroke="#000" stroke-width="1.0"/>
<line x1="212.79999999999998" y1="532.7" x2="214.6" y2="532.7" stroke="#000" stroke-width="1.0"/>
<line x1="212.79999999999998" y1="515.1" x2="214.6" y2="515.1" stroke="#000" stroke-width="1.0"/>
<line x1="212.79999999999998" y1="497.50000000000006" x2="214.6" y2="497.50000000000006" stroke="#000" stroke-width="1.0"/>
<line x1="224.10000000000002" y1="576.7" x2="224.10000000000002" y2="579.1" stroke="#000" stroke-width="1.1"/>
<text x="223.8" y="589.0" font-size="7" text-anchor="middle" fill="#222" stroke="#222" style="stroke-width:0.12px">-3</text>
<line x1="241.10000000000002" y1="576.7" x2="241.10000000000002" y2="579.1" stroke="#000" stroke-width="1.1"/>
<text x="240.8" y="589.0" font-size="7" text-anchor="middle" fill="#222" stroke="#222" style="stroke-width:0.12px">-2</text>
<line x1="258.1" y1="576.7" x2="258.1" y2="579.1" stroke="#000" stroke-width="1.1"/>
<text x="257.8" y="589.0" font-size="7" text-anchor="middle" fill="#222" stroke="#222" style="stroke-width:0.12px">-1</text>
<line x1="275.1" y1="576.7" x2="275.1" y2="579.1" stroke="#000" stroke-width="1.1"/>
<text x="275.1" y="589.0" font-size="7" text-anchor="middle" fill="#222" stroke="#222" style="stroke-width:0.12px">0</text>
<line x1="292.1" y1="576.7" x2="292.1" y2="579.1" stroke="#000" stroke-width="1.1"/>
<text x="292.1" y="589.0" font-size="7" text-anchor="middle" fill="#222" stroke="#222" style="stroke-width:0.12px">1</text>
<line x1="309.1" y1="576.7" x2="309.1" y2="579.1" stroke="#000" stroke-width="1.1"/>
<text x="309.1" y="589.0" font-size="7" text-anchor="middle" fill="#222" stroke="#222" style="stroke-width:0.12px">2</text>
<line x1="326.1" y1="576.7" x2="326.1" y2="579.1" stroke="#000" stroke-width="1.1"/>
<text x="326.1" y="589.0" font-size="7" text-anchor="middle" fill="#222" stroke="#222" style="stroke-width:0.12px">3</text>
<line x1="215.60000000000002" y1="576.7" x2="215.60000000000002" y2="578.3000000000001" stroke="#000" stroke-width="1.0"/>
<line x1="232.60000000000002" y1="576.7" x2="232.60000000000002" y2="578.3000000000001" stroke="#000" stroke-width="1.0"/>
<line x1="249.60000000000002" y1="576.7" x2="249.60000000000002" y2="578.3000000000001" stroke="#000" stroke-width="1.0"/>
<line x1="266.6" y1="576.7" x2="266.6" y2="578.3000000000001" stroke="#000" stroke-width="1.0"/>
<line x1="283.6" y1="576.7" x2="283.6" y2="578.3000000000001" stroke="#000" stroke-width="1.0"/>
<line x1="300.6" y1="576.7" x2="300.6" y2="578.3000000000001" stroke="#000" stroke-width="1.0"/>
<line x1="317.6" y1="576.7" x2="317.6" y2="578.3000000000001" stroke="#000" stroke-width="1.0"/>
<line x1="334.6" y1="576.7" x2="334.6" y2="578.3000000000001" stroke="#000" stroke-width="1.0"/>
<text x="248.3" y="601.8000000000001" font-size="9.2" textLength="53.7" lengthAdjust="spacingAndGlyphs" fill="#222" stroke="#222" style="stroke-width:0.25px">Log2 fold change</text>
<text x="0" y="0" font-size="8.3" textLength="45" lengthAdjust="spacingAndGlyphs" fill="#222" stroke="#222" transform="translate(199.0,554.5) rotate(-90)" style="stroke-width:0.35px">-log10 p.value</text>
<path d="M235.6 470L238.0 475.6L236.25 475.20000000000005L236.25 481.8L234.95 481.8L234.95 475.20000000000005L233.2 475.6Z" fill="#111"/>
<text x="239.7" y="479.5" font-size="8.2" textLength="25.8" lengthAdjust="spacingAndGlyphs" fill="#1a1a1a" stroke="#1a1a1a" style="stroke-width:0.12px">M-CLL</text>
<text x="276.5" y="479.5" font-size="8.2" textLength="32.4" lengthAdjust="spacingAndGlyphs" fill="#1a1a1a" stroke="#1a1a1a" style="stroke-width:0.12px">UM-CLL</text>
<path d="M310.4 470L312.79999999999995 475.6L311.04999999999995 475.20000000000005L311.04999999999995 481.8L309.75 481.8L309.75 475.20000000000005L308.0 475.6Z" fill="#111"/>
<text x="292.9" y="498.7" font-size="8.8" textLength="41.1" lengthAdjust="spacingAndGlyphs" stroke="#111" style="stroke-width:0.1px">Ibr vs. nat.</text>
<line x1="432.2" y1="488" x2="432.2" y2="576.7" stroke="#cfcfcf" stroke-width="0.7"/>
<line x1="456.3" y1="488" x2="456.3" y2="576.7" stroke="#cfcfcf" stroke-width="0.7"/>
<line x1="386.8" y1="554.2" x2="505" y2="554.2" stroke="#cfcfcf" stroke-width="0.7"/>
<path d="M442.9 570.6h0M443.3 571.4h0M439.4 566.4h0M442.7 570.4h0M441.7 570.4h0M417.5 522.4h0M444.6 575.8h0M438.8 565.4h0M439.1 557.0h0M443.2 574.9h0M443.6 575.6h0M434.4 542.8h0M440.8 574.1h0M433.8 557.0h0M443.5 573.8h0M424.1 535.6h0M434.9 558.8h0M442.3 570.2h0M444.7 575.4h0M442.1 570.7h0M420.1 542.5h0M438.5 555.3h0M442.2 565.3h0M433.9 549.7h0M440.8 568.6h0M440.9 570.2h0M440.3 569.4h0M442.3 572.8h0M444.5 574.4h0M443.6 572.1h0M435.8 566.4h0M438.6 563.9h0M440.0 566.1h0M434.6 549.0h0M435.8 559.7h0M429.1 543.5h0M442.0 573.4h0M434.1 544.8h0M440.5 562.5h0M427.0 550.5h0M415.6 534.8h0M442.7 570.3h0M441.9 573.8h0M430.6 547.8h0M426.1 538.3h0M440.1 568.8h0M443.9 573.6h0M430.7 557.2h0M415.1 538.4h0M425.4 530.2h0M443.7 572.9h0M439.8 563.1h0M441.8 573.0h0M442.8 569.3h0M439.7 565.6h0M443.3 575.6h0M423.5 515.7h0M440.2 568.9h0M443.3 573.6h0M440.4 566.9h0M433.1 547.0h0M435.7 563.0h0M441.8 568.0h0M436.6 559.6h0M444.2 574.4h0M443.3 571.3h0M441.0 567.4h0M441.7 568.8h0M443.0 573.5h0M440.8 560.7h0M430.8 553.8h0M437.6 569.6h0M444.2 574.0h0M442.6 574.3h0M440.9 561.9h0M440.1 564.4h0M424.2 511.9h0M422.7 548.8h0M443.0 571.3h0M434.4 564.4h0M431.8 548.5h0M419.8 524.4h0M440.8 566.8h0M442.2 571.5h0M443.5 573.7h0M442.7 572.8h0M440.5 569.3h0M435.7 555.8h0M437.1 555.3h0M443.9 572.0h0M434.5 563.0h0M443.3 575.6h0M442.3 570.7h0M438.6 566.0h0M443.7 574.1h0M443.3 574.0h0M436.9 546.9h0M429.6 557.4h0M424.5 518.0h0M441.6 569.5h0M439.7 559.7h0M439.6 562.5h0M444.4 574.6h0M440.0 567.2h0M437.8 563.4h0M442.5 574.4h0M431.0 530.8h0M442.2 570.3h0M443.5 572.6h0M443.3 572.4h0M439.3 556.1h0M444.4 575.4h0M429.7 536.3h0M443.2 573.2h0M444.0 572.3h0M434.5 557.7h0M439.4 561.3h0M440.3 568.0h0M440.6 567.0h0M442.7 574.1h0M425.1 551.1h0M444.2 572.8h0M440.7 568.4h0M441.4 568.3h0M439.3 560.4h0M442.0 570.5h0M444.5 574.9h0M442.8 571.6h0M442.7 573.3h0M436.7 557.9h0M442.0 571.0h0M441.0 567.4h0M426.9 512.3h0M443.6 575.1h0M426.4 551.0h0M435.2 557.5h0M420.4 540.0h0M440.6 571.5h0M435.9 565.6h0M412.1 541.1h0M440.1 560.2h0M444.7 574.6h0M428.2 553.6h0M440.2 569.2h0M441.0 566.1h0M444.2 574.2h0M437.6 557.2h0M440.0 563.3h0M443.1 572.6h0M442.3 570.7h0M441.1 561.8h0M438.4 560.5h0M439.1 563.4h0M441.4 564.3h0M442.6 567.5h0M441.9 565.9h0M441.4 569.9h0M440.7 570.4h0M443.7 572.9h0M439.5 564.6h0M431.9 531.4h0M429.8 559.0h0M427.8 546.1h0M443.4 574.3h0M424.3 554.5h0M441.7 570.3h0M439.9 558.8h0M442.1 573.5h0M436.4 562.9h0M439.0 561.2h0M435.2 556.2h0M425.5 546.5h0M437.5 561.6h0M442.0 567.5h0M438.0 568.9h0M444.4 575.5h0M444.4 574.5h0M427.0 545.5h0M443.6 575.8h0M436.3 559.4h0M438.1 569.0h0M432.5 541.8h0M444.4 574.2h0M435.8 563.7h0M436.6 563.3h0M428.3 535.2h0M439.4 560.9h0M442.8 576.0h0M444.9 575.8h0M444.6 573.8h0M428.6 544.8h0M439.2 563.8h0M432.5 548.9h0M434.8 563.2h0M431.8 556.4h0M440.4 563.8h0M438.4 569.4h0M420.2 523.1h0M419.9 532.9h0M428.9 539.8h0M426.7 548.3h0M438.8 558.4h0M438.5 553.9h0M434.3 561.4h0M443.6 574.7h0M442.7 574.3h0M438.3 563.0h0M435.7 565.2h0M441.2 567.8h0M442.6 573.4h0M442.7 573.6h0M444.4 575.2h0M435.9 552.2h0M442.0 568.5h0M442.8 572.9h0M417.8 527.8h0M444.2 574.9h0M442.8 571.3h0M429.7 560.7h0M430.3 550.1h0M444.0 574.1h0M425.1 526.3h0M444.9 575.4h0M443.5 572.2h0M421.0 520.7h0M435.3 560.1h0M442.8 571.6h0M438.6 562.2h0M433.9 549.0h0M442.8 568.3h0M436.9 564.0h0M435.0 565.7h0M428.2 537.5h0M440.7 561.8h0M441.1 573.8h0M435.2 563.6h0M444.8 574.9h0M442.5 573.9h0M444.5 574.5h0M440.9 569.9h0M441.3 571.9h0M452.4 562.3h0M451.8 563.5h0M454.9 559.9h0M459.5 536.2h0M447.7 572.5h0M451.2 563.3h0M446.6 575.0h0M454.9 553.6h0M448.9 572.3h0M454.0 554.7h0M453.6 556.4h0M446.8 574.8h0M452.7 568.4h0M454.8 553.6h0M447.3 573.1h0M453.4 561.8h0M448.2 571.2h0M450.0 568.2h0M450.2 569.6h0M462.3 545.7h0M448.0 571.6h0M457.6 548.4h0M449.4 569.6h0M451.2 565.8h0M449.6 569.4h0M451.7 563.0h0M446.5 575.9h0M446.7 575.3h0M461.0 556.4h0M452.5 564.3h0M452.8 568.9h0M474.8 529.4h0M454.9 561.1h0M450.7 568.1h0M449.5 566.2h0M466.3 545.3h0M454.2 557.5h0M449.1 568.9h0M446.5 575.4h0M462.4 537.5h0M448.3 569.6h0M448.8 571.3h0M454.9 555.3h0M452.9 563.2h0M452.8 564.7h0M449.0 571.3h0M456.7 557.3h0M459.1 551.4h0M452.2 568.5h0M449.7 569.2h0M447.6 574.0h0M459.6 545.4h0M447.1 575.0h0M459.7 550.1h0M453.1 559.6h0M447.6 574.1h0M448.6 568.7h0M451.9 568.6h0M451.4 564.4h0M447.5 570.7h0M448.0 575.2h0M453.1 559.3h0M448.2 571.8h0M452.0 564.1h0M451.7 566.9h0M449.0 570.5h0M447.8 572.5h0M449.3 570.2h0M456.1 554.6h0M459.7 540.6h0M449.1 569.1h0M449.6 572.8h0M449.3 572.9h0M449.3 569.4h0M446.8 574.9h0M454.9 556.5h0M456.3 550.4h0M457.0 561.5h0M448.0 571.4h0M455.4 556.3h0M452.4 563.1h0M465.0 526.9h0M448.7 572.4h0M447.3 574.1h0M447.7 573.8h0M448.3 571.6h0M452.7 565.4h0M458.6 555.4h0M467.1 542.3h0M447.1 574.0h0M450.2 566.0h0M447.2 575.8h0M449.8 570.1h0M460.8 537.2h0M454.7 559.9h0M446.6 575.8h0M458.7 552.9h0M459.1 560.8h0M454.9 560.8h0M450.7 569.8h0M459.5 549.1h0M462.1 553.0h0M452.7 563.1h0M446.8 574.5h0M447.8 571.6h0M424.4 524.5h0M420.6 511.8h0M424.5 520.2h0M483.4 551.1h0M478.8 535.0h0M487.4 525.5h0" stroke="#555" stroke-width="1.3" stroke-linecap="round" stroke-opacity="0.75" fill="none"/>
<path d="M438.8 560.5h0M443.7 571.8h0M440.2 560.5h0M444.2 573.9h0M439.9 558.8h0M440.6 564.6h0M440.1 556.7h0M443.5 572.1h0M444.5 574.7h0M442.6 567.9h0M437.3 555.6h0M441.8 566.6h0M443.4 569.7h0M442.4 567.3h0M437.6 553.3h0M442.3 569.2h0M444.7 575.2h0M444.4 573.0h0M437.8 553.3h0M443.5 571.3h0M444.2 575.0h0M444.9 575.7h0M438.9 557.2h0M439.0 566.7h0M441.3 562.0h0M444.5 574.8h0M445.2 575.8h0M443.6 573.8h0M445.0 575.9h0M443.2 572.8h0M442.7 567.9h0M444.4 574.2h0M440.1 559.9h0M441.6 563.9h0M444.7 575.6h0M444.1 573.4h0M441.6 565.4h0M441.7 567.2h0M441.1 565.3h0M444.6 574.5h0M442.8 567.9h0M444.2 572.7h0M437.5 558.7h0M441.5 562.6h0M442.1 564.3h0M443.7 572.7h0M440.7 564.1h0M440.5 566.5h0M443.6 572.5h0M444.6 575.5h0M440.9 563.1h0M440.1 555.7h0M442.2 567.0h0M443.0 568.7h0M443.7 571.2h0M434.2 554.8h0M441.2 563.0h0M441.4 561.5h0M436.7 554.1h0M441.8 566.2h0M444.4 573.4h0M427.4 548.5h0M440.1 565.4h0M435.7 554.2h0M443.9 572.9h0M445.0 575.0h0M439.5 561.6h0M444.5 574.1h0M435.7 554.5h0M440.6 565.1h0M444.9 575.6h0M442.7 568.4h0M444.8 575.3h0M443.6 571.9h0M443.0 570.2h0M444.8 575.6h0M441.4 563.5h0M442.6 570.1h0M441.1 565.3h0M442.1 567.5h0M438.8 556.3h0M442.9 568.9h0M440.5 567.9h0M440.7 564.7h0M443.5 571.0h0M441.3 564.7h0M444.4 574.7h0M443.3 571.6h0M443.5 572.0h0M443.2 570.1h0M439.8 557.2h0M445.2 575.8h0M444.3 574.5h0M444.1 572.7h0M442.7 571.5h0M443.8 571.5h0M437.8 559.5h0M435.6 550.3h0M443.5 571.0h0M445.1 575.5h0M443.3 569.1h0M440.0 565.0h0M444.4 574.4h0M444.9 575.6h0M442.3 566.7h0M443.9 572.3h0M442.3 566.9h0M445.1 575.9h0M444.1 573.5h0M440.0 556.3h0M444.8 574.7h0M441.1 566.0h0M444.7 575.3h0M444.6 575.4h0M442.2 564.8h0M442.7 570.3h0M443.5 570.4h0M444.9 575.6h0M442.9 569.4h0M444.5 573.6h0M444.6 574.2h0M438.3 554.8h0M443.2 568.9h0M445.3 575.8h0M443.0 568.2h0M444.0 574.7h0M444.8 575.4h0M433.5 548.6h0M442.9 566.8h0M442.8 571.5h0M444.1 573.7h0M440.1 558.8h0M438.2 547.5h0M436.8 547.2h0M439.6 558.1h0M443.5 570.5h0M445.1 575.4h0M443.8 570.0h0M438.8 550.6h0M442.7 568.3h0M443.2 567.7h0M444.1 573.9h0M443.4 568.7h0M441.6 563.4h0M434.1 546.4h0M439.5 557.7h0M444.3 574.2h0M440.4 558.7h0M444.4 574.3h0M444.3 573.8h0M441.3 564.5h0M443.4 570.8h0M444.4 572.4h0M444.4 574.6h0M443.1 569.6h0M443.0 571.2h0M442.2 567.5h0M444.3 573.9h0M444.2 572.7h0M444.1 574.6h0M443.3 571.3h0M444.9 575.9h0M444.5 575.6h0M443.0 572.4h0M443.2 568.4h0M440.8 560.9h0M444.2 573.4h0M444.5 575.0h0M437.8 548.2h0M441.7 564.1h0M441.7 564.4h0M444.4 573.1h0M444.5 574.6h0M443.2 570.5h0M433.3 556.0h0M441.1 564.9h0M444.7 574.8h0M441.1 567.3h0M440.0 561.2h0M444.8 575.5h0M442.9 568.9h0M439.9 559.8h0M432.6 553.6h0M443.3 570.7h0M441.3 565.3h0M439.0 557.0h0M444.3 572.9h0M435.9 547.2h0M440.8 559.6h0M443.6 572.7h0M441.7 564.0h0M444.0 574.0h0M434.6 551.5h0M444.3 572.5h0M444.4 573.8h0M438.2 555.2h0M441.0 560.1h0M435.4 554.7h0M435.9 547.9h0M444.6 573.6h0M442.4 565.2h0M443.4 572.6h0M440.1 557.3h0M437.6 558.1h0M442.4 566.1h0M445.0 574.8h0M436.5 548.9h0M440.9 567.1h0M444.0 571.7h0M442.5 566.8h0M444.6 575.9h0M444.8 575.2h0M436.0 538.9h0M443.5 572.3h0M444.3 572.6h0M444.3 573.9h0M443.5 572.1h0M441.9 564.4h0M444.2 572.9h0M443.9 573.5h0M440.2 556.3h0M444.8 575.6h0M439.7 555.8h0M443.4 572.0h0M438.6 556.2h0M443.5 573.1h0M443.6 571.1h0M444.4 573.8h0M444.6 574.8h0M433.2 550.7h0M441.3 566.9h0M435.8 553.6h0M441.6 564.5h0M442.5 567.8h0M443.0 569.3h0M441.2 563.9h0M441.5 563.8h0M440.2 563.8h0M443.1 569.8h0M438.6 561.5h0M435.3 536.9h0M442.1 568.7h0M444.5 575.1h0M442.6 569.7h0M443.9 571.3h0M439.3 561.4h0M442.8 568.3h0M443.8 571.6h0M439.6 557.0h0M441.4 563.1h0M437.2 549.8h0M440.5 563.1h0M440.1 557.2h0M442.2 564.7h0M444.1 572.4h0M438.0 561.5h0M444.6 575.1h0M444.4 575.0h0M444.3 573.1h0M443.7 570.9h0M443.7 571.2h0M439.3 565.4h0M441.1 565.0h0M442.1 566.9h0M441.1 560.7h0M440.5 559.2h0M439.3 556.0h0M444.8 575.2h0M442.5 570.4h0M443.7 572.6h0M442.7 567.3h0M442.7 568.8h0M444.3 573.1h0M444.5 574.1h0M444.9 575.4h0M439.4 560.3h0M440.9 567.5h0M443.5 572.0h0M444.3 574.0h0M438.0 550.5h0M440.0 561.0h0M443.7 570.6h0M442.4 569.1h0M444.8 575.6h0M437.3 551.7h0M441.1 564.4h0M440.3 560.0h0M438.5 552.2h0M441.8 568.8h0M438.6 549.1h0M443.6 571.9h0M438.7 557.1h0M439.6 556.6h0M443.4 573.2h0M440.6 563.7h0M443.2 570.7h0M443.0 571.5h0M439.8 565.7h0M437.4 551.1h0M436.1 552.6h0M441.7 567.5h0M441.5 561.8h0M444.7 575.2h0M440.9 560.0h0M442.0 569.3h0M443.9 573.4h0M444.6 574.4h0M442.8 568.4h0M442.5 565.9h0M444.8 575.6h0M444.5 573.9h0M445.0 575.3h0M440.7 560.5h0M444.1 572.3h0M445.0 575.0h0M440.5 562.1h0M438.2 557.5h0M440.8 561.6h0M440.7 565.9h0M439.1 554.1h0M437.6 544.7h0M433.8 540.9h0M442.8 570.7h0M430.3 538.2h0M444.6 575.7h0M443.3 570.7h0M440.9 559.1h0M443.5 571.4h0M440.6 557.9h0M442.8 567.6h0M444.4 573.5h0M443.8 573.2h0M444.0 573.8h0M439.9 560.4h0M433.9 541.2h0M438.3 549.6h0M441.8 567.7h0M444.7 575.2h0M444.9 575.5h0M438.4 555.0h0M438.8 560.8h0M440.8 564.9h0M443.0 570.9h0M445.0 575.2h0M444.5 574.8h0M442.8 570.3h0M442.7 569.9h0M441.5 562.3h0M442.5 565.0h0M443.8 571.8h0M441.2 563.3h0M441.4 565.4h0M443.3 571.6h0M441.1 559.5h0M439.8 565.2h0M439.8 565.0h0M437.1 555.0h0M443.2 569.9h0M441.3 564.2h0M445.0 575.8h0M444.7 575.9h0M444.7 575.3h0M438.6 551.9h0M440.9 559.1h0M444.6 574.6h0M443.8 569.9h0M443.9 572.7h0M437.4 559.2h0M445.1 575.7h0M443.2 569.4h0M444.7 574.8h0M444.0 573.4h0M443.8 573.3h0M438.3 555.3h0M442.0 565.4h0M443.8 571.5h0M444.2 572.6h0M433.1 538.9h0M441.4 565.2h0M444.8 575.4h0M440.8 559.5h0M443.4 569.2h0M444.6 574.3h0M441.8 563.7h0M444.5 574.6h0M436.3 549.1h0M438.8 556.4h0M444.3 575.3h0M443.3 571.4h0M444.6 574.4h0M442.6 571.1h0M443.4 570.6h0M442.5 566.8h0M444.4 575.5h0M439.4 552.8h0M440.5 564.3h0M443.5 570.5h0M444.0 572.6h0M443.0 569.8h0M440.9 566.4h0M438.0 550.3h0M443.0 571.8h0M439.4 560.7h0M437.2 561.8h0M444.7 574.1h0M438.4 552.6h0M443.8 570.2h0M434.5 547.1h0M443.2 570.6h0M441.8 563.4h0M442.0 565.7h0M441.7 565.5h0M444.7 574.2h0M444.6 575.1h0M440.7 560.5h0M436.2 558.3h0M444.6 574.4h0M441.8 565.4h0M443.2 570.6h0M444.5 572.9h0M444.0 574.4h0M441.4 561.8h0M442.7 571.0h0M444.7 574.0h0M444.4 574.2h0M441.8 564.4h0M444.9 575.1h0M440.7 559.9h0M442.9 569.2h0M438.4 550.9h0M445.2 576.1h0M441.3 566.3h0M443.6 570.3h0M440.7 564.8h0M441.9 570.0h0M444.3 573.0h0M438.3 554.6h0M441.6 567.2h0M440.5 563.6h0M441.2 565.6h0M444.8 575.2h0M436.0 543.1h0M442.6 568.6h0M444.1 572.1h0M431.7 539.7h0M441.1 560.5h0M443.2 570.0h0M443.1 570.5h0M444.2 572.5h0M443.3 570.8h0M443.9 572.0h0M438.1 555.3h0M442.0 569.5h0M443.6 571.9h0M435.3 548.9h0M441.9 567.4h0M436.3 547.9h0M444.1 573.4h0M443.3 572.2h0M445.1 576.0h0M444.7 574.0h0M438.0 559.7h0M442.7 566.5h0M437.2 550.3h0M442.7 567.6h0M441.8 563.5h0M442.3 568.5h0M440.8 564.4h0M437.2 553.3h0M442.8 569.5h0M442.4 570.7h0M433.1 541.6h0M443.9 572.3h0M437.5 557.7h0M438.1 554.1h0M442.5 567.3h0M440.6 563.2h0M443.8 570.5h0M442.4 566.0h0M441.6 564.7h0M438.1 561.4h0M444.9 575.9h0M430.6 543.9h0M440.4 558.3h0M443.1 569.3h0M441.6 562.3h0M443.9 572.6h0M444.6 574.0h0M444.8 575.8h0M436.2 548.7h0M441.4 562.6h0M438.1 547.3h0M442.0 565.8h0M442.7 570.1h0M444.4 574.6h0M443.1 571.8h0M445.0 575.9h0M443.8 571.2h0M441.1 561.4h0M444.3 574.2h0M443.4 571.3h0M443.4 569.5h0M443.0 570.1h0M435.3 545.1h0M441.7 563.9h0M437.1 560.5h0M445.1 576.1h0M441.1 559.6h0M444.2 574.0h0M435.4 553.3h0M444.2 572.5h0M444.8 575.4h0M442.7 568.6h0M442.7 568.6h0M443.9 572.8h0M439.8 562.0h0M443.5 573.3h0M438.3 547.6h0M444.3 573.9h0M443.9 571.3h0M444.9 575.2h0M443.9 571.9h0M445.2 576.0h0M436.6 555.4h0M443.9 573.6h0M442.4 569.5h0M444.7 574.0h0M439.2 554.7h0M440.4 566.0h0M442.8 569.4h0M443.8 571.5h0M444.5 574.7h0M443.5 571.8h0M435.1 541.1h0M441.2 563.0h0M436.1 541.3h0M444.0 574.4h0M439.2 558.3h0M439.8 560.2h0M439.2 563.3h0M441.8 568.8h0M442.0 566.5h0M441.7 565.2h0M438.5 555.0h0M443.3 572.7h0M443.3 572.5h0M444.2 573.5h0M441.4 564.9h0M444.6 575.2h0M442.5 568.7h0M441.7 565.8h0M437.1 550.0h0M444.7 575.0h0M443.9 574.4h0M440.8 562.1h0M441.7 565.5h0M433.5 547.5h0M442.7 569.8h0M445.1 575.8h0M444.7 574.4h0M444.3 574.3h0M444.5 573.9h0M434.5 541.2h0M442.1 564.8h0M440.6 563.7h0M440.4 560.1h0M445.2 575.9h0M443.5 571.5h0M442.1 565.5h0M444.0 572.4h0M443.9 571.3h0M432.4 541.4h0M440.2 559.4h0M438.9 552.5h0M444.0 572.8h0M444.2 573.7h0M431.1 546.9h0M443.9 573.0h0M442.8 570.1h0M441.9 566.9h0M441.4 564.8h0M444.2 573.0h0M443.6 571.1h0M443.6 571.1h0M444.2 574.3h0M445.1 575.6h0M433.8 553.3h0M441.7 566.9h0M444.0 572.9h0M443.1 570.2h0M444.2 575.5h0M443.3 569.7h0M439.8 560.9h0M441.8 563.2h0M441.5 566.9h0M441.7 563.1h0M432.9 537.8h0M444.8 576.0h0M444.9 576.0h0M440.3 562.0h0M444.1 574.2h0M438.2 558.5h0M435.3 552.3h0M443.9 571.6h0M443.6 570.5h0M443.3 571.2h0M441.2 566.8h0M443.2 569.2h0M442.7 569.0h0M444.1 572.8h0M442.3 568.3h0M443.9 574.0h0M439.9 565.5h0M438.9 551.0h0M440.7 561.4h0M444.6 575.2h0M440.9 565.6h0M438.0 552.7h0M443.3 568.7h0M442.3 566.2h0M441.1 560.3h0M444.1 572.8h0M437.9 547.2h0M440.3 565.2h0M444.6 575.4h0M444.5 575.8h0M443.7 571.2h0M444.7 575.5h0M441.7 565.6h0M441.7 565.9h0M444.2 572.2h0M433.1 552.1h0M440.5 563.3h0M444.4 574.6h0M438.7 556.1h0M441.3 566.7h0M444.1 572.6h0M443.4 570.6h0M445.0 575.3h0M443.0 570.2h0M440.5 564.1h0M444.9 575.3h0M443.4 571.5h0M442.1 564.6h0M443.6 573.0h0M444.5 574.2h0M436.5 556.8h0M443.1 571.7h0M434.4 547.5h0M444.5 574.5h0M436.5 548.9h0M439.2 560.8h0M444.0 573.7h0M441.0 564.3h0M438.5 558.7h0M439.1 555.0h0M443.7 570.8h0M444.3 572.6h0M444.9 574.7h0M441.6 564.0h0M443.4 570.9h0M437.7 547.1h0M439.0 564.9h0M442.5 567.4h0M444.6 574.5h0M443.6 572.0h0M435.8 546.7h0M443.6 573.4h0M441.9 566.9h0M443.1 569.8h0M444.9 574.5h0M442.9 568.9h0M444.9 575.1h0M442.1 565.0h0M444.6 574.0h0M442.3 564.9h0M441.4 561.2h0M444.9 575.1h0M440.9 561.0h0M444.5 574.0h0M444.7 576.1h0M443.3 570.6h0M444.4 574.5h0M440.9 564.9h0M444.2 572.7h0M444.5 573.6h0M441.0 565.0h0M445.2 575.9h0M443.1 571.8h0M435.5 553.5h0M443.5 569.9h0M442.0 567.6h0M443.7 572.4h0M440.5 559.1h0M444.3 574.0h0M443.5 571.0h0M444.7 574.5h0M444.7 574.1h0M440.5 561.1h0M432.9 550.0h0M444.9 575.5h0M438.0 554.9h0M443.5 571.0h0M443.4 570.2h0M440.8 562.6h0M443.5 571.8h0M431.4 544.1h0M442.8 568.7h0M442.0 565.3h0M437.0 554.6h0M442.8 571.1h0M443.4 571.8h0M434.9 537.5h0M441.6 567.5h0M440.3 560.3h0M441.5 563.9h0M442.8 566.9h0M444.2 574.8h0M441.4 566.1h0M429.3 542.5h0M444.5 574.0h0M441.2 567.2h0M444.3 572.3h0M442.8 570.2h0M445.1 576.0h0M438.0 559.9h0M442.3 565.4h0M444.2 572.9h0M441.4 564.2h0M437.0 547.2h0M441.5 565.0h0M440.4 565.3h0M444.1 572.2h0M439.3 560.3h0M438.7 551.9h0M434.9 545.6h0M444.6 574.5h0M442.3 568.2h0M444.6 574.6h0M441.6 562.5h0M440.5 562.8h0M443.9 574.2h0M445.2 576.0h0M444.0 572.2h0M442.8 570.7h0M444.7 574.6h0M443.6 570.8h0M442.2 569.7h0M440.3 564.3h0M439.2 561.7h0M444.4 574.5h0M438.3 559.8h0M435.9 546.2h0M434.7 543.2h0M442.4 566.9h0M440.1 562.5h0M443.2 570.6h0M434.2 549.8h0M443.4 571.1h0M444.0 572.0h0M444.8 575.5h0M444.1 572.9h0M440.5 564.1h0M438.7 560.5h0M443.6 570.4h0M442.1 566.4h0M441.2 565.7h0M444.0 572.0h0M445.0 575.6h0M443.2 568.9h0M441.3 565.1h0M442.0 570.0h0M441.2 569.3h0M438.8 554.5h0M445.2 576.0h0M444.3 573.2h0M444.8 575.8h0M442.9 567.1h0M443.4 569.6h0M442.7 569.4h0M439.3 557.0h0M437.8 556.6h0M441.9 566.1h0M441.6 562.3h0M443.7 572.5h0M444.2 574.2h0M437.9 552.7h0M442.4 565.6h0M444.6 574.5h0M438.6 561.7h0M442.4 568.3h0M442.8 568.0h0M443.8 573.3h0M443.9 573.3h0M439.9 558.5h0M440.5 561.4h0M441.4 566.4h0M440.4 561.0h0M434.5 551.5h0M444.6 575.7h0M438.2 549.6h0M427.8 545.7h0M444.2 572.1h0M437.3 549.8h0M436.7 551.0h0M443.1 570.4h0M444.8 575.5h0M440.7 559.5h0M435.8 551.1h0M443.1 568.1h0M444.6 574.2h0M441.2 566.4h0M444.6 575.2h0M445.0 575.8h0M442.6 568.6h0M438.7 561.1h0M435.5 551.0h0M444.0 572.0h0M444.4 574.5h0M443.2 570.1h0M436.3 552.1h0M436.6 551.1h0M441.4 561.5h0M438.1 554.2h0M439.8 559.8h0M442.9 569.1h0M436.9 548.9h0M443.2 573.0h0M441.4 562.1h0M431.4 539.5h0M443.6 571.0h0M443.9 573.7h0M437.8 553.0h0M442.0 563.5h0M444.5 573.0h0M442.0 569.0h0M444.8 575.8h0M445.0 575.2h0M444.0 575.6h0M444.1 572.1h0M440.3 556.0h0M441.6 566.0h0M445.0 576.0h0M441.7 569.8h0M445.1 575.8h0M436.6 541.1h0M443.5 572.6h0M442.2 565.9h0M445.0 576.0h0M439.3 555.3h0M445.2 575.5h0M444.7 575.4h0M437.8 554.7h0M444.2 572.6h0M435.8 544.6h0M444.6 574.7h0M442.6 568.3h0M444.7 575.4h0M443.3 571.1h0M444.0 572.3h0M440.2 559.6h0M440.7 563.9h0M433.3 545.0h0M443.0 570.3h0M442.7 568.8h0M439.1 556.9h0M445.0 575.5h0M444.9 575.5h0M439.7 555.7h0M434.9 539.2h0M441.5 562.5h0M444.7 575.9h0M438.8 553.6h0M439.1 554.4h0M442.0 565.4h0M444.0 573.0h0M443.5 573.5h0M441.2 561.7h0M436.8 561.0h0M435.6 549.1h0M442.0 566.2h0M443.7 571.7h0M438.4 556.8h0M442.4 565.0h0M443.6 573.7h0M444.6 575.0h0M437.3 558.6h0M441.4 566.0h0M439.9 554.3h0M444.6 575.5h0M442.1 564.1h0M444.6 574.2h0M444.1 573.3h0M439.9 560.4h0M443.1 571.7h0M443.7 571.6h0M441.6 564.2h0M435.5 552.2h0M443.6 573.3h0M442.9 569.2h0M440.6 563.1h0M436.4 559.9h0M444.8 575.6h0M436.8 544.3h0M444.2 574.1h0M435.3 543.9h0M444.2 572.1h0M444.7 575.1h0M444.5 572.7h0M442.0 566.0h0M440.7 561.8h0M443.5 571.4h0M442.1 565.6h0M444.8 574.3h0M438.7 556.1h0M441.0 564.5h0M441.6 564.6h0M445.1 575.8h0M437.1 547.2h0M440.2 563.5h0M445.0 575.1h0M443.8 572.5h0M443.4 569.5h0M444.5 573.0h0M442.6 570.9h0M437.5 546.9h0M443.8 571.8h0M445.1 575.7h0M443.7 571.9h0M443.0 572.3h0M444.7 575.6h0M442.4 569.1h0M436.2 546.9h0M440.9 560.4h0M444.7 575.9h0M442.6 568.3h0M441.2 563.6h0M444.0 573.1h0M441.4 565.6h0M444.5 574.4h0M443.2 570.7h0M444.5 575.0h0M436.4 560.8h0M442.1 564.5h0M443.8 572.1h0M439.1 551.5h0M444.9 575.2h0M440.1 557.5h0M444.5 573.4h0M442.5 565.9h0M442.1 568.0h0M439.9 555.2h0M440.0 564.4h0M442.1 566.6h0M444.5 576.0h0M443.4 572.9h0M443.1 567.9h0M441.8 569.6h0M443.1 568.7h0M444.6 575.6h0M444.1 573.3h0M440.8 564.6h0M443.1 571.1h0M444.2 573.5h0M436.1 547.9h0M441.3 564.6h0M444.1 574.4h0M441.3 563.0h0M439.3 561.5h0M444.9 576.0h0M442.9 570.0h0M444.0 571.2h0M444.0 573.6h0M437.8 558.1h0M442.7 565.8h0M434.6 556.6h0M444.3 574.3h0M438.0 562.5h0M441.4 564.6h0M439.6 554.8h0M442.1 563.5h0M442.7 567.9h0M443.6 569.5h0M438.8 560.9h0M445.0 575.8h0M442.4 569.5h0M440.0 558.2h0M437.6 558.9h0M435.4 541.2h0M434.8 541.6h0M443.5 572.8h0M442.3 567.8h0M445.0 575.6h0M441.3 568.9h0M444.6 573.7h0M443.6 571.2h0M440.3 562.1h0M431.9 546.6h0M442.4 568.8h0M444.9 575.5h0M440.3 563.3h0M443.2 572.6h0M434.3 553.8h0M442.5 569.1h0M442.8 570.8h0M442.9 571.8h0M439.6 559.7h0M442.9 569.9h0M440.3 565.0h0M443.1 570.4h0M445.2 575.6h0M444.6 574.6h0M442.6 566.2h0M444.7 574.6h0M444.4 573.4h0M444.9 575.7h0M443.9 573.2h0M443.5 572.5h0M439.2 555.7h0M444.6 573.9h0M437.4 557.4h0M439.1 559.7h0M443.6 571.7h0M444.6 575.2h0M443.2 569.3h0M442.0 564.4h0M430.6 537.5h0M444.6 574.5h0M440.4 557.2h0M444.9 574.5h0M444.5 575.4h0M444.8 574.1h0M443.0 569.4h0M444.8 574.2h0M440.7 566.2h0M444.9 575.2h0M439.7 567.8h0M441.4 566.2h0M440.9 565.4h0M444.6 574.5h0M445.0 575.6h0M440.6 565.3h0M444.8 574.5h0M444.1 573.1h0M439.4 553.7h0M445.0 575.6h0M443.0 568.6h0M439.2 566.3h0M440.6 562.7h0M444.4 573.9h0M436.2 551.1h0M441.8 563.7h0M441.1 568.0h0M443.3 570.3h0M440.3 560.5h0M444.8 575.2h0M441.7 567.6h0M444.5 574.4h0M444.2 573.5h0M442.8 568.1h0M445.1 575.8h0M444.0 571.8h0M439.9 558.5h0M440.6 558.2h0M435.5 544.6h0M443.5 573.4h0M443.9 572.3h0M443.3 572.6h0M441.6 569.7h0M437.8 560.5h0M441.5 566.2h0M443.1 571.0h0M439.7 566.6h0M435.9 548.0h0M438.2 553.4h0M444.7 573.8h0M438.9 556.7h0M440.4 560.2h0M444.2 572.8h0M437.7 550.6h0M439.9 558.4h0M436.0 551.1h0M440.2 557.0h0M434.4 553.5h0M440.3 560.7h0M439.6 560.2h0M443.4 571.3h0M439.8 554.5h0M444.4 573.6h0M438.2 554.7h0M433.5 547.9h0M443.7 570.5h0M436.4 549.8h0M442.6 569.6h0M430.1 541.3h0M439.1 558.1h0M436.3 545.4h0M443.3 571.1h0M442.7 566.2h0M444.7 574.1h0M441.0 564.6h0M445.0 575.3h0M441.2 559.7h0M442.2 564.9h0M443.3 573.5h0M441.1 564.2h0M444.1 572.8h0M441.2 561.0h0M441.6 566.1h0M442.0 565.1h0M443.3 570.3h0M444.1 573.5h0M442.2 568.2h0M440.7 560.3h0M445.1 575.9h0M440.3 565.2h0M439.8 563.1h0M435.1 553.9h0M437.0 551.8h0M441.5 566.4h0M437.1 547.9h0M436.1 554.4h0M438.8 561.5h0M443.6 572.3h0M440.0 559.1h0M443.2 568.0h0M441.7 565.9h0M441.5 567.5h0M439.6 561.4h0M444.4 574.1h0M443.8 573.2h0M443.9 574.2h0M439.8 554.9h0M442.1 566.2h0M442.7 567.5h0M438.1 556.7h0M442.7 571.6h0M444.7 574.8h0M439.9 559.9h0M435.1 544.9h0M444.1 573.1h0M440.6 556.7h0M444.1 572.0h0M444.5 574.7h0M442.4 570.8h0M437.9 555.1h0M444.5 575.6h0M442.8 568.5h0M443.3 568.9h0M442.1 565.8h0M439.2 556.4h0M443.7 572.7h0M445.0 575.9h0M440.6 558.6h0M443.9 573.8h0M440.5 558.5h0M444.7 574.1h0M433.3 550.4h0M443.9 573.6h0M442.6 568.3h0M442.1 567.1h0M442.0 565.1h0M443.5 570.9h0M443.2 569.5h0M443.2 569.9h0M441.9 565.8h0M443.3 571.4h0M434.6 541.6h0M442.3 567.4h0M441.1 563.9h0M444.8 575.0h0M444.9 575.4h0M441.1 564.9h0M443.1 571.6h0M443.9 573.3h0M444.3 572.9h0M443.8 570.9h0M443.1 571.7h0M443.4 570.0h0M443.4 570.1h0M444.6 574.9h0M444.1 574.5h0M435.9 552.5h0M441.3 565.9h0M438.5 561.2h0M434.0 539.4h0M437.7 558.0h0M443.6 573.9h0M442.0 567.0h0M443.4 570.3h0M442.3 567.2h0M433.4 544.8h0M440.8 567.6h0M444.2 573.7h0M443.2 571.2h0M439.0 553.8h0M436.4 552.5h0M444.5 575.4h0M442.6 569.2h0M443.3 571.4h0M437.8 560.1h0M443.0 571.6h0M443.6 570.5h0M440.1 555.8h0M442.9 567.7h0M443.7 573.3h0M439.4 563.6h0M443.5 570.5h0M438.3 562.9h0M437.7 554.7h0M443.5 573.5h0M443.5 572.4h0M442.7 566.8h0M444.6 574.5h0M437.1 552.6h0M442.9 569.6h0M440.7 565.5h0M444.1 572.1h0M440.9 564.6h0M436.2 550.5h0M436.8 554.6h0M446.3 574.3h0M446.2 575.3h0M452.1 558.8h0M448.6 568.5h0M446.7 573.2h0M446.7 574.1h0M447.8 569.7h0M447.0 573.3h0M451.2 565.9h0M448.5 569.3h0M445.8 576.1h0M450.7 564.2h0M449.3 566.3h0M446.7 575.5h0M451.3 562.8h0M448.9 566.7h0M447.5 570.6h0M446.3 574.7h0M445.8 575.8h0M448.5 569.2h0M448.5 568.0h0M449.4 566.3h0M447.2 573.9h0M447.5 571.0h0M446.1 575.6h0M447.3 572.6h0M447.7 571.9h0M449.1 567.2h0M446.3 574.1h0M446.3 575.1h0M448.8 567.3h0M446.5 574.5h0M448.5 569.4h0M446.3 575.1h0M446.1 575.4h0M446.2 575.3h0M446.1 575.3h0M446.6 575.4h0M446.8 573.4h0M447.4 570.8h0M450.2 561.6h0M451.2 561.3h0M448.9 567.9h0M445.8 576.1h0M447.8 572.5h0M446.1 576.1h0M447.6 572.3h0M452.9 558.7h0M448.4 567.6h0M446.5 574.6h0M450.5 561.9h0M457.5 540.4h0M459.7 538.0h0M447.7 572.7h0M448.9 567.1h0M448.4 570.6h0M447.7 571.6h0M449.7 566.5h0M445.8 575.9h0M448.1 569.0h0M446.4 575.9h0M450.8 563.5h0M453.8 556.7h0M451.3 559.5h0M448.4 569.9h0M449.8 566.9h0M446.7 574.2h0M457.6 546.1h0M445.9 575.7h0M448.9 567.2h0M445.9 576.0h0M447.9 571.3h0M456.0 547.7h0M450.3 566.9h0M452.0 559.5h0M448.2 570.7h0M446.1 575.5h0M445.9 576.1h0M453.3 557.3h0M454.0 554.0h0M447.2 572.0h0M446.1 575.5h0M447.8 570.8h0M448.1 570.3h0M446.2 575.9h0M448.1 568.9h0M449.4 567.8h0M450.1 565.9h0M460.8 543.4h0M447.0 574.4h0M446.4 575.1h0M448.4 570.3h0M446.1 575.2h0M446.8 573.1h0M446.9 572.8h0M450.2 565.2h0M449.7 565.1h0M451.3 559.2h0M447.3 572.0h0M447.8 571.4h0M454.9 553.5h0M447.0 573.4h0M446.3 575.3h0M445.9 576.1h0M447.7 571.5h0M451.1 560.3h0M449.0 567.5h0M448.5 568.7h0M453.7 553.0h0M446.1 575.5h0M446.6 574.8h0M447.7 572.1h0M447.7 571.3h0M448.6 569.0h0M448.9 567.7h0M445.9 575.8h0M453.6 561.9h0M451.0 562.1h0M448.2 571.7h0M448.5 570.9h0M456.8 549.8h0M454.2 552.3h0M448.0 570.3h0M446.4 574.5h0M450.0 566.0h0M448.2 568.8h0M452.8 555.9h0M452.6 557.6h0M456.8 549.0h0M458.9 536.9h0M447.2 574.2h0M446.9 573.5h0M449.2 565.9h0M446.6 574.8h0M456.2 543.6h0M457.4 542.5h0M447.7 571.6h0M447.8 571.0h0M447.3 572.7h0M448.6 567.4h0M446.9 575.1h0M448.0 571.8h0M446.9 573.6h0M452.6 561.1h0M446.8 573.0h0M447.3 573.0h0M455.2 552.5h0M451.9 557.6h0M451.7 559.8h0M446.7 573.5h0M447.9 572.0h0M447.9 571.5h0M456.7 551.5h0M447.3 572.6h0M458.1 540.3h0M453.3 554.8h0M453.9 556.6h0M446.5 574.1h0M450.5 565.1h0M446.8 574.1h0M448.3 569.7h0M448.9 569.2h0M451.6 560.8h0M449.4 567.6h0M446.2 575.4h0M449.5 567.6h0M456.0 545.5h0M458.3 542.5h0M448.1 571.2h0M446.1 575.3h0M446.8 573.8h0M447.2 573.9h0M448.0 570.0h0M454.1 550.2h0M450.8 563.7h0M450.1 563.8h0M452.3 562.4h0M446.3 574.6h0M445.9 576.0h0M446.9 573.8h0M455.5 545.7h0M447.1 572.2h0M447.4 573.4h0M446.3 575.4h0M448.5 569.0h0M450.5 563.4h0M447.0 573.9h0M446.0 575.4h0M446.5 574.3h0M451.6 560.7h0M454.8 553.6h0M452.5 557.5h0M447.7 570.3h0M446.2 575.0h0M448.0 572.4h0M446.8 573.0h0M447.4 572.6h0M448.7 569.6h0M448.4 568.7h0M447.5 573.6h0M448.4 570.3h0M446.6 574.0h0M446.5 574.7h0M449.4 567.9h0M449.8 564.8h0M450.8 564.0h0M446.0 575.5h0M447.4 571.5h0M450.5 562.3h0M448.6 569.9h0M453.2 555.1h0M451.3 560.3h0M450.2 561.8h0M452.4 561.9h0M449.4 566.3h0M449.1 568.9h0M447.0 574.3h0M446.0 575.4h0M448.6 568.1h0M446.6 573.8h0M448.7 567.9h0M449.5 566.4h0M447.1 573.0h0M449.7 564.7h0M447.2 572.1h0M446.3 575.1h0M445.8 576.1h0M448.0 570.1h0M449.0 566.8h0M451.3 561.1h0M448.9 569.5h0M449.5 565.5h0M453.0 553.7h0M447.7 571.8h0M452.6 555.0h0M450.0 566.1h0M452.2 556.9h0M448.7 569.8h0M446.9 575.3h0M454.4 555.4h0M451.6 557.7h0M450.9 561.0h0M453.4 551.5h0M450.2 564.0h0M450.1 567.0h0M448.5 568.6h0M451.0 564.1h0M446.1 575.4h0M446.5 575.4h0M452.3 556.4h0M453.7 552.2h0M446.1 575.3h0M447.8 570.8h0M448.0 569.5h0M446.4 575.3h0M450.0 564.0h0M453.5 552.5h0M450.9 565.1h0M448.8 567.2h0M447.1 573.0h0M449.9 564.6h0M446.5 574.0h0M446.2 575.0h0M445.9 575.8h0M446.2 575.6h0M456.5 543.5h0M458.1 549.2h0M446.7 573.4h0M452.8 554.2h0M451.9 559.9h0M453.0 554.2h0M447.2 572.5h0M448.6 568.9h0M452.2 558.2h0M447.4 571.4h0M446.3 575.0h0M450.6 563.2h0M447.9 570.4h0M450.9 560.9h0M446.1 575.7h0M446.7 573.9h0M450.2 562.6h0M446.4 574.9h0M450.1 565.8h0M446.4 574.4h0M447.5 571.7h0M446.9 572.9h0M446.1 575.7h0M446.2 574.6h0M445.8 576.0h0M449.5 568.4h0M446.2 575.6h0M455.2 552.7h0M445.8 576.1h0M446.5 574.7h0M449.2 568.3h0M447.5 571.6h0M452.5 558.2h0M445.9 575.8h0M450.6 567.8h0M451.0 562.9h0M447.8 572.4h0M453.0 560.2h0M445.9 575.5h0M446.7 574.8h0M448.1 572.0h0M450.0 565.6h0M448.6 570.5h0M447.0 574.2h0M450.2 564.9h0M448.7 567.6h0M450.7 563.7h0M451.9 556.8h0M450.5 564.1h0M448.7 567.4h0M455.4 549.1h0M450.2 564.7h0M446.5 574.2h0M447.7 571.5h0M446.8 573.8h0M452.1 560.6h0M450.3 566.9h0M446.1 576.0h0M447.8 572.1h0M450.0 566.8h0M452.3 559.2h0M448.8 568.5h0M446.5 574.4h0M453.2 554.0h0M450.0 564.5h0M447.1 572.4h0M452.5 556.5h0M451.4 559.3h0M445.8 575.9h0M447.8 572.5h0M448.0 571.3h0M446.8 574.4h0M456.5 553.2h0M446.3 575.6h0M450.8 559.9h0M446.0 575.7h0M453.5 554.1h0M447.4 571.3h0M453.4 560.0h0M460.4 545.2h0M447.3 572.0h0M445.8 576.0h0M458.4 537.5h0M446.7 574.0h0M449.2 567.8h0M448.0 571.8h0M448.2 570.4h0M446.0 575.7h0M453.3 559.9h0M455.1 551.3h0M450.8 563.0h0M453.1 557.7h0M452.3 556.2h0M446.8 573.0h0M446.6 574.6h0M451.9 557.1h0M448.3 569.9h0M448.5 569.2h0M446.7 573.6h0M449.3 566.0h0M450.7 564.3h0M447.7 572.2h0M451.1 562.3h0M455.3 555.1h0M448.2 569.4h0M447.1 572.8h0M446.2 575.4h0M448.8 568.9h0M450.4 565.0h0M455.3 551.9h0M458.5 549.5h0M447.0 572.2h0M445.8 576.1h0M447.1 573.1h0M450.6 564.6h0M446.5 575.4h0M447.4 572.0h0M449.4 568.4h0M446.6 574.3h0M450.1 564.3h0M446.8 574.6h0M454.8 555.3h0M447.0 572.9h0M447.9 571.5h0M445.9 576.0h0M448.1 570.0h0M446.3 575.3h0M452.9 554.9h0M451.3 564.4h0M447.1 572.8h0M451.1 561.0h0M446.6 574.0h0M450.9 566.0h0M447.8 571.4h0M447.4 573.3h0M448.6 569.3h0M454.4 551.9h0M450.0 565.1h0M446.1 575.5h0M448.2 569.1h0M447.9 569.9h0M449.8 565.1h0M449.6 564.2h0M446.6 574.6h0M450.6 565.3h0M448.4 568.3h0M448.9 568.0h0M447.3 573.9h0M451.2 560.7h0M450.7 560.9h0M453.9 554.9h0M447.7 571.2h0M446.7 573.2h0M448.2 568.6h0M451.3 561.5h0M448.1 571.7h0M446.5 575.4h0M447.6 571.5h0M446.0 575.9h0M447.1 573.8h0M456.9 552.4h0M446.8 574.3h0M449.2 566.8h0M446.3 575.6h0M447.6 571.9h0M450.8 563.1h0M448.7 571.1h0M446.9 572.9h0M447.5 571.8h0M450.2 563.3h0M446.9 573.3h0M446.8 573.7h0M452.3 556.2h0M448.7 569.4h0M449.3 566.9h0M449.8 567.2h0M452.7 559.1h0M446.8 573.5h0M448.1 569.4h0M446.9 573.7h0M447.6 572.2h0M447.5 573.5h0M446.6 573.6h0M452.3 562.3h0M447.0 573.2h0M445.9 575.6h0M449.5 566.2h0M448.0 570.2h0M446.2 574.7h0M446.0 575.8h0M447.5 571.0h0M446.0 575.8h0M454.6 549.6h0M454.1 558.8h0M446.5 574.5h0M448.0 570.2h0M460.5 539.0h0M453.2 553.6h0M448.7 569.5h0M450.1 568.5h0M447.3 572.2h0M446.2 575.0h0M449.4 566.7h0M448.1 569.5h0M446.5 574.1h0M453.1 560.4h0M449.1 567.5h0M446.2 575.3h0M446.8 573.3h0M448.9 569.4h0M447.4 571.8h0M448.1 572.3h0M447.7 572.5h0M446.5 574.1h0M447.0 574.4h0M453.0 558.1h0M449.5 568.4h0M454.8 558.2h0M451.6 559.5h0M452.1 559.9h0M455.0 553.1h0M453.6 559.4h0M447.4 571.8h0M449.7 565.3h0M446.3 574.7h0M449.2 567.9h0M446.7 574.0h0M449.0 565.7h0M451.9 557.2h0M452.2 558.3h0M446.5 574.9h0M447.1 572.3h0M446.9 572.6h0M446.7 573.3h0M448.0 569.5h0M448.5 569.4h0M450.8 565.3h0M446.2 575.3h0M446.3 575.6h0M448.9 567.2h0M448.8 566.9h0M448.4 569.0h0M448.9 569.6h0M451.8 560.4h0M447.6 572.0h0M446.5 574.4h0M446.8 572.7h0M446.7 574.3h0M454.3 550.4h0M448.9 567.4h0M454.1 554.3h0M454.1 555.8h0M457.4 542.0h0M452.5 562.3h0M446.5 574.5h0M447.2 571.7h0M449.2 566.8h0M448.7 568.0h0M446.5 574.5h0M447.1 571.5h0M450.2 565.7h0M446.8 573.7h0M452.0 559.3h0M447.0 573.0h0M450.0 562.5h0M452.2 559.1h0M450.0 563.2h0M447.6 571.4h0M446.3 575.3h0M449.0 568.4h0M453.2 553.3h0M447.3 572.2h0M446.9 573.8h0M448.7 569.9h0M447.3 573.2h0M446.6 573.7h0M445.9 576.0h0M449.3 569.3h0M449.7 567.2h0M447.4 572.2h0M449.8 564.5h0M447.5 572.1h0M453.2 555.2h0M450.0 566.4h0M454.4 553.0h0M446.6 575.2h0M447.3 572.8h0M446.9 573.2h0M446.9 573.2h0M450.3 564.8h0M446.1 575.6h0M451.2 564.4h0M447.0 573.6h0M446.5 575.1h0M450.1 565.5h0M457.1 546.0h0M447.2 573.0h0M446.8 574.7h0M451.9 557.2h0M450.1 564.8h0M446.6 574.7h0M447.0 574.1h0M448.3 569.0h0M446.1 575.4h0M446.1 575.0h0M451.1 561.1h0M452.7 555.0h0M447.6 571.8h0M448.9 568.4h0M446.4 574.9h0M448.8 570.2h0M453.0 556.6h0M447.6 570.7h0M452.9 559.0h0M446.8 574.0h0M448.0 570.0h0M448.1 570.3h0M453.2 556.0h0M447.1 573.0h0M457.3 550.4h0M447.6 571.0h0M448.2 569.5h0M448.2 569.4h0M447.1 572.0h0M446.5 574.5h0M446.5 574.7h0M447.3 573.4h0M446.5 575.6h0M449.8 566.9h0M450.7 561.2h0M449.5 565.0h0M456.9 548.6h0M447.7 572.0h0M447.9 571.1h0M447.2 572.8h0M447.4 571.0h0M450.5 561.3h0M446.4 574.6h0M447.9 570.0h0M447.3 571.2h0M449.3 565.8h0M447.7 573.0h0M450.6 561.2h0M453.0 558.0h0M452.4 558.8h0M453.5 554.2h0M452.9 557.8h0M451.3 565.5h0M446.6 573.8h0M446.1 575.6h0M446.7 573.2h0M446.6 574.6h0M452.2 560.1h0M447.3 572.5h0M448.7 570.3h0M453.4 555.0h0M457.6 542.4h0M450.2 565.3h0M446.0 575.9h0M459.4 540.4h0M446.4 574.4h0M450.1 563.4h0M449.0 568.4h0M453.7 556.3h0M449.2 567.4h0M449.0 565.7h0M449.3 568.5h0M447.0 573.8h0M447.3 572.7h0M459.3 542.8h0M457.5 548.6h0M445.9 575.8h0M446.0 576.0h0M451.7 564.4h0M452.2 556.5h0M446.9 573.6h0M446.8 573.1h0M447.2 572.6h0M452.0 561.1h0M448.4 569.0h0M447.0 575.9h0M454.4 557.7h0M450.9 562.9h0M452.6 559.5h0M447.9 571.3h0M446.5 574.3h0M448.4 569.5h0M459.1 544.4h0M454.0 556.6h0M452.8 558.6h0M451.9 558.7h0M452.5 558.8h0M446.1 575.1h0M449.5 564.8h0" stroke="#1e1e1e" stroke-width="1.35" stroke-linecap="round" stroke-opacity="0.85" fill="none"/>
<rect x="384.95" y="486.1" width="1.7" height="91.40000000000002" fill="#000"/>
<rect x="384.95" y="575.9000000000001" width="123.74999999999997" height="1.6" fill="#000"/>
<line x1="382.40000000000003" y1="576.7" x2="385.8" y2="576.7" stroke="#000" stroke-width="1.1"/>
<text x="379.40000000000003" y="579.2" font-size="7.2" text-anchor="end" fill="#222" stroke="#222" style="stroke-width:0.12px">0</text>
<line x1="382.40000000000003" y1="559.1" x2="385.8" y2="559.1" stroke="#000" stroke-width="1.1"/>
<text x="379.40000000000003" y="561.6" font-size="7.2" text-anchor="end" fill="#222" stroke="#222" style="stroke-width:0.12px">1</text>
<line x1="382.40000000000003" y1="541.5" x2="385.8" y2="541.5" stroke="#000" stroke-width="1.1"/>
<text x="379.40000000000003" y="544.0" font-size="7.2" text-anchor="end" fill="#222" stroke="#222" style="stroke-width:0.12px">2</text>
<line x1="382.40000000000003" y1="523.9000000000001" x2="385.8" y2="523.9000000000001" stroke="#000" stroke-width="1.1"/>
<text x="379.40000000000003" y="526.4000000000001" font-size="7.2" text-anchor="end" fill="#222" stroke="#222" style="stroke-width:0.12px">3</text>
<line x1="382.40000000000003" y1="506.30000000000007" x2="385.8" y2="506.30000000000007" stroke="#000" stroke-width="1.1"/>
<text x="379.40000000000003" y="508.80000000000007" font-size="7.2" text-anchor="end" fill="#222" stroke="#222" style="stroke-width:0.12px">4</text>
<line x1="382.40000000000003" y1="488.70000000000005" x2="385.8" y2="488.70000000000005" stroke="#000" stroke-width="1.1"/>
<text x="379.40000000000003" y="491.20000000000005" font-size="7.2" text-anchor="end" fill="#222" stroke="#222" style="stroke-width:0.12px">5</text>
<line x1="384.0" y1="567.9000000000001" x2="385.8" y2="567.9000000000001" stroke="#000" stroke-width="1.0"/>
<line x1="384.0" y1="550.3000000000001" x2="385.8" y2="550.3000000000001" stroke="#000" stroke-width="1.0"/>
<line x1="384.0" y1="532.7" x2="385.8" y2="532.7" stroke="#000" stroke-width="1.0"/>
<line x1="384.0" y1="515.1" x2="385.8" y2="515.1" stroke="#000" stroke-width="1.0"/>
<line x1="384.0" y1="497.50000000000006" x2="385.8" y2="497.50000000000006" stroke="#000" stroke-width="1.0"/>
<line x1="394.5" y1="576.7" x2="394.5" y2="579.1" stroke="#000" stroke-width="1.1"/>
<text x="394.2" y="589.0" font-size="7" text-anchor="middle" fill="#222" stroke="#222" style="stroke-width:0.12px">-3</text>
<line x1="411.5" y1="576.7" x2="411.5" y2="579.1" stroke="#000" stroke-width="1.1"/>
<text x="411.2" y="589.0" font-size="7" text-anchor="middle" fill="#222" stroke="#222" style="stroke-width:0.12px">-2</text>
<line x1="428.5" y1="576.7" x2="428.5" y2="579.1" stroke="#000" stroke-width="1.1"/>
<text x="428.2" y="589.0" font-size="7" text-anchor="middle" fill="#222" stroke="#222" style="stroke-width:0.12px">-1</text>
<line x1="445.5" y1="576.7" x2="445.5" y2="579.1" stroke="#000" stroke-width="1.1"/>
<text x="445.5" y="589.0" font-size="7" text-anchor="middle" fill="#222" stroke="#222" style="stroke-width:0.12px">0</text>
<line x1="462.5" y1="576.7" x2="462.5" y2="579.1" stroke="#000" stroke-width="1.1"/>
<text x="462.5" y="589.0" font-size="7" text-anchor="middle" fill="#222" stroke="#222" style="stroke-width:0.12px">1</text>
<line x1="479.5" y1="576.7" x2="479.5" y2="579.1" stroke="#000" stroke-width="1.1"/>
<text x="479.5" y="589.0" font-size="7" text-anchor="middle" fill="#222" stroke="#222" style="stroke-width:0.12px">2</text>
<line x1="496.5" y1="576.7" x2="496.5" y2="579.1" stroke="#000" stroke-width="1.1"/>
<text x="496.5" y="589.0" font-size="7" text-anchor="middle" fill="#222" stroke="#222" style="stroke-width:0.12px">3</text>
<line x1="403.0" y1="576.7" x2="403.0" y2="578.3000000000001" stroke="#000" stroke-width="1.0"/>
<line x1="420.0" y1="576.7" x2="420.0" y2="578.3000000000001" stroke="#000" stroke-width="1.0"/>
<line x1="437.0" y1="576.7" x2="437.0" y2="578.3000000000001" stroke="#000" stroke-width="1.0"/>
<line x1="454.0" y1="576.7" x2="454.0" y2="578.3000000000001" stroke="#000" stroke-width="1.0"/>
<line x1="471.0" y1="576.7" x2="471.0" y2="578.3000000000001" stroke="#000" stroke-width="1.0"/>
<line x1="488.0" y1="576.7" x2="488.0" y2="578.3000000000001" stroke="#000" stroke-width="1.0"/>
<line x1="505.0" y1="576.7" x2="505.0" y2="578.3000000000001" stroke="#000" stroke-width="1.0"/>
<text x="420" y="601.8000000000001" font-size="9.2" textLength="53.7" lengthAdjust="spacingAndGlyphs" fill="#222" stroke="#222" style="stroke-width:0.25px">Log2 fold change</text>
<text x="0" y="0" font-size="8.3" textLength="45" lengthAdjust="spacingAndGlyphs" fill="#222" stroke="#222" transform="translate(370.2,554.5) rotate(-90)" style="stroke-width:0.35px">-log10 p.value</text>
<path d="M407.6 470L410.0 475.6L408.25 475.20000000000005L408.25 482L406.95000000000005 482L406.95000000000005 475.20000000000005L405.20000000000005 475.6Z" fill="#111"/>
<text x="410.8" y="479.8" font-size="8.2" textLength="25.5" lengthAdjust="spacingAndGlyphs" fill="#1a1a1a" stroke="#1a1a1a" style="stroke-width:0.12px">M-CLL</text>
<text x="446" y="479.8" font-size="8.2" textLength="32" lengthAdjust="spacingAndGlyphs" fill="#1a1a1a" stroke="#1a1a1a" style="stroke-width:0.12px">UM-CLL</text>
<path d="M481.3 470L483.7 475.6L481.95 475.20000000000005L481.95 482L480.65000000000003 482L480.65000000000003 475.20000000000005L478.90000000000003 475.6Z" fill="#111"/>
<text x="439.5" y="498.7" font-size="8.8" textLength="71.3" lengthAdjust="spacingAndGlyphs" stroke="#111" style="stroke-width:0.1px">Ibr. +BCR vs. BCR</text>
</svg></body></html>
